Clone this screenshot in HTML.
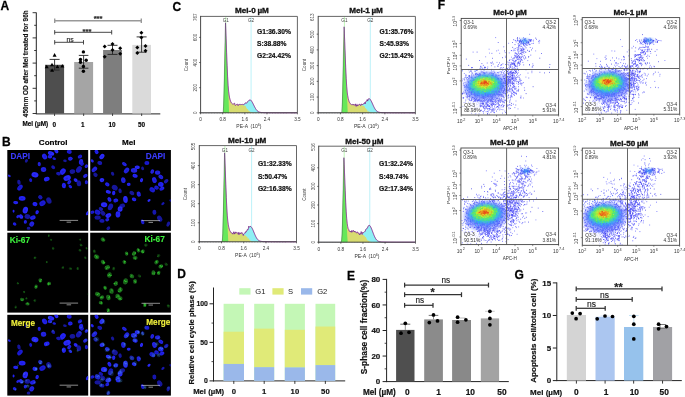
<!DOCTYPE html>
<html><head><meta charset="utf-8"><style>
html,body{margin:0;padding:0;background:#fff;}
body{width:685px;height:397px;overflow:hidden;}
svg{display:block;filter:blur(0.35px);}
svg text{font-family:"Liberation Sans", sans-serif;}
</style></head><body>
<svg width="685" height="397" viewBox="0 0 685 397">
<defs><filter id="bl" x="-50%" y="-50%" width="200%" height="200%"><feGaussianBlur stdDeviation="0.7"/></filter>
<filter id="bf" x="-50%" y="-50%" width="200%" height="200%"><feGaussianBlur stdDeviation="1.6"/></filter>
<filter id="bl3" x="-50%" y="-50%" width="200%" height="200%"><feGaussianBlur stdDeviation="0.35"/></filter>
<filter id="bl2" x="-50%" y="-50%" width="200%" height="200%"><feGaussianBlur stdDeviation="0.8"/></filter>
<clipPath id="c00"><rect x="7.3" y="150" width="80.9" height="80.8"/></clipPath>
<clipPath id="c01"><rect x="90.2" y="150" width="80.7" height="80.8"/></clipPath>
<clipPath id="c10"><rect x="7.3" y="232.7" width="80.9" height="79.9"/></clipPath>
<clipPath id="c11"><rect x="90.2" y="232.7" width="80.7" height="79.9"/></clipPath>
<clipPath id="c20"><rect x="7.3" y="314.8" width="80.9" height="80.8"/></clipPath>
<clipPath id="c21"><rect x="90.2" y="314.8" width="80.7" height="80.8"/></clipPath>
<clipPath id="fc11"><rect x="461.2" y="18.4" width="97.4" height="96.6"/></clipPath>
<clipPath id="fc12"><rect x="582.2" y="17.6" width="97.5" height="96.6"/></clipPath>
<clipPath id="fc13"><rect x="460.9" y="148" width="97.7" height="96.6"/></clipPath>
<clipPath id="fc14"><rect x="582.3" y="148.1" width="97.3" height="97.2"/></clipPath></defs>
<rect x="0" y="0" width="685" height="397" fill="#fff"/>
<text x="0.4" y="10.3" font-size="12" font-weight="bold" fill="#000" stroke="#000" stroke-width="0.26">A</text>
<text x="1.9" y="145.7" font-size="12" font-weight="bold" fill="#000" stroke="#000" stroke-width="0.26">B</text>
<text x="172.4" y="10.5" font-size="12" font-weight="bold" fill="#000" stroke="#000" stroke-width="0.26">C</text>
<text x="177.2" y="278.1" font-size="12" font-weight="bold" fill="#000" stroke="#000" stroke-width="0.26">D</text>
<text x="346.9" y="279.7" font-size="12" font-weight="bold" fill="#000" stroke="#000" stroke-width="0.26">E</text>
<text x="437.8" y="8.9" font-size="12" font-weight="bold" fill="#000" stroke="#000" stroke-width="0.26">F</text>
<text x="514.4" y="279.2" font-size="12" font-weight="bold" fill="#000" stroke="#000" stroke-width="0.26">G</text>
<line x1="36.3" y1="12.5" x2="36.3" y2="114" stroke="#222" stroke-width="1"/>
<line x1="32.6" y1="12.7" x2="36.3" y2="12.7" stroke="#222" stroke-width="0.9"/>
<line x1="32.6" y1="37.9" x2="36.3" y2="37.9" stroke="#222" stroke-width="0.9"/>
<line x1="32.6" y1="63.1" x2="36.3" y2="63.1" stroke="#222" stroke-width="0.9"/>
<line x1="32.6" y1="88.3" x2="36.3" y2="88.3" stroke="#222" stroke-width="0.9"/>
<line x1="32.6" y1="113.5" x2="36.3" y2="113.5" stroke="#222" stroke-width="0.9"/>
<line x1="34.2" y1="25.3" x2="36.3" y2="25.3" stroke="#222" stroke-width="0.9"/>
<line x1="34.2" y1="50.5" x2="36.3" y2="50.5" stroke="#222" stroke-width="0.9"/>
<line x1="34.2" y1="75.7" x2="36.3" y2="75.7" stroke="#222" stroke-width="0.9"/>
<line x1="34.2" y1="100.9" x2="36.3" y2="100.9" stroke="#222" stroke-width="0.9"/>
<line x1="35.8" y1="113.9" x2="160.3" y2="113.9" stroke="#222" stroke-width="1"/>
<rect x="45" y="64.8" width="19.1" height="48.7" fill="#4e4e4e"/>
<line x1="54.55" y1="113.5" x2="54.55" y2="116" stroke="#222" stroke-width="0.8"/>
<rect x="74.2" y="62" width="18.9" height="51.5" fill="#a5a5a5"/>
<line x1="83.65" y1="113.5" x2="83.65" y2="116" stroke="#222" stroke-width="0.8"/>
<rect x="103.1" y="50" width="18.9" height="63.5" fill="#7e7e7e"/>
<line x1="112.55" y1="113.5" x2="112.55" y2="116" stroke="#222" stroke-width="0.8"/>
<rect x="132.3" y="44.9" width="18.7" height="68.6" fill="#dadada"/>
<line x1="141.65" y1="113.5" x2="141.65" y2="116" stroke="#222" stroke-width="0.8"/>
<line x1="54.6" y1="59.4" x2="54.6" y2="70" stroke="#222" stroke-width="0.9"/>
<line x1="49.6" y1="59.4" x2="59.6" y2="59.4" stroke="#222" stroke-width="0.9"/>
<line x1="49.6" y1="70" x2="59.6" y2="70" stroke="#222" stroke-width="0.9"/>
<line x1="83.6" y1="55.4" x2="83.6" y2="68.2" stroke="#222" stroke-width="0.9"/>
<line x1="78.8" y1="55.4" x2="88.4" y2="55.4" stroke="#222" stroke-width="0.9"/>
<line x1="78.8" y1="68.2" x2="88.4" y2="68.2" stroke="#222" stroke-width="0.9"/>
<line x1="112.5" y1="45.3" x2="112.5" y2="54.4" stroke="#222" stroke-width="0.9"/>
<line x1="107.5" y1="45.3" x2="117.5" y2="45.3" stroke="#222" stroke-width="0.9"/>
<line x1="107.5" y1="54.4" x2="117.5" y2="54.4" stroke="#222" stroke-width="0.9"/>
<line x1="141.6" y1="36.9" x2="141.6" y2="52.2" stroke="#222" stroke-width="0.9"/>
<line x1="136.6" y1="36.9" x2="146.6" y2="36.9" stroke="#222" stroke-width="0.9"/>
<line x1="136.6" y1="52.2" x2="146.6" y2="52.2" stroke="#222" stroke-width="0.9"/>
<path d="M54.6 53.1L56.6 56.7L52.6 56.7Z" fill="#000" stroke="none" stroke-width="1"/>
<path d="M52 62.7L54 66.3L50 66.3Z" fill="#000" stroke="none" stroke-width="1"/>
<path d="M46.7 64.7L48.7 68.3L44.7 68.3Z" fill="#000" stroke="none" stroke-width="1"/>
<path d="M57.4 64.7L59.4 68.3L55.4 68.3Z" fill="#000" stroke="none" stroke-width="1"/>
<path d="M62.3 64L64.3 67.6L60.3 67.6Z" fill="#000" stroke="none" stroke-width="1"/>
<path d="M52.1 68.2L54.1 71.8L50.1 71.8Z" fill="#000" stroke="none" stroke-width="1"/>
<circle cx="83.4" cy="51.9" r="1.7" fill="#000"/>
<circle cx="80.5" cy="59.5" r="1.7" fill="#000"/>
<circle cx="86.2" cy="60.2" r="1.7" fill="#000"/>
<circle cx="80.5" cy="62.3" r="1.7" fill="#000"/>
<circle cx="83.4" cy="66.5" r="1.7" fill="#000"/>
<circle cx="83.4" cy="71.2" r="1.7" fill="#000"/>
<path d="M112.5 42.1L114.5 44.1L112.5 46.1L110.5 44.1Z" fill="#000" stroke="none" stroke-width="1"/>
<path d="M104.7 44.6L106.7 46.6L104.7 48.6L102.7 46.6Z" fill="#000" stroke="none" stroke-width="1"/>
<path d="M120.2 46.3L122.2 48.3L120.2 50.3L118.2 48.3Z" fill="#000" stroke="none" stroke-width="1"/>
<path d="M112.5 48L114.5 50L112.5 52L110.5 50Z" fill="#000" stroke="none" stroke-width="1"/>
<path d="M120.2 51.7L122.2 53.7L120.2 55.7L118.2 53.7Z" fill="#000" stroke="none" stroke-width="1"/>
<path d="M104.7 54.7L106.7 56.7L104.7 58.7L102.7 56.7Z" fill="#000" stroke="none" stroke-width="1"/>
<path d="M141.4 30.8L143.4 32.8L141.4 34.8L139.4 32.8Z" fill="#000" stroke="none" stroke-width="1"/>
<path d="M141.4 35.6L143.4 37.6L141.4 39.6L139.4 37.6Z" fill="#000" stroke="none" stroke-width="1"/>
<path d="M137.3 45.6L139.3 47.6L137.3 49.6L135.3 47.6Z" fill="#000" stroke="none" stroke-width="1"/>
<path d="M145.5 43.9L147.5 45.9L145.5 47.9L143.5 45.9Z" fill="#000" stroke="none" stroke-width="1"/>
<path d="M145.5 48.7L147.5 50.7L145.5 52.7L143.5 50.7Z" fill="#000" stroke="none" stroke-width="1"/>
<path d="M137.3 51L139.3 53L137.3 55L135.3 53Z" fill="#000" stroke="none" stroke-width="1"/>
<line x1="54.7" y1="42.3" x2="83.5" y2="42.3" stroke="#333" stroke-width="0.9"/>
<line x1="54.7" y1="40.1" x2="54.7" y2="44.5" stroke="#333" stroke-width="0.9"/>
<line x1="83.5" y1="40.1" x2="83.5" y2="44.5" stroke="#333" stroke-width="0.9"/>
<text x="70.2" y="41.6" font-size="6.8" text-anchor="middle" fill="#222" stroke="#222" stroke-width="0.15">ns</text>
<line x1="54.7" y1="32.3" x2="111.7" y2="32.3" stroke="#333" stroke-width="0.9"/>
<line x1="54.7" y1="30.1" x2="54.7" y2="34.5" stroke="#333" stroke-width="0.9"/>
<line x1="111.7" y1="30.1" x2="111.7" y2="34.5" stroke="#333" stroke-width="0.9"/>
<text x="87" y="33.6" font-size="7.5" font-weight="bold" text-anchor="middle" fill="#222" stroke="#222" stroke-width="0.16">***</text>
<line x1="54.7" y1="20.8" x2="141.3" y2="20.8" stroke="#999" stroke-width="1.4"/>
<line x1="54.7" y1="18.6" x2="54.7" y2="23" stroke="#999" stroke-width="1.4"/>
<line x1="141.3" y1="18.6" x2="141.3" y2="23" stroke="#999" stroke-width="1.4"/>
<text x="98.1" y="20.8" font-size="7.5" font-weight="bold" text-anchor="middle" fill="#222" stroke="#222" stroke-width="0.16">***</text>
<text x="22.4" y="126.4" font-size="6.4" font-weight="bold" fill="#000" stroke="#000" stroke-width="0.14">Mel (µM)</text>
<text x="54.4" y="126.6" font-size="6.4" font-weight="bold" text-anchor="middle" fill="#000" stroke="#000" stroke-width="0.14">0</text>
<text x="82.7" y="126.6" font-size="6.4" font-weight="bold" text-anchor="middle" fill="#000" stroke="#000" stroke-width="0.14">1</text>
<text x="112.1" y="126.6" font-size="6.4" font-weight="bold" text-anchor="middle" fill="#000" stroke="#000" stroke-width="0.14">10</text>
<text x="141.6" y="126.6" font-size="6.4" font-weight="bold" text-anchor="middle" fill="#000" stroke="#000" stroke-width="0.14">50</text>
<text x="27.6" y="63.75" font-size="6.46" font-weight="bold" text-anchor="middle" fill="#111" transform="rotate(-90 27.6 63.75)" stroke="#111" stroke-width="0.14">450nm OD after Mel treated for 96h</text>
<text x="38.8" y="144.7" font-size="8.1" font-weight="bold" fill="#000" stroke="#000" stroke-width="0.18">Control</text>
<text x="121.9" y="144.8" font-size="8.1" font-weight="bold" fill="#000" stroke="#000" stroke-width="0.18">Mel</text>
<rect x="7.3" y="150" width="80.9" height="80.8" fill="#000"/>
<rect x="90.2" y="150" width="80.7" height="80.8" fill="#000"/>
<rect x="7.3" y="232.7" width="80.9" height="79.9" fill="#000"/>
<rect x="90.2" y="232.7" width="80.7" height="79.9" fill="#000"/>
<rect x="7.3" y="314.8" width="80.9" height="80.8" fill="#000"/>
<rect x="90.2" y="314.8" width="80.7" height="80.8" fill="#000"/>
<g clip-path="url(#c00)" filter="url(#bl)"><ellipse cx="44.61" cy="156.57" rx="3.03" ry="2.35" fill="#2020e8" transform="rotate(56 44.61 156.57)"/><ellipse cx="44.86" cy="156.09" rx="1.06" ry="0.7" fill="#10109a" opacity="0.3" transform="rotate(56 44.61 156.57)"/><ellipse cx="51.04" cy="153.35" rx="3.27" ry="2.06" fill="#2a2afa" transform="rotate(21 51.04 153.35)"/><ellipse cx="50.6" cy="153.22" rx="1.15" ry="0.62" fill="#10109a" opacity="0.3" transform="rotate(21 51.04 153.35)"/><ellipse cx="56.39" cy="151.21" rx="2.37" ry="1.8" fill="#2a2afa" transform="rotate(51 56.39 151.21)"/><ellipse cx="56.28" cy="151.53" rx="0.83" ry="0.54" fill="#10109a" opacity="0.3" transform="rotate(51 56.39 151.21)"/><ellipse cx="69.24" cy="151.85" rx="2.54" ry="2.03" fill="#1a1ad0" transform="rotate(10 69.24 151.85)"/><ellipse cx="69.25" cy="151.53" rx="0.89" ry="0.61" fill="#10109a" opacity="0.3" transform="rotate(10 69.24 151.85)"/><ellipse cx="70.31" cy="158.71" rx="2.34" ry="2.04" fill="#2020e8" transform="rotate(171 70.31 158.71)"/><ellipse cx="70.07" cy="158.86" rx="0.82" ry="0.61" fill="#10109a" opacity="0.3" transform="rotate(171 70.31 158.71)"/><ellipse cx="79.95" cy="156.57" rx="2.35" ry="1.78" fill="#1a1ad0" transform="rotate(152 79.95 156.57)"/><ellipse cx="79.91" cy="156.69" rx="0.82" ry="0.54" fill="#10109a" opacity="0.3" transform="rotate(152 79.95 156.57)"/><ellipse cx="81.02" cy="161.92" rx="2.95" ry="2.18" fill="#2020e8" transform="rotate(94 81.02 161.92)"/><ellipse cx="81.37" cy="162.18" rx="1.03" ry="0.65" fill="#10109a" opacity="0.3" transform="rotate(94 81.02 161.92)"/><ellipse cx="86.37" cy="166.2" rx="1.91" ry="1.57" fill="#2222e0" transform="rotate(131 86.37 166.2)"/><ellipse cx="86.63" cy="165.98" rx="0.67" ry="0.47" fill="#10109a" opacity="0.3" transform="rotate(131 86.37 166.2)"/><ellipse cx="78.88" cy="169.41" rx="3.53" ry="2.51" fill="#1818b0" transform="rotate(127 78.88 169.41)"/><ellipse cx="78.57" cy="169.56" rx="1.24" ry="0.75" fill="#10109a" opacity="0.3" transform="rotate(127 78.88 169.41)"/><ellipse cx="72.45" cy="171.55" rx="2.84" ry="2.3" fill="#16169a" transform="rotate(166 72.45 171.55)"/><ellipse cx="72.57" cy="171.16" rx="0.99" ry="0.69" fill="#10109a" opacity="0.3" transform="rotate(166 72.45 171.55)"/><ellipse cx="62.82" cy="171.55" rx="3.41" ry="2.64" fill="#2424f4" transform="rotate(125 62.82 171.55)"/><ellipse cx="62.97" cy="171.49" rx="1.19" ry="0.79" fill="#10109a" opacity="0.3" transform="rotate(125 62.82 171.55)"/><ellipse cx="67.1" cy="177.98" rx="3.82" ry="2.74" fill="#2a2afa" transform="rotate(160 67.1 177.98)"/><ellipse cx="67.46" cy="177.55" rx="1.34" ry="0.82" fill="#10109a" opacity="0.3" transform="rotate(160 67.1 177.98)"/><ellipse cx="69.24" cy="182.26" rx="2.38" ry="1.66" fill="#2222e0" transform="rotate(130 69.24 182.26)"/><ellipse cx="69.04" cy="182.15" rx="0.83" ry="0.5" fill="#10109a" opacity="0.3" transform="rotate(130 69.24 182.26)"/><ellipse cx="78.88" cy="183.33" rx="2.97" ry="2.28" fill="#16169a" transform="rotate(83 78.88 183.33)"/><ellipse cx="78.38" cy="183.01" rx="1.04" ry="0.69" fill="#10109a" opacity="0.3" transform="rotate(83 78.88 183.33)"/><ellipse cx="63.89" cy="185.47" rx="2.67" ry="2.11" fill="#2424f4" transform="rotate(89 63.89 185.47)"/><ellipse cx="63.68" cy="185.54" rx="0.94" ry="0.63" fill="#10109a" opacity="0.3" transform="rotate(89 63.89 185.47)"/><ellipse cx="70.31" cy="186.54" rx="2.01" ry="1.38" fill="#2020e8" transform="rotate(38 70.31 186.54)"/><ellipse cx="70.41" cy="186.43" rx="0.7" ry="0.41" fill="#10109a" opacity="0.3" transform="rotate(38 70.31 186.54)"/><ellipse cx="85.3" cy="175.84" rx="2.43" ry="1.7" fill="#2222e0" transform="rotate(147 85.3 175.84)"/><ellipse cx="85.13" cy="175.89" rx="0.85" ry="0.51" fill="#10109a" opacity="0.3" transform="rotate(147 85.3 175.84)"/><ellipse cx="43.54" cy="169.41" rx="2.75" ry="2.48" fill="#2222e0" transform="rotate(175 43.54 169.41)"/><ellipse cx="43.22" cy="169.2" rx="0.96" ry="0.74" fill="#10109a" opacity="0.3" transform="rotate(175 43.54 169.41)"/><ellipse cx="34.98" cy="174.77" rx="3.56" ry="2.64" fill="#2a2afa" transform="rotate(17 34.98 174.77)"/><ellipse cx="34.64" cy="174.97" rx="1.25" ry="0.79" fill="#10109a" opacity="0.3" transform="rotate(17 34.98 174.77)"/><ellipse cx="46.76" cy="179.05" rx="2.92" ry="2.16" fill="#2424f4" transform="rotate(158 46.76 179.05)"/><ellipse cx="46.3" cy="178.66" rx="1.02" ry="0.65" fill="#10109a" opacity="0.3" transform="rotate(158 46.76 179.05)"/><ellipse cx="53.18" cy="167.27" rx="2.15" ry="1.65" fill="#1818b0" transform="rotate(39 53.18 167.27)"/><ellipse cx="53.53" cy="167.13" rx="0.75" ry="0.5" fill="#10109a" opacity="0.3" transform="rotate(39 53.18 167.27)"/><ellipse cx="39.26" cy="164.06" rx="2.12" ry="1.56" fill="#2222e0" transform="rotate(86 39.26 164.06)"/><ellipse cx="39.75" cy="164.28" rx="0.74" ry="0.47" fill="#10109a" opacity="0.3" transform="rotate(86 39.26 164.06)"/><ellipse cx="18.92" cy="182.26" rx="2.52" ry="1.7" fill="#16169a" transform="rotate(76 18.92 182.26)"/><ellipse cx="18.98" cy="182.2" rx="0.88" ry="0.51" fill="#10109a" opacity="0.3" transform="rotate(76 18.92 182.26)"/><ellipse cx="19.99" cy="187.61" rx="3.3" ry="2.22" fill="#1a1ad0" transform="rotate(131 19.99 187.61)"/><ellipse cx="19.99" cy="188.06" rx="1.15" ry="0.67" fill="#10109a" opacity="0.3" transform="rotate(131 19.99 187.61)"/><ellipse cx="22.13" cy="198.32" rx="3.44" ry="2.38" fill="#2424f4" transform="rotate(3 22.13 198.32)"/><ellipse cx="21.69" cy="198.38" rx="1.2" ry="0.71" fill="#10109a" opacity="0.3" transform="rotate(3 22.13 198.32)"/><ellipse cx="15.71" cy="202.6" rx="2.52" ry="1.65" fill="#2424f4" transform="rotate(6 15.71 202.6)"/><ellipse cx="15.31" cy="202.23" rx="0.88" ry="0.5" fill="#10109a" opacity="0.3" transform="rotate(6 15.71 202.6)"/><ellipse cx="40.33" cy="197.25" rx="2.39" ry="1.99" fill="#1818b0" transform="rotate(42 40.33 197.25)"/><ellipse cx="40.37" cy="197.6" rx="0.84" ry="0.6" fill="#10109a" opacity="0.3" transform="rotate(42 40.33 197.25)"/><ellipse cx="42.47" cy="203.25" rx="3.3" ry="2.52" fill="#1a1ad0" transform="rotate(149 42.47 203.25)"/><ellipse cx="42.7" cy="203.27" rx="1.15" ry="0.75" fill="#10109a" opacity="0.3" transform="rotate(149 42.47 203.25)"/><ellipse cx="48.9" cy="200.46" rx="3.37" ry="2.46" fill="#16169a" transform="rotate(66 48.9 200.46)"/><ellipse cx="48.71" cy="200.23" rx="1.18" ry="0.74" fill="#10109a" opacity="0.3" transform="rotate(66 48.9 200.46)"/><ellipse cx="34.98" cy="204.1" rx="2.53" ry="2.07" fill="#2424f4" transform="rotate(16 34.98 204.1)"/><ellipse cx="35.17" cy="204" rx="0.89" ry="0.62" fill="#10109a" opacity="0.3" transform="rotate(16 34.98 204.1)"/><ellipse cx="25.34" cy="210.1" rx="3.4" ry="2.63" fill="#2a2afa" transform="rotate(104 25.34 210.1)"/><ellipse cx="25.78" cy="210.25" rx="1.19" ry="0.79" fill="#10109a" opacity="0.3" transform="rotate(104 25.34 210.1)"/><ellipse cx="27.48" cy="216.52" rx="2.99" ry="2.4" fill="#16169a" transform="rotate(8 27.48 216.52)"/><ellipse cx="27.79" cy="216.69" rx="1.05" ry="0.72" fill="#10109a" opacity="0.3" transform="rotate(8 27.48 216.52)"/><ellipse cx="21.06" cy="216.52" rx="2.38" ry="1.9" fill="#2a2afa" transform="rotate(43 21.06 216.52)"/><ellipse cx="20.97" cy="216.34" rx="0.83" ry="0.57" fill="#10109a" opacity="0.3" transform="rotate(43 21.06 216.52)"/><ellipse cx="32.84" cy="217.59" rx="2.91" ry="2.06" fill="#2020e8" transform="rotate(156 32.84 217.59)"/><ellipse cx="32.68" cy="217.9" rx="1.02" ry="0.62" fill="#10109a" opacity="0.3" transform="rotate(156 32.84 217.59)"/><ellipse cx="31.77" cy="224.02" rx="2.76" ry="2.24" fill="#2222e0" transform="rotate(123 31.77 224.02)"/><ellipse cx="32.2" cy="223.78" rx="0.97" ry="0.67" fill="#10109a" opacity="0.3" transform="rotate(123 31.77 224.02)"/><ellipse cx="14.64" cy="224.02" rx="1.89" ry="1.57" fill="#2020e8" transform="rotate(35 14.64 224.02)"/><ellipse cx="15.01" cy="223.6" rx="0.66" ry="0.47" fill="#10109a" opacity="0.3" transform="rotate(35 14.64 224.02)"/><ellipse cx="25.34" cy="221.88" rx="1.92" ry="1.6" fill="#2020e8" transform="rotate(94 25.34 221.88)"/><ellipse cx="25.78" cy="221.5" rx="0.67" ry="0.48" fill="#10109a" opacity="0.3" transform="rotate(94 25.34 221.88)"/><ellipse cx="87.44" cy="213.31" rx="2.15" ry="1.32" fill="#2424f4" transform="rotate(120 87.44 213.31)"/><ellipse cx="87.56" cy="213.17" rx="0.75" ry="0.4" fill="#10109a" opacity="0.3" transform="rotate(120 87.44 213.31)"/><ellipse cx="13.57" cy="211.17" rx="1.48" ry="1" fill="#2424f4" transform="rotate(93 13.57 211.17)"/><ellipse cx="82.09" cy="164.06" rx="1.98" ry="1.56" fill="#1a1ad0" transform="rotate(143 82.09 164.06)"/><ellipse cx="82.12" cy="163.64" rx="0.69" ry="0.47" fill="#10109a" opacity="0.3" transform="rotate(143 82.09 164.06)"/><ellipse cx="49.97" cy="156.57" rx="2.19" ry="1.89" fill="#2020e8" transform="rotate(3 49.97 156.57)"/><ellipse cx="49.75" cy="156.19" rx="0.77" ry="0.57" fill="#10109a" opacity="0.3" transform="rotate(3 49.97 156.57)"/><ellipse cx="54.25" cy="158.71" rx="1.83" ry="1.24" fill="#1a1ad0" transform="rotate(17 54.25 158.71)"/><ellipse cx="75.66" cy="180.12" rx="2.13" ry="1.67" fill="#2a2afa" transform="rotate(36 75.66 180.12)"/><ellipse cx="75.28" cy="180.54" rx="0.75" ry="0.5" fill="#10109a" opacity="0.3" transform="rotate(36 75.66 180.12)"/><ellipse cx="58.53" cy="173.7" rx="2.45" ry="1.71" fill="#1818b0" transform="rotate(9 58.53 173.7)"/><ellipse cx="58.79" cy="173.74" rx="0.86" ry="0.51" fill="#10109a" opacity="0.3" transform="rotate(9 58.53 173.7)"/><ellipse cx="30.7" cy="180.12" rx="1.97" ry="1.46" fill="#1a1ad0" transform="rotate(77 30.7 180.12)"/><ellipse cx="30.66" cy="179.9" rx="0.69" ry="0.44" fill="#10109a" opacity="0.3" transform="rotate(77 30.7 180.12)"/><ellipse cx="26.41" cy="160.85" rx="1.79" ry="1.45" fill="#16169a" transform="rotate(121 26.41 160.85)"/><ellipse cx="9.28" cy="175.84" rx="1.61" ry="1.08" fill="#2222e0" transform="rotate(32 9.28 175.84)"/><ellipse cx="37.12" cy="212.24" rx="2.12" ry="1.65" fill="#2424f4" transform="rotate(112 37.12 212.24)"/><ellipse cx="36.93" cy="211.99" rx="0.74" ry="0.49" fill="#10109a" opacity="0.3" transform="rotate(112 37.12 212.24)"/><ellipse cx="17.85" cy="216.52" rx="1.82" ry="1.29" fill="#2222e0" transform="rotate(135 17.85 216.52)"/><ellipse cx="28.55" cy="228.3" rx="1.85" ry="1.49" fill="#16169a" transform="rotate(176 28.55 228.3)"/><ellipse cx="28.44" cy="228.56" rx="0.65" ry="0.45" fill="#10109a" opacity="0.3" transform="rotate(176 28.55 228.3)"/><ellipse cx="86.37" cy="182.26" rx="2.08" ry="1.57" fill="#1a1ad0" transform="rotate(85 86.37 182.26)"/><ellipse cx="86.63" cy="182.1" rx="0.73" ry="0.47" fill="#10109a" opacity="0.3" transform="rotate(85 86.37 182.26)"/><ellipse cx="64.96" cy="160.85" rx="1.85" ry="1.26" fill="#16169a" transform="rotate(8 64.96 160.85)"/></g>
<g clip-path="url(#c01)" filter="url(#bl)"><ellipse cx="96.57" cy="151.85" rx="2.39" ry="1.83" fill="#2020e8" transform="rotate(54 96.57 151.85)"/><ellipse cx="96.3" cy="152.12" rx="0.83" ry="0.55" fill="#10109a" opacity="0.3" transform="rotate(54 96.57 151.85)"/><ellipse cx="101.92" cy="156.57" rx="2.91" ry="2.19" fill="#2a2afa" transform="rotate(131 101.92 156.57)"/><ellipse cx="101.91" cy="156.53" rx="1.02" ry="0.66" fill="#10109a" opacity="0.3" transform="rotate(131 101.92 156.57)"/><ellipse cx="99.78" cy="162.99" rx="2.49" ry="1.98" fill="#1818b0" transform="rotate(16 99.78 162.99)"/><ellipse cx="99.95" cy="163.23" rx="0.87" ry="0.59" fill="#10109a" opacity="0.3" transform="rotate(16 99.78 162.99)"/><ellipse cx="94.42" cy="169.41" rx="3.22" ry="2.06" fill="#2222e0" transform="rotate(135 94.42 169.41)"/><ellipse cx="94.58" cy="168.98" rx="1.13" ry="0.62" fill="#10109a" opacity="0.3" transform="rotate(135 94.42 169.41)"/><ellipse cx="95.49" cy="174.77" rx="2.29" ry="1.93" fill="#16169a" transform="rotate(33 95.49 174.77)"/><ellipse cx="95.04" cy="174.97" rx="0.8" ry="0.58" fill="#10109a" opacity="0.3" transform="rotate(33 95.49 174.77)"/><ellipse cx="124.4" cy="164.06" rx="2.62" ry="1.7" fill="#2222e0" transform="rotate(34 124.4 164.06)"/><ellipse cx="123.95" cy="164.04" rx="0.92" ry="0.51" fill="#10109a" opacity="0.3" transform="rotate(34 124.4 164.06)"/><ellipse cx="126.54" cy="170.48" rx="3.21" ry="2.19" fill="#2222e0" transform="rotate(132 126.54 170.48)"/><ellipse cx="126.64" cy="170.19" rx="1.13" ry="0.66" fill="#10109a" opacity="0.3" transform="rotate(132 126.54 170.48)"/><ellipse cx="134.04" cy="170.48" rx="3.19" ry="2.37" fill="#2222e0" transform="rotate(2 134.04 170.48)"/><ellipse cx="133.54" cy="170.89" rx="1.12" ry="0.71" fill="#10109a" opacity="0.3" transform="rotate(2 134.04 170.48)"/><ellipse cx="137.25" cy="167.27" rx="2.6" ry="1.84" fill="#2a2afa" transform="rotate(4 137.25 167.27)"/><ellipse cx="137.02" cy="167.06" rx="0.91" ry="0.55" fill="#10109a" opacity="0.3" transform="rotate(4 137.25 167.27)"/><ellipse cx="142.6" cy="168.34" rx="1.84" ry="1.42" fill="#16169a" transform="rotate(64 142.6 168.34)"/><ellipse cx="142.61" cy="167.87" rx="0.64" ry="0.43" fill="#10109a" opacity="0.3" transform="rotate(64 142.6 168.34)"/><ellipse cx="146.89" cy="162.99" rx="2.52" ry="2.04" fill="#1a1ad0" transform="rotate(2 146.89 162.99)"/><ellipse cx="146.58" cy="162.64" rx="0.88" ry="0.61" fill="#10109a" opacity="0.3" transform="rotate(2 146.89 162.99)"/><ellipse cx="135.11" cy="175.84" rx="2.67" ry="1.9" fill="#2424f4" transform="rotate(15 135.11 175.84)"/><ellipse cx="134.72" cy="175.86" rx="0.94" ry="0.57" fill="#10109a" opacity="0.3" transform="rotate(15 135.11 175.84)"/><ellipse cx="123.33" cy="180.12" rx="2.96" ry="2.28" fill="#2222e0" transform="rotate(82 123.33 180.12)"/><ellipse cx="123.71" cy="180.38" rx="1.04" ry="0.69" fill="#10109a" opacity="0.3" transform="rotate(82 123.33 180.12)"/><ellipse cx="101.92" cy="180.12" rx="2.39" ry="2.04" fill="#2a2afa" transform="rotate(174 101.92 180.12)"/><ellipse cx="101.64" cy="179.77" rx="0.83" ry="0.61" fill="#10109a" opacity="0.3" transform="rotate(174 101.92 180.12)"/><ellipse cx="107.27" cy="184.4" rx="2.32" ry="1.92" fill="#2020e8" transform="rotate(28 107.27 184.4)"/><ellipse cx="107.36" cy="184.72" rx="0.81" ry="0.57" fill="#10109a" opacity="0.3" transform="rotate(28 107.27 184.4)"/><ellipse cx="114.77" cy="187.61" rx="3.12" ry="2.65" fill="#16169a" transform="rotate(35 114.77 187.61)"/><ellipse cx="114.36" cy="187.68" rx="1.09" ry="0.8" fill="#10109a" opacity="0.3" transform="rotate(35 114.77 187.61)"/><ellipse cx="120.12" cy="190.83" rx="2.32" ry="1.66" fill="#16169a" transform="rotate(75 120.12 190.83)"/><ellipse cx="120.45" cy="190.81" rx="0.81" ry="0.5" fill="#10109a" opacity="0.3" transform="rotate(75 120.12 190.83)"/><ellipse cx="108.34" cy="191.9" rx="2.63" ry="1.78" fill="#2a2afa" transform="rotate(15 108.34 191.9)"/><ellipse cx="108.6" cy="191.98" rx="0.92" ry="0.54" fill="#10109a" opacity="0.3" transform="rotate(15 108.34 191.9)"/><ellipse cx="131.9" cy="192.97" rx="2.62" ry="1.94" fill="#16169a" transform="rotate(29 131.9 192.97)"/><ellipse cx="131.86" cy="193.05" rx="0.92" ry="0.58" fill="#10109a" opacity="0.3" transform="rotate(29 131.9 192.97)"/><ellipse cx="138.75" cy="194.04" rx="2.63" ry="2.04" fill="#2222e0" transform="rotate(73 138.75 194.04)"/><ellipse cx="139.09" cy="193.8" rx="0.92" ry="0.61" fill="#10109a" opacity="0.3" transform="rotate(73 138.75 194.04)"/><ellipse cx="125.47" cy="199.39" rx="3.5" ry="2.31" fill="#2a2afa" transform="rotate(85 125.47 199.39)"/><ellipse cx="125.34" cy="199.7" rx="1.23" ry="0.69" fill="#10109a" opacity="0.3" transform="rotate(85 125.47 199.39)"/><ellipse cx="134.04" cy="199.39" rx="2.33" ry="1.78" fill="#2424f4" transform="rotate(24 134.04 199.39)"/><ellipse cx="134.14" cy="199.3" rx="0.81" ry="0.53" fill="#10109a" opacity="0.3" transform="rotate(24 134.04 199.39)"/><ellipse cx="115.84" cy="200.46" rx="2.49" ry="1.95" fill="#2020e8" transform="rotate(168 115.84 200.46)"/><ellipse cx="116.1" cy="200.12" rx="0.87" ry="0.58" fill="#10109a" opacity="0.3" transform="rotate(168 115.84 200.46)"/><ellipse cx="109.41" cy="199.39" rx="2.55" ry="1.81" fill="#2424f4" transform="rotate(62 109.41 199.39)"/><ellipse cx="109.68" cy="199.31" rx="0.89" ry="0.54" fill="#10109a" opacity="0.3" transform="rotate(62 109.41 199.39)"/><ellipse cx="104.06" cy="204.75" rx="3.2" ry="2.45" fill="#2a2afa" transform="rotate(7 104.06 204.75)"/><ellipse cx="104.42" cy="205.04" rx="1.12" ry="0.74" fill="#10109a" opacity="0.3" transform="rotate(7 104.06 204.75)"/><ellipse cx="110.48" cy="206.89" rx="3.53" ry="2.4" fill="#1818b0" transform="rotate(114 110.48 206.89)"/><ellipse cx="110.02" cy="206.92" rx="1.24" ry="0.72" fill="#10109a" opacity="0.3" transform="rotate(114 110.48 206.89)"/><ellipse cx="122.26" cy="205.82" rx="2.81" ry="2.13" fill="#16169a" transform="rotate(164 122.26 205.82)"/><ellipse cx="122.24" cy="205.56" rx="0.98" ry="0.64" fill="#10109a" opacity="0.3" transform="rotate(164 122.26 205.82)"/><ellipse cx="120.12" cy="209.03" rx="2.76" ry="2.46" fill="#2a2afa" transform="rotate(91 120.12 209.03)"/><ellipse cx="119.96" cy="208.78" rx="0.97" ry="0.74" fill="#10109a" opacity="0.3" transform="rotate(91 120.12 209.03)"/><ellipse cx="97.64" cy="212.24" rx="3.04" ry="2.46" fill="#1a1ad0" transform="rotate(23 97.64 212.24)"/><ellipse cx="97.18" cy="212.53" rx="1.06" ry="0.74" fill="#10109a" opacity="0.3" transform="rotate(23 97.64 212.24)"/><ellipse cx="92.28" cy="212.24" rx="2.04" ry="1.58" fill="#1a1ad0" transform="rotate(164 92.28 212.24)"/><ellipse cx="92.28" cy="211.87" rx="0.71" ry="0.47" fill="#10109a" opacity="0.3" transform="rotate(164 92.28 212.24)"/><ellipse cx="102.99" cy="213.31" rx="2.67" ry="2.08" fill="#16169a" transform="rotate(41 102.99 213.31)"/><ellipse cx="102.74" cy="213.2" rx="0.93" ry="0.62" fill="#10109a" opacity="0.3" transform="rotate(41 102.99 213.31)"/><ellipse cx="108.34" cy="215.45" rx="3.04" ry="2.16" fill="#2a2afa" transform="rotate(154 108.34 215.45)"/><ellipse cx="108.04" cy="215.05" rx="1.06" ry="0.65" fill="#10109a" opacity="0.3" transform="rotate(154 108.34 215.45)"/><ellipse cx="117.98" cy="214.38" rx="3.14" ry="2.4" fill="#2424f4" transform="rotate(89 117.98 214.38)"/><ellipse cx="118.07" cy="214.87" rx="1.1" ry="0.72" fill="#10109a" opacity="0.3" transform="rotate(89 117.98 214.38)"/><ellipse cx="97.64" cy="217.59" rx="3.15" ry="2.17" fill="#16169a" transform="rotate(173 97.64 217.59)"/><ellipse cx="97.72" cy="217.97" rx="1.1" ry="0.65" fill="#10109a" opacity="0.3" transform="rotate(173 97.64 217.59)"/><ellipse cx="101.92" cy="220.81" rx="2.63" ry="1.93" fill="#1818b0" transform="rotate(2 101.92 220.81)"/><ellipse cx="101.9" cy="221.29" rx="0.92" ry="0.58" fill="#10109a" opacity="0.3" transform="rotate(2 101.92 220.81)"/><ellipse cx="107.27" cy="219.73" rx="2.01" ry="1.66" fill="#2222e0" transform="rotate(162 107.27 219.73)"/><ellipse cx="107.61" cy="219.88" rx="0.7" ry="0.5" fill="#10109a" opacity="0.3" transform="rotate(162 107.27 219.73)"/><ellipse cx="108.34" cy="228.3" rx="2.1" ry="1.65" fill="#16169a" transform="rotate(142 108.34 228.3)"/><ellipse cx="108.09" cy="228.59" rx="0.73" ry="0.5" fill="#10109a" opacity="0.3" transform="rotate(142 108.34 228.3)"/><ellipse cx="152.24" cy="171.55" rx="2.35" ry="1.74" fill="#2222e0" transform="rotate(119 152.24 171.55)"/><ellipse cx="152.15" cy="171.43" rx="0.82" ry="0.52" fill="#10109a" opacity="0.3" transform="rotate(119 152.24 171.55)"/><ellipse cx="157.59" cy="172.63" rx="2.7" ry="2.04" fill="#2222e0" transform="rotate(171 157.59 172.63)"/><ellipse cx="157.49" cy="173.07" rx="0.94" ry="0.61" fill="#10109a" opacity="0.3" transform="rotate(171 157.59 172.63)"/><ellipse cx="154.38" cy="180.12" rx="3.02" ry="2.24" fill="#2222e0" transform="rotate(70 154.38 180.12)"/><ellipse cx="154.88" cy="179.92" rx="1.06" ry="0.67" fill="#10109a" opacity="0.3" transform="rotate(70 154.38 180.12)"/><ellipse cx="160.81" cy="176.91" rx="2.67" ry="1.93" fill="#2222e0" transform="rotate(34 160.81 176.91)"/><ellipse cx="161.26" cy="176.66" rx="0.94" ry="0.58" fill="#10109a" opacity="0.3" transform="rotate(34 160.81 176.91)"/><ellipse cx="166.16" cy="181.19" rx="2.55" ry="1.71" fill="#1818b0" transform="rotate(141 166.16 181.19)"/><ellipse cx="166.63" cy="181.68" rx="0.89" ry="0.51" fill="#10109a" opacity="0.3" transform="rotate(141 166.16 181.19)"/><ellipse cx="160.81" cy="184.4" rx="2.81" ry="2.46" fill="#2424f4" transform="rotate(12 160.81 184.4)"/><ellipse cx="160.49" cy="183.97" rx="0.98" ry="0.74" fill="#10109a" opacity="0.3" transform="rotate(12 160.81 184.4)"/><ellipse cx="156.52" cy="187.61" rx="2.4" ry="2.03" fill="#1a1ad0" transform="rotate(16 156.52 187.61)"/><ellipse cx="156.85" cy="187.98" rx="0.84" ry="0.61" fill="#10109a" opacity="0.3" transform="rotate(16 156.52 187.61)"/><ellipse cx="152.24" cy="189.76" rx="2.99" ry="2.26" fill="#1a1ad0" transform="rotate(33 152.24 189.76)"/><ellipse cx="151.96" cy="190.25" rx="1.05" ry="0.68" fill="#10109a" opacity="0.3" transform="rotate(33 152.24 189.76)"/><ellipse cx="161.88" cy="188.69" rx="2.62" ry="1.82" fill="#2020e8" transform="rotate(156 161.88 188.69)"/><ellipse cx="162.34" cy="188.68" rx="0.92" ry="0.55" fill="#10109a" opacity="0.3" transform="rotate(156 161.88 188.69)"/><ellipse cx="154.38" cy="212.24" rx="2.56" ry="1.96" fill="#1818b0" transform="rotate(85 154.38 212.24)"/><ellipse cx="154.62" cy="211.77" rx="0.9" ry="0.59" fill="#10109a" opacity="0.3" transform="rotate(85 154.38 212.24)"/><ellipse cx="159.73" cy="218.66" rx="3.28" ry="2.34" fill="#16169a" transform="rotate(60 159.73 218.66)"/><ellipse cx="160.23" cy="218.79" rx="1.15" ry="0.7" fill="#10109a" opacity="0.3" transform="rotate(60 159.73 218.66)"/><ellipse cx="142.6" cy="221.88" rx="2.49" ry="1.65" fill="#1a1ad0" transform="rotate(69 142.6 221.88)"/><ellipse cx="142.91" cy="221.61" rx="0.87" ry="0.5" fill="#10109a" opacity="0.3" transform="rotate(69 142.6 221.88)"/><ellipse cx="168.3" cy="224.02" rx="2.68" ry="1.66" fill="#16169a" transform="rotate(111 168.3 224.02)"/><ellipse cx="168.64" cy="224.09" rx="0.94" ry="0.5" fill="#10109a" opacity="0.3" transform="rotate(111 168.3 224.02)"/><ellipse cx="170.44" cy="200.46" rx="1.29" ry="1.02" fill="#16169a" transform="rotate(54 170.44 200.46)"/><ellipse cx="113.7" cy="192.97" rx="2.19" ry="1.66" fill="#2424f4" transform="rotate(91 113.7 192.97)"/><ellipse cx="114" cy="192.9" rx="0.77" ry="0.5" fill="#10109a" opacity="0.3" transform="rotate(91 113.7 192.97)"/><ellipse cx="100.85" cy="209.03" rx="2.37" ry="1.74" fill="#1818b0" transform="rotate(34 100.85 209.03)"/><ellipse cx="101.2" cy="208.64" rx="0.83" ry="0.52" fill="#10109a" opacity="0.3" transform="rotate(34 100.85 209.03)"/><ellipse cx="128.69" cy="184.4" rx="1.93" ry="1.55" fill="#2424f4" transform="rotate(176 128.69 184.4)"/><ellipse cx="129.04" cy="184.52" rx="0.68" ry="0.46" fill="#10109a" opacity="0.3" transform="rotate(176 128.69 184.4)"/><ellipse cx="141.53" cy="180.12" rx="2.14" ry="1.47" fill="#2a2afa" transform="rotate(112 141.53 180.12)"/><ellipse cx="141.42" cy="180.1" rx="0.75" ry="0.44" fill="#10109a" opacity="0.3" transform="rotate(112 141.53 180.12)"/><ellipse cx="92.28" cy="160.85" rx="1.8" ry="1.27" fill="#2424f4" transform="rotate(52 92.28 160.85)"/><ellipse cx="112.63" cy="173.7" rx="2.03" ry="1.55" fill="#16169a" transform="rotate(60 112.63 173.7)"/><ellipse cx="112.68" cy="173.92" rx="0.71" ry="0.47" fill="#10109a" opacity="0.3" transform="rotate(60 112.63 173.7)"/><ellipse cx="149.03" cy="200.46" rx="1.75" ry="1.21" fill="#2a2afa" transform="rotate(139 149.03 200.46)"/><ellipse cx="162.95" cy="203.67" rx="1.88" ry="1.19" fill="#1818b0" transform="rotate(138 162.95 203.67)"/></g>
<g clip-path="url(#c10)" filter="url(#bl3)" opacity="0.8"><g opacity="0.5"><ellipse cx="48.9" cy="235.35" rx="1.24" ry="0.97" fill="#2a9a2a" opacity="0.75" transform="rotate(100 48.9 235.35)"/><circle cx="48.63" cy="235.39" r="0.51" fill="#36e636"/><circle cx="48.66" cy="235.92" r="0.65" fill="#36e636"/><circle cx="48.79" cy="235.92" r="0.58" fill="#36e636"/></g><g opacity="0.5"><ellipse cx="51.04" cy="239.64" rx="1.24" ry="0.97" fill="#2a9a2a" opacity="0.75" transform="rotate(11 51.04 239.64)"/><circle cx="50.97" cy="239.76" r="0.48" fill="#36e636"/><circle cx="51.12" cy="240.04" r="0.54" fill="#36e636"/><circle cx="51.46" cy="239.88" r="0.41" fill="#36e636"/></g><g opacity="0.5"><ellipse cx="53.18" cy="248.2" rx="1.55" ry="1.21" fill="#2a9a2a" opacity="0.75" transform="rotate(55 53.18 248.2)"/><circle cx="52.67" cy="248.54" r="0.48" fill="#36e636"/><circle cx="53.22" cy="248.22" r="0.52" fill="#36e636"/><circle cx="53.44" cy="248.88" r="0.46" fill="#36e636"/><circle cx="52.65" cy="249.06" r="0.46" fill="#36e636"/></g><g opacity="0.5"><ellipse cx="79.95" cy="239.64" rx="1.24" ry="0.97" fill="#2a9a2a" opacity="0.75" transform="rotate(1 79.95 239.64)"/><circle cx="80.12" cy="239.23" r="0.37" fill="#36e636"/><circle cx="80.23" cy="239.33" r="0.5" fill="#36e636"/><circle cx="80.56" cy="240.22" r="0.36" fill="#36e636"/></g><g opacity="0.5"><ellipse cx="81.02" cy="244.99" rx="1.55" ry="1.21" fill="#2a9a2a" opacity="0.75" transform="rotate(39 81.02 244.99)"/><circle cx="81.02" cy="244.74" r="0.55" fill="#36e636"/><circle cx="80.49" cy="245.11" r="0.4" fill="#36e636"/><circle cx="80.76" cy="245.62" r="0.56" fill="#36e636"/><circle cx="81.76" cy="245.3" r="0.58" fill="#36e636"/></g><g opacity="0.5"><ellipse cx="86.37" cy="248.2" rx="1.24" ry="0.97" fill="#2a9a2a" opacity="0.75" transform="rotate(85 86.37 248.2)"/><circle cx="86.77" cy="248.67" r="0.56" fill="#36e636"/><circle cx="86.6" cy="248.29" r="0.52" fill="#36e636"/><circle cx="86.49" cy="247.76" r="0.45" fill="#36e636"/></g><g opacity="0.5"><ellipse cx="79.95" cy="250.34" rx="1.55" ry="1.21" fill="#2a9a2a" opacity="0.75" transform="rotate(24 79.95 250.34)"/><circle cx="80.27" cy="250.53" r="0.4" fill="#36e636"/><circle cx="80" cy="250.09" r="0.63" fill="#36e636"/><circle cx="79.89" cy="249.64" r="0.46" fill="#36e636"/><circle cx="79.97" cy="250.45" r="0.36" fill="#36e636"/></g><g opacity="0.5"><ellipse cx="85.3" cy="257.84" rx="1.55" ry="1.21" fill="#2a9a2a" opacity="0.75" transform="rotate(54 85.3 257.84)"/><circle cx="85.12" cy="257.85" r="0.35" fill="#36e636"/><circle cx="85.49" cy="258.01" r="0.42" fill="#36e636"/><circle cx="85.08" cy="257.47" r="0.46" fill="#36e636"/><circle cx="85.59" cy="257.81" r="0.4" fill="#36e636"/></g><g opacity="0.5"><ellipse cx="34.98" cy="257.84" rx="1.55" ry="1.21" fill="#2a9a2a" opacity="0.75" transform="rotate(150 34.98 257.84)"/><circle cx="34.96" cy="257.42" r="0.51" fill="#36e636"/><circle cx="34.79" cy="257.94" r="0.64" fill="#36e636"/><circle cx="34.58" cy="257.34" r="0.6" fill="#36e636"/><circle cx="35.14" cy="257.54" r="0.41" fill="#36e636"/></g><g opacity="0.5"><ellipse cx="46.76" cy="262.12" rx="1.24" ry="0.97" fill="#2a9a2a" opacity="0.75" transform="rotate(84 46.76 262.12)"/><circle cx="46.69" cy="262.17" r="0.61" fill="#36e636"/><circle cx="46.87" cy="261.78" r="0.51" fill="#36e636"/><circle cx="46.38" cy="261.9" r="0.36" fill="#36e636"/></g><g opacity="0.5"><ellipse cx="62.82" cy="267.47" rx="1.55" ry="1.21" fill="#2a9a2a" opacity="0.75" transform="rotate(129 62.82 267.47)"/><circle cx="62.89" cy="267.46" r="0.48" fill="#36e636"/><circle cx="63.3" cy="267.43" r="0.41" fill="#36e636"/><circle cx="62.81" cy="267.48" r="0.56" fill="#36e636"/><circle cx="63.45" cy="268" r="0.49" fill="#36e636"/></g><g opacity="0.5"><ellipse cx="70.31" cy="268.54" rx="1.55" ry="1.21" fill="#2a9a2a" opacity="0.75" transform="rotate(180 70.31 268.54)"/><circle cx="71.17" cy="268.97" r="0.41" fill="#36e636"/><circle cx="71" cy="268.83" r="0.65" fill="#36e636"/><circle cx="70.71" cy="268.66" r="0.47" fill="#36e636"/><circle cx="70.49" cy="268.63" r="0.43" fill="#36e636"/></g><g opacity="0.5"><ellipse cx="77.81" cy="268.54" rx="1.55" ry="1.21" fill="#2a9a2a" opacity="0.75" transform="rotate(119 77.81 268.54)"/><circle cx="77.85" cy="268.91" r="0.36" fill="#36e636"/><circle cx="77.39" cy="268.34" r="0.62" fill="#36e636"/><circle cx="77.31" cy="267.86" r="0.57" fill="#36e636"/><circle cx="77.7" cy="268.95" r="0.59" fill="#36e636"/></g><g opacity="1"><ellipse cx="40.33" cy="280.32" rx="2.17" ry="1.7" fill="#2a9a2a" opacity="0.75" transform="rotate(51 40.33 280.32)"/><circle cx="41.15" cy="279.48" r="0.65" fill="#36e636"/><circle cx="39.87" cy="281.63" r="0.5" fill="#36e636"/><circle cx="40.44" cy="281.28" r="0.58" fill="#36e636"/><circle cx="40" cy="281.02" r="0.51" fill="#36e636"/><circle cx="40.13" cy="280.58" r="0.54" fill="#36e636"/></g><g opacity="1"><ellipse cx="48.9" cy="283.53" rx="2.17" ry="1.7" fill="#2a9a2a" opacity="0.75" transform="rotate(163 48.9 283.53)"/><circle cx="48.9" cy="283.59" r="0.63" fill="#36e636"/><circle cx="48.34" cy="283.72" r="0.62" fill="#36e636"/><circle cx="48.57" cy="282.3" r="0.47" fill="#36e636"/><circle cx="48.5" cy="284.66" r="0.59" fill="#36e636"/><circle cx="49.9" cy="283.94" r="0.58" fill="#36e636"/></g><g opacity="1"><ellipse cx="36.05" cy="286.75" rx="2.17" ry="1.7" fill="#2a9a2a" opacity="0.75" transform="rotate(114 36.05 286.75)"/><circle cx="35.98" cy="286.78" r="0.58" fill="#36e636"/><circle cx="36.72" cy="287" r="0.46" fill="#36e636"/><circle cx="35.99" cy="286.7" r="0.59" fill="#36e636"/><circle cx="36.2" cy="286.47" r="0.56" fill="#36e636"/><circle cx="35.9" cy="286.67" r="0.56" fill="#36e636"/></g><g opacity="0.5"><ellipse cx="24.27" cy="292.1" rx="1.24" ry="0.97" fill="#2a9a2a" opacity="0.75" transform="rotate(100 24.27 292.1)"/><circle cx="23.75" cy="291.43" r="0.5" fill="#36e636"/><circle cx="24.34" cy="291.67" r="0.5" fill="#36e636"/><circle cx="24.17" cy="292.15" r="0.58" fill="#36e636"/></g><g opacity="1"><ellipse cx="22.13" cy="299.59" rx="2.17" ry="1.7" fill="#2a9a2a" opacity="0.75" transform="rotate(7 22.13 299.59)"/><circle cx="21.62" cy="300.09" r="0.48" fill="#36e636"/><circle cx="21.8" cy="300.41" r="0.38" fill="#36e636"/><circle cx="23.22" cy="299.09" r="0.43" fill="#36e636"/><circle cx="22.27" cy="300.1" r="0.53" fill="#36e636"/><circle cx="21.98" cy="300.01" r="0.36" fill="#36e636"/></g><g opacity="1"><ellipse cx="27.48" cy="303.88" rx="2.17" ry="1.7" fill="#2a9a2a" opacity="0.75" transform="rotate(3 27.48 303.88)"/><circle cx="27.62" cy="303.07" r="0.51" fill="#36e636"/><circle cx="27.98" cy="303.55" r="0.36" fill="#36e636"/><circle cx="27.91" cy="303.58" r="0.53" fill="#36e636"/><circle cx="28.15" cy="304.54" r="0.45" fill="#36e636"/><circle cx="26.66" cy="303.72" r="0.38" fill="#36e636"/></g><g opacity="0.5"><ellipse cx="15.71" cy="307.09" rx="1.55" ry="1.21" fill="#2a9a2a" opacity="0.75" transform="rotate(99 15.71 307.09)"/><circle cx="15.61" cy="307.3" r="0.63" fill="#36e636"/><circle cx="15.85" cy="307.14" r="0.42" fill="#36e636"/><circle cx="15.2" cy="307.74" r="0.45" fill="#36e636"/><circle cx="15.59" cy="307.28" r="0.62" fill="#36e636"/></g><g opacity="0.5"><ellipse cx="34.98" cy="300.66" rx="1.55" ry="1.21" fill="#2a9a2a" opacity="0.75" transform="rotate(122 34.98 300.66)"/><circle cx="34.72" cy="300.39" r="0.51" fill="#36e636"/><circle cx="34.02" cy="300.55" r="0.45" fill="#36e636"/><circle cx="34.28" cy="300.11" r="0.56" fill="#36e636"/><circle cx="34.41" cy="300.37" r="0.41" fill="#36e636"/></g><g opacity="0.5"><ellipse cx="88.51" cy="294.24" rx="1.24" ry="0.97" fill="#2a9a2a" opacity="0.75" transform="rotate(77 88.51 294.24)"/><circle cx="88.58" cy="293.71" r="0.6" fill="#36e636"/><circle cx="88.64" cy="294.54" r="0.42" fill="#36e636"/><circle cx="88.53" cy="294.52" r="0.64" fill="#36e636"/></g><g opacity="0.5"><ellipse cx="17.85" cy="283.53" rx="1.24" ry="0.97" fill="#2a9a2a" opacity="0.75" transform="rotate(13 17.85 283.53)"/><circle cx="17.6" cy="282.87" r="0.56" fill="#36e636"/><circle cx="17.84" cy="283.47" r="0.48" fill="#36e636"/><circle cx="18.19" cy="283.37" r="0.54" fill="#36e636"/></g><g opacity="0.5"><ellipse cx="26.41" cy="298.52" rx="1.24" ry="0.97" fill="#2a9a2a" opacity="0.75" transform="rotate(161 26.41 298.52)"/><circle cx="26.51" cy="298.28" r="0.63" fill="#36e636"/><circle cx="26.92" cy="298.89" r="0.35" fill="#36e636"/><circle cx="26.28" cy="298.05" r="0.54" fill="#36e636"/></g></g>
<g clip-path="url(#c11)" filter="url(#bl3)" opacity="0.85"><g opacity="1"><ellipse cx="102.99" cy="239.64" rx="2.48" ry="1.94" fill="#2a9a2a" opacity="0.75" transform="rotate(26 102.99 239.64)"/><circle cx="104.14" cy="240.7" r="0.4" fill="#36e636"/><circle cx="102.99" cy="239.95" r="0.47" fill="#36e636"/><circle cx="102.98" cy="237.97" r="0.56" fill="#36e636"/><circle cx="103.55" cy="239.66" r="0.45" fill="#36e636"/><circle cx="103.18" cy="239.68" r="0.64" fill="#36e636"/></g><g opacity="1"><ellipse cx="96.57" cy="256.77" rx="2.79" ry="2.18" fill="#2a9a2a" opacity="0.75" transform="rotate(27 96.57 256.77)"/><circle cx="97.08" cy="257.3" r="0.6" fill="#36e636"/><circle cx="95.92" cy="255.4" r="0.45" fill="#36e636"/><circle cx="95.96" cy="257.97" r="0.46" fill="#36e636"/><circle cx="95.3" cy="255.75" r="0.45" fill="#36e636"/><circle cx="96.92" cy="256.79" r="0.44" fill="#36e636"/><circle cx="96.59" cy="256.74" r="0.63" fill="#36e636"/></g><g opacity="1"><ellipse cx="102.99" cy="262.12" rx="2.48" ry="1.94" fill="#2a9a2a" opacity="0.75" transform="rotate(53 102.99 262.12)"/><circle cx="103.39" cy="261.37" r="0.55" fill="#36e636"/><circle cx="104.6" cy="262.66" r="0.6" fill="#36e636"/><circle cx="103.32" cy="262.76" r="0.46" fill="#36e636"/><circle cx="103.79" cy="263.27" r="0.54" fill="#36e636"/><circle cx="103.16" cy="262.35" r="0.58" fill="#36e636"/></g><g opacity="1"><ellipse cx="107.27" cy="267.47" rx="2.79" ry="2.18" fill="#2a9a2a" opacity="0.75" transform="rotate(155 107.27 267.47)"/><circle cx="106.8" cy="267.23" r="0.37" fill="#36e636"/><circle cx="106.66" cy="268.56" r="0.59" fill="#36e636"/><circle cx="105.77" cy="266.49" r="0.38" fill="#36e636"/><circle cx="109.02" cy="267.25" r="0.56" fill="#36e636"/><circle cx="107.25" cy="267.47" r="0.45" fill="#36e636"/><circle cx="107.84" cy="266.95" r="0.46" fill="#36e636"/></g><g opacity="1"><ellipse cx="109.41" cy="274.97" rx="2.79" ry="2.18" fill="#2a9a2a" opacity="0.75" transform="rotate(101 109.41 274.97)"/><circle cx="109.37" cy="274.65" r="0.6" fill="#36e636"/><circle cx="108.73" cy="275.49" r="0.6" fill="#36e636"/><circle cx="109.52" cy="274.59" r="0.59" fill="#36e636"/><circle cx="107.83" cy="274.96" r="0.49" fill="#36e636"/><circle cx="111.17" cy="275.34" r="0.62" fill="#36e636"/><circle cx="110.32" cy="275.2" r="0.57" fill="#36e636"/></g><g opacity="1"><ellipse cx="115.84" cy="283.53" rx="2.48" ry="1.94" fill="#2a9a2a" opacity="0.75" transform="rotate(127 115.84 283.53)"/><circle cx="117.1" cy="284.36" r="0.39" fill="#36e636"/><circle cx="114.19" cy="283.52" r="0.59" fill="#36e636"/><circle cx="116.1" cy="282.28" r="0.49" fill="#36e636"/><circle cx="116.21" cy="283.54" r="0.57" fill="#36e636"/><circle cx="114.41" cy="283.53" r="0.65" fill="#36e636"/></g><g opacity="1"><ellipse cx="125.47" cy="281.39" rx="3.1" ry="2.42" fill="#2a9a2a" opacity="0.75" transform="rotate(101 125.47 281.39)"/><circle cx="127.35" cy="281.92" r="0.41" fill="#36e636"/><circle cx="124.5" cy="280.63" r="0.63" fill="#36e636"/><circle cx="125.35" cy="281.53" r="0.47" fill="#36e636"/><circle cx="125.64" cy="281.46" r="0.63" fill="#36e636"/><circle cx="125.54" cy="281.43" r="0.53" fill="#36e636"/><circle cx="126.12" cy="281.3" r="0.58" fill="#36e636"/></g><g opacity="1"><ellipse cx="135.11" cy="281.39" rx="2.48" ry="1.94" fill="#2a9a2a" opacity="0.75" transform="rotate(96 135.11 281.39)"/><circle cx="135.08" cy="281.42" r="0.5" fill="#36e636"/><circle cx="134.97" cy="281.11" r="0.53" fill="#36e636"/><circle cx="135.73" cy="282.33" r="0.49" fill="#36e636"/><circle cx="135.72" cy="282" r="0.43" fill="#36e636"/><circle cx="133.98" cy="280.62" r="0.49" fill="#36e636"/></g><g opacity="1"><ellipse cx="131.9" cy="276.04" rx="2.48" ry="1.94" fill="#2a9a2a" opacity="0.75" transform="rotate(33 131.9 276.04)"/><circle cx="131.89" cy="276.24" r="0.41" fill="#36e636"/><circle cx="132.02" cy="275.39" r="0.36" fill="#36e636"/><circle cx="130.75" cy="276.66" r="0.4" fill="#36e636"/><circle cx="130.95" cy="277.33" r="0.44" fill="#36e636"/><circle cx="131.33" cy="275.5" r="0.42" fill="#36e636"/></g><g opacity="1"><ellipse cx="120.12" cy="289.96" rx="2.79" ry="2.18" fill="#2a9a2a" opacity="0.75" transform="rotate(133 120.12 289.96)"/><circle cx="118.69" cy="291.21" r="0.58" fill="#36e636"/><circle cx="120.39" cy="290.68" r="0.54" fill="#36e636"/><circle cx="119.56" cy="291.06" r="0.42" fill="#36e636"/><circle cx="120.15" cy="289.48" r="0.65" fill="#36e636"/><circle cx="121.74" cy="290.6" r="0.4" fill="#36e636"/><circle cx="120.28" cy="288.03" r="0.64" fill="#36e636"/></g><g opacity="1"><ellipse cx="111.55" cy="291.03" rx="2.79" ry="2.18" fill="#2a9a2a" opacity="0.75" transform="rotate(86 111.55 291.03)"/><circle cx="111.89" cy="289.52" r="0.4" fill="#36e636"/><circle cx="112.21" cy="290.28" r="0.4" fill="#36e636"/><circle cx="111.59" cy="290.7" r="0.35" fill="#36e636"/><circle cx="111.93" cy="289.93" r="0.41" fill="#36e636"/><circle cx="110.1" cy="291.99" r="0.58" fill="#36e636"/><circle cx="112.27" cy="291.11" r="0.4" fill="#36e636"/></g><g opacity="1"><ellipse cx="105.13" cy="287.82" rx="2.17" ry="1.7" fill="#2a9a2a" opacity="0.75" transform="rotate(56 105.13 287.82)"/><circle cx="105.66" cy="288.69" r="0.47" fill="#36e636"/><circle cx="104.79" cy="286.88" r="0.45" fill="#36e636"/><circle cx="104.69" cy="287.92" r="0.54" fill="#36e636"/><circle cx="105.09" cy="287.8" r="0.6" fill="#36e636"/><circle cx="105.04" cy="287.38" r="0.42" fill="#36e636"/></g><g opacity="1"><ellipse cx="97.64" cy="294.24" rx="2.79" ry="2.18" fill="#2a9a2a" opacity="0.75" transform="rotate(26 97.64 294.24)"/><circle cx="98.87" cy="293.15" r="0.36" fill="#36e636"/><circle cx="96.97" cy="294.05" r="0.49" fill="#36e636"/><circle cx="98.86" cy="293.26" r="0.46" fill="#36e636"/><circle cx="98.34" cy="293.79" r="0.37" fill="#36e636"/><circle cx="97.4" cy="294.44" r="0.65" fill="#36e636"/><circle cx="99.05" cy="293.97" r="0.47" fill="#36e636"/></g><g opacity="1"><ellipse cx="101.92" cy="297.45" rx="2.48" ry="1.94" fill="#2a9a2a" opacity="0.75" transform="rotate(141 101.92 297.45)"/><circle cx="102.14" cy="297.39" r="0.39" fill="#36e636"/><circle cx="102.07" cy="296.93" r="0.45" fill="#36e636"/><circle cx="100.9" cy="297.52" r="0.58" fill="#36e636"/><circle cx="101.09" cy="296.99" r="0.47" fill="#36e636"/><circle cx="101.72" cy="297.09" r="0.64" fill="#36e636"/></g><g opacity="1"><ellipse cx="108.34" cy="297.45" rx="2.79" ry="2.18" fill="#2a9a2a" opacity="0.75" transform="rotate(75 108.34 297.45)"/><circle cx="109.3" cy="297.83" r="0.6" fill="#36e636"/><circle cx="108.28" cy="298.94" r="0.4" fill="#36e636"/><circle cx="108.75" cy="297.65" r="0.46" fill="#36e636"/><circle cx="109.24" cy="297.7" r="0.47" fill="#36e636"/><circle cx="108.6" cy="297.81" r="0.43" fill="#36e636"/><circle cx="109.52" cy="296.32" r="0.57" fill="#36e636"/></g><g opacity="1"><ellipse cx="117.98" cy="296.38" rx="2.79" ry="2.18" fill="#2a9a2a" opacity="0.75" transform="rotate(49 117.98 296.38)"/><circle cx="116.2" cy="297.18" r="0.57" fill="#36e636"/><circle cx="118.7" cy="296.15" r="0.54" fill="#36e636"/><circle cx="118.38" cy="295.46" r="0.4" fill="#36e636"/><circle cx="119.47" cy="296.77" r="0.38" fill="#36e636"/><circle cx="117.5" cy="295.82" r="0.41" fill="#36e636"/><circle cx="117.28" cy="296.3" r="0.44" fill="#36e636"/></g><g opacity="1"><ellipse cx="120.12" cy="298.52" rx="2.48" ry="1.94" fill="#2a9a2a" opacity="0.75" transform="rotate(167 120.12 298.52)"/><circle cx="120.22" cy="298.82" r="0.58" fill="#36e636"/><circle cx="119.91" cy="298.64" r="0.52" fill="#36e636"/><circle cx="120.22" cy="298.36" r="0.4" fill="#36e636"/><circle cx="120.06" cy="298.92" r="0.56" fill="#36e636"/><circle cx="121.22" cy="299.43" r="0.48" fill="#36e636"/></g><g opacity="1"><ellipse cx="100.85" cy="302.81" rx="2.17" ry="1.7" fill="#2a9a2a" opacity="0.75" transform="rotate(23 100.85 302.81)"/><circle cx="101.5" cy="302.01" r="0.61" fill="#36e636"/><circle cx="101.14" cy="302.8" r="0.49" fill="#36e636"/><circle cx="100.11" cy="303.52" r="0.41" fill="#36e636"/><circle cx="101.76" cy="303.64" r="0.43" fill="#36e636"/><circle cx="101.33" cy="302.95" r="0.53" fill="#36e636"/></g><g opacity="1"><ellipse cx="108.34" cy="310.3" rx="2.17" ry="1.7" fill="#2a9a2a" opacity="0.75" transform="rotate(75 108.34 310.3)"/><circle cx="108.42" cy="310.63" r="0.64" fill="#36e636"/><circle cx="108.15" cy="309.94" r="0.49" fill="#36e636"/><circle cx="107.61" cy="311.6" r="0.59" fill="#36e636"/><circle cx="108.64" cy="309.19" r="0.45" fill="#36e636"/><circle cx="108.14" cy="309.37" r="0.37" fill="#36e636"/></g><g opacity="1"><ellipse cx="126.54" cy="253.55" rx="2.17" ry="1.7" fill="#2a9a2a" opacity="0.75" transform="rotate(75 126.54 253.55)"/><circle cx="127.4" cy="253.89" r="0.6" fill="#36e636"/><circle cx="126.53" cy="253.48" r="0.43" fill="#36e636"/><circle cx="126.47" cy="253.13" r="0.36" fill="#36e636"/><circle cx="126.56" cy="253.63" r="0.47" fill="#36e636"/><circle cx="127.56" cy="252.82" r="0.4" fill="#36e636"/></g><g opacity="1"><ellipse cx="134.04" cy="253.55" rx="2.48" ry="1.94" fill="#2a9a2a" opacity="0.75" transform="rotate(128 134.04 253.55)"/><circle cx="134.27" cy="254.16" r="0.43" fill="#36e636"/><circle cx="135.17" cy="252.95" r="0.6" fill="#36e636"/><circle cx="132.82" cy="254.1" r="0.54" fill="#36e636"/><circle cx="135.23" cy="253.1" r="0.63" fill="#36e636"/><circle cx="133.53" cy="252.02" r="0.4" fill="#36e636"/></g><g opacity="1"><ellipse cx="135.11" cy="257.84" rx="2.48" ry="1.94" fill="#2a9a2a" opacity="0.75" transform="rotate(3 135.11 257.84)"/><circle cx="134.95" cy="258.1" r="0.42" fill="#36e636"/><circle cx="135.09" cy="257.98" r="0.61" fill="#36e636"/><circle cx="135.64" cy="258.8" r="0.43" fill="#36e636"/><circle cx="135.31" cy="259.27" r="0.39" fill="#36e636"/><circle cx="134.75" cy="258.01" r="0.35" fill="#36e636"/></g><g opacity="1"><ellipse cx="138.32" cy="250.34" rx="2.17" ry="1.7" fill="#2a9a2a" opacity="0.75" transform="rotate(72 138.32 250.34)"/><circle cx="138.85" cy="249.73" r="0.37" fill="#36e636"/><circle cx="138.53" cy="250.37" r="0.64" fill="#36e636"/><circle cx="137.77" cy="248.96" r="0.47" fill="#36e636"/><circle cx="138.68" cy="249.38" r="0.51" fill="#36e636"/><circle cx="138.52" cy="250.5" r="0.4" fill="#36e636"/></g><g opacity="1"><ellipse cx="142.6" cy="251.41" rx="2.17" ry="1.7" fill="#2a9a2a" opacity="0.75" transform="rotate(162 142.6 251.41)"/><circle cx="142.41" cy="250.18" r="0.51" fill="#36e636"/><circle cx="142.9" cy="252.69" r="0.59" fill="#36e636"/><circle cx="141.42" cy="251.16" r="0.49" fill="#36e636"/><circle cx="143.46" cy="252.15" r="0.59" fill="#36e636"/><circle cx="142.6" cy="251.31" r="0.53" fill="#36e636"/></g><g opacity="1"><ellipse cx="124.4" cy="262.12" rx="2.17" ry="1.7" fill="#2a9a2a" opacity="0.75" transform="rotate(51 124.4 262.12)"/><circle cx="124.69" cy="262.28" r="0.44" fill="#36e636"/><circle cx="124.59" cy="262.33" r="0.39" fill="#36e636"/><circle cx="124.7" cy="261.46" r="0.63" fill="#36e636"/><circle cx="125.05" cy="261.47" r="0.59" fill="#36e636"/><circle cx="124.8" cy="262.96" r="0.35" fill="#36e636"/></g><g opacity="1"><ellipse cx="156.52" cy="262.12" rx="2.48" ry="1.94" fill="#2a9a2a" opacity="0.75" transform="rotate(137 156.52 262.12)"/><circle cx="156.39" cy="262.03" r="0.5" fill="#36e636"/><circle cx="156.91" cy="261.27" r="0.4" fill="#36e636"/><circle cx="157.08" cy="262.09" r="0.46" fill="#36e636"/><circle cx="156.22" cy="261.31" r="0.61" fill="#36e636"/><circle cx="156.52" cy="262.12" r="0.56" fill="#36e636"/></g><g opacity="1"><ellipse cx="160.81" cy="266.4" rx="2.48" ry="1.94" fill="#2a9a2a" opacity="0.75" transform="rotate(154 160.81 266.4)"/><circle cx="160.06" cy="265.71" r="0.6" fill="#36e636"/><circle cx="161.58" cy="267.05" r="0.51" fill="#36e636"/><circle cx="162.38" cy="266.19" r="0.58" fill="#36e636"/><circle cx="160.61" cy="265.96" r="0.63" fill="#36e636"/><circle cx="161.39" cy="266.5" r="0.39" fill="#36e636"/></g><g opacity="1"><ellipse cx="153.31" cy="272.83" rx="2.48" ry="1.94" fill="#2a9a2a" opacity="0.75" transform="rotate(96 153.31 272.83)"/><circle cx="154.97" cy="272.71" r="0.57" fill="#36e636"/><circle cx="154.13" cy="272.11" r="0.36" fill="#36e636"/><circle cx="154.27" cy="273.93" r="0.64" fill="#36e636"/><circle cx="152.52" cy="273.71" r="0.37" fill="#36e636"/><circle cx="152.99" cy="272.93" r="0.54" fill="#36e636"/></g><g opacity="1"><ellipse cx="158.66" cy="272.83" rx="2.17" ry="1.7" fill="#2a9a2a" opacity="0.75" transform="rotate(113 158.66 272.83)"/><circle cx="158.91" cy="272.97" r="0.63" fill="#36e636"/><circle cx="158.59" cy="272.25" r="0.59" fill="#36e636"/><circle cx="158.39" cy="272.5" r="0.37" fill="#36e636"/><circle cx="157.8" cy="272.87" r="0.56" fill="#36e636"/><circle cx="159.57" cy="273.96" r="0.38" fill="#36e636"/></g><g opacity="0.5"><ellipse cx="166.16" cy="264.26" rx="1.86" ry="1.45" fill="#2a9a2a" opacity="0.75" transform="rotate(40 166.16 264.26)"/><circle cx="167.34" cy="264.73" r="0.39" fill="#36e636"/><circle cx="165.84" cy="264.86" r="0.54" fill="#36e636"/><circle cx="166.63" cy="264.55" r="0.42" fill="#36e636"/><circle cx="166.66" cy="263.38" r="0.45" fill="#36e636"/></g><g opacity="0.5"><ellipse cx="158.66" cy="255.7" rx="1.86" ry="1.45" fill="#2a9a2a" opacity="0.75" transform="rotate(137 158.66 255.7)"/><circle cx="158.26" cy="255.07" r="0.37" fill="#36e636"/><circle cx="157.86" cy="254.76" r="0.41" fill="#36e636"/><circle cx="158.48" cy="255.82" r="0.65" fill="#36e636"/><circle cx="157.57" cy="256.3" r="0.58" fill="#36e636"/></g><g opacity="1"><ellipse cx="144.75" cy="304.95" rx="2.17" ry="1.7" fill="#2a9a2a" opacity="0.75" transform="rotate(90 144.75 304.95)"/><circle cx="145.25" cy="305.21" r="0.63" fill="#36e636"/><circle cx="144.69" cy="305.17" r="0.48" fill="#36e636"/><circle cx="144.62" cy="304.64" r="0.63" fill="#36e636"/><circle cx="145.86" cy="304.75" r="0.43" fill="#36e636"/><circle cx="145.14" cy="305.68" r="0.52" fill="#36e636"/></g><g opacity="0.5"><ellipse cx="168.3" cy="306.02" rx="1.86" ry="1.45" fill="#2a9a2a" opacity="0.75" transform="rotate(61 168.3 306.02)"/><circle cx="167.99" cy="305.46" r="0.63" fill="#36e636"/><circle cx="168.84" cy="305.55" r="0.64" fill="#36e636"/><circle cx="168.27" cy="305.42" r="0.41" fill="#36e636"/><circle cx="168.19" cy="306.25" r="0.42" fill="#36e636"/></g><g opacity="0.5"><ellipse cx="94.42" cy="251.41" rx="1.86" ry="1.45" fill="#2a9a2a" opacity="0.75" transform="rotate(76 94.42 251.41)"/><circle cx="94.4" cy="251.48" r="0.49" fill="#36e636"/><circle cx="94.4" cy="250.81" r="0.41" fill="#36e636"/><circle cx="94.12" cy="250.77" r="0.51" fill="#36e636"/><circle cx="94.18" cy="251.16" r="0.6" fill="#36e636"/></g><g opacity="0.5"><ellipse cx="145.82" cy="244.99" rx="1.86" ry="1.45" fill="#2a9a2a" opacity="0.75" transform="rotate(90 145.82 244.99)"/><circle cx="145.76" cy="245.71" r="0.61" fill="#36e636"/><circle cx="144.88" cy="244.89" r="0.51" fill="#36e636"/><circle cx="145.55" cy="244.82" r="0.43" fill="#36e636"/><circle cx="147.05" cy="245.01" r="0.57" fill="#36e636"/></g><g opacity="0.5"><ellipse cx="113.7" cy="268.54" rx="1.86" ry="1.45" fill="#2a9a2a" opacity="0.75" transform="rotate(104 113.7 268.54)"/><circle cx="113.72" cy="268.49" r="0.62" fill="#36e636"/><circle cx="113.46" cy="267.57" r="0.4" fill="#36e636"/><circle cx="113.18" cy="268.93" r="0.5" fill="#36e636"/><circle cx="113.78" cy="268.27" r="0.41" fill="#36e636"/></g><g opacity="0.5"><ellipse cx="139.39" cy="276.04" rx="1.86" ry="1.45" fill="#2a9a2a" opacity="0.75" transform="rotate(32 139.39 276.04)"/><circle cx="139.45" cy="276.11" r="0.48" fill="#36e636"/><circle cx="140.16" cy="275.91" r="0.45" fill="#36e636"/><circle cx="140.41" cy="276.41" r="0.48" fill="#36e636"/><circle cx="140.07" cy="276.65" r="0.35" fill="#36e636"/></g></g>
<g clip-path="url(#c20)" filter="url(#bl)"><ellipse cx="44.61" cy="321.37" rx="3.03" ry="2.35" fill="#2020e8" transform="rotate(56 44.61 321.37)"/><ellipse cx="44.86" cy="320.89" rx="1.06" ry="0.7" fill="#10109a" opacity="0.3" transform="rotate(56 44.61 321.37)"/><ellipse cx="51.04" cy="318.15" rx="3.27" ry="2.06" fill="#2a2afa" transform="rotate(21 51.04 318.15)"/><ellipse cx="50.6" cy="318.02" rx="1.15" ry="0.62" fill="#10109a" opacity="0.3" transform="rotate(21 51.04 318.15)"/><ellipse cx="56.39" cy="316.01" rx="2.37" ry="1.8" fill="#2a2afa" transform="rotate(51 56.39 316.01)"/><ellipse cx="56.28" cy="316.33" rx="0.83" ry="0.54" fill="#10109a" opacity="0.3" transform="rotate(51 56.39 316.01)"/><ellipse cx="69.24" cy="316.65" rx="2.54" ry="2.03" fill="#1a1ad0" transform="rotate(10 69.24 316.65)"/><ellipse cx="69.25" cy="316.33" rx="0.89" ry="0.61" fill="#10109a" opacity="0.3" transform="rotate(10 69.24 316.65)"/><ellipse cx="70.31" cy="323.51" rx="2.34" ry="2.04" fill="#2020e8" transform="rotate(171 70.31 323.51)"/><ellipse cx="70.07" cy="323.66" rx="0.82" ry="0.61" fill="#10109a" opacity="0.3" transform="rotate(171 70.31 323.51)"/><ellipse cx="79.95" cy="321.37" rx="2.35" ry="1.78" fill="#1a1ad0" transform="rotate(152 79.95 321.37)"/><ellipse cx="79.91" cy="321.49" rx="0.82" ry="0.54" fill="#10109a" opacity="0.3" transform="rotate(152 79.95 321.37)"/><ellipse cx="81.02" cy="326.72" rx="2.95" ry="2.18" fill="#2020e8" transform="rotate(94 81.02 326.72)"/><ellipse cx="81.37" cy="326.98" rx="1.03" ry="0.65" fill="#10109a" opacity="0.3" transform="rotate(94 81.02 326.72)"/><ellipse cx="86.37" cy="331" rx="1.91" ry="1.57" fill="#2222e0" transform="rotate(131 86.37 331)"/><ellipse cx="86.63" cy="330.78" rx="0.67" ry="0.47" fill="#10109a" opacity="0.3" transform="rotate(131 86.37 331)"/><ellipse cx="78.88" cy="334.21" rx="3.53" ry="2.51" fill="#1818b0" transform="rotate(127 78.88 334.21)"/><ellipse cx="78.57" cy="334.36" rx="1.24" ry="0.75" fill="#10109a" opacity="0.3" transform="rotate(127 78.88 334.21)"/><ellipse cx="72.45" cy="336.35" rx="2.84" ry="2.3" fill="#16169a" transform="rotate(166 72.45 336.35)"/><ellipse cx="72.57" cy="335.96" rx="0.99" ry="0.69" fill="#10109a" opacity="0.3" transform="rotate(166 72.45 336.35)"/><ellipse cx="62.82" cy="336.35" rx="3.41" ry="2.64" fill="#2424f4" transform="rotate(125 62.82 336.35)"/><ellipse cx="62.97" cy="336.29" rx="1.19" ry="0.79" fill="#10109a" opacity="0.3" transform="rotate(125 62.82 336.35)"/><ellipse cx="67.1" cy="342.78" rx="3.82" ry="2.74" fill="#2a2afa" transform="rotate(160 67.1 342.78)"/><ellipse cx="67.46" cy="342.35" rx="1.34" ry="0.82" fill="#10109a" opacity="0.3" transform="rotate(160 67.1 342.78)"/><ellipse cx="69.24" cy="347.06" rx="2.38" ry="1.66" fill="#2222e0" transform="rotate(130 69.24 347.06)"/><ellipse cx="69.04" cy="346.95" rx="0.83" ry="0.5" fill="#10109a" opacity="0.3" transform="rotate(130 69.24 347.06)"/><ellipse cx="78.88" cy="348.13" rx="2.97" ry="2.28" fill="#16169a" transform="rotate(83 78.88 348.13)"/><ellipse cx="78.38" cy="347.81" rx="1.04" ry="0.69" fill="#10109a" opacity="0.3" transform="rotate(83 78.88 348.13)"/><ellipse cx="63.89" cy="350.27" rx="2.67" ry="2.11" fill="#2424f4" transform="rotate(89 63.89 350.27)"/><ellipse cx="63.68" cy="350.34" rx="0.94" ry="0.63" fill="#10109a" opacity="0.3" transform="rotate(89 63.89 350.27)"/><ellipse cx="70.31" cy="351.34" rx="2.01" ry="1.38" fill="#2020e8" transform="rotate(38 70.31 351.34)"/><ellipse cx="70.41" cy="351.23" rx="0.7" ry="0.41" fill="#10109a" opacity="0.3" transform="rotate(38 70.31 351.34)"/><ellipse cx="85.3" cy="340.64" rx="2.43" ry="1.7" fill="#2222e0" transform="rotate(147 85.3 340.64)"/><ellipse cx="85.13" cy="340.69" rx="0.85" ry="0.51" fill="#10109a" opacity="0.3" transform="rotate(147 85.3 340.64)"/><ellipse cx="43.54" cy="334.21" rx="2.75" ry="2.48" fill="#2222e0" transform="rotate(175 43.54 334.21)"/><ellipse cx="43.22" cy="334" rx="0.96" ry="0.74" fill="#10109a" opacity="0.3" transform="rotate(175 43.54 334.21)"/><ellipse cx="34.98" cy="339.57" rx="3.56" ry="2.64" fill="#2a2afa" transform="rotate(17 34.98 339.57)"/><ellipse cx="34.64" cy="339.77" rx="1.25" ry="0.79" fill="#10109a" opacity="0.3" transform="rotate(17 34.98 339.57)"/><ellipse cx="46.76" cy="343.85" rx="2.92" ry="2.16" fill="#2424f4" transform="rotate(158 46.76 343.85)"/><ellipse cx="46.3" cy="343.46" rx="1.02" ry="0.65" fill="#10109a" opacity="0.3" transform="rotate(158 46.76 343.85)"/><ellipse cx="53.18" cy="332.07" rx="2.15" ry="1.65" fill="#1818b0" transform="rotate(39 53.18 332.07)"/><ellipse cx="53.53" cy="331.93" rx="0.75" ry="0.5" fill="#10109a" opacity="0.3" transform="rotate(39 53.18 332.07)"/><ellipse cx="39.26" cy="328.86" rx="2.12" ry="1.56" fill="#2222e0" transform="rotate(86 39.26 328.86)"/><ellipse cx="39.75" cy="329.08" rx="0.74" ry="0.47" fill="#10109a" opacity="0.3" transform="rotate(86 39.26 328.86)"/><ellipse cx="18.92" cy="347.06" rx="2.52" ry="1.7" fill="#16169a" transform="rotate(76 18.92 347.06)"/><ellipse cx="18.98" cy="347" rx="0.88" ry="0.51" fill="#10109a" opacity="0.3" transform="rotate(76 18.92 347.06)"/><ellipse cx="19.99" cy="352.41" rx="3.3" ry="2.22" fill="#1a1ad0" transform="rotate(131 19.99 352.41)"/><ellipse cx="19.99" cy="352.86" rx="1.15" ry="0.67" fill="#10109a" opacity="0.3" transform="rotate(131 19.99 352.41)"/><ellipse cx="22.13" cy="363.12" rx="3.44" ry="2.38" fill="#2424f4" transform="rotate(3 22.13 363.12)"/><ellipse cx="21.69" cy="363.18" rx="1.2" ry="0.71" fill="#10109a" opacity="0.3" transform="rotate(3 22.13 363.12)"/><ellipse cx="15.71" cy="367.4" rx="2.52" ry="1.65" fill="#2424f4" transform="rotate(6 15.71 367.4)"/><ellipse cx="15.31" cy="367.03" rx="0.88" ry="0.5" fill="#10109a" opacity="0.3" transform="rotate(6 15.71 367.4)"/><ellipse cx="40.33" cy="362.05" rx="2.39" ry="1.99" fill="#1818b0" transform="rotate(42 40.33 362.05)"/><ellipse cx="40.37" cy="362.4" rx="0.84" ry="0.6" fill="#10109a" opacity="0.3" transform="rotate(42 40.33 362.05)"/><ellipse cx="42.47" cy="368.05" rx="3.3" ry="2.52" fill="#1a1ad0" transform="rotate(149 42.47 368.05)"/><ellipse cx="42.7" cy="368.07" rx="1.15" ry="0.75" fill="#10109a" opacity="0.3" transform="rotate(149 42.47 368.05)"/><ellipse cx="48.9" cy="365.26" rx="3.37" ry="2.46" fill="#16169a" transform="rotate(66 48.9 365.26)"/><ellipse cx="48.71" cy="365.03" rx="1.18" ry="0.74" fill="#10109a" opacity="0.3" transform="rotate(66 48.9 365.26)"/><ellipse cx="34.98" cy="368.9" rx="2.53" ry="2.07" fill="#2424f4" transform="rotate(16 34.98 368.9)"/><ellipse cx="35.17" cy="368.8" rx="0.89" ry="0.62" fill="#10109a" opacity="0.3" transform="rotate(16 34.98 368.9)"/><ellipse cx="25.34" cy="374.9" rx="3.4" ry="2.63" fill="#2a2afa" transform="rotate(104 25.34 374.9)"/><ellipse cx="25.78" cy="375.05" rx="1.19" ry="0.79" fill="#10109a" opacity="0.3" transform="rotate(104 25.34 374.9)"/><ellipse cx="27.48" cy="381.32" rx="2.99" ry="2.4" fill="#16169a" transform="rotate(8 27.48 381.32)"/><ellipse cx="27.79" cy="381.49" rx="1.05" ry="0.72" fill="#10109a" opacity="0.3" transform="rotate(8 27.48 381.32)"/><ellipse cx="21.06" cy="381.32" rx="2.38" ry="1.9" fill="#2a2afa" transform="rotate(43 21.06 381.32)"/><ellipse cx="20.97" cy="381.14" rx="0.83" ry="0.57" fill="#10109a" opacity="0.3" transform="rotate(43 21.06 381.32)"/><ellipse cx="32.84" cy="382.39" rx="2.91" ry="2.06" fill="#2020e8" transform="rotate(156 32.84 382.39)"/><ellipse cx="32.68" cy="382.7" rx="1.02" ry="0.62" fill="#10109a" opacity="0.3" transform="rotate(156 32.84 382.39)"/><ellipse cx="31.77" cy="388.82" rx="2.76" ry="2.24" fill="#2222e0" transform="rotate(123 31.77 388.82)"/><ellipse cx="32.2" cy="388.58" rx="0.97" ry="0.67" fill="#10109a" opacity="0.3" transform="rotate(123 31.77 388.82)"/><ellipse cx="14.64" cy="388.82" rx="1.89" ry="1.57" fill="#2020e8" transform="rotate(35 14.64 388.82)"/><ellipse cx="15.01" cy="388.4" rx="0.66" ry="0.47" fill="#10109a" opacity="0.3" transform="rotate(35 14.64 388.82)"/><ellipse cx="25.34" cy="386.68" rx="1.92" ry="1.6" fill="#2020e8" transform="rotate(94 25.34 386.68)"/><ellipse cx="25.78" cy="386.3" rx="0.67" ry="0.48" fill="#10109a" opacity="0.3" transform="rotate(94 25.34 386.68)"/><ellipse cx="87.44" cy="378.11" rx="2.15" ry="1.32" fill="#2424f4" transform="rotate(120 87.44 378.11)"/><ellipse cx="87.56" cy="377.97" rx="0.75" ry="0.4" fill="#10109a" opacity="0.3" transform="rotate(120 87.44 378.11)"/><ellipse cx="13.57" cy="375.97" rx="1.48" ry="1" fill="#2424f4" transform="rotate(93 13.57 375.97)"/><ellipse cx="82.09" cy="328.86" rx="1.98" ry="1.56" fill="#1a1ad0" transform="rotate(143 82.09 328.86)"/><ellipse cx="82.12" cy="328.44" rx="0.69" ry="0.47" fill="#10109a" opacity="0.3" transform="rotate(143 82.09 328.86)"/><ellipse cx="49.97" cy="321.37" rx="2.19" ry="1.89" fill="#2020e8" transform="rotate(3 49.97 321.37)"/><ellipse cx="49.75" cy="320.99" rx="0.77" ry="0.57" fill="#10109a" opacity="0.3" transform="rotate(3 49.97 321.37)"/><ellipse cx="54.25" cy="323.51" rx="1.83" ry="1.24" fill="#1a1ad0" transform="rotate(17 54.25 323.51)"/><ellipse cx="75.66" cy="344.92" rx="2.13" ry="1.67" fill="#2a2afa" transform="rotate(36 75.66 344.92)"/><ellipse cx="75.28" cy="345.34" rx="0.75" ry="0.5" fill="#10109a" opacity="0.3" transform="rotate(36 75.66 344.92)"/><ellipse cx="58.53" cy="338.5" rx="2.45" ry="1.71" fill="#1818b0" transform="rotate(9 58.53 338.5)"/><ellipse cx="58.79" cy="338.54" rx="0.86" ry="0.51" fill="#10109a" opacity="0.3" transform="rotate(9 58.53 338.5)"/><ellipse cx="30.7" cy="344.92" rx="1.97" ry="1.46" fill="#1a1ad0" transform="rotate(77 30.7 344.92)"/><ellipse cx="30.66" cy="344.7" rx="0.69" ry="0.44" fill="#10109a" opacity="0.3" transform="rotate(77 30.7 344.92)"/><ellipse cx="26.41" cy="325.65" rx="1.79" ry="1.45" fill="#16169a" transform="rotate(121 26.41 325.65)"/><ellipse cx="9.28" cy="340.64" rx="1.61" ry="1.08" fill="#2222e0" transform="rotate(32 9.28 340.64)"/><ellipse cx="37.12" cy="377.04" rx="2.12" ry="1.65" fill="#2424f4" transform="rotate(112 37.12 377.04)"/><ellipse cx="36.93" cy="376.79" rx="0.74" ry="0.49" fill="#10109a" opacity="0.3" transform="rotate(112 37.12 377.04)"/><ellipse cx="17.85" cy="381.32" rx="1.82" ry="1.29" fill="#2222e0" transform="rotate(135 17.85 381.32)"/><ellipse cx="28.55" cy="393.1" rx="1.85" ry="1.49" fill="#16169a" transform="rotate(176 28.55 393.1)"/><ellipse cx="28.44" cy="393.36" rx="0.65" ry="0.45" fill="#10109a" opacity="0.3" transform="rotate(176 28.55 393.1)"/><ellipse cx="86.37" cy="347.06" rx="2.08" ry="1.57" fill="#1a1ad0" transform="rotate(85 86.37 347.06)"/><ellipse cx="86.63" cy="346.9" rx="0.73" ry="0.47" fill="#10109a" opacity="0.3" transform="rotate(85 86.37 347.06)"/><ellipse cx="64.96" cy="325.65" rx="1.85" ry="1.26" fill="#16169a" transform="rotate(8 64.96 325.65)"/></g>
<g clip-path="url(#c21)" filter="url(#bl)"><ellipse cx="96.57" cy="316.65" rx="2.39" ry="1.83" fill="#2020e8" transform="rotate(54 96.57 316.65)"/><ellipse cx="96.3" cy="316.92" rx="0.83" ry="0.55" fill="#10109a" opacity="0.3" transform="rotate(54 96.57 316.65)"/><ellipse cx="101.92" cy="321.37" rx="2.91" ry="2.19" fill="#2a2afa" transform="rotate(131 101.92 321.37)"/><ellipse cx="101.91" cy="321.33" rx="1.02" ry="0.66" fill="#10109a" opacity="0.3" transform="rotate(131 101.92 321.37)"/><ellipse cx="99.78" cy="327.79" rx="2.49" ry="1.98" fill="#1818b0" transform="rotate(16 99.78 327.79)"/><ellipse cx="99.95" cy="328.03" rx="0.87" ry="0.59" fill="#10109a" opacity="0.3" transform="rotate(16 99.78 327.79)"/><ellipse cx="94.42" cy="334.21" rx="3.22" ry="2.06" fill="#2222e0" transform="rotate(135 94.42 334.21)"/><ellipse cx="94.58" cy="333.78" rx="1.13" ry="0.62" fill="#10109a" opacity="0.3" transform="rotate(135 94.42 334.21)"/><ellipse cx="95.49" cy="339.57" rx="2.29" ry="1.93" fill="#16169a" transform="rotate(33 95.49 339.57)"/><ellipse cx="95.04" cy="339.77" rx="0.8" ry="0.58" fill="#10109a" opacity="0.3" transform="rotate(33 95.49 339.57)"/><ellipse cx="124.4" cy="328.86" rx="2.62" ry="1.7" fill="#2222e0" transform="rotate(34 124.4 328.86)"/><ellipse cx="123.95" cy="328.84" rx="0.92" ry="0.51" fill="#10109a" opacity="0.3" transform="rotate(34 124.4 328.86)"/><ellipse cx="126.54" cy="335.28" rx="3.21" ry="2.19" fill="#2222e0" transform="rotate(132 126.54 335.28)"/><ellipse cx="126.64" cy="334.99" rx="1.13" ry="0.66" fill="#10109a" opacity="0.3" transform="rotate(132 126.54 335.28)"/><ellipse cx="134.04" cy="335.28" rx="3.19" ry="2.37" fill="#2222e0" transform="rotate(2 134.04 335.28)"/><ellipse cx="133.54" cy="335.69" rx="1.12" ry="0.71" fill="#10109a" opacity="0.3" transform="rotate(2 134.04 335.28)"/><ellipse cx="137.25" cy="332.07" rx="2.6" ry="1.84" fill="#2a2afa" transform="rotate(4 137.25 332.07)"/><ellipse cx="137.02" cy="331.86" rx="0.91" ry="0.55" fill="#10109a" opacity="0.3" transform="rotate(4 137.25 332.07)"/><ellipse cx="142.6" cy="333.14" rx="1.84" ry="1.42" fill="#16169a" transform="rotate(64 142.6 333.14)"/><ellipse cx="142.61" cy="332.67" rx="0.64" ry="0.43" fill="#10109a" opacity="0.3" transform="rotate(64 142.6 333.14)"/><ellipse cx="146.89" cy="327.79" rx="2.52" ry="2.04" fill="#1a1ad0" transform="rotate(2 146.89 327.79)"/><ellipse cx="146.58" cy="327.44" rx="0.88" ry="0.61" fill="#10109a" opacity="0.3" transform="rotate(2 146.89 327.79)"/><ellipse cx="135.11" cy="340.64" rx="2.67" ry="1.9" fill="#2424f4" transform="rotate(15 135.11 340.64)"/><ellipse cx="134.72" cy="340.66" rx="0.94" ry="0.57" fill="#10109a" opacity="0.3" transform="rotate(15 135.11 340.64)"/><ellipse cx="123.33" cy="344.92" rx="2.96" ry="2.28" fill="#2222e0" transform="rotate(82 123.33 344.92)"/><ellipse cx="123.71" cy="345.18" rx="1.04" ry="0.69" fill="#10109a" opacity="0.3" transform="rotate(82 123.33 344.92)"/><ellipse cx="101.92" cy="344.92" rx="2.39" ry="2.04" fill="#2a2afa" transform="rotate(174 101.92 344.92)"/><ellipse cx="101.64" cy="344.57" rx="0.83" ry="0.61" fill="#10109a" opacity="0.3" transform="rotate(174 101.92 344.92)"/><ellipse cx="107.27" cy="349.2" rx="2.32" ry="1.92" fill="#2020e8" transform="rotate(28 107.27 349.2)"/><ellipse cx="107.36" cy="349.52" rx="0.81" ry="0.57" fill="#10109a" opacity="0.3" transform="rotate(28 107.27 349.2)"/><ellipse cx="114.77" cy="352.41" rx="3.12" ry="2.65" fill="#16169a" transform="rotate(35 114.77 352.41)"/><ellipse cx="114.36" cy="352.48" rx="1.09" ry="0.8" fill="#10109a" opacity="0.3" transform="rotate(35 114.77 352.41)"/><ellipse cx="120.12" cy="355.63" rx="2.32" ry="1.66" fill="#16169a" transform="rotate(75 120.12 355.63)"/><ellipse cx="120.45" cy="355.61" rx="0.81" ry="0.5" fill="#10109a" opacity="0.3" transform="rotate(75 120.12 355.63)"/><ellipse cx="108.34" cy="356.7" rx="2.63" ry="1.78" fill="#2a2afa" transform="rotate(15 108.34 356.7)"/><ellipse cx="108.6" cy="356.78" rx="0.92" ry="0.54" fill="#10109a" opacity="0.3" transform="rotate(15 108.34 356.7)"/><ellipse cx="131.9" cy="357.77" rx="2.62" ry="1.94" fill="#16169a" transform="rotate(29 131.9 357.77)"/><ellipse cx="131.86" cy="357.85" rx="0.92" ry="0.58" fill="#10109a" opacity="0.3" transform="rotate(29 131.9 357.77)"/><ellipse cx="138.75" cy="358.84" rx="2.63" ry="2.04" fill="#2222e0" transform="rotate(73 138.75 358.84)"/><ellipse cx="139.09" cy="358.6" rx="0.92" ry="0.61" fill="#10109a" opacity="0.3" transform="rotate(73 138.75 358.84)"/><ellipse cx="125.47" cy="364.19" rx="3.5" ry="2.31" fill="#2a2afa" transform="rotate(85 125.47 364.19)"/><ellipse cx="125.34" cy="364.5" rx="1.23" ry="0.69" fill="#10109a" opacity="0.3" transform="rotate(85 125.47 364.19)"/><ellipse cx="134.04" cy="364.19" rx="2.33" ry="1.78" fill="#2424f4" transform="rotate(24 134.04 364.19)"/><ellipse cx="134.14" cy="364.1" rx="0.81" ry="0.53" fill="#10109a" opacity="0.3" transform="rotate(24 134.04 364.19)"/><ellipse cx="115.84" cy="365.26" rx="2.49" ry="1.95" fill="#2020e8" transform="rotate(168 115.84 365.26)"/><ellipse cx="116.1" cy="364.92" rx="0.87" ry="0.58" fill="#10109a" opacity="0.3" transform="rotate(168 115.84 365.26)"/><ellipse cx="109.41" cy="364.19" rx="2.55" ry="1.81" fill="#2424f4" transform="rotate(62 109.41 364.19)"/><ellipse cx="109.68" cy="364.11" rx="0.89" ry="0.54" fill="#10109a" opacity="0.3" transform="rotate(62 109.41 364.19)"/><ellipse cx="104.06" cy="369.55" rx="3.2" ry="2.45" fill="#2a2afa" transform="rotate(7 104.06 369.55)"/><ellipse cx="104.42" cy="369.84" rx="1.12" ry="0.74" fill="#10109a" opacity="0.3" transform="rotate(7 104.06 369.55)"/><ellipse cx="110.48" cy="371.69" rx="3.53" ry="2.4" fill="#1818b0" transform="rotate(114 110.48 371.69)"/><ellipse cx="110.02" cy="371.72" rx="1.24" ry="0.72" fill="#10109a" opacity="0.3" transform="rotate(114 110.48 371.69)"/><ellipse cx="122.26" cy="370.62" rx="2.81" ry="2.13" fill="#16169a" transform="rotate(164 122.26 370.62)"/><ellipse cx="122.24" cy="370.36" rx="0.98" ry="0.64" fill="#10109a" opacity="0.3" transform="rotate(164 122.26 370.62)"/><ellipse cx="120.12" cy="373.83" rx="2.76" ry="2.46" fill="#2a2afa" transform="rotate(91 120.12 373.83)"/><ellipse cx="119.96" cy="373.58" rx="0.97" ry="0.74" fill="#10109a" opacity="0.3" transform="rotate(91 120.12 373.83)"/><ellipse cx="97.64" cy="377.04" rx="3.04" ry="2.46" fill="#1a1ad0" transform="rotate(23 97.64 377.04)"/><ellipse cx="97.18" cy="377.33" rx="1.06" ry="0.74" fill="#10109a" opacity="0.3" transform="rotate(23 97.64 377.04)"/><ellipse cx="92.28" cy="377.04" rx="2.04" ry="1.58" fill="#1a1ad0" transform="rotate(164 92.28 377.04)"/><ellipse cx="92.28" cy="376.67" rx="0.71" ry="0.47" fill="#10109a" opacity="0.3" transform="rotate(164 92.28 377.04)"/><ellipse cx="102.99" cy="378.11" rx="2.67" ry="2.08" fill="#16169a" transform="rotate(41 102.99 378.11)"/><ellipse cx="102.74" cy="378" rx="0.93" ry="0.62" fill="#10109a" opacity="0.3" transform="rotate(41 102.99 378.11)"/><ellipse cx="108.34" cy="380.25" rx="3.04" ry="2.16" fill="#2a2afa" transform="rotate(154 108.34 380.25)"/><ellipse cx="108.04" cy="379.85" rx="1.06" ry="0.65" fill="#10109a" opacity="0.3" transform="rotate(154 108.34 380.25)"/><ellipse cx="117.98" cy="379.18" rx="3.14" ry="2.4" fill="#2424f4" transform="rotate(89 117.98 379.18)"/><ellipse cx="118.07" cy="379.67" rx="1.1" ry="0.72" fill="#10109a" opacity="0.3" transform="rotate(89 117.98 379.18)"/><ellipse cx="97.64" cy="382.39" rx="3.15" ry="2.17" fill="#16169a" transform="rotate(173 97.64 382.39)"/><ellipse cx="97.72" cy="382.77" rx="1.1" ry="0.65" fill="#10109a" opacity="0.3" transform="rotate(173 97.64 382.39)"/><ellipse cx="101.92" cy="385.61" rx="2.63" ry="1.93" fill="#1818b0" transform="rotate(2 101.92 385.61)"/><ellipse cx="101.9" cy="386.09" rx="0.92" ry="0.58" fill="#10109a" opacity="0.3" transform="rotate(2 101.92 385.61)"/><ellipse cx="107.27" cy="384.53" rx="2.01" ry="1.66" fill="#2222e0" transform="rotate(162 107.27 384.53)"/><ellipse cx="107.61" cy="384.68" rx="0.7" ry="0.5" fill="#10109a" opacity="0.3" transform="rotate(162 107.27 384.53)"/><ellipse cx="108.34" cy="393.1" rx="2.1" ry="1.65" fill="#16169a" transform="rotate(142 108.34 393.1)"/><ellipse cx="108.09" cy="393.39" rx="0.73" ry="0.5" fill="#10109a" opacity="0.3" transform="rotate(142 108.34 393.1)"/><ellipse cx="152.24" cy="336.35" rx="2.35" ry="1.74" fill="#2222e0" transform="rotate(119 152.24 336.35)"/><ellipse cx="152.15" cy="336.23" rx="0.82" ry="0.52" fill="#10109a" opacity="0.3" transform="rotate(119 152.24 336.35)"/><ellipse cx="157.59" cy="337.43" rx="2.7" ry="2.04" fill="#2222e0" transform="rotate(171 157.59 337.43)"/><ellipse cx="157.49" cy="337.87" rx="0.94" ry="0.61" fill="#10109a" opacity="0.3" transform="rotate(171 157.59 337.43)"/><ellipse cx="154.38" cy="344.92" rx="3.02" ry="2.24" fill="#2222e0" transform="rotate(70 154.38 344.92)"/><ellipse cx="154.88" cy="344.72" rx="1.06" ry="0.67" fill="#10109a" opacity="0.3" transform="rotate(70 154.38 344.92)"/><ellipse cx="160.81" cy="341.71" rx="2.67" ry="1.93" fill="#2222e0" transform="rotate(34 160.81 341.71)"/><ellipse cx="161.26" cy="341.46" rx="0.94" ry="0.58" fill="#10109a" opacity="0.3" transform="rotate(34 160.81 341.71)"/><ellipse cx="166.16" cy="345.99" rx="2.55" ry="1.71" fill="#1818b0" transform="rotate(141 166.16 345.99)"/><ellipse cx="166.63" cy="346.48" rx="0.89" ry="0.51" fill="#10109a" opacity="0.3" transform="rotate(141 166.16 345.99)"/><ellipse cx="160.81" cy="349.2" rx="2.81" ry="2.46" fill="#2424f4" transform="rotate(12 160.81 349.2)"/><ellipse cx="160.49" cy="348.77" rx="0.98" ry="0.74" fill="#10109a" opacity="0.3" transform="rotate(12 160.81 349.2)"/><ellipse cx="156.52" cy="352.41" rx="2.4" ry="2.03" fill="#1a1ad0" transform="rotate(16 156.52 352.41)"/><ellipse cx="156.85" cy="352.78" rx="0.84" ry="0.61" fill="#10109a" opacity="0.3" transform="rotate(16 156.52 352.41)"/><ellipse cx="152.24" cy="354.56" rx="2.99" ry="2.26" fill="#1a1ad0" transform="rotate(33 152.24 354.56)"/><ellipse cx="151.96" cy="355.05" rx="1.05" ry="0.68" fill="#10109a" opacity="0.3" transform="rotate(33 152.24 354.56)"/><ellipse cx="161.88" cy="353.49" rx="2.62" ry="1.82" fill="#2020e8" transform="rotate(156 161.88 353.49)"/><ellipse cx="162.34" cy="353.48" rx="0.92" ry="0.55" fill="#10109a" opacity="0.3" transform="rotate(156 161.88 353.49)"/><ellipse cx="154.38" cy="377.04" rx="2.56" ry="1.96" fill="#1818b0" transform="rotate(85 154.38 377.04)"/><ellipse cx="154.62" cy="376.57" rx="0.9" ry="0.59" fill="#10109a" opacity="0.3" transform="rotate(85 154.38 377.04)"/><ellipse cx="159.73" cy="383.46" rx="3.28" ry="2.34" fill="#16169a" transform="rotate(60 159.73 383.46)"/><ellipse cx="160.23" cy="383.59" rx="1.15" ry="0.7" fill="#10109a" opacity="0.3" transform="rotate(60 159.73 383.46)"/><ellipse cx="142.6" cy="386.68" rx="2.49" ry="1.65" fill="#1a1ad0" transform="rotate(69 142.6 386.68)"/><ellipse cx="142.91" cy="386.41" rx="0.87" ry="0.5" fill="#10109a" opacity="0.3" transform="rotate(69 142.6 386.68)"/><ellipse cx="168.3" cy="388.82" rx="2.68" ry="1.66" fill="#16169a" transform="rotate(111 168.3 388.82)"/><ellipse cx="168.64" cy="388.89" rx="0.94" ry="0.5" fill="#10109a" opacity="0.3" transform="rotate(111 168.3 388.82)"/><ellipse cx="170.44" cy="365.26" rx="1.29" ry="1.02" fill="#16169a" transform="rotate(54 170.44 365.26)"/><ellipse cx="113.7" cy="357.77" rx="2.19" ry="1.66" fill="#2424f4" transform="rotate(91 113.7 357.77)"/><ellipse cx="114" cy="357.7" rx="0.77" ry="0.5" fill="#10109a" opacity="0.3" transform="rotate(91 113.7 357.77)"/><ellipse cx="100.85" cy="373.83" rx="2.37" ry="1.74" fill="#1818b0" transform="rotate(34 100.85 373.83)"/><ellipse cx="101.2" cy="373.44" rx="0.83" ry="0.52" fill="#10109a" opacity="0.3" transform="rotate(34 100.85 373.83)"/><ellipse cx="128.69" cy="349.2" rx="1.93" ry="1.55" fill="#2424f4" transform="rotate(176 128.69 349.2)"/><ellipse cx="129.04" cy="349.32" rx="0.68" ry="0.46" fill="#10109a" opacity="0.3" transform="rotate(176 128.69 349.2)"/><ellipse cx="141.53" cy="344.92" rx="2.14" ry="1.47" fill="#2a2afa" transform="rotate(112 141.53 344.92)"/><ellipse cx="141.42" cy="344.9" rx="0.75" ry="0.44" fill="#10109a" opacity="0.3" transform="rotate(112 141.53 344.92)"/><ellipse cx="92.28" cy="325.65" rx="1.8" ry="1.27" fill="#2424f4" transform="rotate(52 92.28 325.65)"/><ellipse cx="112.63" cy="338.5" rx="2.03" ry="1.55" fill="#16169a" transform="rotate(60 112.63 338.5)"/><ellipse cx="112.68" cy="338.72" rx="0.71" ry="0.47" fill="#10109a" opacity="0.3" transform="rotate(60 112.63 338.5)"/><ellipse cx="149.03" cy="365.26" rx="1.75" ry="1.21" fill="#2a2afa" transform="rotate(139 149.03 365.26)"/><ellipse cx="162.95" cy="368.47" rx="1.88" ry="1.19" fill="#1818b0" transform="rotate(138 162.95 368.47)"/></g>
<g clip-path="url(#c20)" filter="url(#bl3)" opacity="0.45"><g opacity="0.5"><ellipse cx="48.9" cy="317.55" rx="1.24" ry="0.97" fill="#3060c0" opacity="0.75" transform="rotate(100 48.9 317.55)"/><circle cx="48.63" cy="317.59" r="0.51" fill="#70e8ff"/><circle cx="48.66" cy="318.12" r="0.65" fill="#70e8ff"/><circle cx="48.79" cy="318.12" r="0.58" fill="#70e8ff"/></g><g opacity="0.5"><ellipse cx="51.04" cy="321.84" rx="1.24" ry="0.97" fill="#3060c0" opacity="0.75" transform="rotate(11 51.04 321.84)"/><circle cx="50.97" cy="321.96" r="0.48" fill="#70e8ff"/><circle cx="51.12" cy="322.24" r="0.54" fill="#70e8ff"/><circle cx="51.46" cy="322.08" r="0.41" fill="#70e8ff"/></g><g opacity="0.5"><ellipse cx="53.18" cy="330.4" rx="1.55" ry="1.21" fill="#3060c0" opacity="0.75" transform="rotate(55 53.18 330.4)"/><circle cx="52.67" cy="330.74" r="0.48" fill="#70e8ff"/><circle cx="53.22" cy="330.42" r="0.52" fill="#70e8ff"/><circle cx="53.44" cy="331.08" r="0.46" fill="#70e8ff"/><circle cx="52.65" cy="331.26" r="0.46" fill="#70e8ff"/></g><g opacity="0.5"><ellipse cx="79.95" cy="321.84" rx="1.24" ry="0.97" fill="#3060c0" opacity="0.75" transform="rotate(1 79.95 321.84)"/><circle cx="80.12" cy="321.43" r="0.37" fill="#70e8ff"/><circle cx="80.23" cy="321.53" r="0.5" fill="#70e8ff"/><circle cx="80.56" cy="322.42" r="0.36" fill="#70e8ff"/></g><g opacity="0.5"><ellipse cx="81.02" cy="327.19" rx="1.55" ry="1.21" fill="#3060c0" opacity="0.75" transform="rotate(39 81.02 327.19)"/><circle cx="81.02" cy="326.94" r="0.55" fill="#70e8ff"/><circle cx="80.49" cy="327.31" r="0.4" fill="#70e8ff"/><circle cx="80.76" cy="327.82" r="0.56" fill="#70e8ff"/><circle cx="81.76" cy="327.5" r="0.58" fill="#70e8ff"/></g><g opacity="0.5"><ellipse cx="86.37" cy="330.4" rx="1.24" ry="0.97" fill="#3060c0" opacity="0.75" transform="rotate(85 86.37 330.4)"/><circle cx="86.77" cy="330.87" r="0.56" fill="#70e8ff"/><circle cx="86.6" cy="330.49" r="0.52" fill="#70e8ff"/><circle cx="86.49" cy="329.96" r="0.45" fill="#70e8ff"/></g><g opacity="0.5"><ellipse cx="79.95" cy="332.54" rx="1.55" ry="1.21" fill="#3060c0" opacity="0.75" transform="rotate(24 79.95 332.54)"/><circle cx="80.27" cy="332.73" r="0.4" fill="#70e8ff"/><circle cx="80" cy="332.29" r="0.63" fill="#70e8ff"/><circle cx="79.89" cy="331.84" r="0.46" fill="#70e8ff"/><circle cx="79.97" cy="332.65" r="0.36" fill="#70e8ff"/></g><g opacity="0.5"><ellipse cx="85.3" cy="340.04" rx="1.55" ry="1.21" fill="#3060c0" opacity="0.75" transform="rotate(54 85.3 340.04)"/><circle cx="85.12" cy="340.05" r="0.35" fill="#70e8ff"/><circle cx="85.49" cy="340.21" r="0.42" fill="#70e8ff"/><circle cx="85.08" cy="339.67" r="0.46" fill="#70e8ff"/><circle cx="85.59" cy="340.01" r="0.4" fill="#70e8ff"/></g><g opacity="0.5"><ellipse cx="34.98" cy="340.04" rx="1.55" ry="1.21" fill="#3060c0" opacity="0.75" transform="rotate(150 34.98 340.04)"/><circle cx="34.96" cy="339.62" r="0.51" fill="#70e8ff"/><circle cx="34.79" cy="340.14" r="0.64" fill="#70e8ff"/><circle cx="34.58" cy="339.54" r="0.6" fill="#70e8ff"/><circle cx="35.14" cy="339.74" r="0.41" fill="#70e8ff"/></g><g opacity="0.5"><ellipse cx="46.76" cy="344.32" rx="1.24" ry="0.97" fill="#3060c0" opacity="0.75" transform="rotate(84 46.76 344.32)"/><circle cx="46.69" cy="344.37" r="0.61" fill="#70e8ff"/><circle cx="46.87" cy="343.98" r="0.51" fill="#70e8ff"/><circle cx="46.38" cy="344.1" r="0.36" fill="#70e8ff"/></g><g opacity="0.5"><ellipse cx="62.82" cy="349.67" rx="1.55" ry="1.21" fill="#3060c0" opacity="0.75" transform="rotate(129 62.82 349.67)"/><circle cx="62.89" cy="349.66" r="0.48" fill="#70e8ff"/><circle cx="63.3" cy="349.63" r="0.41" fill="#70e8ff"/><circle cx="62.81" cy="349.68" r="0.56" fill="#70e8ff"/><circle cx="63.45" cy="350.2" r="0.49" fill="#70e8ff"/></g><g opacity="0.5"><ellipse cx="70.31" cy="350.74" rx="1.55" ry="1.21" fill="#3060c0" opacity="0.75" transform="rotate(180 70.31 350.74)"/><circle cx="71.17" cy="351.17" r="0.41" fill="#70e8ff"/><circle cx="71" cy="351.03" r="0.65" fill="#70e8ff"/><circle cx="70.71" cy="350.86" r="0.47" fill="#70e8ff"/><circle cx="70.49" cy="350.83" r="0.43" fill="#70e8ff"/></g><g opacity="0.5"><ellipse cx="77.81" cy="350.74" rx="1.55" ry="1.21" fill="#3060c0" opacity="0.75" transform="rotate(119 77.81 350.74)"/><circle cx="77.85" cy="351.11" r="0.36" fill="#70e8ff"/><circle cx="77.39" cy="350.54" r="0.62" fill="#70e8ff"/><circle cx="77.31" cy="350.06" r="0.57" fill="#70e8ff"/><circle cx="77.7" cy="351.15" r="0.59" fill="#70e8ff"/></g><g opacity="1"><ellipse cx="40.33" cy="362.52" rx="2.17" ry="1.7" fill="#3060c0" opacity="0.75" transform="rotate(51 40.33 362.52)"/><circle cx="41.15" cy="361.68" r="0.65" fill="#70e8ff"/><circle cx="39.87" cy="363.83" r="0.5" fill="#70e8ff"/><circle cx="40.44" cy="363.48" r="0.58" fill="#70e8ff"/><circle cx="40" cy="363.22" r="0.51" fill="#70e8ff"/><circle cx="40.13" cy="362.78" r="0.54" fill="#70e8ff"/></g><g opacity="1"><ellipse cx="48.9" cy="365.73" rx="2.17" ry="1.7" fill="#3060c0" opacity="0.75" transform="rotate(163 48.9 365.73)"/><circle cx="48.9" cy="365.79" r="0.63" fill="#70e8ff"/><circle cx="48.34" cy="365.92" r="0.62" fill="#70e8ff"/><circle cx="48.57" cy="364.5" r="0.47" fill="#70e8ff"/><circle cx="48.5" cy="366.86" r="0.59" fill="#70e8ff"/><circle cx="49.9" cy="366.14" r="0.58" fill="#70e8ff"/></g><g opacity="1"><ellipse cx="36.05" cy="368.95" rx="2.17" ry="1.7" fill="#3060c0" opacity="0.75" transform="rotate(114 36.05 368.95)"/><circle cx="35.98" cy="368.98" r="0.58" fill="#70e8ff"/><circle cx="36.72" cy="369.2" r="0.46" fill="#70e8ff"/><circle cx="35.99" cy="368.9" r="0.59" fill="#70e8ff"/><circle cx="36.2" cy="368.67" r="0.56" fill="#70e8ff"/><circle cx="35.9" cy="368.87" r="0.56" fill="#70e8ff"/></g><g opacity="0.5"><ellipse cx="24.27" cy="374.3" rx="1.24" ry="0.97" fill="#3060c0" opacity="0.75" transform="rotate(100 24.27 374.3)"/><circle cx="23.75" cy="373.63" r="0.5" fill="#70e8ff"/><circle cx="24.34" cy="373.87" r="0.5" fill="#70e8ff"/><circle cx="24.17" cy="374.35" r="0.58" fill="#70e8ff"/></g><g opacity="1"><ellipse cx="22.13" cy="381.79" rx="2.17" ry="1.7" fill="#3060c0" opacity="0.75" transform="rotate(7 22.13 381.79)"/><circle cx="21.62" cy="382.29" r="0.48" fill="#70e8ff"/><circle cx="21.8" cy="382.61" r="0.38" fill="#70e8ff"/><circle cx="23.22" cy="381.29" r="0.43" fill="#70e8ff"/><circle cx="22.27" cy="382.3" r="0.53" fill="#70e8ff"/><circle cx="21.98" cy="382.21" r="0.36" fill="#70e8ff"/></g><g opacity="1"><ellipse cx="27.48" cy="386.08" rx="2.17" ry="1.7" fill="#3060c0" opacity="0.75" transform="rotate(3 27.48 386.08)"/><circle cx="27.62" cy="385.27" r="0.51" fill="#70e8ff"/><circle cx="27.98" cy="385.75" r="0.36" fill="#70e8ff"/><circle cx="27.91" cy="385.78" r="0.53" fill="#70e8ff"/><circle cx="28.15" cy="386.74" r="0.45" fill="#70e8ff"/><circle cx="26.66" cy="385.92" r="0.38" fill="#70e8ff"/></g><g opacity="0.5"><ellipse cx="15.71" cy="389.29" rx="1.55" ry="1.21" fill="#3060c0" opacity="0.75" transform="rotate(99 15.71 389.29)"/><circle cx="15.61" cy="389.5" r="0.63" fill="#70e8ff"/><circle cx="15.85" cy="389.34" r="0.42" fill="#70e8ff"/><circle cx="15.2" cy="389.94" r="0.45" fill="#70e8ff"/><circle cx="15.59" cy="389.48" r="0.62" fill="#70e8ff"/></g><g opacity="0.5"><ellipse cx="34.98" cy="382.86" rx="1.55" ry="1.21" fill="#3060c0" opacity="0.75" transform="rotate(122 34.98 382.86)"/><circle cx="34.72" cy="382.59" r="0.51" fill="#70e8ff"/><circle cx="34.02" cy="382.75" r="0.45" fill="#70e8ff"/><circle cx="34.28" cy="382.31" r="0.56" fill="#70e8ff"/><circle cx="34.41" cy="382.57" r="0.41" fill="#70e8ff"/></g><g opacity="0.5"><ellipse cx="88.51" cy="376.44" rx="1.24" ry="0.97" fill="#3060c0" opacity="0.75" transform="rotate(77 88.51 376.44)"/><circle cx="88.58" cy="375.91" r="0.6" fill="#70e8ff"/><circle cx="88.64" cy="376.74" r="0.42" fill="#70e8ff"/><circle cx="88.53" cy="376.72" r="0.64" fill="#70e8ff"/></g><g opacity="0.5"><ellipse cx="17.85" cy="365.73" rx="1.24" ry="0.97" fill="#3060c0" opacity="0.75" transform="rotate(13 17.85 365.73)"/><circle cx="17.6" cy="365.07" r="0.56" fill="#70e8ff"/><circle cx="17.84" cy="365.67" r="0.48" fill="#70e8ff"/><circle cx="18.19" cy="365.57" r="0.54" fill="#70e8ff"/></g><g opacity="0.5"><ellipse cx="26.41" cy="380.72" rx="1.24" ry="0.97" fill="#3060c0" opacity="0.75" transform="rotate(161 26.41 380.72)"/><circle cx="26.51" cy="380.48" r="0.63" fill="#70e8ff"/><circle cx="26.92" cy="381.09" r="0.35" fill="#70e8ff"/><circle cx="26.28" cy="380.25" r="0.54" fill="#70e8ff"/></g></g>
<g clip-path="url(#c21)" filter="url(#bl3)" opacity="0.4"><g opacity="1"><ellipse cx="102.99" cy="321.84" rx="2.48" ry="1.94" fill="#3060c0" opacity="0.75" transform="rotate(26 102.99 321.84)"/><circle cx="104.14" cy="322.9" r="0.4" fill="#60d0ff"/><circle cx="102.99" cy="322.15" r="0.47" fill="#60d0ff"/><circle cx="102.98" cy="320.17" r="0.56" fill="#60d0ff"/><circle cx="103.55" cy="321.86" r="0.45" fill="#60d0ff"/><circle cx="103.18" cy="321.88" r="0.64" fill="#60d0ff"/></g><g opacity="1"><ellipse cx="96.57" cy="338.97" rx="2.79" ry="2.18" fill="#3060c0" opacity="0.75" transform="rotate(27 96.57 338.97)"/><circle cx="97.08" cy="339.5" r="0.6" fill="#60d0ff"/><circle cx="95.92" cy="337.6" r="0.45" fill="#60d0ff"/><circle cx="95.96" cy="340.17" r="0.46" fill="#60d0ff"/><circle cx="95.3" cy="337.95" r="0.45" fill="#60d0ff"/><circle cx="96.92" cy="338.99" r="0.44" fill="#60d0ff"/><circle cx="96.59" cy="338.94" r="0.63" fill="#60d0ff"/></g><g opacity="1"><ellipse cx="102.99" cy="344.32" rx="2.48" ry="1.94" fill="#3060c0" opacity="0.75" transform="rotate(53 102.99 344.32)"/><circle cx="103.39" cy="343.57" r="0.55" fill="#60d0ff"/><circle cx="104.6" cy="344.86" r="0.6" fill="#60d0ff"/><circle cx="103.32" cy="344.96" r="0.46" fill="#60d0ff"/><circle cx="103.79" cy="345.47" r="0.54" fill="#60d0ff"/><circle cx="103.16" cy="344.55" r="0.58" fill="#60d0ff"/></g><g opacity="1"><ellipse cx="107.27" cy="349.67" rx="2.79" ry="2.18" fill="#3060c0" opacity="0.75" transform="rotate(155 107.27 349.67)"/><circle cx="106.8" cy="349.43" r="0.37" fill="#60d0ff"/><circle cx="106.66" cy="350.76" r="0.59" fill="#60d0ff"/><circle cx="105.77" cy="348.69" r="0.38" fill="#60d0ff"/><circle cx="109.02" cy="349.45" r="0.56" fill="#60d0ff"/><circle cx="107.25" cy="349.67" r="0.45" fill="#60d0ff"/><circle cx="107.84" cy="349.15" r="0.46" fill="#60d0ff"/></g><g opacity="1"><ellipse cx="109.41" cy="357.17" rx="2.79" ry="2.18" fill="#3060c0" opacity="0.75" transform="rotate(101 109.41 357.17)"/><circle cx="109.37" cy="356.85" r="0.6" fill="#60d0ff"/><circle cx="108.73" cy="357.69" r="0.6" fill="#60d0ff"/><circle cx="109.52" cy="356.79" r="0.59" fill="#60d0ff"/><circle cx="107.83" cy="357.16" r="0.49" fill="#60d0ff"/><circle cx="111.17" cy="357.54" r="0.62" fill="#60d0ff"/><circle cx="110.32" cy="357.4" r="0.57" fill="#60d0ff"/></g><g opacity="1"><ellipse cx="115.84" cy="365.73" rx="2.48" ry="1.94" fill="#3060c0" opacity="0.75" transform="rotate(127 115.84 365.73)"/><circle cx="117.1" cy="366.56" r="0.39" fill="#60d0ff"/><circle cx="114.19" cy="365.72" r="0.59" fill="#60d0ff"/><circle cx="116.1" cy="364.48" r="0.49" fill="#60d0ff"/><circle cx="116.21" cy="365.74" r="0.57" fill="#60d0ff"/><circle cx="114.41" cy="365.73" r="0.65" fill="#60d0ff"/></g><g opacity="1"><ellipse cx="125.47" cy="363.59" rx="3.1" ry="2.42" fill="#3060c0" opacity="0.75" transform="rotate(101 125.47 363.59)"/><circle cx="127.35" cy="364.12" r="0.41" fill="#60d0ff"/><circle cx="124.5" cy="362.83" r="0.63" fill="#60d0ff"/><circle cx="125.35" cy="363.73" r="0.47" fill="#60d0ff"/><circle cx="125.64" cy="363.66" r="0.63" fill="#60d0ff"/><circle cx="125.54" cy="363.63" r="0.53" fill="#60d0ff"/><circle cx="126.12" cy="363.5" r="0.58" fill="#60d0ff"/></g><g opacity="1"><ellipse cx="135.11" cy="363.59" rx="2.48" ry="1.94" fill="#3060c0" opacity="0.75" transform="rotate(96 135.11 363.59)"/><circle cx="135.08" cy="363.62" r="0.5" fill="#60d0ff"/><circle cx="134.97" cy="363.31" r="0.53" fill="#60d0ff"/><circle cx="135.73" cy="364.53" r="0.49" fill="#60d0ff"/><circle cx="135.72" cy="364.2" r="0.43" fill="#60d0ff"/><circle cx="133.98" cy="362.82" r="0.49" fill="#60d0ff"/></g><g opacity="1"><ellipse cx="131.9" cy="358.24" rx="2.48" ry="1.94" fill="#3060c0" opacity="0.75" transform="rotate(33 131.9 358.24)"/><circle cx="131.89" cy="358.44" r="0.41" fill="#60d0ff"/><circle cx="132.02" cy="357.59" r="0.36" fill="#60d0ff"/><circle cx="130.75" cy="358.86" r="0.4" fill="#60d0ff"/><circle cx="130.95" cy="359.53" r="0.44" fill="#60d0ff"/><circle cx="131.33" cy="357.7" r="0.42" fill="#60d0ff"/></g><g opacity="1"><ellipse cx="120.12" cy="372.16" rx="2.79" ry="2.18" fill="#3060c0" opacity="0.75" transform="rotate(133 120.12 372.16)"/><circle cx="118.69" cy="373.41" r="0.58" fill="#60d0ff"/><circle cx="120.39" cy="372.88" r="0.54" fill="#60d0ff"/><circle cx="119.56" cy="373.26" r="0.42" fill="#60d0ff"/><circle cx="120.15" cy="371.68" r="0.65" fill="#60d0ff"/><circle cx="121.74" cy="372.8" r="0.4" fill="#60d0ff"/><circle cx="120.28" cy="370.23" r="0.64" fill="#60d0ff"/></g><g opacity="1"><ellipse cx="111.55" cy="373.23" rx="2.79" ry="2.18" fill="#3060c0" opacity="0.75" transform="rotate(86 111.55 373.23)"/><circle cx="111.89" cy="371.72" r="0.4" fill="#60d0ff"/><circle cx="112.21" cy="372.48" r="0.4" fill="#60d0ff"/><circle cx="111.59" cy="372.9" r="0.35" fill="#60d0ff"/><circle cx="111.93" cy="372.13" r="0.41" fill="#60d0ff"/><circle cx="110.1" cy="374.19" r="0.58" fill="#60d0ff"/><circle cx="112.27" cy="373.31" r="0.4" fill="#60d0ff"/></g><g opacity="1"><ellipse cx="105.13" cy="370.02" rx="2.17" ry="1.7" fill="#3060c0" opacity="0.75" transform="rotate(56 105.13 370.02)"/><circle cx="105.66" cy="370.89" r="0.47" fill="#60d0ff"/><circle cx="104.79" cy="369.08" r="0.45" fill="#60d0ff"/><circle cx="104.69" cy="370.12" r="0.54" fill="#60d0ff"/><circle cx="105.09" cy="370" r="0.6" fill="#60d0ff"/><circle cx="105.04" cy="369.58" r="0.42" fill="#60d0ff"/></g><g opacity="1"><ellipse cx="97.64" cy="376.44" rx="2.79" ry="2.18" fill="#3060c0" opacity="0.75" transform="rotate(26 97.64 376.44)"/><circle cx="98.87" cy="375.35" r="0.36" fill="#60d0ff"/><circle cx="96.97" cy="376.25" r="0.49" fill="#60d0ff"/><circle cx="98.86" cy="375.46" r="0.46" fill="#60d0ff"/><circle cx="98.34" cy="375.99" r="0.37" fill="#60d0ff"/><circle cx="97.4" cy="376.64" r="0.65" fill="#60d0ff"/><circle cx="99.05" cy="376.17" r="0.47" fill="#60d0ff"/></g><g opacity="1"><ellipse cx="101.92" cy="379.65" rx="2.48" ry="1.94" fill="#3060c0" opacity="0.75" transform="rotate(141 101.92 379.65)"/><circle cx="102.14" cy="379.59" r="0.39" fill="#60d0ff"/><circle cx="102.07" cy="379.13" r="0.45" fill="#60d0ff"/><circle cx="100.9" cy="379.72" r="0.58" fill="#60d0ff"/><circle cx="101.09" cy="379.19" r="0.47" fill="#60d0ff"/><circle cx="101.72" cy="379.29" r="0.64" fill="#60d0ff"/></g><g opacity="1"><ellipse cx="108.34" cy="379.65" rx="2.79" ry="2.18" fill="#3060c0" opacity="0.75" transform="rotate(75 108.34 379.65)"/><circle cx="109.3" cy="380.03" r="0.6" fill="#60d0ff"/><circle cx="108.28" cy="381.14" r="0.4" fill="#60d0ff"/><circle cx="108.75" cy="379.85" r="0.46" fill="#60d0ff"/><circle cx="109.24" cy="379.9" r="0.47" fill="#60d0ff"/><circle cx="108.6" cy="380.01" r="0.43" fill="#60d0ff"/><circle cx="109.52" cy="378.52" r="0.57" fill="#60d0ff"/></g><g opacity="1"><ellipse cx="117.98" cy="378.58" rx="2.79" ry="2.18" fill="#3060c0" opacity="0.75" transform="rotate(49 117.98 378.58)"/><circle cx="116.2" cy="379.38" r="0.57" fill="#60d0ff"/><circle cx="118.7" cy="378.35" r="0.54" fill="#60d0ff"/><circle cx="118.38" cy="377.66" r="0.4" fill="#60d0ff"/><circle cx="119.47" cy="378.97" r="0.38" fill="#60d0ff"/><circle cx="117.5" cy="378.02" r="0.41" fill="#60d0ff"/><circle cx="117.28" cy="378.5" r="0.44" fill="#60d0ff"/></g><g opacity="1"><ellipse cx="120.12" cy="380.72" rx="2.48" ry="1.94" fill="#3060c0" opacity="0.75" transform="rotate(167 120.12 380.72)"/><circle cx="120.22" cy="381.02" r="0.58" fill="#60d0ff"/><circle cx="119.91" cy="380.84" r="0.52" fill="#60d0ff"/><circle cx="120.22" cy="380.56" r="0.4" fill="#60d0ff"/><circle cx="120.06" cy="381.12" r="0.56" fill="#60d0ff"/><circle cx="121.22" cy="381.63" r="0.48" fill="#60d0ff"/></g><g opacity="1"><ellipse cx="100.85" cy="385.01" rx="2.17" ry="1.7" fill="#3060c0" opacity="0.75" transform="rotate(23 100.85 385.01)"/><circle cx="101.5" cy="384.21" r="0.61" fill="#60d0ff"/><circle cx="101.14" cy="385" r="0.49" fill="#60d0ff"/><circle cx="100.11" cy="385.72" r="0.41" fill="#60d0ff"/><circle cx="101.76" cy="385.84" r="0.43" fill="#60d0ff"/><circle cx="101.33" cy="385.15" r="0.53" fill="#60d0ff"/></g><g opacity="1"><ellipse cx="108.34" cy="392.5" rx="2.17" ry="1.7" fill="#3060c0" opacity="0.75" transform="rotate(75 108.34 392.5)"/><circle cx="108.42" cy="392.83" r="0.64" fill="#60d0ff"/><circle cx="108.15" cy="392.14" r="0.49" fill="#60d0ff"/><circle cx="107.61" cy="393.8" r="0.59" fill="#60d0ff"/><circle cx="108.64" cy="391.39" r="0.45" fill="#60d0ff"/><circle cx="108.14" cy="391.57" r="0.37" fill="#60d0ff"/></g><g opacity="1"><ellipse cx="126.54" cy="335.75" rx="2.17" ry="1.7" fill="#3060c0" opacity="0.75" transform="rotate(75 126.54 335.75)"/><circle cx="127.4" cy="336.09" r="0.6" fill="#60d0ff"/><circle cx="126.53" cy="335.68" r="0.43" fill="#60d0ff"/><circle cx="126.47" cy="335.33" r="0.36" fill="#60d0ff"/><circle cx="126.56" cy="335.83" r="0.47" fill="#60d0ff"/><circle cx="127.56" cy="335.02" r="0.4" fill="#60d0ff"/></g><g opacity="1"><ellipse cx="134.04" cy="335.75" rx="2.48" ry="1.94" fill="#3060c0" opacity="0.75" transform="rotate(128 134.04 335.75)"/><circle cx="134.27" cy="336.36" r="0.43" fill="#60d0ff"/><circle cx="135.17" cy="335.15" r="0.6" fill="#60d0ff"/><circle cx="132.82" cy="336.3" r="0.54" fill="#60d0ff"/><circle cx="135.23" cy="335.3" r="0.63" fill="#60d0ff"/><circle cx="133.53" cy="334.22" r="0.4" fill="#60d0ff"/></g><g opacity="1"><ellipse cx="135.11" cy="340.04" rx="2.48" ry="1.94" fill="#3060c0" opacity="0.75" transform="rotate(3 135.11 340.04)"/><circle cx="134.95" cy="340.3" r="0.42" fill="#60d0ff"/><circle cx="135.09" cy="340.18" r="0.61" fill="#60d0ff"/><circle cx="135.64" cy="341" r="0.43" fill="#60d0ff"/><circle cx="135.31" cy="341.47" r="0.39" fill="#60d0ff"/><circle cx="134.75" cy="340.21" r="0.35" fill="#60d0ff"/></g><g opacity="1"><ellipse cx="138.32" cy="332.54" rx="2.17" ry="1.7" fill="#3060c0" opacity="0.75" transform="rotate(72 138.32 332.54)"/><circle cx="138.85" cy="331.93" r="0.37" fill="#60d0ff"/><circle cx="138.53" cy="332.57" r="0.64" fill="#60d0ff"/><circle cx="137.77" cy="331.16" r="0.47" fill="#60d0ff"/><circle cx="138.68" cy="331.58" r="0.51" fill="#60d0ff"/><circle cx="138.52" cy="332.7" r="0.4" fill="#60d0ff"/></g><g opacity="1"><ellipse cx="142.6" cy="333.61" rx="2.17" ry="1.7" fill="#3060c0" opacity="0.75" transform="rotate(162 142.6 333.61)"/><circle cx="142.41" cy="332.38" r="0.51" fill="#60d0ff"/><circle cx="142.9" cy="334.89" r="0.59" fill="#60d0ff"/><circle cx="141.42" cy="333.36" r="0.49" fill="#60d0ff"/><circle cx="143.46" cy="334.35" r="0.59" fill="#60d0ff"/><circle cx="142.6" cy="333.51" r="0.53" fill="#60d0ff"/></g><g opacity="1"><ellipse cx="124.4" cy="344.32" rx="2.17" ry="1.7" fill="#3060c0" opacity="0.75" transform="rotate(51 124.4 344.32)"/><circle cx="124.69" cy="344.48" r="0.44" fill="#60d0ff"/><circle cx="124.59" cy="344.53" r="0.39" fill="#60d0ff"/><circle cx="124.7" cy="343.66" r="0.63" fill="#60d0ff"/><circle cx="125.05" cy="343.67" r="0.59" fill="#60d0ff"/><circle cx="124.8" cy="345.16" r="0.35" fill="#60d0ff"/></g><g opacity="1"><ellipse cx="156.52" cy="344.32" rx="2.48" ry="1.94" fill="#3060c0" opacity="0.75" transform="rotate(137 156.52 344.32)"/><circle cx="156.39" cy="344.23" r="0.5" fill="#60d0ff"/><circle cx="156.91" cy="343.47" r="0.4" fill="#60d0ff"/><circle cx="157.08" cy="344.29" r="0.46" fill="#60d0ff"/><circle cx="156.22" cy="343.51" r="0.61" fill="#60d0ff"/><circle cx="156.52" cy="344.32" r="0.56" fill="#60d0ff"/></g><g opacity="1"><ellipse cx="160.81" cy="348.6" rx="2.48" ry="1.94" fill="#3060c0" opacity="0.75" transform="rotate(154 160.81 348.6)"/><circle cx="160.06" cy="347.91" r="0.6" fill="#60d0ff"/><circle cx="161.58" cy="349.25" r="0.51" fill="#60d0ff"/><circle cx="162.38" cy="348.39" r="0.58" fill="#60d0ff"/><circle cx="160.61" cy="348.16" r="0.63" fill="#60d0ff"/><circle cx="161.39" cy="348.7" r="0.39" fill="#60d0ff"/></g><g opacity="1"><ellipse cx="153.31" cy="355.03" rx="2.48" ry="1.94" fill="#3060c0" opacity="0.75" transform="rotate(96 153.31 355.03)"/><circle cx="154.97" cy="354.91" r="0.57" fill="#60d0ff"/><circle cx="154.13" cy="354.31" r="0.36" fill="#60d0ff"/><circle cx="154.27" cy="356.13" r="0.64" fill="#60d0ff"/><circle cx="152.52" cy="355.91" r="0.37" fill="#60d0ff"/><circle cx="152.99" cy="355.13" r="0.54" fill="#60d0ff"/></g><g opacity="1"><ellipse cx="158.66" cy="355.03" rx="2.17" ry="1.7" fill="#3060c0" opacity="0.75" transform="rotate(113 158.66 355.03)"/><circle cx="158.91" cy="355.17" r="0.63" fill="#60d0ff"/><circle cx="158.59" cy="354.45" r="0.59" fill="#60d0ff"/><circle cx="158.39" cy="354.7" r="0.37" fill="#60d0ff"/><circle cx="157.8" cy="355.07" r="0.56" fill="#60d0ff"/><circle cx="159.57" cy="356.16" r="0.38" fill="#60d0ff"/></g><g opacity="0.5"><ellipse cx="166.16" cy="346.46" rx="1.86" ry="1.45" fill="#3060c0" opacity="0.75" transform="rotate(40 166.16 346.46)"/><circle cx="167.34" cy="346.93" r="0.39" fill="#60d0ff"/><circle cx="165.84" cy="347.06" r="0.54" fill="#60d0ff"/><circle cx="166.63" cy="346.75" r="0.42" fill="#60d0ff"/><circle cx="166.66" cy="345.58" r="0.45" fill="#60d0ff"/></g><g opacity="0.5"><ellipse cx="158.66" cy="337.9" rx="1.86" ry="1.45" fill="#3060c0" opacity="0.75" transform="rotate(137 158.66 337.9)"/><circle cx="158.26" cy="337.27" r="0.37" fill="#60d0ff"/><circle cx="157.86" cy="336.96" r="0.41" fill="#60d0ff"/><circle cx="158.48" cy="338.02" r="0.65" fill="#60d0ff"/><circle cx="157.57" cy="338.5" r="0.58" fill="#60d0ff"/></g><g opacity="1"><ellipse cx="144.75" cy="387.15" rx="2.17" ry="1.7" fill="#3060c0" opacity="0.75" transform="rotate(90 144.75 387.15)"/><circle cx="145.25" cy="387.41" r="0.63" fill="#60d0ff"/><circle cx="144.69" cy="387.37" r="0.48" fill="#60d0ff"/><circle cx="144.62" cy="386.84" r="0.63" fill="#60d0ff"/><circle cx="145.86" cy="386.95" r="0.43" fill="#60d0ff"/><circle cx="145.14" cy="387.88" r="0.52" fill="#60d0ff"/></g><g opacity="0.5"><ellipse cx="168.3" cy="388.22" rx="1.86" ry="1.45" fill="#3060c0" opacity="0.75" transform="rotate(61 168.3 388.22)"/><circle cx="167.99" cy="387.66" r="0.63" fill="#60d0ff"/><circle cx="168.84" cy="387.75" r="0.64" fill="#60d0ff"/><circle cx="168.27" cy="387.62" r="0.41" fill="#60d0ff"/><circle cx="168.19" cy="388.45" r="0.42" fill="#60d0ff"/></g><g opacity="0.5"><ellipse cx="94.42" cy="333.61" rx="1.86" ry="1.45" fill="#3060c0" opacity="0.75" transform="rotate(76 94.42 333.61)"/><circle cx="94.4" cy="333.68" r="0.49" fill="#60d0ff"/><circle cx="94.4" cy="333.01" r="0.41" fill="#60d0ff"/><circle cx="94.12" cy="332.97" r="0.51" fill="#60d0ff"/><circle cx="94.18" cy="333.36" r="0.6" fill="#60d0ff"/></g><g opacity="0.5"><ellipse cx="145.82" cy="327.19" rx="1.86" ry="1.45" fill="#3060c0" opacity="0.75" transform="rotate(90 145.82 327.19)"/><circle cx="145.76" cy="327.91" r="0.61" fill="#60d0ff"/><circle cx="144.88" cy="327.09" r="0.51" fill="#60d0ff"/><circle cx="145.55" cy="327.02" r="0.43" fill="#60d0ff"/><circle cx="147.05" cy="327.21" r="0.57" fill="#60d0ff"/></g><g opacity="0.5"><ellipse cx="113.7" cy="350.74" rx="1.86" ry="1.45" fill="#3060c0" opacity="0.75" transform="rotate(104 113.7 350.74)"/><circle cx="113.72" cy="350.69" r="0.62" fill="#60d0ff"/><circle cx="113.46" cy="349.77" r="0.4" fill="#60d0ff"/><circle cx="113.18" cy="351.13" r="0.5" fill="#60d0ff"/><circle cx="113.78" cy="350.47" r="0.41" fill="#60d0ff"/></g><g opacity="0.5"><ellipse cx="139.39" cy="358.24" rx="1.86" ry="1.45" fill="#3060c0" opacity="0.75" transform="rotate(32 139.39 358.24)"/><circle cx="139.45" cy="358.31" r="0.48" fill="#60d0ff"/><circle cx="140.16" cy="358.11" r="0.45" fill="#60d0ff"/><circle cx="140.41" cy="358.61" r="0.48" fill="#60d0ff"/><circle cx="140.07" cy="358.85" r="0.35" fill="#60d0ff"/></g></g>
<line x1="59.6" y1="220.4" x2="78.1" y2="220.4" stroke="#e8e8e8" stroke-width="0.6"/>
<rect x="66.6" y="221.7" width="4.5" height="0.9" fill="#9a9a9a"/>
<line x1="59.6" y1="303.1" x2="78.1" y2="303.1" stroke="#e8e8e8" stroke-width="0.6"/>
<rect x="66.6" y="304.4" width="4.5" height="0.9" fill="#9a9a9a"/>
<line x1="59.6" y1="385.2" x2="78.1" y2="385.2" stroke="#e8e8e8" stroke-width="0.6"/>
<rect x="66.6" y="386.5" width="4.5" height="0.9" fill="#9a9a9a"/>
<line x1="141.5" y1="220.6" x2="160" y2="220.6" stroke="#e8e8e8" stroke-width="0.6"/>
<rect x="148.5" y="221.9" width="4.5" height="0.9" fill="#9a9a9a"/>
<line x1="141.5" y1="303.3" x2="160" y2="303.3" stroke="#e8e8e8" stroke-width="0.6"/>
<rect x="148.5" y="304.6" width="4.5" height="0.9" fill="#9a9a9a"/>
<line x1="141.5" y1="385.4" x2="160" y2="385.4" stroke="#e8e8e8" stroke-width="0.6"/>
<rect x="148.5" y="386.7" width="4.5" height="0.9" fill="#9a9a9a"/>
<text x="10.4" y="159.2" font-size="8.2" font-weight="bold" fill="#3b3bff" stroke-width="0.12" stroke="#3b3bff">DAPI</text>
<text x="165.3" y="159.1" font-size="8.2" font-weight="bold" text-anchor="end" fill="#3b3bff" stroke-width="0.12" stroke="#3b3bff">DAPI</text>
<text x="9.8" y="242.9" font-size="8.3" font-weight="bold" fill="#3df23d" stroke-width="0.12" stroke="#3df23d">Ki-67</text>
<text x="164.8" y="242.4" font-size="8.3" font-weight="bold" text-anchor="end" fill="#3df23d" stroke-width="0.12" stroke="#3df23d">Ki-67</text>
<text x="11" y="325.6" font-size="8.2" font-weight="bold" fill="#f0f03c" stroke-width="0.12" stroke="#f0f03c">Merge</text>
<text x="170.4" y="325" font-size="8.2" font-weight="bold" text-anchor="end" fill="#f0f03c" stroke-width="0.12" stroke="#f0f03c">Merge</text>
<line x1="225.8" y1="16.9" x2="225.8" y2="112.8" stroke="#b8f5b0" stroke-width="0.9"/>
<line x1="251.1" y1="16.9" x2="251.1" y2="112.8" stroke="#b5f1f8" stroke-width="0.9"/>
<path d="M201.1 112.8L201.6 112.8L202.1 112.8L202.6 112.8L203.1 112.8L203.6 112.8L204.1 112.8L204.6 112.8L205.1 112.8L205.6 112.8L206.1 112.8L206.6 112.8L207.1 112.8L207.6 112.8L208.1 112.8L208.6 112.8L209.1 112.8L209.6 112.8L210.1 112.8L210.6 112.8L211.1 112.8L211.6 112.8L212.1 112.8L212.6 112.8L213.1 112.8L213.6 112.8L214.1 112.8L214.6 112.8L215.1 112.8L215.6 112.8L216.1 112.8L216.6 112.8L217.1 112.8L217.6 112.8L218.1 112.8L218.6 112.8L219.1 112.8L219.6 112.8L220.1 112.8L220.6 112.8L221.1 112.8L221.6 112.8L222.1 112.8L222.6 112.8L223.1 112.79L223.6 106.05L224.1 90.94L224.6 63.3L225.1 36.3L225.5 22.8L225.6 25.32L226.1 38.28L226.6 52.5L227.1 65.64L227.6 76.8L228.1 85.26L228.6 91.11L229.1 94.98L229.6 97.86L230.1 99.66L230.6 101.3L231.1 102.29L231.6 103.17L232.1 103.62L232.6 104.02L233.1 104.25L233.6 103.83L234.1 103.59L234.6 103.19L235.1 105.34L235.6 105.37L236.1 104.81L236.6 104.42L237.1 103.99L237.6 104.33L238.1 105.74L238.6 104.72L239.1 104.05L239.6 104.42L240.1 104.11L240.6 104.71L241.1 104.7L241.6 104.47L242.1 104.32L242.6 104.42L243.1 104.42L243.6 104.81L244.1 104.05L244.6 104.03L245.1 103.19L245.6 102.86L246.1 103.11L246.6 103.03L247.1 102.71L247.6 101.55L248.1 101.22L248.6 100.96L249.1 100.31L249.6 100.01L250.1 99.89L250.6 100L251.1 100.52L251.6 101.17L252.1 101.96L252.6 102.85L253.1 103.82L253.6 104.83L254.1 105.85L254.6 106.85L255.1 107.78L255.6 108.64L256.1 109.4L256.6 110.06L257.1 110.62L257.6 111.08L258.1 111.45L258.6 111.74L259.1 111.97L259.6 112.15L260.1 112.28L260.6 112.38L261.1 112.45L261.6 112.51L262.1 112.55L262.6 112.58L263.1 112.61L263.6 112.63L264.1 112.65L264.6 112.67L265.1 112.68L265.6 112.69L266.1 112.7L266.6 112.71L267.1 112.72L267.6 112.73L268.1 112.73L268.6 112.74L269.1 112.75L269.6 112.75L270.1 112.76L270.6 112.76L271.1 112.76L271.6 112.77L272.1 112.77L272.6 112.77L273.1 112.78L273.6 112.78L274.1 112.78L274.6 112.78L275.1 112.78L275.6 112.79L276.1 112.79L276.6 112.79L277.1 112.79L277.6 112.79L278.1 112.79L278.6 112.79L279.1 112.79L279.6 112.79L280.1 112.79L280.6 112.79L281.1 112.8L281.6 112.8L282.1 112.8L282.6 112.8L283.1 112.8L283.6 112.8L284.1 112.8L284.6 112.8L285.1 112.8L285.6 112.8L286.1 112.8L286.6 112.8L287.1 112.8L287.6 112.8L288.1 112.8L288.6 112.8L289.1 112.8L289.6 112.8L290.1 112.8L290.6 112.8L291.1 112.8L291.6 112.8L292.1 112.8L292.6 112.8L293.1 112.8L293.6 112.8L294.1 112.8L294.6 112.8L295.1 112.8L295.6 112.8L296.1 112.8L296.6 112.8L297.1 112.8L297.1 112.8L296.6 112.8L296.1 112.8L295.6 112.8L295.1 112.8L294.6 112.8L294.1 112.8L293.6 112.8L293.1 112.8L292.6 112.8L292.1 112.8L291.6 112.8L291.1 112.8L290.6 112.8L290.1 112.8L289.6 112.8L289.1 112.8L288.6 112.8L288.1 112.8L287.6 112.8L287.1 112.8L286.6 112.8L286.1 112.8L285.6 112.8L285.1 112.8L284.6 112.8L284.1 112.8L283.6 112.8L283.1 112.8L282.6 112.8L282.1 112.8L281.6 112.8L281.1 112.8L280.6 112.8L280.1 112.8L279.6 112.8L279.1 112.8L278.6 112.8L278.1 112.8L277.6 112.8L277.1 112.8L276.6 112.8L276.1 112.8L275.6 112.8L275.1 112.8L274.6 112.8L274.1 112.8L273.6 112.8L273.1 112.8L272.6 112.8L272.1 112.8L271.6 112.8L271.1 112.8L270.6 112.8L270.1 112.8L269.6 112.8L269.1 112.8L268.6 112.8L268.1 112.8L267.6 112.8L267.1 112.8L266.6 112.8L266.1 112.8L265.6 112.8L265.1 112.8L264.6 112.8L264.1 112.8L263.6 112.8L263.1 112.8L262.6 112.8L262.1 112.8L261.6 112.8L261.1 112.8L260.6 112.8L260.1 112.8L259.6 112.8L259.1 112.8L258.6 112.8L258.1 112.8L257.6 112.8L257.1 112.8L256.6 112.8L256.1 112.8L255.6 112.8L255.1 112.8L254.6 112.8L254.1 112.8L253.6 112.8L253.1 112.8L252.6 112.8L252.1 112.8L251.6 112.8L251.1 112.8L250.6 112.8L250.1 112.8L249.6 112.8L249.1 112.8L248.6 112.8L248.1 112.8L247.6 112.8L247.1 112.8L246.6 112.8L246.1 112.8L245.6 112.8L245.1 112.8L244.6 112.8L244.1 112.8L243.6 112.8L243.1 112.8L242.6 112.8L242.1 112.8L241.6 112.8L241.1 112.8L240.6 112.8L240.1 112.8L239.6 112.8L239.1 112.8L238.6 112.8L238.1 112.8L237.6 112.8L237.1 112.8L236.6 112.8L236.1 112.8L235.6 112.8L235.1 112.8L234.6 112.8L234.1 112.8L233.6 112.8L233.1 112.8L232.6 112.8L232.1 112.8L231.6 112.8L231.1 112.8L230.6 112.8L230.1 112.8L229.6 112.8L229.1 112.8L228.6 112.8L228.1 112.8L227.6 112.8L227.1 112.8L226.6 112.8L226.1 112.8L225.6 112.8L225.5 112.8L225.1 112.8L224.6 112.8L224.1 112.8L223.6 112.8L223.1 112.8L222.6 112.8L222.1 112.8L221.6 112.8L221.1 112.8L220.6 112.8L220.1 112.8L219.6 112.8L219.1 112.8L218.6 112.8L218.1 112.8L217.6 112.8L217.1 112.8L216.6 112.8L216.1 112.8L215.6 112.8L215.1 112.8L214.6 112.8L214.1 112.8L213.6 112.8L213.1 112.8L212.6 112.8L212.1 112.8L211.6 112.8L211.1 112.8L210.6 112.8L210.1 112.8L209.6 112.8L209.1 112.8L208.6 112.8L208.1 112.8L207.6 112.8L207.1 112.8L206.6 112.8L206.1 112.8L205.6 112.8L205.1 112.8L204.6 112.8L204.1 112.8L203.6 112.8L203.1 112.8L202.6 112.8L202.1 112.8L201.6 112.8L201.1 112.8Z" fill="#d8dc70" stroke="none" stroke-width="1"/>
<path d="M237.1 103.99L237.6 104.33L238.1 105.74L238.6 104.72L239.1 104.05L239.6 104.42L240.1 104.11L240.6 104.71L241.1 104.7L241.6 104.47L242.1 104.32L242.6 104.42L243.1 104.42L243.6 104.81L244.1 104.05L244.6 104.03L245.1 103.19L245.6 102.86L246.1 103.11L246.6 103.03L247.1 102.71L247.6 101.55L248.1 101.22L248.6 100.96L249.1 100.31L249.6 100.01L250.1 99.89L250.6 100L251.1 100.52L251.6 101.17L252.1 101.96L252.6 102.85L253.1 103.82L253.6 104.83L254.1 105.85L254.6 106.85L255.1 107.78L255.6 108.64L256.1 109.4L256.6 110.06L257.1 110.62L257.6 111.08L258.1 111.45L258.6 111.74L259.1 111.97L259.6 112.15L260.1 112.28L260.6 112.38L261.1 112.45L261.6 112.51L262.1 112.55L262.6 112.58L263.1 112.61L263.6 112.63L264.1 112.65L264.6 112.67L265.1 112.68L265.6 112.69L266.1 112.7L266.6 112.71L267.1 112.72L267.6 112.73L268.1 112.73L268.6 112.74L269.1 112.75L269.6 112.75L270.1 112.76L270.6 112.76L271.1 112.76L271.6 112.77L272.1 112.77L272.6 112.77L273.1 112.78L273.6 112.78L274.1 112.78L274.6 112.78L275.1 112.78L275.6 112.79L276.1 112.79L276.6 112.79L277.1 112.79L277.6 112.79L278.1 112.79L278.6 112.79L279.1 112.79L279.6 112.79L280.1 112.79L280.6 112.79L281.1 112.8L281.6 112.8L282.1 112.8L282.6 112.8L283.1 112.8L283.6 112.8L284.1 112.8L284.6 112.8L285.1 112.8L285.6 112.8L286.1 112.8L286.6 112.8L287.1 112.8L287.6 112.8L288.1 112.8L288.6 112.8L289.1 112.8L289.6 112.8L290.1 112.8L290.6 112.8L291.1 112.8L291.6 112.8L292.1 112.8L292.6 112.8L293.1 112.8L293.6 112.8L294.1 112.8L294.6 112.8L295.1 112.8L295.6 112.8L296.1 112.8L296.6 112.8L297.1 112.8L297.1 112.8L296.6 112.8L296.1 112.8L295.6 112.8L295.1 112.8L294.6 112.8L294.1 112.8L293.6 112.8L293.1 112.8L292.6 112.8L292.1 112.8L291.6 112.8L291.1 112.8L290.6 112.8L290.1 112.8L289.6 112.8L289.1 112.8L288.6 112.8L288.1 112.8L287.6 112.8L287.1 112.8L286.6 112.8L286.1 112.8L285.6 112.8L285.1 112.8L284.6 112.8L284.1 112.8L283.6 112.8L283.1 112.8L282.6 112.8L282.1 112.8L281.6 112.8L281.1 112.8L280.6 112.8L280.1 112.8L279.6 112.8L279.1 112.8L278.6 112.8L278.1 112.8L277.6 112.8L277.1 112.8L276.6 112.8L276.1 112.8L275.6 112.8L275.1 112.8L274.6 112.8L274.1 112.8L273.6 112.8L273.1 112.8L272.6 112.8L272.1 112.8L271.6 112.8L271.1 112.8L270.6 112.8L270.1 112.8L269.6 112.8L269.1 112.8L268.6 112.8L268.1 112.8L267.6 112.8L267.1 112.8L266.6 112.8L266.1 112.8L265.6 112.8L265.1 112.8L264.6 112.8L264.1 112.8L263.6 112.8L263.1 112.8L262.6 112.8L262.1 112.8L261.6 112.8L261.1 112.8L260.6 112.8L260.1 112.8L259.6 112.8L259.1 112.8L258.6 112.79L258.1 112.79L257.6 112.79L257.1 112.78L256.6 112.78L256.1 112.77L255.6 112.76L255.1 112.74L254.6 112.72L254.1 112.7L253.6 112.66L253.1 112.61L252.6 112.54L252.1 112.45L251.6 112.33L251.1 112.17L250.6 111.96L250.1 111.7L249.6 111.36L249.1 110.95L248.6 110.67L248.1 109.86L247.6 109.04L247.1 109.03L246.6 108.23L246.1 107.28L245.6 106.12L245.1 105.67L244.6 105.87L244.1 105.38L243.6 105.74L243.1 105.06L242.6 104.85L242.1 104.6L241.6 104.65L241.1 104.81L240.6 104.77L240.1 104.15L239.6 104.44L239.1 104.06L238.6 104.72L238.1 105.74L237.6 104.33L237.1 103.99Z" fill="#8ef0f4" stroke="none" stroke-width="1"/>
<path d="M221.6 112.8L222.1 112.8L222.6 112.8L223.1 112.8L223.6 94.05L224.1 75.3L224.6 56.55L225.1 37.8L225.5 22.8L225.6 25.3L226.1 37.8L226.6 50.3L227.1 62.8L227.6 75.3L228.1 87.8L228.6 100.3L229.1 112.8L229.1 112.8L228.6 112.8L228.1 112.8L227.6 112.8L227.1 112.8L226.6 112.8L226.1 112.8L225.6 112.8L225.5 112.8L225.1 112.8L224.6 112.8L224.1 112.8L223.6 112.8L223.1 112.8L222.6 112.8L222.1 112.8L221.6 112.8Z" fill="#66e85a" stroke="none" stroke-width="1"/>
<path d="M225.5 22.8L225.6 25.32L226.1 38.28L226.6 52.5L227.1 65.64L227.6 76.8L228.1 85.26L228.6 91.11L229.1 94.98L229.6 97.86L230.1 99.66L230.6 101.3L231.1 102.29L231.6 103.17L232.1 103.62L232.6 104.02L233.1 104.25L233.6 103.83L234.1 103.59L234.6 103.19L235.1 105.34L235.6 105.37L236.1 104.81L236.6 104.42L237.1 103.99L237.6 104.33L238.1 105.74L238.6 104.72L239.1 104.05L239.6 104.42L240.1 104.11L240.6 104.71L241.1 104.7L241.6 104.47L242.1 104.32L242.6 104.42L243.1 104.42L243.6 104.81L244.1 104.05L244.6 104.03L245.1 103.19L245.6 102.86L246.1 103.11L246.6 103.03L247.1 102.71L247.6 101.55L248.1 101.22L248.6 100.96L249.1 100.31L249.6 100.01L250.1 99.89L250.6 100L251.1 100.52L251.6 101.17L252.1 101.96L252.6 102.85L253.1 103.82L253.6 104.83L254.1 105.85L254.6 106.85L255.1 107.78L255.6 108.64L256.1 109.4L256.6 110.06L257.1 110.62L257.6 111.08L258.1 111.45L258.6 111.74L259.1 111.97L259.6 112.15L260.1 112.28L260.6 112.38L261.1 112.45L261.6 112.51L262.1 112.55L262.6 112.58L263.1 112.61L263.6 112.63L264.1 112.65L264.6 112.67L265.1 112.68L265.6 112.69L266.1 112.7L266.6 112.71L267.1 112.72L267.6 112.73L268.1 112.73L268.6 112.74L269.1 112.75L269.6 112.75L270.1 112.76L270.6 112.76L271.1 112.76L271.6 112.77L272.1 112.77L272.6 112.77L273.1 112.78L273.6 112.78L274.1 112.78L274.6 112.78L275.1 112.78L275.6 112.79L276.1 112.79L276.6 112.79L277.1 112.79L277.6 112.79L278.1 112.79L278.6 112.79L279.1 112.79L279.6 112.79L280.1 112.79L280.6 112.79L281.1 112.8L281.6 112.8L282.1 112.8L282.6 112.8L283.1 112.8L283.6 112.8L284.1 112.8L284.6 112.8L285.1 112.8L285.6 112.8L286.1 112.8L286.6 112.8L287.1 112.8L287.6 112.8L288.1 112.8L288.6 112.8L289.1 112.8L289.6 112.8L290.1 112.8L290.6 112.8L291.1 112.8L291.6 112.8L292.1 112.8L292.6 112.8L293.1 112.8L293.6 112.8L294.1 112.8L294.6 112.8L295.1 112.8L295.6 112.8L296.1 112.8L296.6 112.8L297.1 112.8" fill="none" stroke="#d04ad8" stroke-width="0.75"/>
<path d="M201.1 112.8L201.6 112.8L202.1 112.8L202.6 112.8L203.1 112.8L203.6 112.8L204.1 112.8L204.6 112.8L205.1 112.8L205.6 112.8L206.1 112.8L206.6 112.8L207.1 112.8L207.6 112.8L208.1 112.8L208.6 112.8L209.1 112.8L209.6 112.8L210.1 112.8L210.6 112.8L211.1 112.8L211.6 112.8L212.1 112.8L212.6 112.8L213.1 112.8L213.6 112.8L214.1 112.8L214.6 112.8L215.1 112.8L215.6 112.8L216.1 112.8L216.6 112.8L217.1 112.8L217.6 112.8L218.1 112.8L218.6 112.8L219.1 112.8L219.6 112.8L220.1 112.8L220.6 112.8L221.1 112.8L221.6 112.8L222.1 112.8L222.6 112.8L223.1 112.79L223.6 106.05L224.1 90.94L224.6 63.3L225.1 36.3L225.5 22.8L225.6 25.32L226.1 38.28L226.6 52.5L227.1 65.64L227.6 76.8L228.1 85.26L228.6 91.11L229.1 94.98L229.6 97.86L230.1 99.66L230.6 101.3L231.1 102.29L231.6 103.17L232.1 103.62L232.6 104.02L233.1 104.25L233.6 103.83L234.1 103.59L234.6 103.19L235.1 105.34L235.6 105.37L236.1 104.81L236.6 104.42L237.1 103.99L237.6 104.33L238.1 105.74L238.6 104.72L239.1 104.05L239.6 104.42L240.1 104.11L240.6 104.71L241.1 104.7L241.6 104.47L242.1 104.32L242.6 104.42L243.1 104.42L243.6 104.81L244.1 104.05L244.6 104.03L245.1 103.19L245.6 102.86L246.1 103.11L246.6 103.03L247.1 102.71L247.6 101.55L248.1 101.22L248.6 100.96L249.1 100.31L249.6 100.01L250.1 99.89L250.6 100L251.1 100.52L251.6 101.17L252.1 101.96L252.6 102.85L253.1 103.82L253.6 104.83L254.1 105.85L254.6 106.85L255.1 107.78L255.6 108.64L256.1 109.4L256.6 110.06L257.1 110.62L257.6 111.08L258.1 111.45L258.6 111.74L259.1 111.97L259.6 112.15L260.1 112.28L260.6 112.38L261.1 112.45L261.6 112.51L262.1 112.55L262.6 112.58L263.1 112.61L263.6 112.63L264.1 112.65L264.6 112.67L265.1 112.68L265.6 112.69L266.1 112.7L266.6 112.71L267.1 112.72L267.6 112.73L268.1 112.73L268.6 112.74L269.1 112.75L269.6 112.75L270.1 112.76L270.6 112.76L271.1 112.76L271.6 112.77L272.1 112.77L272.6 112.77L273.1 112.78L273.6 112.78L274.1 112.78L274.6 112.78L275.1 112.78L275.6 112.79L276.1 112.79L276.6 112.79L277.1 112.79L277.6 112.79L278.1 112.79L278.6 112.79L279.1 112.79L279.6 112.79L280.1 112.79L280.6 112.79L281.1 112.8L281.6 112.8L282.1 112.8L282.6 112.8L283.1 112.8L283.6 112.8L284.1 112.8L284.6 112.8L285.1 112.8L285.6 112.8L286.1 112.8L286.6 112.8L287.1 112.8L287.6 112.8L288.1 112.8L288.6 112.8L289.1 112.8L289.6 112.8L290.1 112.8L290.6 112.8L291.1 112.8L291.6 112.8L292.1 112.8L292.6 112.8L293.1 112.8L293.6 112.8L294.1 112.8L294.6 112.8L295.1 112.8L295.6 112.8L296.1 112.8L296.6 112.8L297.1 112.8" fill="none" stroke="#2a2a4a" stroke-width="0.45" opacity="0.8"/>
<line x1="200.6" y1="16.4" x2="297.4" y2="16.4" stroke="#555" stroke-width="0.9"/>
<line x1="297.4" y1="16.4" x2="297.4" y2="112.8" stroke="#555" stroke-width="0.9"/>
<line x1="200.6" y1="15.9" x2="200.6" y2="113.3" stroke="#333" stroke-width="0.9"/>
<line x1="200.6" y1="112.8" x2="297.4" y2="112.8" stroke="#333" stroke-width="0.9"/>
<text x="225.8" y="22.4" font-size="4.6" text-anchor="middle" fill="#444">G1</text>
<text x="251.1" y="22.4" font-size="4.6" text-anchor="middle" fill="#444">G2</text>
<line x1="200.6" y1="112.8" x2="200.6" y2="114.3" stroke="#333" stroke-width="0.7"/>
<text x="200.6" y="121.2" font-size="4.7" text-anchor="middle" fill="#333">0</text>
<line x1="222.73" y1="112.8" x2="222.73" y2="114.3" stroke="#333" stroke-width="0.7"/>
<text x="222.73" y="121.2" font-size="4.7" text-anchor="middle" fill="#333">0.8</text>
<line x1="244.85" y1="112.8" x2="244.85" y2="114.3" stroke="#333" stroke-width="0.7"/>
<text x="244.85" y="121.2" font-size="4.7" text-anchor="middle" fill="#333">1.6</text>
<line x1="266.98" y1="112.8" x2="266.98" y2="114.3" stroke="#333" stroke-width="0.7"/>
<text x="266.98" y="121.2" font-size="4.7" text-anchor="middle" fill="#333">2.4</text>
<line x1="297.4" y1="112.8" x2="297.4" y2="114.3" stroke="#333" stroke-width="0.7"/>
<text x="297.4" y="121.2" font-size="4.7" text-anchor="middle" fill="#333">3.5</text>
<line x1="203.37" y1="112.8" x2="203.37" y2="113.6" stroke="#666" stroke-width="0.4"/>
<line x1="206.13" y1="112.8" x2="206.13" y2="113.6" stroke="#666" stroke-width="0.4"/>
<line x1="208.9" y1="112.8" x2="208.9" y2="113.6" stroke="#666" stroke-width="0.4"/>
<line x1="211.66" y1="112.8" x2="211.66" y2="113.6" stroke="#666" stroke-width="0.4"/>
<line x1="214.43" y1="112.8" x2="214.43" y2="113.6" stroke="#666" stroke-width="0.4"/>
<line x1="217.19" y1="112.8" x2="217.19" y2="113.6" stroke="#666" stroke-width="0.4"/>
<line x1="219.96" y1="112.8" x2="219.96" y2="113.6" stroke="#666" stroke-width="0.4"/>
<line x1="225.49" y1="112.8" x2="225.49" y2="113.6" stroke="#666" stroke-width="0.4"/>
<line x1="228.26" y1="112.8" x2="228.26" y2="113.6" stroke="#666" stroke-width="0.4"/>
<line x1="231.02" y1="112.8" x2="231.02" y2="113.6" stroke="#666" stroke-width="0.4"/>
<line x1="233.79" y1="112.8" x2="233.79" y2="113.6" stroke="#666" stroke-width="0.4"/>
<line x1="236.55" y1="112.8" x2="236.55" y2="113.6" stroke="#666" stroke-width="0.4"/>
<line x1="239.32" y1="112.8" x2="239.32" y2="113.6" stroke="#666" stroke-width="0.4"/>
<line x1="242.09" y1="112.8" x2="242.09" y2="113.6" stroke="#666" stroke-width="0.4"/>
<line x1="247.62" y1="112.8" x2="247.62" y2="113.6" stroke="#666" stroke-width="0.4"/>
<line x1="250.38" y1="112.8" x2="250.38" y2="113.6" stroke="#666" stroke-width="0.4"/>
<line x1="253.15" y1="112.8" x2="253.15" y2="113.6" stroke="#666" stroke-width="0.4"/>
<line x1="255.91" y1="112.8" x2="255.91" y2="113.6" stroke="#666" stroke-width="0.4"/>
<line x1="258.68" y1="112.8" x2="258.68" y2="113.6" stroke="#666" stroke-width="0.4"/>
<line x1="261.45" y1="112.8" x2="261.45" y2="113.6" stroke="#666" stroke-width="0.4"/>
<line x1="264.21" y1="112.8" x2="264.21" y2="113.6" stroke="#666" stroke-width="0.4"/>
<line x1="269.74" y1="112.8" x2="269.74" y2="113.6" stroke="#666" stroke-width="0.4"/>
<line x1="272.51" y1="112.8" x2="272.51" y2="113.6" stroke="#666" stroke-width="0.4"/>
<line x1="275.27" y1="112.8" x2="275.27" y2="113.6" stroke="#666" stroke-width="0.4"/>
<line x1="278.04" y1="112.8" x2="278.04" y2="113.6" stroke="#666" stroke-width="0.4"/>
<line x1="280.81" y1="112.8" x2="280.81" y2="113.6" stroke="#666" stroke-width="0.4"/>
<line x1="283.57" y1="112.8" x2="283.57" y2="113.6" stroke="#666" stroke-width="0.4"/>
<line x1="286.34" y1="112.8" x2="286.34" y2="113.6" stroke="#666" stroke-width="0.4"/>
<line x1="291.87" y1="112.8" x2="291.87" y2="113.6" stroke="#666" stroke-width="0.4"/>
<line x1="294.63" y1="112.8" x2="294.63" y2="113.6" stroke="#666" stroke-width="0.4"/>
<text x="248.9" y="128.2" font-size="5" text-anchor="middle" fill="#333">PE-A (10<tspan dy="-2" font-size="3.6">6</tspan><tspan dy="2">)</tspan></text>
<line x1="199.1" y1="112.8" x2="200.6" y2="112.8" stroke="#333" stroke-width="0.7"/>
<text x="196.6" y="112.8" font-size="4.6" text-anchor="middle" fill="#444" transform="rotate(-90 196.6 112.8)">0</text>
<line x1="199.1" y1="87.66" x2="200.6" y2="87.66" stroke="#333" stroke-width="0.7"/>
<text x="196.6" y="87.66" font-size="4.6" text-anchor="middle" fill="#444" transform="rotate(-90 196.6 87.66)">200</text>
<line x1="199.1" y1="62.53" x2="200.6" y2="62.53" stroke="#333" stroke-width="0.7"/>
<text x="196.6" y="62.53" font-size="4.6" text-anchor="middle" fill="#444" transform="rotate(-90 196.6 62.53)">400</text>
<line x1="199.1" y1="37.39" x2="200.6" y2="37.39" stroke="#333" stroke-width="0.7"/>
<text x="196.6" y="37.39" font-size="4.6" text-anchor="middle" fill="#444" transform="rotate(-90 196.6 37.39)">600</text>
<text x="196.6" y="17.2" font-size="4.6" text-anchor="middle" fill="#444" transform="rotate(-90 196.6 17.2)">767</text>
<text x="188.3" y="65.1" font-size="4.6" text-anchor="middle" fill="#444" transform="rotate(-90 188.3 65.1)">Count</text>
<text x="251.95" y="12.7" font-size="8.1" font-weight="bold" text-anchor="middle" fill="#111" stroke="#111" stroke-width="0.35">Mel-0 µM</text>
<text x="257" y="33.8" font-size="6.7" font-weight="bold" fill="#111" stroke="#111" stroke-width="0.2">G1:36.30%</text>
<text x="257" y="46" font-size="6.7" font-weight="bold" fill="#111" stroke="#111" stroke-width="0.2">S:38.88%</text>
<text x="257" y="58.1" font-size="6.7" font-weight="bold" fill="#111" stroke="#111" stroke-width="0.2">G2:24.42%</text>
<line x1="344.4" y1="16.9" x2="344.4" y2="112.8" stroke="#b8f5b0" stroke-width="0.9"/>
<line x1="370.3" y1="16.9" x2="370.3" y2="112.8" stroke="#b5f1f8" stroke-width="0.9"/>
<path d="M318.7 112.8L319.2 112.8L319.7 112.8L320.2 112.8L320.7 112.8L321.2 112.8L321.7 112.8L322.2 112.8L322.7 112.8L323.2 112.8L323.7 112.8L324.2 112.8L324.7 112.8L325.2 112.8L325.7 112.8L326.2 112.8L326.7 112.8L327.2 112.8L327.7 112.8L328.2 112.8L328.7 112.8L329.2 112.8L329.7 112.8L330.2 112.8L330.7 112.8L331.2 112.8L331.7 112.8L332.2 112.8L332.7 112.8L333.2 112.8L333.7 112.8L334.2 112.8L334.7 112.8L335.2 112.8L335.7 112.8L336.2 112.8L336.7 112.8L337.2 112.8L337.7 112.8L338.2 112.8L338.7 112.8L339.2 112.8L339.7 112.8L340.2 112.8L340.7 112.8L341.2 112.8L341.7 112.79L342.2 106.35L342.7 91.91L343.2 65.5L343.7 39.7L344.1 26.8L344.2 29.21L344.7 41.59L345.2 55.18L345.7 67.74L346.2 78.4L346.7 86.48L347.2 92.07L347.7 95.77L348.2 98.52L348.7 100.24L349.2 101.81L349.7 102.76L350.2 103.6L350.7 104.03L351.2 104.41L351.7 104.63L352.2 104.49L352.7 104.36L353.2 105.2L353.7 104.3L354.2 105.03L354.7 104.77L355.2 105.47L355.7 103.86L356.2 106.41L356.7 104.87L357.2 104.41L357.7 106.05L358.2 104.96L358.7 104.9L359.2 104.36L359.7 104.11L360.2 105.1L360.7 105.68L361.2 104L361.7 104.04L362.2 104.95L362.7 104.33L363.2 104.12L363.7 103.76L364.2 103.64L364.7 102.51L365.2 103.91L365.7 101.68L366.2 101.44L366.7 101.13L367.2 99.61L367.7 101.08L368.2 99.15L368.7 98.79L369.2 98.67L369.7 98.85L370.2 99.43L370.7 100.16L371.2 101.04L371.7 102.03L372.2 103.11L372.7 104.23L373.2 105.35L373.7 106.44L374.2 107.45L374.7 108.38L375.2 109.2L375.7 109.91L376.2 110.5L376.7 110.99L377.2 111.38L377.7 111.69L378.2 111.93L378.7 112.11L379.2 112.25L379.7 112.35L380.2 112.43L380.7 112.49L381.2 112.53L381.7 112.57L382.2 112.6L382.7 112.62L383.2 112.64L383.7 112.66L384.2 112.67L384.7 112.68L385.2 112.69L385.7 112.7L386.2 112.71L386.7 112.72L387.2 112.73L387.7 112.74L388.2 112.74L388.7 112.75L389.2 112.75L389.7 112.76L390.2 112.76L390.7 112.76L391.2 112.77L391.7 112.77L392.2 112.77L392.7 112.78L393.2 112.78L393.7 112.78L394.2 112.78L394.7 112.78L395.2 112.79L395.7 112.79L396.2 112.79L396.7 112.79L397.2 112.79L397.7 112.79L398.2 112.79L398.7 112.79L399.2 112.79L399.7 112.79L400.2 112.79L400.7 112.8L401.2 112.8L401.7 112.8L402.2 112.8L402.7 112.8L403.2 112.8L403.7 112.8L404.2 112.8L404.7 112.8L405.2 112.8L405.7 112.8L406.2 112.8L406.7 112.8L407.2 112.8L407.7 112.8L408.2 112.8L408.7 112.8L409.2 112.8L409.7 112.8L410.2 112.8L410.7 112.8L411.2 112.8L411.7 112.8L412.2 112.8L412.7 112.8L413.2 112.8L413.7 112.8L414.2 112.8L414.7 112.8L415.2 112.8L415.2 112.8L414.7 112.8L414.2 112.8L413.7 112.8L413.2 112.8L412.7 112.8L412.2 112.8L411.7 112.8L411.2 112.8L410.7 112.8L410.2 112.8L409.7 112.8L409.2 112.8L408.7 112.8L408.2 112.8L407.7 112.8L407.2 112.8L406.7 112.8L406.2 112.8L405.7 112.8L405.2 112.8L404.7 112.8L404.2 112.8L403.7 112.8L403.2 112.8L402.7 112.8L402.2 112.8L401.7 112.8L401.2 112.8L400.7 112.8L400.2 112.8L399.7 112.8L399.2 112.8L398.7 112.8L398.2 112.8L397.7 112.8L397.2 112.8L396.7 112.8L396.2 112.8L395.7 112.8L395.2 112.8L394.7 112.8L394.2 112.8L393.7 112.8L393.2 112.8L392.7 112.8L392.2 112.8L391.7 112.8L391.2 112.8L390.7 112.8L390.2 112.8L389.7 112.8L389.2 112.8L388.7 112.8L388.2 112.8L387.7 112.8L387.2 112.8L386.7 112.8L386.2 112.8L385.7 112.8L385.2 112.8L384.7 112.8L384.2 112.8L383.7 112.8L383.2 112.8L382.7 112.8L382.2 112.8L381.7 112.8L381.2 112.8L380.7 112.8L380.2 112.8L379.7 112.8L379.2 112.8L378.7 112.8L378.2 112.8L377.7 112.8L377.2 112.8L376.7 112.8L376.2 112.8L375.7 112.8L375.2 112.8L374.7 112.8L374.2 112.8L373.7 112.8L373.2 112.8L372.7 112.8L372.2 112.8L371.7 112.8L371.2 112.8L370.7 112.8L370.2 112.8L369.7 112.8L369.2 112.8L368.7 112.8L368.2 112.8L367.7 112.8L367.2 112.8L366.7 112.8L366.2 112.8L365.7 112.8L365.2 112.8L364.7 112.8L364.2 112.8L363.7 112.8L363.2 112.8L362.7 112.8L362.2 112.8L361.7 112.8L361.2 112.8L360.7 112.8L360.2 112.8L359.7 112.8L359.2 112.8L358.7 112.8L358.2 112.8L357.7 112.8L357.2 112.8L356.7 112.8L356.2 112.8L355.7 112.8L355.2 112.8L354.7 112.8L354.2 112.8L353.7 112.8L353.2 112.8L352.7 112.8L352.2 112.8L351.7 112.8L351.2 112.8L350.7 112.8L350.2 112.8L349.7 112.8L349.2 112.8L348.7 112.8L348.2 112.8L347.7 112.8L347.2 112.8L346.7 112.8L346.2 112.8L345.7 112.8L345.2 112.8L344.7 112.8L344.2 112.8L344.1 112.8L343.7 112.8L343.2 112.8L342.7 112.8L342.2 112.8L341.7 112.8L341.2 112.8L340.7 112.8L340.2 112.8L339.7 112.8L339.2 112.8L338.7 112.8L338.2 112.8L337.7 112.8L337.2 112.8L336.7 112.8L336.2 112.8L335.7 112.8L335.2 112.8L334.7 112.8L334.2 112.8L333.7 112.8L333.2 112.8L332.7 112.8L332.2 112.8L331.7 112.8L331.2 112.8L330.7 112.8L330.2 112.8L329.7 112.8L329.2 112.8L328.7 112.8L328.2 112.8L327.7 112.8L327.2 112.8L326.7 112.8L326.2 112.8L325.7 112.8L325.2 112.8L324.7 112.8L324.2 112.8L323.7 112.8L323.2 112.8L322.7 112.8L322.2 112.8L321.7 112.8L321.2 112.8L320.7 112.8L320.2 112.8L319.7 112.8L319.2 112.8L318.7 112.8Z" fill="#d8dc70" stroke="none" stroke-width="1"/>
<path d="M355.7 103.86L356.2 106.41L356.7 104.87L357.2 104.41L357.7 106.05L358.2 104.96L358.7 104.9L359.2 104.36L359.7 104.11L360.2 105.1L360.7 105.68L361.2 104L361.7 104.04L362.2 104.95L362.7 104.33L363.2 104.12L363.7 103.76L364.2 103.64L364.7 102.51L365.2 103.91L365.7 101.68L366.2 101.44L366.7 101.13L367.2 99.61L367.7 101.08L368.2 99.15L368.7 98.79L369.2 98.67L369.7 98.85L370.2 99.43L370.7 100.16L371.2 101.04L371.7 102.03L372.2 103.11L372.7 104.23L373.2 105.35L373.7 106.44L374.2 107.45L374.7 108.38L375.2 109.2L375.7 109.91L376.2 110.5L376.7 110.99L377.2 111.38L377.7 111.69L378.2 111.93L378.7 112.11L379.2 112.25L379.7 112.35L380.2 112.43L380.7 112.49L381.2 112.53L381.7 112.57L382.2 112.6L382.7 112.62L383.2 112.64L383.7 112.66L384.2 112.67L384.7 112.68L385.2 112.69L385.7 112.7L386.2 112.71L386.7 112.72L387.2 112.73L387.7 112.74L388.2 112.74L388.7 112.75L389.2 112.75L389.7 112.76L390.2 112.76L390.7 112.76L391.2 112.77L391.7 112.77L392.2 112.77L392.7 112.78L393.2 112.78L393.7 112.78L394.2 112.78L394.7 112.78L395.2 112.79L395.7 112.79L396.2 112.79L396.7 112.79L397.2 112.79L397.7 112.79L398.2 112.79L398.7 112.79L399.2 112.79L399.7 112.79L400.2 112.79L400.7 112.8L401.2 112.8L401.7 112.8L402.2 112.8L402.7 112.8L403.2 112.8L403.7 112.8L404.2 112.8L404.7 112.8L405.2 112.8L405.7 112.8L406.2 112.8L406.7 112.8L407.2 112.8L407.7 112.8L408.2 112.8L408.7 112.8L409.2 112.8L409.7 112.8L410.2 112.8L410.7 112.8L411.2 112.8L411.7 112.8L412.2 112.8L412.7 112.8L413.2 112.8L413.7 112.8L414.2 112.8L414.7 112.8L415.2 112.8L415.2 112.8L414.7 112.8L414.2 112.8L413.7 112.8L413.2 112.8L412.7 112.8L412.2 112.8L411.7 112.8L411.2 112.8L410.7 112.8L410.2 112.8L409.7 112.8L409.2 112.8L408.7 112.8L408.2 112.8L407.7 112.8L407.2 112.8L406.7 112.8L406.2 112.8L405.7 112.8L405.2 112.8L404.7 112.8L404.2 112.8L403.7 112.8L403.2 112.8L402.7 112.8L402.2 112.8L401.7 112.8L401.2 112.8L400.7 112.8L400.2 112.8L399.7 112.8L399.2 112.8L398.7 112.8L398.2 112.8L397.7 112.8L397.2 112.8L396.7 112.8L396.2 112.8L395.7 112.8L395.2 112.8L394.7 112.8L394.2 112.8L393.7 112.8L393.2 112.8L392.7 112.8L392.2 112.8L391.7 112.8L391.2 112.8L390.7 112.8L390.2 112.8L389.7 112.8L389.2 112.8L388.7 112.8L388.2 112.8L387.7 112.8L387.2 112.8L386.7 112.8L386.2 112.8L385.7 112.8L385.2 112.8L384.7 112.8L384.2 112.8L383.7 112.8L383.2 112.8L382.7 112.8L382.2 112.8L381.7 112.8L381.2 112.8L380.7 112.8L380.2 112.8L379.7 112.8L379.2 112.8L378.7 112.8L378.2 112.8L377.7 112.79L377.2 112.79L376.7 112.79L376.2 112.79L375.7 112.78L375.2 112.77L374.7 112.76L374.2 112.75L373.7 112.73L373.2 112.71L372.7 112.67L372.2 112.63L371.7 112.57L371.2 112.48L370.7 112.37L370.2 112.23L369.7 112.04L369.2 111.79L368.7 111.48L368.2 111.1L367.7 112.05L367.2 109.42L366.7 109.67L366.2 108.7L365.7 107.68L365.2 108.75L364.7 106.31L364.2 106.55L363.7 105.92L363.2 105.69L362.7 105.44L362.2 105.72L361.7 104.55L361.2 104.34L360.7 105.9L360.2 105.24L359.7 104.19L359.2 104.41L358.7 104.92L358.2 104.97L357.7 106.06L357.2 104.41L356.7 104.88L356.2 106.41L355.7 103.86Z" fill="#8ef0f4" stroke="none" stroke-width="1"/>
<path d="M340.2 112.8L340.7 112.8L341.2 112.8L341.7 112.8L342.2 94.88L342.7 76.97L343.2 59.05L343.7 41.13L344.1 26.8L344.2 29.19L344.7 41.13L345.2 53.08L345.7 65.02L346.2 76.97L346.7 88.91L347.2 100.86L347.7 112.8L347.7 112.8L347.2 112.8L346.7 112.8L346.2 112.8L345.7 112.8L345.2 112.8L344.7 112.8L344.2 112.8L344.1 112.8L343.7 112.8L343.2 112.8L342.7 112.8L342.2 112.8L341.7 112.8L341.2 112.8L340.7 112.8L340.2 112.8Z" fill="#66e85a" stroke="none" stroke-width="1"/>
<path d="M344.1 26.8L344.2 29.21L344.7 41.59L345.2 55.18L345.7 67.74L346.2 78.4L346.7 86.48L347.2 92.07L347.7 95.77L348.2 98.52L348.7 100.24L349.2 101.81L349.7 102.76L350.2 103.6L350.7 104.03L351.2 104.41L351.7 104.63L352.2 104.49L352.7 104.36L353.2 105.2L353.7 104.3L354.2 105.03L354.7 104.77L355.2 105.47L355.7 103.86L356.2 106.41L356.7 104.87L357.2 104.41L357.7 106.05L358.2 104.96L358.7 104.9L359.2 104.36L359.7 104.11L360.2 105.1L360.7 105.68L361.2 104L361.7 104.04L362.2 104.95L362.7 104.33L363.2 104.12L363.7 103.76L364.2 103.64L364.7 102.51L365.2 103.91L365.7 101.68L366.2 101.44L366.7 101.13L367.2 99.61L367.7 101.08L368.2 99.15L368.7 98.79L369.2 98.67L369.7 98.85L370.2 99.43L370.7 100.16L371.2 101.04L371.7 102.03L372.2 103.11L372.7 104.23L373.2 105.35L373.7 106.44L374.2 107.45L374.7 108.38L375.2 109.2L375.7 109.91L376.2 110.5L376.7 110.99L377.2 111.38L377.7 111.69L378.2 111.93L378.7 112.11L379.2 112.25L379.7 112.35L380.2 112.43L380.7 112.49L381.2 112.53L381.7 112.57L382.2 112.6L382.7 112.62L383.2 112.64L383.7 112.66L384.2 112.67L384.7 112.68L385.2 112.69L385.7 112.7L386.2 112.71L386.7 112.72L387.2 112.73L387.7 112.74L388.2 112.74L388.7 112.75L389.2 112.75L389.7 112.76L390.2 112.76L390.7 112.76L391.2 112.77L391.7 112.77L392.2 112.77L392.7 112.78L393.2 112.78L393.7 112.78L394.2 112.78L394.7 112.78L395.2 112.79L395.7 112.79L396.2 112.79L396.7 112.79L397.2 112.79L397.7 112.79L398.2 112.79L398.7 112.79L399.2 112.79L399.7 112.79L400.2 112.79L400.7 112.8L401.2 112.8L401.7 112.8L402.2 112.8L402.7 112.8L403.2 112.8L403.7 112.8L404.2 112.8L404.7 112.8L405.2 112.8L405.7 112.8L406.2 112.8L406.7 112.8L407.2 112.8L407.7 112.8L408.2 112.8L408.7 112.8L409.2 112.8L409.7 112.8L410.2 112.8L410.7 112.8L411.2 112.8L411.7 112.8L412.2 112.8L412.7 112.8L413.2 112.8L413.7 112.8L414.2 112.8L414.7 112.8L415.2 112.8" fill="none" stroke="#d04ad8" stroke-width="0.75"/>
<path d="M318.7 112.8L319.2 112.8L319.7 112.8L320.2 112.8L320.7 112.8L321.2 112.8L321.7 112.8L322.2 112.8L322.7 112.8L323.2 112.8L323.7 112.8L324.2 112.8L324.7 112.8L325.2 112.8L325.7 112.8L326.2 112.8L326.7 112.8L327.2 112.8L327.7 112.8L328.2 112.8L328.7 112.8L329.2 112.8L329.7 112.8L330.2 112.8L330.7 112.8L331.2 112.8L331.7 112.8L332.2 112.8L332.7 112.8L333.2 112.8L333.7 112.8L334.2 112.8L334.7 112.8L335.2 112.8L335.7 112.8L336.2 112.8L336.7 112.8L337.2 112.8L337.7 112.8L338.2 112.8L338.7 112.8L339.2 112.8L339.7 112.8L340.2 112.8L340.7 112.8L341.2 112.8L341.7 112.79L342.2 106.35L342.7 91.91L343.2 65.5L343.7 39.7L344.1 26.8L344.2 29.21L344.7 41.59L345.2 55.18L345.7 67.74L346.2 78.4L346.7 86.48L347.2 92.07L347.7 95.77L348.2 98.52L348.7 100.24L349.2 101.81L349.7 102.76L350.2 103.6L350.7 104.03L351.2 104.41L351.7 104.63L352.2 104.49L352.7 104.36L353.2 105.2L353.7 104.3L354.2 105.03L354.7 104.77L355.2 105.47L355.7 103.86L356.2 106.41L356.7 104.87L357.2 104.41L357.7 106.05L358.2 104.96L358.7 104.9L359.2 104.36L359.7 104.11L360.2 105.1L360.7 105.68L361.2 104L361.7 104.04L362.2 104.95L362.7 104.33L363.2 104.12L363.7 103.76L364.2 103.64L364.7 102.51L365.2 103.91L365.7 101.68L366.2 101.44L366.7 101.13L367.2 99.61L367.7 101.08L368.2 99.15L368.7 98.79L369.2 98.67L369.7 98.85L370.2 99.43L370.7 100.16L371.2 101.04L371.7 102.03L372.2 103.11L372.7 104.23L373.2 105.35L373.7 106.44L374.2 107.45L374.7 108.38L375.2 109.2L375.7 109.91L376.2 110.5L376.7 110.99L377.2 111.38L377.7 111.69L378.2 111.93L378.7 112.11L379.2 112.25L379.7 112.35L380.2 112.43L380.7 112.49L381.2 112.53L381.7 112.57L382.2 112.6L382.7 112.62L383.2 112.64L383.7 112.66L384.2 112.67L384.7 112.68L385.2 112.69L385.7 112.7L386.2 112.71L386.7 112.72L387.2 112.73L387.7 112.74L388.2 112.74L388.7 112.75L389.2 112.75L389.7 112.76L390.2 112.76L390.7 112.76L391.2 112.77L391.7 112.77L392.2 112.77L392.7 112.78L393.2 112.78L393.7 112.78L394.2 112.78L394.7 112.78L395.2 112.79L395.7 112.79L396.2 112.79L396.7 112.79L397.2 112.79L397.7 112.79L398.2 112.79L398.7 112.79L399.2 112.79L399.7 112.79L400.2 112.79L400.7 112.8L401.2 112.8L401.7 112.8L402.2 112.8L402.7 112.8L403.2 112.8L403.7 112.8L404.2 112.8L404.7 112.8L405.2 112.8L405.7 112.8L406.2 112.8L406.7 112.8L407.2 112.8L407.7 112.8L408.2 112.8L408.7 112.8L409.2 112.8L409.7 112.8L410.2 112.8L410.7 112.8L411.2 112.8L411.7 112.8L412.2 112.8L412.7 112.8L413.2 112.8L413.7 112.8L414.2 112.8L414.7 112.8L415.2 112.8" fill="none" stroke="#2a2a4a" stroke-width="0.45" opacity="0.8"/>
<line x1="318.2" y1="16.4" x2="415.4" y2="16.4" stroke="#555" stroke-width="0.9"/>
<line x1="415.4" y1="16.4" x2="415.4" y2="112.8" stroke="#555" stroke-width="0.9"/>
<line x1="318.2" y1="15.9" x2="318.2" y2="113.3" stroke="#333" stroke-width="0.9"/>
<line x1="318.2" y1="112.8" x2="415.4" y2="112.8" stroke="#333" stroke-width="0.9"/>
<text x="344.4" y="22.4" font-size="4.6" text-anchor="middle" fill="#444">G1</text>
<text x="370.3" y="22.4" font-size="4.6" text-anchor="middle" fill="#444">G2</text>
<line x1="318.2" y1="112.8" x2="318.2" y2="114.3" stroke="#333" stroke-width="0.7"/>
<text x="318.2" y="121.2" font-size="4.7" text-anchor="middle" fill="#333">0</text>
<line x1="340.42" y1="112.8" x2="340.42" y2="114.3" stroke="#333" stroke-width="0.7"/>
<text x="340.42" y="121.2" font-size="4.7" text-anchor="middle" fill="#333">0.8</text>
<line x1="362.63" y1="112.8" x2="362.63" y2="114.3" stroke="#333" stroke-width="0.7"/>
<text x="362.63" y="121.2" font-size="4.7" text-anchor="middle" fill="#333">1.6</text>
<line x1="384.85" y1="112.8" x2="384.85" y2="114.3" stroke="#333" stroke-width="0.7"/>
<text x="384.85" y="121.2" font-size="4.7" text-anchor="middle" fill="#333">2.4</text>
<line x1="415.4" y1="112.8" x2="415.4" y2="114.3" stroke="#333" stroke-width="0.7"/>
<text x="415.4" y="121.2" font-size="4.7" text-anchor="middle" fill="#333">3.5</text>
<line x1="320.98" y1="112.8" x2="320.98" y2="113.6" stroke="#666" stroke-width="0.4"/>
<line x1="323.75" y1="112.8" x2="323.75" y2="113.6" stroke="#666" stroke-width="0.4"/>
<line x1="326.53" y1="112.8" x2="326.53" y2="113.6" stroke="#666" stroke-width="0.4"/>
<line x1="329.31" y1="112.8" x2="329.31" y2="113.6" stroke="#666" stroke-width="0.4"/>
<line x1="332.09" y1="112.8" x2="332.09" y2="113.6" stroke="#666" stroke-width="0.4"/>
<line x1="334.86" y1="112.8" x2="334.86" y2="113.6" stroke="#666" stroke-width="0.4"/>
<line x1="337.64" y1="112.8" x2="337.64" y2="113.6" stroke="#666" stroke-width="0.4"/>
<line x1="343.19" y1="112.8" x2="343.19" y2="113.6" stroke="#666" stroke-width="0.4"/>
<line x1="345.97" y1="112.8" x2="345.97" y2="113.6" stroke="#666" stroke-width="0.4"/>
<line x1="348.75" y1="112.8" x2="348.75" y2="113.6" stroke="#666" stroke-width="0.4"/>
<line x1="351.53" y1="112.8" x2="351.53" y2="113.6" stroke="#666" stroke-width="0.4"/>
<line x1="354.3" y1="112.8" x2="354.3" y2="113.6" stroke="#666" stroke-width="0.4"/>
<line x1="357.08" y1="112.8" x2="357.08" y2="113.6" stroke="#666" stroke-width="0.4"/>
<line x1="359.86" y1="112.8" x2="359.86" y2="113.6" stroke="#666" stroke-width="0.4"/>
<line x1="365.41" y1="112.8" x2="365.41" y2="113.6" stroke="#666" stroke-width="0.4"/>
<line x1="368.19" y1="112.8" x2="368.19" y2="113.6" stroke="#666" stroke-width="0.4"/>
<line x1="370.97" y1="112.8" x2="370.97" y2="113.6" stroke="#666" stroke-width="0.4"/>
<line x1="373.74" y1="112.8" x2="373.74" y2="113.6" stroke="#666" stroke-width="0.4"/>
<line x1="376.52" y1="112.8" x2="376.52" y2="113.6" stroke="#666" stroke-width="0.4"/>
<line x1="379.3" y1="112.8" x2="379.3" y2="113.6" stroke="#666" stroke-width="0.4"/>
<line x1="382.07" y1="112.8" x2="382.07" y2="113.6" stroke="#666" stroke-width="0.4"/>
<line x1="387.63" y1="112.8" x2="387.63" y2="113.6" stroke="#666" stroke-width="0.4"/>
<line x1="390.41" y1="112.8" x2="390.41" y2="113.6" stroke="#666" stroke-width="0.4"/>
<line x1="393.18" y1="112.8" x2="393.18" y2="113.6" stroke="#666" stroke-width="0.4"/>
<line x1="395.96" y1="112.8" x2="395.96" y2="113.6" stroke="#666" stroke-width="0.4"/>
<line x1="398.74" y1="112.8" x2="398.74" y2="113.6" stroke="#666" stroke-width="0.4"/>
<line x1="401.51" y1="112.8" x2="401.51" y2="113.6" stroke="#666" stroke-width="0.4"/>
<line x1="404.29" y1="112.8" x2="404.29" y2="113.6" stroke="#666" stroke-width="0.4"/>
<line x1="409.85" y1="112.8" x2="409.85" y2="113.6" stroke="#666" stroke-width="0.4"/>
<line x1="412.62" y1="112.8" x2="412.62" y2="113.6" stroke="#666" stroke-width="0.4"/>
<text x="366.5" y="128.2" font-size="5" text-anchor="middle" fill="#333">PE-A (10<tspan dy="-2" font-size="3.6">6</tspan><tspan dy="2">)</tspan></text>
<line x1="316.7" y1="112.8" x2="318.2" y2="112.8" stroke="#333" stroke-width="0.7"/>
<text x="314.2" y="112.8" font-size="4.6" text-anchor="middle" fill="#444" transform="rotate(-90 314.2 112.8)">0</text>
<line x1="316.7" y1="97.07" x2="318.2" y2="97.07" stroke="#333" stroke-width="0.7"/>
<text x="314.2" y="97.07" font-size="4.6" text-anchor="middle" fill="#444" transform="rotate(-90 314.2 97.07)">100</text>
<line x1="316.7" y1="81.35" x2="318.2" y2="81.35" stroke="#333" stroke-width="0.7"/>
<text x="314.2" y="81.35" font-size="4.6" text-anchor="middle" fill="#444" transform="rotate(-90 314.2 81.35)">200</text>
<line x1="316.7" y1="65.62" x2="318.2" y2="65.62" stroke="#333" stroke-width="0.7"/>
<text x="314.2" y="65.62" font-size="4.6" text-anchor="middle" fill="#444" transform="rotate(-90 314.2 65.62)">300</text>
<line x1="316.7" y1="49.9" x2="318.2" y2="49.9" stroke="#333" stroke-width="0.7"/>
<text x="314.2" y="49.9" font-size="4.6" text-anchor="middle" fill="#444" transform="rotate(-90 314.2 49.9)">400</text>
<line x1="316.7" y1="34.17" x2="318.2" y2="34.17" stroke="#333" stroke-width="0.7"/>
<text x="314.2" y="34.17" font-size="4.6" text-anchor="middle" fill="#444" transform="rotate(-90 314.2 34.17)">500</text>
<text x="314.2" y="17.2" font-size="4.6" text-anchor="middle" fill="#444" transform="rotate(-90 314.2 17.2)">613</text>
<text x="305.9" y="65.1" font-size="4.6" text-anchor="middle" fill="#444" transform="rotate(-90 305.9 65.1)">Count</text>
<text x="366" y="12.7" font-size="8.1" font-weight="bold" text-anchor="middle" fill="#111" stroke="#111" stroke-width="0.35">Mel-1 µM</text>
<text x="379.5" y="33.8" font-size="6.7" font-weight="bold" fill="#111" stroke="#111" stroke-width="0.2">G1:35.76%</text>
<text x="379.5" y="46" font-size="6.7" font-weight="bold" fill="#111" stroke="#111" stroke-width="0.2">S:45.93%</text>
<text x="379.5" y="58.1" font-size="6.7" font-weight="bold" fill="#111" stroke="#111" stroke-width="0.2">G2:15.42%</text>
<line x1="224.9" y1="146.1" x2="224.9" y2="241.8" stroke="#b8f5b0" stroke-width="0.9"/>
<line x1="251.6" y1="146.1" x2="251.6" y2="241.8" stroke="#b5f1f8" stroke-width="0.9"/>
<path d="M199.8 241.8L200.3 241.8L200.8 241.8L201.3 241.8L201.8 241.8L202.3 241.8L202.8 241.8L203.3 241.8L203.8 241.8L204.3 241.8L204.8 241.8L205.3 241.8L205.8 241.8L206.3 241.8L206.8 241.8L207.3 241.8L207.8 241.8L208.3 241.8L208.8 241.8L209.3 241.8L209.8 241.8L210.3 241.8L210.8 241.8L211.3 241.8L211.8 241.8L212.3 241.8L212.8 241.8L213.3 241.8L213.8 241.8L214.3 241.8L214.8 241.8L215.3 241.8L215.8 241.8L216.3 241.8L216.8 241.8L217.3 241.8L217.8 241.8L218.3 241.8L218.8 241.8L219.3 241.8L219.8 241.8L220.3 241.8L220.8 241.8L221.3 241.8L221.8 241.8L222.3 240.47L222.8 233.79L223.3 214.72L223.8 187.51L224.3 162.81L224.6 152.8L224.8 157.78L225.3 170.96L225.8 184.84L226.3 197.48L226.8 207.98L227.3 215.81L227.8 221.15L228.3 224.8L228.8 227.38L229.3 229.16L229.8 230.62L230.3 231.6L230.8 231.92L231.3 232.81L231.8 233.17L232.3 233.18L232.8 234.15L233.3 232.95L233.8 231.75L234.3 234.12L234.8 232.58L235.3 233.43L235.8 231.89L236.3 232.92L236.8 232.77L237.3 232.8L237.8 233.12L238.3 234.44L238.8 232.22L239.3 234.44L239.8 233.16L240.3 232.87L240.8 234.03L241.3 233.25L241.8 232.42L242.3 233.35L242.8 233.99L243.3 235.53L243.8 233.84L244.3 233.35L244.8 233.03L245.3 233.06L245.8 231.57L246.3 231.82L246.8 230.85L247.3 229.54L247.8 230.03L248.3 228.83L248.8 226.13L249.3 227.22L249.8 226.73L250.3 226.48L250.8 226.51L251.3 227L251.8 227.73L252.3 228.62L252.8 229.65L253.3 230.79L253.8 231.99L254.3 233.22L254.8 234.42L255.3 235.56L255.8 236.61L256.3 237.54L256.8 238.36L257.3 239.06L257.8 239.63L258.3 240.1L258.8 240.47L259.3 240.75L259.8 240.98L260.3 241.14L260.8 241.27L261.3 241.37L261.8 241.44L262.3 241.49L262.8 241.53L263.3 241.57L263.8 241.59L264.3 241.62L264.8 241.64L265.3 241.65L265.8 241.67L266.3 241.68L266.8 241.69L267.3 241.7L267.8 241.71L268.3 241.72L268.8 241.73L269.3 241.73L269.8 241.74L270.3 241.75L270.8 241.75L271.3 241.76L271.8 241.76L272.3 241.76L272.8 241.77L273.3 241.77L273.8 241.77L274.3 241.78L274.8 241.78L275.3 241.78L275.8 241.78L276.3 241.78L276.8 241.79L277.3 241.79L277.8 241.79L278.3 241.79L278.8 241.79L279.3 241.79L279.8 241.79L280.3 241.79L280.8 241.79L281.3 241.79L281.8 241.79L282.3 241.8L282.8 241.8L283.3 241.8L283.8 241.8L284.3 241.8L284.8 241.8L285.3 241.8L285.8 241.8L286.3 241.8L286.8 241.8L287.3 241.8L287.8 241.8L288.3 241.8L288.8 241.8L289.3 241.8L289.8 241.8L290.3 241.8L290.8 241.8L291.3 241.8L291.8 241.8L292.3 241.8L292.8 241.8L293.3 241.8L293.8 241.8L294.3 241.8L294.8 241.8L295.3 241.8L295.8 241.8L296.3 241.8L296.3 241.8L295.8 241.8L295.3 241.8L294.8 241.8L294.3 241.8L293.8 241.8L293.3 241.8L292.8 241.8L292.3 241.8L291.8 241.8L291.3 241.8L290.8 241.8L290.3 241.8L289.8 241.8L289.3 241.8L288.8 241.8L288.3 241.8L287.8 241.8L287.3 241.8L286.8 241.8L286.3 241.8L285.8 241.8L285.3 241.8L284.8 241.8L284.3 241.8L283.8 241.8L283.3 241.8L282.8 241.8L282.3 241.8L281.8 241.8L281.3 241.8L280.8 241.8L280.3 241.8L279.8 241.8L279.3 241.8L278.8 241.8L278.3 241.8L277.8 241.8L277.3 241.8L276.8 241.8L276.3 241.8L275.8 241.8L275.3 241.8L274.8 241.8L274.3 241.8L273.8 241.8L273.3 241.8L272.8 241.8L272.3 241.8L271.8 241.8L271.3 241.8L270.8 241.8L270.3 241.8L269.8 241.8L269.3 241.8L268.8 241.8L268.3 241.8L267.8 241.8L267.3 241.8L266.8 241.8L266.3 241.8L265.8 241.8L265.3 241.8L264.8 241.8L264.3 241.8L263.8 241.8L263.3 241.8L262.8 241.8L262.3 241.8L261.8 241.8L261.3 241.8L260.8 241.8L260.3 241.8L259.8 241.8L259.3 241.8L258.8 241.8L258.3 241.8L257.8 241.8L257.3 241.8L256.8 241.8L256.3 241.8L255.8 241.8L255.3 241.8L254.8 241.8L254.3 241.8L253.8 241.8L253.3 241.8L252.8 241.8L252.3 241.8L251.8 241.8L251.3 241.8L250.8 241.8L250.3 241.8L249.8 241.8L249.3 241.8L248.8 241.8L248.3 241.8L247.8 241.8L247.3 241.8L246.8 241.8L246.3 241.8L245.8 241.8L245.3 241.8L244.8 241.8L244.3 241.8L243.8 241.8L243.3 241.8L242.8 241.8L242.3 241.8L241.8 241.8L241.3 241.8L240.8 241.8L240.3 241.8L239.8 241.8L239.3 241.8L238.8 241.8L238.3 241.8L237.8 241.8L237.3 241.8L236.8 241.8L236.3 241.8L235.8 241.8L235.3 241.8L234.8 241.8L234.3 241.8L233.8 241.8L233.3 241.8L232.8 241.8L232.3 241.8L231.8 241.8L231.3 241.8L230.8 241.8L230.3 241.8L229.8 241.8L229.3 241.8L228.8 241.8L228.3 241.8L227.8 241.8L227.3 241.8L226.8 241.8L226.3 241.8L225.8 241.8L225.3 241.8L224.8 241.8L224.6 241.8L224.3 241.8L223.8 241.8L223.3 241.8L222.8 241.8L222.3 241.8L221.8 241.8L221.3 241.8L220.8 241.8L220.3 241.8L219.8 241.8L219.3 241.8L218.8 241.8L218.3 241.8L217.8 241.8L217.3 241.8L216.8 241.8L216.3 241.8L215.8 241.8L215.3 241.8L214.8 241.8L214.3 241.8L213.8 241.8L213.3 241.8L212.8 241.8L212.3 241.8L211.8 241.8L211.3 241.8L210.8 241.8L210.3 241.8L209.8 241.8L209.3 241.8L208.8 241.8L208.3 241.8L207.8 241.8L207.3 241.8L206.8 241.8L206.3 241.8L205.8 241.8L205.3 241.8L204.8 241.8L204.3 241.8L203.8 241.8L203.3 241.8L202.8 241.8L202.3 241.8L201.8 241.8L201.3 241.8L200.8 241.8L200.3 241.8L199.8 241.8Z" fill="#d8dc70" stroke="none" stroke-width="1"/>
<path d="M237.3 232.8L237.8 233.12L238.3 234.44L238.8 232.22L239.3 234.44L239.8 233.16L240.3 232.87L240.8 234.03L241.3 233.25L241.8 232.42L242.3 233.35L242.8 233.99L243.3 235.53L243.8 233.84L244.3 233.35L244.8 233.03L245.3 233.06L245.8 231.57L246.3 231.82L246.8 230.85L247.3 229.54L247.8 230.03L248.3 228.83L248.8 226.13L249.3 227.22L249.8 226.73L250.3 226.48L250.8 226.51L251.3 227L251.8 227.73L252.3 228.62L252.8 229.65L253.3 230.79L253.8 231.99L254.3 233.22L254.8 234.42L255.3 235.56L255.8 236.61L256.3 237.54L256.8 238.36L257.3 239.06L257.8 239.63L258.3 240.1L258.8 240.47L259.3 240.75L259.8 240.98L260.3 241.14L260.8 241.27L261.3 241.37L261.8 241.44L262.3 241.49L262.8 241.53L263.3 241.57L263.8 241.59L264.3 241.62L264.8 241.64L265.3 241.65L265.8 241.67L266.3 241.68L266.8 241.69L267.3 241.7L267.8 241.71L268.3 241.72L268.8 241.73L269.3 241.73L269.8 241.74L270.3 241.75L270.8 241.75L271.3 241.76L271.8 241.76L272.3 241.76L272.8 241.77L273.3 241.77L273.8 241.77L274.3 241.78L274.8 241.78L275.3 241.78L275.8 241.78L276.3 241.78L276.8 241.79L277.3 241.79L277.8 241.79L278.3 241.79L278.8 241.79L279.3 241.79L279.8 241.79L280.3 241.79L280.8 241.79L281.3 241.79L281.8 241.79L282.3 241.8L282.8 241.8L283.3 241.8L283.8 241.8L284.3 241.8L284.8 241.8L285.3 241.8L285.8 241.8L286.3 241.8L286.8 241.8L287.3 241.8L287.8 241.8L288.3 241.8L288.8 241.8L289.3 241.8L289.8 241.8L290.3 241.8L290.8 241.8L291.3 241.8L291.8 241.8L292.3 241.8L292.8 241.8L293.3 241.8L293.8 241.8L294.3 241.8L294.8 241.8L295.3 241.8L295.8 241.8L296.3 241.8L296.3 241.8L295.8 241.8L295.3 241.8L294.8 241.8L294.3 241.8L293.8 241.8L293.3 241.8L292.8 241.8L292.3 241.8L291.8 241.8L291.3 241.8L290.8 241.8L290.3 241.8L289.8 241.8L289.3 241.8L288.8 241.8L288.3 241.8L287.8 241.8L287.3 241.8L286.8 241.8L286.3 241.8L285.8 241.8L285.3 241.8L284.8 241.8L284.3 241.8L283.8 241.8L283.3 241.8L282.8 241.8L282.3 241.8L281.8 241.8L281.3 241.8L280.8 241.8L280.3 241.8L279.8 241.8L279.3 241.8L278.8 241.8L278.3 241.8L277.8 241.8L277.3 241.8L276.8 241.8L276.3 241.8L275.8 241.8L275.3 241.8L274.8 241.8L274.3 241.8L273.8 241.8L273.3 241.8L272.8 241.8L272.3 241.8L271.8 241.8L271.3 241.8L270.8 241.8L270.3 241.8L269.8 241.8L269.3 241.8L268.8 241.8L268.3 241.8L267.8 241.8L267.3 241.8L266.8 241.8L266.3 241.8L265.8 241.8L265.3 241.8L264.8 241.8L264.3 241.8L263.8 241.8L263.3 241.8L262.8 241.8L262.3 241.8L261.8 241.8L261.3 241.8L260.8 241.8L260.3 241.8L259.8 241.8L259.3 241.79L258.8 241.79L258.3 241.79L257.8 241.79L257.3 241.78L256.8 241.78L256.3 241.77L255.8 241.76L255.3 241.74L254.8 241.72L254.3 241.69L253.8 241.65L253.3 241.59L252.8 241.52L252.3 241.42L251.8 241.29L251.3 241.12L250.8 240.89L250.3 240.61L249.8 240.25L249.3 239.81L248.8 237.57L248.3 238.95L247.8 238.76L247.3 236.87L246.8 236.85L246.3 236.6L245.8 235.28L245.3 235.87L244.8 235.11L244.3 234.84L243.8 234.89L243.3 236.24L242.8 234.46L242.3 233.66L241.8 232.61L241.3 233.37L240.8 234.11L240.3 232.91L239.8 233.18L239.3 234.45L238.8 232.23L238.3 234.45L237.8 233.12L237.3 232.8Z" fill="#8ef0f4" stroke="none" stroke-width="1"/>
<path d="M220.8 241.8L221.3 241.8L221.8 241.8L222.3 238.09L222.8 219.55L223.3 201.01L223.8 182.47L224.3 163.93L224.6 152.8L224.8 157.74L225.3 170.11L225.8 182.47L226.3 194.83L226.8 207.19L227.3 219.55L227.8 231.91L228.3 241.8L228.3 241.8L227.8 241.8L227.3 241.8L226.8 241.8L226.3 241.8L225.8 241.8L225.3 241.8L224.8 241.8L224.6 241.8L224.3 241.8L223.8 241.8L223.3 241.8L222.8 241.8L222.3 241.8L221.8 241.8L221.3 241.8L220.8 241.8Z" fill="#66e85a" stroke="none" stroke-width="1"/>
<path d="M224.6 152.8L224.8 157.78L225.3 170.96L225.8 184.84L226.3 197.48L226.8 207.98L227.3 215.81L227.8 221.15L228.3 224.8L228.8 227.38L229.3 229.16L229.8 230.62L230.3 231.6L230.8 231.92L231.3 232.81L231.8 233.17L232.3 233.18L232.8 234.15L233.3 232.95L233.8 231.75L234.3 234.12L234.8 232.58L235.3 233.43L235.8 231.89L236.3 232.92L236.8 232.77L237.3 232.8L237.8 233.12L238.3 234.44L238.8 232.22L239.3 234.44L239.8 233.16L240.3 232.87L240.8 234.03L241.3 233.25L241.8 232.42L242.3 233.35L242.8 233.99L243.3 235.53L243.8 233.84L244.3 233.35L244.8 233.03L245.3 233.06L245.8 231.57L246.3 231.82L246.8 230.85L247.3 229.54L247.8 230.03L248.3 228.83L248.8 226.13L249.3 227.22L249.8 226.73L250.3 226.48L250.8 226.51L251.3 227L251.8 227.73L252.3 228.62L252.8 229.65L253.3 230.79L253.8 231.99L254.3 233.22L254.8 234.42L255.3 235.56L255.8 236.61L256.3 237.54L256.8 238.36L257.3 239.06L257.8 239.63L258.3 240.1L258.8 240.47L259.3 240.75L259.8 240.98L260.3 241.14L260.8 241.27L261.3 241.37L261.8 241.44L262.3 241.49L262.8 241.53L263.3 241.57L263.8 241.59L264.3 241.62L264.8 241.64L265.3 241.65L265.8 241.67L266.3 241.68L266.8 241.69L267.3 241.7L267.8 241.71L268.3 241.72L268.8 241.73L269.3 241.73L269.8 241.74L270.3 241.75L270.8 241.75L271.3 241.76L271.8 241.76L272.3 241.76L272.8 241.77L273.3 241.77L273.8 241.77L274.3 241.78L274.8 241.78L275.3 241.78L275.8 241.78L276.3 241.78L276.8 241.79L277.3 241.79L277.8 241.79L278.3 241.79L278.8 241.79L279.3 241.79L279.8 241.79L280.3 241.79L280.8 241.79L281.3 241.79L281.8 241.79L282.3 241.8L282.8 241.8L283.3 241.8L283.8 241.8L284.3 241.8L284.8 241.8L285.3 241.8L285.8 241.8L286.3 241.8L286.8 241.8L287.3 241.8L287.8 241.8L288.3 241.8L288.8 241.8L289.3 241.8L289.8 241.8L290.3 241.8L290.8 241.8L291.3 241.8L291.8 241.8L292.3 241.8L292.8 241.8L293.3 241.8L293.8 241.8L294.3 241.8L294.8 241.8L295.3 241.8L295.8 241.8L296.3 241.8" fill="none" stroke="#d04ad8" stroke-width="0.75"/>
<path d="M199.8 241.8L200.3 241.8L200.8 241.8L201.3 241.8L201.8 241.8L202.3 241.8L202.8 241.8L203.3 241.8L203.8 241.8L204.3 241.8L204.8 241.8L205.3 241.8L205.8 241.8L206.3 241.8L206.8 241.8L207.3 241.8L207.8 241.8L208.3 241.8L208.8 241.8L209.3 241.8L209.8 241.8L210.3 241.8L210.8 241.8L211.3 241.8L211.8 241.8L212.3 241.8L212.8 241.8L213.3 241.8L213.8 241.8L214.3 241.8L214.8 241.8L215.3 241.8L215.8 241.8L216.3 241.8L216.8 241.8L217.3 241.8L217.8 241.8L218.3 241.8L218.8 241.8L219.3 241.8L219.8 241.8L220.3 241.8L220.8 241.8L221.3 241.8L221.8 241.8L222.3 240.47L222.8 233.79L223.3 214.72L223.8 187.51L224.3 162.81L224.6 152.8L224.8 157.78L225.3 170.96L225.8 184.84L226.3 197.48L226.8 207.98L227.3 215.81L227.8 221.15L228.3 224.8L228.8 227.38L229.3 229.16L229.8 230.62L230.3 231.6L230.8 231.92L231.3 232.81L231.8 233.17L232.3 233.18L232.8 234.15L233.3 232.95L233.8 231.75L234.3 234.12L234.8 232.58L235.3 233.43L235.8 231.89L236.3 232.92L236.8 232.77L237.3 232.8L237.8 233.12L238.3 234.44L238.8 232.22L239.3 234.44L239.8 233.16L240.3 232.87L240.8 234.03L241.3 233.25L241.8 232.42L242.3 233.35L242.8 233.99L243.3 235.53L243.8 233.84L244.3 233.35L244.8 233.03L245.3 233.06L245.8 231.57L246.3 231.82L246.8 230.85L247.3 229.54L247.8 230.03L248.3 228.83L248.8 226.13L249.3 227.22L249.8 226.73L250.3 226.48L250.8 226.51L251.3 227L251.8 227.73L252.3 228.62L252.8 229.65L253.3 230.79L253.8 231.99L254.3 233.22L254.8 234.42L255.3 235.56L255.8 236.61L256.3 237.54L256.8 238.36L257.3 239.06L257.8 239.63L258.3 240.1L258.8 240.47L259.3 240.75L259.8 240.98L260.3 241.14L260.8 241.27L261.3 241.37L261.8 241.44L262.3 241.49L262.8 241.53L263.3 241.57L263.8 241.59L264.3 241.62L264.8 241.64L265.3 241.65L265.8 241.67L266.3 241.68L266.8 241.69L267.3 241.7L267.8 241.71L268.3 241.72L268.8 241.73L269.3 241.73L269.8 241.74L270.3 241.75L270.8 241.75L271.3 241.76L271.8 241.76L272.3 241.76L272.8 241.77L273.3 241.77L273.8 241.77L274.3 241.78L274.8 241.78L275.3 241.78L275.8 241.78L276.3 241.78L276.8 241.79L277.3 241.79L277.8 241.79L278.3 241.79L278.8 241.79L279.3 241.79L279.8 241.79L280.3 241.79L280.8 241.79L281.3 241.79L281.8 241.79L282.3 241.8L282.8 241.8L283.3 241.8L283.8 241.8L284.3 241.8L284.8 241.8L285.3 241.8L285.8 241.8L286.3 241.8L286.8 241.8L287.3 241.8L287.8 241.8L288.3 241.8L288.8 241.8L289.3 241.8L289.8 241.8L290.3 241.8L290.8 241.8L291.3 241.8L291.8 241.8L292.3 241.8L292.8 241.8L293.3 241.8L293.8 241.8L294.3 241.8L294.8 241.8L295.3 241.8L295.8 241.8L296.3 241.8" fill="none" stroke="#2a2a4a" stroke-width="0.45" opacity="0.8"/>
<line x1="199.3" y1="145.6" x2="296.5" y2="145.6" stroke="#555" stroke-width="0.9"/>
<line x1="296.5" y1="145.6" x2="296.5" y2="241.8" stroke="#555" stroke-width="0.9"/>
<line x1="199.3" y1="145.1" x2="199.3" y2="242.3" stroke="#333" stroke-width="0.9"/>
<line x1="199.3" y1="241.8" x2="296.5" y2="241.8" stroke="#333" stroke-width="0.9"/>
<text x="224.9" y="151.6" font-size="4.6" text-anchor="middle" fill="#444">G1</text>
<text x="251.6" y="151.6" font-size="4.6" text-anchor="middle" fill="#444">G2</text>
<line x1="199.3" y1="241.8" x2="199.3" y2="243.3" stroke="#333" stroke-width="0.7"/>
<text x="199.3" y="250.2" font-size="4.7" text-anchor="middle" fill="#333">0</text>
<line x1="221.52" y1="241.8" x2="221.52" y2="243.3" stroke="#333" stroke-width="0.7"/>
<text x="221.52" y="250.2" font-size="4.7" text-anchor="middle" fill="#333">0.8</text>
<line x1="243.73" y1="241.8" x2="243.73" y2="243.3" stroke="#333" stroke-width="0.7"/>
<text x="243.73" y="250.2" font-size="4.7" text-anchor="middle" fill="#333">1.6</text>
<line x1="265.95" y1="241.8" x2="265.95" y2="243.3" stroke="#333" stroke-width="0.7"/>
<text x="265.95" y="250.2" font-size="4.7" text-anchor="middle" fill="#333">2.4</text>
<line x1="296.5" y1="241.8" x2="296.5" y2="243.3" stroke="#333" stroke-width="0.7"/>
<text x="296.5" y="250.2" font-size="4.7" text-anchor="middle" fill="#333">3.5</text>
<line x1="202.08" y1="241.8" x2="202.08" y2="242.6" stroke="#666" stroke-width="0.4"/>
<line x1="204.85" y1="241.8" x2="204.85" y2="242.6" stroke="#666" stroke-width="0.4"/>
<line x1="207.63" y1="241.8" x2="207.63" y2="242.6" stroke="#666" stroke-width="0.4"/>
<line x1="210.41" y1="241.8" x2="210.41" y2="242.6" stroke="#666" stroke-width="0.4"/>
<line x1="213.19" y1="241.8" x2="213.19" y2="242.6" stroke="#666" stroke-width="0.4"/>
<line x1="215.96" y1="241.8" x2="215.96" y2="242.6" stroke="#666" stroke-width="0.4"/>
<line x1="218.74" y1="241.8" x2="218.74" y2="242.6" stroke="#666" stroke-width="0.4"/>
<line x1="224.29" y1="241.8" x2="224.29" y2="242.6" stroke="#666" stroke-width="0.4"/>
<line x1="227.07" y1="241.8" x2="227.07" y2="242.6" stroke="#666" stroke-width="0.4"/>
<line x1="229.85" y1="241.8" x2="229.85" y2="242.6" stroke="#666" stroke-width="0.4"/>
<line x1="232.63" y1="241.8" x2="232.63" y2="242.6" stroke="#666" stroke-width="0.4"/>
<line x1="235.4" y1="241.8" x2="235.4" y2="242.6" stroke="#666" stroke-width="0.4"/>
<line x1="238.18" y1="241.8" x2="238.18" y2="242.6" stroke="#666" stroke-width="0.4"/>
<line x1="240.96" y1="241.8" x2="240.96" y2="242.6" stroke="#666" stroke-width="0.4"/>
<line x1="246.51" y1="241.8" x2="246.51" y2="242.6" stroke="#666" stroke-width="0.4"/>
<line x1="249.29" y1="241.8" x2="249.29" y2="242.6" stroke="#666" stroke-width="0.4"/>
<line x1="252.07" y1="241.8" x2="252.07" y2="242.6" stroke="#666" stroke-width="0.4"/>
<line x1="254.84" y1="241.8" x2="254.84" y2="242.6" stroke="#666" stroke-width="0.4"/>
<line x1="257.62" y1="241.8" x2="257.62" y2="242.6" stroke="#666" stroke-width="0.4"/>
<line x1="260.4" y1="241.8" x2="260.4" y2="242.6" stroke="#666" stroke-width="0.4"/>
<line x1="263.17" y1="241.8" x2="263.17" y2="242.6" stroke="#666" stroke-width="0.4"/>
<line x1="268.73" y1="241.8" x2="268.73" y2="242.6" stroke="#666" stroke-width="0.4"/>
<line x1="271.51" y1="241.8" x2="271.51" y2="242.6" stroke="#666" stroke-width="0.4"/>
<line x1="274.28" y1="241.8" x2="274.28" y2="242.6" stroke="#666" stroke-width="0.4"/>
<line x1="277.06" y1="241.8" x2="277.06" y2="242.6" stroke="#666" stroke-width="0.4"/>
<line x1="279.84" y1="241.8" x2="279.84" y2="242.6" stroke="#666" stroke-width="0.4"/>
<line x1="282.61" y1="241.8" x2="282.61" y2="242.6" stroke="#666" stroke-width="0.4"/>
<line x1="285.39" y1="241.8" x2="285.39" y2="242.6" stroke="#666" stroke-width="0.4"/>
<line x1="290.95" y1="241.8" x2="290.95" y2="242.6" stroke="#666" stroke-width="0.4"/>
<line x1="293.72" y1="241.8" x2="293.72" y2="242.6" stroke="#666" stroke-width="0.4"/>
<text x="247.6" y="257.2" font-size="5" text-anchor="middle" fill="#333">PE-A (10<tspan dy="-2" font-size="3.6">6</tspan><tspan dy="2">)</tspan></text>
<line x1="197.8" y1="241.8" x2="199.3" y2="241.8" stroke="#333" stroke-width="0.7"/>
<text x="195.3" y="241.8" font-size="4.6" text-anchor="middle" fill="#444" transform="rotate(-90 195.3 241.8)">0</text>
<line x1="197.8" y1="222.75" x2="199.3" y2="222.75" stroke="#333" stroke-width="0.7"/>
<text x="195.3" y="222.75" font-size="4.6" text-anchor="middle" fill="#444" transform="rotate(-90 195.3 222.75)">100</text>
<line x1="197.8" y1="203.7" x2="199.3" y2="203.7" stroke="#333" stroke-width="0.7"/>
<text x="195.3" y="203.7" font-size="4.6" text-anchor="middle" fill="#444" transform="rotate(-90 195.3 203.7)">200</text>
<line x1="197.8" y1="184.65" x2="199.3" y2="184.65" stroke="#333" stroke-width="0.7"/>
<text x="195.3" y="184.65" font-size="4.6" text-anchor="middle" fill="#444" transform="rotate(-90 195.3 184.65)">300</text>
<line x1="197.8" y1="165.6" x2="199.3" y2="165.6" stroke="#333" stroke-width="0.7"/>
<text x="195.3" y="165.6" font-size="4.6" text-anchor="middle" fill="#444" transform="rotate(-90 195.3 165.6)">400</text>
<text x="195.3" y="146.4" font-size="4.6" text-anchor="middle" fill="#444" transform="rotate(-90 195.3 146.4)">505</text>
<text x="187" y="194.2" font-size="4.6" text-anchor="middle" fill="#444" transform="rotate(-90 187 194.2)">Count</text>
<text x="247.2" y="142.5" font-size="8.1" font-weight="bold" text-anchor="middle" fill="#111" stroke="#111" stroke-width="0.35">Mel-10 µM</text>
<text x="257.9" y="166.4" font-size="6.7" font-weight="bold" fill="#111" stroke="#111" stroke-width="0.2">G1:32.33%</text>
<text x="257.9" y="178.6" font-size="6.7" font-weight="bold" fill="#111" stroke="#111" stroke-width="0.2">S:50.47%</text>
<text x="257.9" y="190.7" font-size="6.7" font-weight="bold" fill="#111" stroke="#111" stroke-width="0.2">G2:16.38%</text>
<line x1="344.2" y1="146.7" x2="344.2" y2="242.2" stroke="#b8f5b0" stroke-width="0.9"/>
<line x1="369.8" y1="146.7" x2="369.8" y2="242.2" stroke="#b5f1f8" stroke-width="0.9"/>
<path d="M319.2 242.2L319.7 242.2L320.2 242.2L320.7 242.2L321.2 242.2L321.7 242.2L322.2 242.2L322.7 242.2L323.2 242.2L323.7 242.2L324.2 242.2L324.7 242.2L325.2 242.2L325.7 242.2L326.2 242.2L326.7 242.2L327.2 242.2L327.7 242.2L328.2 242.2L328.7 242.2L329.2 242.2L329.7 242.2L330.2 242.2L330.7 242.2L331.2 242.2L331.7 242.2L332.2 242.2L332.7 242.2L333.2 242.2L333.7 242.2L334.2 242.2L334.7 242.2L335.2 242.2L335.7 242.2L336.2 242.2L336.7 242.2L337.2 242.2L337.7 242.2L338.2 242.2L338.7 242.2L339.2 242.2L339.7 242.2L340.2 242.2L340.7 242.2L341.2 242.19L341.7 239.66L342.2 233.33L342.7 211.3L343.2 185.58L343.7 164.04L343.9 157.7L344.2 164.8L344.7 177.64L345.2 190.65L345.7 202.32L346.2 211.78L346.7 218.71L347.2 223.36L347.7 226.65L348.2 228.85L348.7 229.46L349.2 231.05L349.7 231.26L350.2 231.94L350.7 231.18L351.2 232.26L351.7 230.56L352.2 232.18L352.7 231.62L353.2 230.24L353.7 230.99L354.2 231.82L354.7 231L355.2 232.23L355.7 231.64L356.2 232.36L356.7 233.19L357.2 232.22L357.7 231.91L358.2 233.03L358.7 233.73L359.2 233.37L359.7 234.94L360.2 233.6L360.7 234.04L361.2 231.6L361.7 233.68L362.2 234.41L362.7 232.37L363.2 233.02L363.7 232.56L364.2 232.05L364.7 231.52L365.2 231.36L365.7 229.55L366.2 229.05L366.7 228.95L367.2 227.77L367.7 227.52L368.2 226.03L368.7 225.52L369.2 225.3L369.7 225.46L370.2 226.11L370.7 226.96L371.2 227.99L371.7 229.18L372.2 230.47L372.7 231.82L373.2 233.17L373.7 234.49L374.2 235.72L374.7 236.84L375.2 237.83L375.7 238.69L376.2 239.41L376.7 240L377.2 240.47L377.7 240.85L378.2 241.14L378.7 241.36L379.2 241.53L379.7 241.65L380.2 241.75L380.7 241.82L381.2 241.88L381.7 241.92L382.2 241.95L382.7 241.98L383.2 242L383.7 242.02L384.2 242.04L384.7 242.06L385.2 242.07L385.7 242.08L386.2 242.1L386.7 242.11L387.2 242.11L387.7 242.12L388.2 242.13L388.7 242.14L389.2 242.14L389.7 242.15L390.2 242.15L390.7 242.16L391.2 242.16L391.7 242.17L392.2 242.17L392.7 242.17L393.2 242.17L393.7 242.18L394.2 242.18L394.7 242.18L395.2 242.18L395.7 242.18L396.2 242.19L396.7 242.19L397.2 242.19L397.7 242.19L398.2 242.19L398.7 242.19L399.2 242.19L399.7 242.19L400.2 242.19L400.7 242.19L401.2 242.19L401.7 242.2L402.2 242.2L402.7 242.2L403.2 242.2L403.7 242.2L404.2 242.2L404.7 242.2L405.2 242.2L405.7 242.2L406.2 242.2L406.7 242.2L407.2 242.2L407.7 242.2L408.2 242.2L408.7 242.2L409.2 242.2L409.7 242.2L410.2 242.2L410.7 242.2L411.2 242.2L411.7 242.2L412.2 242.2L412.7 242.2L413.2 242.2L413.7 242.2L414.2 242.2L414.7 242.2L415.2 242.2L415.2 242.2L414.7 242.2L414.2 242.2L413.7 242.2L413.2 242.2L412.7 242.2L412.2 242.2L411.7 242.2L411.2 242.2L410.7 242.2L410.2 242.2L409.7 242.2L409.2 242.2L408.7 242.2L408.2 242.2L407.7 242.2L407.2 242.2L406.7 242.2L406.2 242.2L405.7 242.2L405.2 242.2L404.7 242.2L404.2 242.2L403.7 242.2L403.2 242.2L402.7 242.2L402.2 242.2L401.7 242.2L401.2 242.2L400.7 242.2L400.2 242.2L399.7 242.2L399.2 242.2L398.7 242.2L398.2 242.2L397.7 242.2L397.2 242.2L396.7 242.2L396.2 242.2L395.7 242.2L395.2 242.2L394.7 242.2L394.2 242.2L393.7 242.2L393.2 242.2L392.7 242.2L392.2 242.2L391.7 242.2L391.2 242.2L390.7 242.2L390.2 242.2L389.7 242.2L389.2 242.2L388.7 242.2L388.2 242.2L387.7 242.2L387.2 242.2L386.7 242.2L386.2 242.2L385.7 242.2L385.2 242.2L384.7 242.2L384.2 242.2L383.7 242.2L383.2 242.2L382.7 242.2L382.2 242.2L381.7 242.2L381.2 242.2L380.7 242.2L380.2 242.2L379.7 242.2L379.2 242.2L378.7 242.2L378.2 242.2L377.7 242.2L377.2 242.2L376.7 242.2L376.2 242.2L375.7 242.2L375.2 242.2L374.7 242.2L374.2 242.2L373.7 242.2L373.2 242.2L372.7 242.2L372.2 242.2L371.7 242.2L371.2 242.2L370.7 242.2L370.2 242.2L369.7 242.2L369.2 242.2L368.7 242.2L368.2 242.2L367.7 242.2L367.2 242.2L366.7 242.2L366.2 242.2L365.7 242.2L365.2 242.2L364.7 242.2L364.2 242.2L363.7 242.2L363.2 242.2L362.7 242.2L362.2 242.2L361.7 242.2L361.2 242.2L360.7 242.2L360.2 242.2L359.7 242.2L359.2 242.2L358.7 242.2L358.2 242.2L357.7 242.2L357.2 242.2L356.7 242.2L356.2 242.2L355.7 242.2L355.2 242.2L354.7 242.2L354.2 242.2L353.7 242.2L353.2 242.2L352.7 242.2L352.2 242.2L351.7 242.2L351.2 242.2L350.7 242.2L350.2 242.2L349.7 242.2L349.2 242.2L348.7 242.2L348.2 242.2L347.7 242.2L347.2 242.2L346.7 242.2L346.2 242.2L345.7 242.2L345.2 242.2L344.7 242.2L344.2 242.2L343.9 242.2L343.7 242.2L343.2 242.2L342.7 242.2L342.2 242.2L341.7 242.2L341.2 242.2L340.7 242.2L340.2 242.2L339.7 242.2L339.2 242.2L338.7 242.2L338.2 242.2L337.7 242.2L337.2 242.2L336.7 242.2L336.2 242.2L335.7 242.2L335.2 242.2L334.7 242.2L334.2 242.2L333.7 242.2L333.2 242.2L332.7 242.2L332.2 242.2L331.7 242.2L331.2 242.2L330.7 242.2L330.2 242.2L329.7 242.2L329.2 242.2L328.7 242.2L328.2 242.2L327.7 242.2L327.2 242.2L326.7 242.2L326.2 242.2L325.7 242.2L325.2 242.2L324.7 242.2L324.2 242.2L323.7 242.2L323.2 242.2L322.7 242.2L322.2 242.2L321.7 242.2L321.2 242.2L320.7 242.2L320.2 242.2L319.7 242.2L319.2 242.2Z" fill="#d8dc70" stroke="none" stroke-width="1"/>
<path d="M355.7 231.64L356.2 232.36L356.7 233.19L357.2 232.22L357.7 231.91L358.2 233.03L358.7 233.73L359.2 233.37L359.7 234.94L360.2 233.6L360.7 234.04L361.2 231.6L361.7 233.68L362.2 234.41L362.7 232.37L363.2 233.02L363.7 232.56L364.2 232.05L364.7 231.52L365.2 231.36L365.7 229.55L366.2 229.05L366.7 228.95L367.2 227.77L367.7 227.52L368.2 226.03L368.7 225.52L369.2 225.3L369.7 225.46L370.2 226.11L370.7 226.96L371.2 227.99L371.7 229.18L372.2 230.47L372.7 231.82L373.2 233.17L373.7 234.49L374.2 235.72L374.7 236.84L375.2 237.83L375.7 238.69L376.2 239.41L376.7 240L377.2 240.47L377.7 240.85L378.2 241.14L378.7 241.36L379.2 241.53L379.7 241.65L380.2 241.75L380.7 241.82L381.2 241.88L381.7 241.92L382.2 241.95L382.7 241.98L383.2 242L383.7 242.02L384.2 242.04L384.7 242.06L385.2 242.07L385.7 242.08L386.2 242.1L386.7 242.11L387.2 242.11L387.7 242.12L388.2 242.13L388.7 242.14L389.2 242.14L389.7 242.15L390.2 242.15L390.7 242.16L391.2 242.16L391.7 242.17L392.2 242.17L392.7 242.17L393.2 242.17L393.7 242.18L394.2 242.18L394.7 242.18L395.2 242.18L395.7 242.18L396.2 242.19L396.7 242.19L397.2 242.19L397.7 242.19L398.2 242.19L398.7 242.19L399.2 242.19L399.7 242.19L400.2 242.19L400.7 242.19L401.2 242.19L401.7 242.2L402.2 242.2L402.7 242.2L403.2 242.2L403.7 242.2L404.2 242.2L404.7 242.2L405.2 242.2L405.7 242.2L406.2 242.2L406.7 242.2L407.2 242.2L407.7 242.2L408.2 242.2L408.7 242.2L409.2 242.2L409.7 242.2L410.2 242.2L410.7 242.2L411.2 242.2L411.7 242.2L412.2 242.2L412.7 242.2L413.2 242.2L413.7 242.2L414.2 242.2L414.7 242.2L415.2 242.2L415.2 242.2L414.7 242.2L414.2 242.2L413.7 242.2L413.2 242.2L412.7 242.2L412.2 242.2L411.7 242.2L411.2 242.2L410.7 242.2L410.2 242.2L409.7 242.2L409.2 242.2L408.7 242.2L408.2 242.2L407.7 242.2L407.2 242.2L406.7 242.2L406.2 242.2L405.7 242.2L405.2 242.2L404.7 242.2L404.2 242.2L403.7 242.2L403.2 242.2L402.7 242.2L402.2 242.2L401.7 242.2L401.2 242.2L400.7 242.2L400.2 242.2L399.7 242.2L399.2 242.2L398.7 242.2L398.2 242.2L397.7 242.2L397.2 242.2L396.7 242.2L396.2 242.2L395.7 242.2L395.2 242.2L394.7 242.2L394.2 242.2L393.7 242.2L393.2 242.2L392.7 242.2L392.2 242.2L391.7 242.2L391.2 242.2L390.7 242.2L390.2 242.2L389.7 242.2L389.2 242.2L388.7 242.2L388.2 242.2L387.7 242.2L387.2 242.2L386.7 242.2L386.2 242.2L385.7 242.2L385.2 242.2L384.7 242.2L384.2 242.2L383.7 242.2L383.2 242.2L382.7 242.2L382.2 242.2L381.7 242.2L381.2 242.2L380.7 242.2L380.2 242.2L379.7 242.2L379.2 242.2L378.7 242.2L378.2 242.2L377.7 242.19L377.2 242.19L376.7 242.19L376.2 242.19L375.7 242.18L375.2 242.17L374.7 242.17L374.2 242.15L373.7 242.14L373.2 242.11L372.7 242.08L372.2 242.04L371.7 241.98L371.2 241.9L370.7 241.8L370.2 241.66L369.7 241.48L369.2 241.25L368.7 240.94L368.2 240.56L367.7 240.85L367.2 239.69L366.7 239.33L366.2 237.86L365.7 236.84L365.2 237.23L364.7 236.13L364.2 235.58L363.7 235.18L363.2 234.93L362.7 233.72L362.2 235.35L361.7 234.3L361.2 232.01L360.7 234.3L360.2 233.76L359.7 235.04L359.2 233.42L358.7 233.76L358.2 233.05L357.7 231.92L357.2 232.22L356.7 233.19L356.2 232.36L355.7 231.64Z" fill="#8ef0f4" stroke="none" stroke-width="1"/>
<path d="M340.2 242.2L340.7 242.2L341.2 242.2L341.7 235.16L342.2 217.55L342.7 199.95L343.2 182.35L343.7 164.74L343.9 157.7L344.2 164.74L344.7 176.48L345.2 188.21L345.7 199.95L346.2 211.69L346.7 223.42L347.2 235.16L347.7 242.2L347.7 242.2L347.2 242.2L346.7 242.2L346.2 242.2L345.7 242.2L345.2 242.2L344.7 242.2L344.2 242.2L343.9 242.2L343.7 242.2L343.2 242.2L342.7 242.2L342.2 242.2L341.7 242.2L341.2 242.2L340.7 242.2L340.2 242.2Z" fill="#66e85a" stroke="none" stroke-width="1"/>
<path d="M343.9 157.7L344.2 164.8L344.7 177.64L345.2 190.65L345.7 202.32L346.2 211.78L346.7 218.71L347.2 223.36L347.7 226.65L348.2 228.85L348.7 229.46L349.2 231.05L349.7 231.26L350.2 231.94L350.7 231.18L351.2 232.26L351.7 230.56L352.2 232.18L352.7 231.62L353.2 230.24L353.7 230.99L354.2 231.82L354.7 231L355.2 232.23L355.7 231.64L356.2 232.36L356.7 233.19L357.2 232.22L357.7 231.91L358.2 233.03L358.7 233.73L359.2 233.37L359.7 234.94L360.2 233.6L360.7 234.04L361.2 231.6L361.7 233.68L362.2 234.41L362.7 232.37L363.2 233.02L363.7 232.56L364.2 232.05L364.7 231.52L365.2 231.36L365.7 229.55L366.2 229.05L366.7 228.95L367.2 227.77L367.7 227.52L368.2 226.03L368.7 225.52L369.2 225.3L369.7 225.46L370.2 226.11L370.7 226.96L371.2 227.99L371.7 229.18L372.2 230.47L372.7 231.82L373.2 233.17L373.7 234.49L374.2 235.72L374.7 236.84L375.2 237.83L375.7 238.69L376.2 239.41L376.7 240L377.2 240.47L377.7 240.85L378.2 241.14L378.7 241.36L379.2 241.53L379.7 241.65L380.2 241.75L380.7 241.82L381.2 241.88L381.7 241.92L382.2 241.95L382.7 241.98L383.2 242L383.7 242.02L384.2 242.04L384.7 242.06L385.2 242.07L385.7 242.08L386.2 242.1L386.7 242.11L387.2 242.11L387.7 242.12L388.2 242.13L388.7 242.14L389.2 242.14L389.7 242.15L390.2 242.15L390.7 242.16L391.2 242.16L391.7 242.17L392.2 242.17L392.7 242.17L393.2 242.17L393.7 242.18L394.2 242.18L394.7 242.18L395.2 242.18L395.7 242.18L396.2 242.19L396.7 242.19L397.2 242.19L397.7 242.19L398.2 242.19L398.7 242.19L399.2 242.19L399.7 242.19L400.2 242.19L400.7 242.19L401.2 242.19L401.7 242.2L402.2 242.2L402.7 242.2L403.2 242.2L403.7 242.2L404.2 242.2L404.7 242.2L405.2 242.2L405.7 242.2L406.2 242.2L406.7 242.2L407.2 242.2L407.7 242.2L408.2 242.2L408.7 242.2L409.2 242.2L409.7 242.2L410.2 242.2L410.7 242.2L411.2 242.2L411.7 242.2L412.2 242.2L412.7 242.2L413.2 242.2L413.7 242.2L414.2 242.2L414.7 242.2L415.2 242.2" fill="none" stroke="#d04ad8" stroke-width="0.75"/>
<path d="M319.2 242.2L319.7 242.2L320.2 242.2L320.7 242.2L321.2 242.2L321.7 242.2L322.2 242.2L322.7 242.2L323.2 242.2L323.7 242.2L324.2 242.2L324.7 242.2L325.2 242.2L325.7 242.2L326.2 242.2L326.7 242.2L327.2 242.2L327.7 242.2L328.2 242.2L328.7 242.2L329.2 242.2L329.7 242.2L330.2 242.2L330.7 242.2L331.2 242.2L331.7 242.2L332.2 242.2L332.7 242.2L333.2 242.2L333.7 242.2L334.2 242.2L334.7 242.2L335.2 242.2L335.7 242.2L336.2 242.2L336.7 242.2L337.2 242.2L337.7 242.2L338.2 242.2L338.7 242.2L339.2 242.2L339.7 242.2L340.2 242.2L340.7 242.2L341.2 242.19L341.7 239.66L342.2 233.33L342.7 211.3L343.2 185.58L343.7 164.04L343.9 157.7L344.2 164.8L344.7 177.64L345.2 190.65L345.7 202.32L346.2 211.78L346.7 218.71L347.2 223.36L347.7 226.65L348.2 228.85L348.7 229.46L349.2 231.05L349.7 231.26L350.2 231.94L350.7 231.18L351.2 232.26L351.7 230.56L352.2 232.18L352.7 231.62L353.2 230.24L353.7 230.99L354.2 231.82L354.7 231L355.2 232.23L355.7 231.64L356.2 232.36L356.7 233.19L357.2 232.22L357.7 231.91L358.2 233.03L358.7 233.73L359.2 233.37L359.7 234.94L360.2 233.6L360.7 234.04L361.2 231.6L361.7 233.68L362.2 234.41L362.7 232.37L363.2 233.02L363.7 232.56L364.2 232.05L364.7 231.52L365.2 231.36L365.7 229.55L366.2 229.05L366.7 228.95L367.2 227.77L367.7 227.52L368.2 226.03L368.7 225.52L369.2 225.3L369.7 225.46L370.2 226.11L370.7 226.96L371.2 227.99L371.7 229.18L372.2 230.47L372.7 231.82L373.2 233.17L373.7 234.49L374.2 235.72L374.7 236.84L375.2 237.83L375.7 238.69L376.2 239.41L376.7 240L377.2 240.47L377.7 240.85L378.2 241.14L378.7 241.36L379.2 241.53L379.7 241.65L380.2 241.75L380.7 241.82L381.2 241.88L381.7 241.92L382.2 241.95L382.7 241.98L383.2 242L383.7 242.02L384.2 242.04L384.7 242.06L385.2 242.07L385.7 242.08L386.2 242.1L386.7 242.11L387.2 242.11L387.7 242.12L388.2 242.13L388.7 242.14L389.2 242.14L389.7 242.15L390.2 242.15L390.7 242.16L391.2 242.16L391.7 242.17L392.2 242.17L392.7 242.17L393.2 242.17L393.7 242.18L394.2 242.18L394.7 242.18L395.2 242.18L395.7 242.18L396.2 242.19L396.7 242.19L397.2 242.19L397.7 242.19L398.2 242.19L398.7 242.19L399.2 242.19L399.7 242.19L400.2 242.19L400.7 242.19L401.2 242.19L401.7 242.2L402.2 242.2L402.7 242.2L403.2 242.2L403.7 242.2L404.2 242.2L404.7 242.2L405.2 242.2L405.7 242.2L406.2 242.2L406.7 242.2L407.2 242.2L407.7 242.2L408.2 242.2L408.7 242.2L409.2 242.2L409.7 242.2L410.2 242.2L410.7 242.2L411.2 242.2L411.7 242.2L412.2 242.2L412.7 242.2L413.2 242.2L413.7 242.2L414.2 242.2L414.7 242.2L415.2 242.2" fill="none" stroke="#2a2a4a" stroke-width="0.45" opacity="0.8"/>
<line x1="318.7" y1="146.2" x2="415.5" y2="146.2" stroke="#555" stroke-width="0.9"/>
<line x1="415.5" y1="146.2" x2="415.5" y2="242.2" stroke="#555" stroke-width="0.9"/>
<line x1="318.7" y1="145.7" x2="318.7" y2="242.7" stroke="#333" stroke-width="0.9"/>
<line x1="318.7" y1="242.2" x2="415.5" y2="242.2" stroke="#333" stroke-width="0.9"/>
<text x="344.2" y="152.2" font-size="4.6" text-anchor="middle" fill="#444">G1</text>
<text x="369.8" y="152.2" font-size="4.6" text-anchor="middle" fill="#444">G2</text>
<line x1="318.7" y1="242.2" x2="318.7" y2="243.7" stroke="#333" stroke-width="0.7"/>
<text x="318.7" y="250.6" font-size="4.7" text-anchor="middle" fill="#333">0</text>
<line x1="340.83" y1="242.2" x2="340.83" y2="243.7" stroke="#333" stroke-width="0.7"/>
<text x="340.83" y="250.6" font-size="4.7" text-anchor="middle" fill="#333">0.8</text>
<line x1="362.95" y1="242.2" x2="362.95" y2="243.7" stroke="#333" stroke-width="0.7"/>
<text x="362.95" y="250.6" font-size="4.7" text-anchor="middle" fill="#333">1.6</text>
<line x1="385.08" y1="242.2" x2="385.08" y2="243.7" stroke="#333" stroke-width="0.7"/>
<text x="385.08" y="250.6" font-size="4.7" text-anchor="middle" fill="#333">2.4</text>
<line x1="415.5" y1="242.2" x2="415.5" y2="243.7" stroke="#333" stroke-width="0.7"/>
<text x="415.5" y="250.6" font-size="4.7" text-anchor="middle" fill="#333">3.5</text>
<line x1="321.47" y1="242.2" x2="321.47" y2="243" stroke="#666" stroke-width="0.4"/>
<line x1="324.23" y1="242.2" x2="324.23" y2="243" stroke="#666" stroke-width="0.4"/>
<line x1="327" y1="242.2" x2="327" y2="243" stroke="#666" stroke-width="0.4"/>
<line x1="329.76" y1="242.2" x2="329.76" y2="243" stroke="#666" stroke-width="0.4"/>
<line x1="332.53" y1="242.2" x2="332.53" y2="243" stroke="#666" stroke-width="0.4"/>
<line x1="335.29" y1="242.2" x2="335.29" y2="243" stroke="#666" stroke-width="0.4"/>
<line x1="338.06" y1="242.2" x2="338.06" y2="243" stroke="#666" stroke-width="0.4"/>
<line x1="343.59" y1="242.2" x2="343.59" y2="243" stroke="#666" stroke-width="0.4"/>
<line x1="346.36" y1="242.2" x2="346.36" y2="243" stroke="#666" stroke-width="0.4"/>
<line x1="349.12" y1="242.2" x2="349.12" y2="243" stroke="#666" stroke-width="0.4"/>
<line x1="351.89" y1="242.2" x2="351.89" y2="243" stroke="#666" stroke-width="0.4"/>
<line x1="354.65" y1="242.2" x2="354.65" y2="243" stroke="#666" stroke-width="0.4"/>
<line x1="357.42" y1="242.2" x2="357.42" y2="243" stroke="#666" stroke-width="0.4"/>
<line x1="360.19" y1="242.2" x2="360.19" y2="243" stroke="#666" stroke-width="0.4"/>
<line x1="365.72" y1="242.2" x2="365.72" y2="243" stroke="#666" stroke-width="0.4"/>
<line x1="368.48" y1="242.2" x2="368.48" y2="243" stroke="#666" stroke-width="0.4"/>
<line x1="371.25" y1="242.2" x2="371.25" y2="243" stroke="#666" stroke-width="0.4"/>
<line x1="374.01" y1="242.2" x2="374.01" y2="243" stroke="#666" stroke-width="0.4"/>
<line x1="376.78" y1="242.2" x2="376.78" y2="243" stroke="#666" stroke-width="0.4"/>
<line x1="379.55" y1="242.2" x2="379.55" y2="243" stroke="#666" stroke-width="0.4"/>
<line x1="382.31" y1="242.2" x2="382.31" y2="243" stroke="#666" stroke-width="0.4"/>
<line x1="387.84" y1="242.2" x2="387.84" y2="243" stroke="#666" stroke-width="0.4"/>
<line x1="390.61" y1="242.2" x2="390.61" y2="243" stroke="#666" stroke-width="0.4"/>
<line x1="393.37" y1="242.2" x2="393.37" y2="243" stroke="#666" stroke-width="0.4"/>
<line x1="396.14" y1="242.2" x2="396.14" y2="243" stroke="#666" stroke-width="0.4"/>
<line x1="398.91" y1="242.2" x2="398.91" y2="243" stroke="#666" stroke-width="0.4"/>
<line x1="401.67" y1="242.2" x2="401.67" y2="243" stroke="#666" stroke-width="0.4"/>
<line x1="404.44" y1="242.2" x2="404.44" y2="243" stroke="#666" stroke-width="0.4"/>
<line x1="409.97" y1="242.2" x2="409.97" y2="243" stroke="#666" stroke-width="0.4"/>
<line x1="412.73" y1="242.2" x2="412.73" y2="243" stroke="#666" stroke-width="0.4"/>
<text x="367" y="257.6" font-size="5" text-anchor="middle" fill="#333">PE-A (10<tspan dy="-2" font-size="3.6">6</tspan><tspan dy="2">)</tspan></text>
<line x1="317.2" y1="242.2" x2="318.7" y2="242.2" stroke="#333" stroke-width="0.7"/>
<text x="314.7" y="242.2" font-size="4.6" text-anchor="middle" fill="#444" transform="rotate(-90 314.7 242.2)">0</text>
<line x1="317.2" y1="223.6" x2="318.7" y2="223.6" stroke="#333" stroke-width="0.7"/>
<text x="314.7" y="223.6" font-size="4.6" text-anchor="middle" fill="#444" transform="rotate(-90 314.7 223.6)">100</text>
<line x1="317.2" y1="204.99" x2="318.7" y2="204.99" stroke="#333" stroke-width="0.7"/>
<text x="314.7" y="204.99" font-size="4.6" text-anchor="middle" fill="#444" transform="rotate(-90 314.7 204.99)">200</text>
<line x1="317.2" y1="186.39" x2="318.7" y2="186.39" stroke="#333" stroke-width="0.7"/>
<text x="314.7" y="186.39" font-size="4.6" text-anchor="middle" fill="#444" transform="rotate(-90 314.7 186.39)">300</text>
<line x1="317.2" y1="167.78" x2="318.7" y2="167.78" stroke="#333" stroke-width="0.7"/>
<text x="314.7" y="167.78" font-size="4.6" text-anchor="middle" fill="#444" transform="rotate(-90 314.7 167.78)">400</text>
<text x="314.7" y="147" font-size="4.6" text-anchor="middle" fill="#444" transform="rotate(-90 314.7 147)">516</text>
<text x="306.4" y="194.7" font-size="4.6" text-anchor="middle" fill="#444" transform="rotate(-90 306.4 194.7)">Count</text>
<text x="364.4" y="143.8" font-size="8.1" font-weight="bold" text-anchor="middle" fill="#111" stroke="#111" stroke-width="0.35">Mel-50 µM</text>
<text x="379" y="166.4" font-size="6.7" font-weight="bold" fill="#111" stroke="#111" stroke-width="0.2">G1:32.24%</text>
<text x="379" y="178.6" font-size="6.7" font-weight="bold" fill="#111" stroke="#111" stroke-width="0.2">S:49.74%</text>
<text x="379" y="190.7" font-size="6.7" font-weight="bold" fill="#111" stroke="#111" stroke-width="0.2">G2:17.34%</text>
<path d="M505.8 85.3h.8M478.4 100.6h.8M479.1 73.6h.8M493.7 80.7h.8M481.1 89.1h.8M493.6 87.8h.8M479.0 81.2h.8M488.4 87.9h.8M470.0 89.2h.8M487.4 91.7h.8M493.2 81.6h.8M499.3 83.1h.8M500.6 84.1h.8M478.5 89.2h.8M490.3 82.0h.8M492.0 97.8h.8M462.9 83.2h.8M479.1 81.4h.8M481.8 94.8h.8M495.1 99.9h.8M485.7 81.5h.8M484.2 85.1h.8M495.2 83.2h.8M493.0 83.6h.8M506.8 71.3h.8M504.8 93.7h.8M472.9 91.6h.8M479.1 97.1h.8M486.5 104.1h.8M478.9 85.2h.8M474.4 89.4h.8M470.7 92.9h.8M476.4 86.7h.8M485.7 79.5h.8M479.0 84.6h.8M471.1 92.0h.8M487.2 104.9h.8M502.8 78.2h.8M464.4 93.0h.8M482.9 86.5h.8M480.3 76.4h.8M468.5 75.6h.8M485.0 92.0h.8M463.2 98.2h.8M503.7 86.3h.8M471.6 86.0h.8M482.5 84.1h.8M498.9 83.7h.8M475.2 87.7h.8M478.9 83.2h.8M482.5 91.2h.8M500.0 83.0h.8M497.1 83.2h.8M490.2 80.6h.8M473.6 83.4h.8M475.4 94.4h.8M489.9 90.2h.8M504.4 83.4h.8M504.0 89.6h.8M488.2 91.7h.8M487.5 108.6h.8M482.0 88.0h.8M486.8 63.0h.8M486.3 88.1h.8M488.6 106.1h.8M478.9 77.6h.8M480.8 90.4h.8M490.1 89.9h.8M482.6 87.0h.8M488.7 91.1h.8M479.2 79.1h.8M509.9 99.8h.8M473.2 83.8h.8M488.9 108.8h.8M490.9 91.5h.8M481.5 92.7h.8M474.1 86.0h.8M483.8 92.7h.8M490.6 91.4h.8M488.4 89.7h.8M478.6 75.3h.8M482.1 69.0h.8M485.1 90.1h.8M490.0 80.3h.8M471.2 67.5h.8M480.9 78.1h.8M481.5 67.3h.8M480.0 86.4h.8M472.6 91.9h.8M520.0 80.9h.8M494.5 66.9h.8M499.2 91.4h.8M509.5 72.9h.8M478.6 106.9h.8M495.3 104.8h.8M491.4 109.5h.8M496.6 93.2h.8M475.8 92.2h.8M489.4 86.7h.8M493.5 104.1h.8M482.9 86.3h.8M488.0 81.3h.8M478.3 99.6h.8M479.2 99.3h.8M498.2 81.1h.8M511.6 91.0h.8M499.5 108.0h.8M505.5 87.2h.8M515.0 78.4h.8M500.3 100.4h.8M495.7 79.9h.8M511.8 96.9h.8M471.1 91.9h.8M500.3 83.6h.8M479.0 95.1h.8M479.6 86.0h.8M487.4 88.4h.8M496.5 75.6h.8M492.3 109.1h.8M490.3 82.1h.8M466.4 94.0h.8M495.0 81.2h.8M481.0 93.9h.8M497.7 91.6h.8M489.8 90.1h.8M485.3 86.1h.8M479.7 106.9h.8M484.4 85.8h.8M481.5 88.4h.8M503.5 102.1h.8M489.5 73.9h.8M508.1 95.0h.8M477.8 89.3h.8M483.1 113.1h.8M495.2 75.0h.8M478.4 90.7h.8M505.2 85.4h.8M512.4 90.5h.8M504.9 81.5h.8M468.6 88.0h.8M498.8 75.3h.8M489.3 106.7h.8M493.5 85.8h.8M484.3 85.3h.8M486.0 92.6h.8M482.9 90.5h.8M491.0 91.1h.8M481.3 91.1h.8M502.2 74.9h.8M493.8 83.8h.8M479.2 83.4h.8M483.0 104.3h.8M490.8 93.8h.8M489.4 108.7h.8M471.3 100.4h.8M489.2 93.1h.8M504.9 100.1h.8M480.9 80.8h.8M502.7 96.8h.8M475.5 113.6h.8M499.5 81.8h.8M479.6 87.8h.8M503.2 67.6h.8M499.5 85.2h.8M475.9 97.9h.8M522.9 82.6h.8M500.8 96.6h.8M477.3 81.5h.8M488.3 87.3h.8M495.4 91.1h.8M488.4 83.6h.8M479.8 84.5h.8M509.4 91.0h.8M490.4 101.4h.8M494.6 109.2h.8M487.0 105.9h.8M496.1 101.8h.8M474.7 107.4h.8M491.6 92.3h.8M479.7 104.7h.8M487.8 102.3h.8M508.6 108.8h.8M485.6 106.9h.8M491.3 104.6h.8M487.1 111.4h.8M496.9 106.5h.8M486.8 102.5h.8M468.6 91.7h.8M475.6 99.9h.8M473.0 104.8h.8M506.5 98.3h.8M500.9 99.9h.8M476.0 89.4h.8M502.3 104.3h.8M494.5 98.9h.8M490.2 97.9h.8M487.8 111.9h.8M483.0 101.1h.8M486.3 107.1h.8M493.9 112.4h.8M463.7 102.5h.8M491.7 107.8h.8M491.5 105.2h.8M479.7 100.4h.8M501.2 105.6h.8M493.5 110.5h.8M479.6 103.4h.8M478.6 113.7h.8M491.9 98.5h.8M480.7 105.6h.8M498.2 107.9h.8M492.3 103.0h.8M486.7 105.8h.8M499.0 94.7h.8M493.9 93.4h.8M484.8 108.0h.8M479.8 111.0h.8M481.9 102.0h.8M511.2 105.4h.8M499.8 102.4h.8M476.8 101.9h.8M497.3 106.7h.8M495.1 102.5h.8M505.5 78.6h.8M515.5 80.0h.8M520.8 80.4h.8M506.0 68.2h.8M510.5 67.0h.8M511.5 88.3h.8M514.1 95.4h.8M505.8 72.7h.8M507.4 80.9h.8M512.6 86.4h.8M502.6 76.3h.8M513.3 80.5h.8M518.2 86.7h.8M508.3 83.3h.8M512.5 68.6h.8M502.3 85.1h.8M520.4 84.1h.8M514.6 93.4h.8M502.4 70.7h.8M509.5 89.8h.8M510.0 72.3h.8M511.5 93.3h.8M511.6 63.5h.8M508.2 78.9h.8M502.5 109.7h.8M508.1 74.4h.8M511.9 90.8h.8M517.9 84.4h.8M513.2 92.2h.8M507.8 73.5h.8M510.4 83.7h.8M511.7 93.5h.8M504.4 78.4h.8M519.3 81.3h.8M514.2 86.6h.8M503.7 78.8h.8M506.2 78.1h.8M515.6 88.6h.8M506.3 90.6h.8M522.5 56.4h.8M514.6 50.6h.8M517.1 50.8h.8M518.3 47.0h.8M518.9 45.5h.8M509.7 79.4h.8M507.5 77.4h.8M509.7 76.0h.8M519.7 46.8h.8M507.5 76.3h.8M508.5 62.8h.8M509.1 60.0h.8M512.1 66.9h.8M513.5 78.7h.8M510.6 71.3h.8M511.8 76.0h.8M504.9 81.8h.8M506.8 79.5h.8M507.5 64.3h.8M522.9 44.3h.8M513.7 64.4h.8M519.7 50.0h.8M519.4 63.4h.8M504.3 78.8h.8M514.7 78.3h.8M507.7 76.5h.8M515.0 68.9h.8M523.3 64.9h.8M507.4 62.0h.8M521.2 60.0h.8M518.6 83.6h.8M515.9 60.6h.8M520.6 59.1h.8M517.1 62.9h.8M518.1 58.0h.8M512.2 87.6h.8M523.5 45.3h.8M503.1 78.2h.8M514.5 55.9h.8M514.7 73.4h.8M514.1 70.6h.8M523.2 48.3h.8M507.1 76.4h.8M512.5 78.9h.8M519.1 56.8h.8M514.9 55.7h.8M528.7 51.3h.8M519.6 45.8h.8M516.1 75.3h.8M511.9 83.4h.8M518.1 70.6h.8M533.1 43.3h.8M527.3 43.1h.8M518.5 45.5h.8M512.0 42.5h.8M523.6 40.9h.8M524.5 39.3h.8M529.7 39.5h.8M517.9 44.9h.8M539.3 41.0h.8M530.1 40.3h.8M531.0 39.5h.8M517.2 40.7h.8M526.2 44.9h.8M517.6 40.6h.8M520.8 43.4h.8M525.5 40.8h.8M493.5 71.1h.8M492.2 62.1h.8M501.2 64.6h.8M492.6 73.5h.8M503.4 46.8h.8M482.9 65.4h.8M511.8 63.8h.8M490.6 72.4h.8M491.5 53.4h.8M514.4 81.2h.8M519.1 63.1h.8M514.4 65.0h.8M520.1 53.5h.8M528.4 78.0h.8M528.8 44.7h.8M539.5 72.3h.8M510.4 72.8h.8M523.0 44.5h.8M522.5 62.4h.8M512.8 63.4h.8M532.2 48.2h.8M525.4 58.2h.8M517.9 62.2h.8M520.8 57.6h.8" stroke="#4040ff" stroke-width=".8"/>
<path d="M481.4 95.2h.8M488.6 85.8h.8M493.1 88.4h.8M503.7 105.4h.8M493.5 83.6h.8M477.1 83.7h.8M482.6 94.0h.8M501.7 94.6h.8M482.8 96.5h.8M486.2 76.7h.8M497.9 94.4h.8M474.7 96.8h.8M475.3 74.2h.8M503.6 93.3h.8M492.0 90.9h.8M476.6 70.1h.8M495.4 83.4h.8M494.8 76.3h.8M500.3 101.8h.8M469.6 87.2h.8M465.1 92.0h.8M506.3 89.9h.8M481.7 82.9h.8M486.6 87.0h.8M471.3 89.2h.8M489.4 82.2h.8M481.6 89.5h.8M483.0 82.5h.8M469.2 92.2h.8M490.9 89.0h.8M470.9 92.1h.8M472.3 87.2h.8M492.7 73.4h.8M495.9 92.5h.8M477.1 92.6h.8M486.5 93.0h.8M483.6 96.6h.8M471.4 92.2h.8M479.9 84.0h.8M489.2 90.6h.8M498.8 82.6h.8M471.2 77.3h.8M484.1 90.2h.8M489.8 88.9h.8M488.9 88.8h.8M492.7 91.2h.8M476.9 90.9h.8M485.6 83.5h.8M489.0 94.0h.8M482.6 90.0h.8M480.4 89.4h.8M506.2 96.0h.8M483.7 77.5h.8M475.3 74.6h.8M478.8 90.3h.8M481.3 79.4h.8M485.2 75.7h.8M473.8 98.3h.8M470.9 90.3h.8M481.8 96.2h.8M491.7 78.7h.8M462.6 79.0h.8M481.1 80.3h.8M472.8 102.3h.8M494.0 78.1h.8M472.7 84.9h.8M504.7 89.5h.8M503.9 90.1h.8M468.4 69.8h.8M471.0 71.9h.8M492.0 105.8h.8M482.8 78.9h.8M480.9 100.5h.8M493.6 88.3h.8M499.6 88.4h.8M465.4 100.1h.8M503.1 86.7h.8M492.0 82.1h.8M498.4 79.4h.8M472.3 89.1h.8M475.2 84.7h.8M463.3 97.6h.8M467.7 87.5h.8M500.1 86.4h.8M473.9 93.0h.8M501.9 101.3h.8M472.9 79.0h.8M484.7 96.8h.8M478.2 92.2h.8M491.9 84.0h.8M482.4 82.7h.8M500.9 79.3h.8M507.8 105.3h.8M471.4 97.0h.8M496.4 86.0h.8M480.6 97.9h.8M488.2 83.1h.8M486.7 89.4h.8M512.4 63.3h.8M501.7 95.7h.8M486.7 94.9h.8M479.6 81.6h.8M470.5 108.6h.8M480.7 97.3h.8M494.1 88.1h.8M462.7 106.4h.8M474.9 99.9h.8M471.5 94.3h.8M482.2 86.8h.8M477.9 86.4h.8M491.9 85.8h.8M471.7 92.1h.8M507.8 95.5h.8M480.7 106.5h.8M481.3 89.3h.8M469.8 84.0h.8M501.6 85.9h.8M506.3 82.6h.8M483.2 107.9h.8M498.5 101.6h.8M503.1 91.6h.8M477.5 76.9h.8M495.0 91.9h.8M475.3 81.9h.8M478.4 86.7h.8M499.8 94.5h.8M490.2 92.4h.8M506.3 90.5h.8M464.3 87.3h.8M497.6 78.8h.8M484.4 99.8h.8M481.3 90.9h.8M469.7 87.5h.8M497.6 95.1h.8M475.3 99.2h.8M492.6 104.5h.8M486.2 76.1h.8M513.1 87.6h.8M474.1 92.5h.8M490.2 93.4h.8M493.4 91.3h.8M479.0 60.5h.8M473.9 104.6h.8M493.0 104.2h.8M492.3 95.4h.8M484.2 89.7h.8M483.9 100.8h.8M482.8 96.5h.8M507.0 88.8h.8M481.6 99.8h.8M491.9 90.5h.8M504.8 69.2h.8M502.4 85.6h.8M461.9 93.9h.8M506.4 101.4h.8M498.8 82.0h.8M520.0 83.1h.8M482.1 101.2h.8M490.7 102.8h.8M488.8 78.8h.8M485.8 86.5h.8M485.7 84.5h.8M470.3 71.3h.8M495.5 77.7h.8M492.0 58.3h.8M474.2 94.3h.8M475.4 86.9h.8M484.9 88.2h.8M505.0 93.9h.8M479.3 74.9h.8M513.5 92.5h.8M511.4 62.6h.8M488.8 114.2h.8M505.3 112.5h.8M492.9 87.8h.8M475.1 109.4h.8M512.9 104.2h.8M482.7 94.8h.8M483.5 106.9h.8M476.4 98.7h.8M488.7 106.1h.8M476.5 104.5h.8M502.9 105.8h.8M497.0 106.7h.8M476.0 104.1h.8M495.5 100.6h.8M477.3 95.3h.8M474.6 108.2h.8M497.5 102.5h.8M488.6 108.7h.8M481.7 103.5h.8M488.3 106.3h.8M478.2 103.2h.8M497.8 104.1h.8M494.7 95.0h.8M474.7 97.8h.8M467.8 92.8h.8M476.9 107.9h.8M490.6 101.3h.8M478.5 106.1h.8M475.8 109.0h.8M491.8 96.7h.8M481.7 98.1h.8M498.1 100.9h.8M492.1 101.4h.8M503.9 102.8h.8M483.9 106.1h.8M483.1 103.1h.8M494.5 107.9h.8M499.0 105.2h.8M493.3 112.0h.8M502.5 92.5h.8M487.1 101.5h.8M474.1 98.5h.8M480.0 101.7h.8M488.5 97.1h.8M480.1 106.1h.8M471.2 99.7h.8M486.9 95.1h.8M487.0 114.2h.8M490.3 104.8h.8M473.4 99.1h.8M506.6 106.3h.8M516.2 94.1h.8M513.5 80.3h.8M512.6 78.4h.8M507.8 79.8h.8M520.6 96.1h.8M512.5 75.5h.8M512.8 83.5h.8M505.9 85.3h.8M512.4 75.1h.8M513.0 72.7h.8M507.6 81.3h.8M518.1 90.4h.8M505.5 75.9h.8M511.8 81.3h.8M516.2 93.3h.8M512.4 76.6h.8M502.8 72.5h.8M513.2 85.3h.8M506.2 90.6h.8M510.9 79.3h.8M511.6 83.3h.8M509.1 81.7h.8M512.6 72.5h.8M515.8 81.4h.8M514.5 92.5h.8M511.6 82.8h.8M508.9 104.6h.8M505.5 74.3h.8M511.0 89.1h.8M512.0 89.7h.8M514.3 86.9h.8M518.6 75.8h.8M509.8 85.1h.8M514.6 79.6h.8M504.4 88.5h.8M504.5 76.3h.8M513.8 85.0h.8M501.9 83.2h.8M528.8 44.2h.8M510.1 80.1h.8M521.0 46.3h.8M515.1 60.4h.8M517.1 57.0h.8M520.2 61.6h.8M520.4 53.3h.8M519.2 57.8h.8M510.7 78.3h.8M508.3 78.4h.8M501.0 72.8h.8M507.9 86.4h.8M516.8 66.7h.8M517.1 59.2h.8M514.8 52.8h.8M502.4 87.2h.8M521.8 48.4h.8M517.4 69.3h.8M515.7 53.7h.8M507.0 84.5h.8M513.9 68.0h.8M523.1 49.4h.8M520.5 48.5h.8M504.9 77.6h.8M514.4 57.6h.8M524.3 49.2h.8M504.7 74.4h.8M523.0 57.9h.8M509.7 76.7h.8M510.8 73.3h.8M511.6 70.2h.8M512.8 73.1h.8M518.2 62.6h.8M520.2 58.1h.8M523.8 51.3h.8M511.7 78.0h.8M514.0 63.6h.8M505.4 75.7h.8M515.8 72.3h.8M529.7 44.6h.8M509.6 66.0h.8M510.8 73.8h.8M522.4 52.0h.8M521.2 53.0h.8M526.4 40.9h.8M512.5 58.7h.8M523.1 52.1h.8M525.7 47.8h.8M511.1 75.7h.8M515.8 53.4h.8M512.2 75.3h.8M512.2 73.0h.8M521.3 42.5h.8M520.5 43.0h.8M521.8 41.0h.8M522.1 40.6h.8M528.4 42.7h.8M520.6 41.5h.8M526.5 42.7h.8M520.3 40.6h.8M518.8 41.3h.8M538.7 43.0h.8M524.2 39.0h.8M522.8 43.0h.8M519.2 40.8h.8M527.8 43.0h.8M530.1 40.7h.8M519.0 41.8h.8M497.8 42.5h.8M497.1 78.5h.8M486.6 80.7h.8M508.4 65.0h.8M465.9 59.1h.8M476.7 52.1h.8M490.4 62.8h.8M491.3 63.2h.8M517.3 69.1h.8M509.9 64.8h.8M509.6 75.9h.8M531.5 71.2h.8M510.6 77.9h.8M513.7 58.7h.8M532.3 66.9h.8M521.6 50.1h.8M523.9 55.6h.8M530.4 55.1h.8M549.5 64.5h.8M541.1 53.5h.8M518.9 65.3h.8M518.0 51.1h.8M528.4 56.6h.8M536.0 39.3h.8" stroke="#3434ee" stroke-width=".8"/>
<path d="M479.0 82.5h.8M489.9 94.7h.8M491.6 90.2h.8M484.5 85.7h.8M503.4 73.7h.8M482.7 75.0h.8M480.3 81.6h.8M466.2 85.7h.8M485.9 89.6h.8M464.6 86.5h.8M491.2 75.1h.8M483.1 69.3h.8M484.0 92.0h.8M471.8 85.1h.8M489.3 83.4h.8M476.3 83.5h.8M507.0 84.0h.8M474.5 83.9h.8M473.2 89.0h.8M498.2 75.4h.8M477.0 78.7h.8M511.3 95.5h.8M491.8 89.9h.8M466.4 94.5h.8M485.0 91.4h.8M479.2 91.5h.8M503.3 96.3h.8M466.2 85.3h.8M476.2 103.7h.8M496.1 86.0h.8M494.4 84.6h.8M484.0 87.1h.8M506.4 83.0h.8M480.3 92.5h.8M493.2 84.2h.8M467.5 81.2h.8M465.8 75.2h.8M476.4 76.2h.8M484.3 99.1h.8M504.0 71.6h.8M468.3 84.9h.8M486.9 94.0h.8M480.7 71.1h.8M476.5 90.6h.8M493.1 94.1h.8M491.3 87.7h.8M497.4 66.0h.8M482.5 92.7h.8M474.2 106.9h.8M502.2 113.1h.8M481.5 75.3h.8M479.5 75.5h.8M492.6 80.8h.8M466.2 77.8h.8M479.4 80.6h.8M493.7 91.6h.8M485.4 85.1h.8M493.6 79.1h.8M473.3 86.6h.8M466.8 97.1h.8M499.0 88.7h.8M475.8 81.8h.8M504.0 75.3h.8M491.5 75.7h.8M481.2 72.1h.8M504.4 82.2h.8M470.4 80.5h.8M465.2 90.6h.8M498.7 83.9h.8M479.0 93.8h.8M497.0 98.0h.8M485.0 83.7h.8M500.7 89.5h.8M505.6 83.4h.8M497.1 72.5h.8M498.2 64.5h.8M488.3 78.6h.8M500.7 84.0h.8M492.0 76.0h.8M492.7 86.4h.8M473.9 81.3h.8M484.1 88.4h.8M471.7 88.3h.8M492.8 85.7h.8M475.9 83.7h.8M462.9 85.1h.8M494.0 78.5h.8M487.5 81.8h.8M499.5 95.6h.8M487.6 90.3h.8M495.9 79.0h.8M491.7 88.0h.8M499.3 69.3h.8M493.0 95.2h.8M487.9 75.0h.8M486.1 89.8h.8M491.7 104.0h.8M495.4 96.2h.8M494.8 104.6h.8M492.8 79.5h.8M465.3 75.0h.8M485.6 78.7h.8M477.8 100.4h.8M489.6 76.0h.8M484.6 109.3h.8M495.9 75.0h.8M505.2 93.8h.8M517.9 91.3h.8M483.3 94.8h.8M503.0 76.2h.8M472.3 105.0h.8M477.4 92.3h.8M491.2 82.8h.8M490.2 85.0h.8M487.9 101.1h.8M489.4 100.9h.8M476.7 95.1h.8M498.6 82.1h.8M504.1 80.5h.8M475.7 105.8h.8M493.6 92.7h.8M470.8 88.9h.8M475.8 82.8h.8M502.8 106.7h.8M478.4 100.0h.8M487.6 85.7h.8M508.2 97.9h.8M500.9 71.9h.8M476.3 98.9h.8M489.8 109.5h.8M492.9 83.6h.8M484.3 73.2h.8M480.5 110.6h.8M465.7 84.7h.8M483.1 107.3h.8M466.7 93.8h.8M493.6 79.6h.8M494.4 82.3h.8M470.8 100.6h.8M490.4 112.3h.8M462.5 97.9h.8M479.9 73.2h.8M466.9 95.5h.8M493.5 81.9h.8M469.8 88.3h.8M473.5 88.4h.8M498.0 106.9h.8M489.1 78.4h.8M500.5 84.2h.8M511.4 94.4h.8M480.0 89.4h.8M489.5 103.5h.8M471.6 78.3h.8M471.8 88.5h.8M497.5 92.2h.8M472.7 52.1h.8M509.6 91.6h.8M467.8 99.2h.8M471.0 112.9h.8M483.2 100.6h.8M503.6 99.8h.8M493.7 104.4h.8M468.0 78.7h.8M495.0 84.1h.8M499.3 109.9h.8M478.0 81.5h.8M476.3 94.1h.8M506.4 89.6h.8M465.2 102.2h.8M516.1 79.4h.8M478.3 90.7h.8M506.4 71.2h.8M497.6 100.4h.8M492.5 92.9h.8M488.6 110.4h.8M504.5 111.1h.8M490.8 101.0h.8M480.6 103.5h.8M485.5 98.0h.8M491.5 100.8h.8M488.9 106.4h.8M493.5 96.9h.8M486.2 103.6h.8M508.5 107.7h.8M491.1 99.6h.8M485.7 111.7h.8M489.4 108.8h.8M484.2 110.3h.8M493.0 99.4h.8M490.0 100.2h.8M493.1 108.7h.8M482.2 104.7h.8M486.7 108.5h.8M502.2 102.0h.8M493.3 89.6h.8M498.0 91.1h.8M486.6 96.4h.8M500.7 109.5h.8M478.2 95.2h.8M498.9 104.7h.8M502.1 96.2h.8M500.9 101.0h.8M482.5 111.5h.8M494.6 101.4h.8M486.1 102.2h.8M475.0 95.3h.8M490.0 99.9h.8M487.6 101.0h.8M493.5 103.3h.8M498.5 101.0h.8M477.3 97.3h.8M497.8 94.7h.8M496.0 98.0h.8M483.1 94.1h.8M475.6 99.8h.8M475.4 100.6h.8M501.0 98.5h.8M493.6 109.8h.8M487.5 100.4h.8M490.0 107.3h.8M482.6 106.8h.8M486.7 104.9h.8M506.9 87.4h.8M510.4 95.8h.8M510.3 82.7h.8M507.9 90.4h.8M503.5 73.9h.8M514.5 107.6h.8M507.1 84.4h.8M503.1 85.3h.8M508.3 86.0h.8M509.4 72.3h.8M507.6 96.8h.8M514.0 89.2h.8M506.3 86.6h.8M505.4 80.8h.8M516.3 83.2h.8M505.0 83.5h.8M503.6 76.0h.8M512.0 84.3h.8M514.6 80.7h.8M508.4 85.0h.8M515.2 93.2h.8M523.9 87.8h.8M516.0 77.8h.8M508.0 80.8h.8M510.3 80.8h.8M514.3 88.4h.8M517.2 74.1h.8M506.5 73.9h.8M503.1 82.5h.8M501.9 92.7h.8M503.5 90.9h.8M500.5 87.3h.8M510.1 85.6h.8M507.1 92.7h.8M510.1 71.4h.8M509.5 79.5h.8M504.8 80.5h.8M515.5 87.0h.8M509.8 81.2h.8M516.5 58.0h.8M515.8 70.5h.8M518.5 48.4h.8M507.8 79.6h.8M508.0 74.8h.8M517.6 53.3h.8M511.8 79.7h.8M509.8 66.5h.8M519.2 38.2h.8M523.5 53.1h.8M509.9 81.7h.8M513.9 61.3h.8M508.8 73.4h.8M508.3 74.2h.8M520.9 50.2h.8M516.4 56.1h.8M515.4 56.5h.8M511.2 50.5h.8M505.9 89.1h.8M529.3 34.3h.8M518.1 52.8h.8M512.2 73.3h.8M509.6 62.8h.8M513.8 67.7h.8M517.2 54.5h.8M512.4 60.0h.8M513.7 48.9h.8M529.8 47.5h.8M519.6 79.3h.8M521.1 59.6h.8M507.2 68.6h.8M524.0 46.0h.8M523.1 42.8h.8M523.0 49.6h.8M517.0 56.8h.8M509.2 79.0h.8M506.0 81.5h.8M514.3 62.1h.8M524.4 40.0h.8M510.9 50.6h.8M520.7 44.2h.8M527.7 42.1h.8M514.7 66.5h.8M515.4 60.9h.8M522.5 49.8h.8M524.2 59.0h.8M511.8 64.5h.8M522.4 50.3h.8M513.0 72.1h.8M521.1 51.2h.8M525.6 45.0h.8M523.8 39.7h.8M515.4 40.5h.8M530.3 40.1h.8M520.9 41.6h.8M525.9 41.7h.8M519.8 41.6h.8M523.6 43.5h.8M525.1 44.3h.8M529.1 39.9h.8M522.4 43.3h.8M531.6 43.5h.8M528.0 42.6h.8M514.8 40.4h.8M531.3 40.7h.8M529.3 40.7h.8M525.8 43.0h.8M496.3 50.9h.8M501.3 81.2h.8M495.3 37.6h.8M504.9 56.2h.8M512.5 77.6h.8M487.4 67.0h.8M491.0 65.7h.8M507.7 73.0h.8M505.1 64.5h.8M484.9 67.3h.8M527.4 60.6h.8M531.7 67.0h.8M504.8 52.6h.8M510.4 65.0h.8M508.8 52.9h.8M521.3 85.1h.8M527.6 73.1h.8M520.7 59.3h.8M521.1 49.8h.8M525.6 69.8h.8M519.9 74.7h.8M514.1 75.8h.8M516.7 59.4h.8M513.4 57.9h.8" stroke="#5050ff" stroke-width=".8"/>
<path d="M484.7 67.6h.8M472.0 73.1h.8M469.1 75.8h.8M476.6 87.9h.8M492.4 80.0h.8M477.9 86.3h.8M485.9 84.8h.8M500.4 81.5h.8M497.6 85.2h.8M470.6 84.5h.8M489.6 85.5h.8M489.5 86.2h.8M510.7 64.8h.8M479.6 77.3h.8M501.0 88.7h.8M461.9 93.8h.8M472.1 88.4h.8M483.3 98.3h.8M485.7 106.4h.8M490.0 89.1h.8M494.6 78.4h.8M484.4 76.7h.8M491.0 104.1h.8M487.5 105.1h.8M479.7 68.4h.8M486.7 88.4h.8M495.1 81.6h.8M496.2 80.0h.8M491.0 92.9h.8M476.7 95.5h.8M491.0 84.8h.8M479.9 82.8h.8M503.4 91.0h.8M495.9 91.4h.8M488.1 95.0h.8M502.6 90.9h.8M468.3 65.4h.8M484.3 87.2h.8M480.1 80.4h.8M505.3 70.2h.8M473.7 79.6h.8M500.1 78.5h.8M489.1 80.5h.8M488.6 83.0h.8M480.9 86.5h.8M473.0 86.1h.8M486.9 96.6h.8M473.5 89.1h.8M485.8 89.4h.8M504.2 78.5h.8M503.3 93.0h.8M482.6 83.5h.8M498.9 92.4h.8M498.3 96.2h.8M464.7 77.5h.8M483.7 98.7h.8M507.2 68.9h.8M486.9 93.6h.8M486.4 72.2h.8M495.2 82.3h.8M482.2 81.7h.8M472.8 75.1h.8M502.7 86.3h.8M486.7 75.8h.8M470.6 83.8h.8M482.8 72.9h.8M492.0 99.2h.8M474.3 93.2h.8M485.5 79.0h.8M501.4 79.6h.8M494.8 83.1h.8M484.8 94.1h.8M468.5 94.2h.8M476.1 88.0h.8M474.7 77.5h.8M480.1 85.3h.8M479.9 75.1h.8M481.6 80.4h.8M485.2 80.9h.8M485.5 93.6h.8M498.1 87.0h.8M501.2 94.8h.8M492.1 81.1h.8M462.0 93.2h.8M477.6 74.5h.8M468.1 82.1h.8M497.9 81.9h.8M484.0 82.3h.8M487.8 84.3h.8M487.1 113.5h.8M482.0 81.3h.8M497.3 98.7h.8M479.9 80.6h.8M491.5 106.1h.8M508.9 68.4h.8M471.5 103.7h.8M474.7 80.8h.8M483.6 88.0h.8M492.5 103.5h.8M472.2 67.6h.8M514.8 77.1h.8M515.4 105.0h.8M509.4 102.3h.8M478.7 87.4h.8M474.3 100.5h.8M483.1 93.6h.8M470.6 70.3h.8M499.1 62.9h.8M491.8 92.0h.8M519.5 78.9h.8M469.0 96.0h.8M500.5 99.8h.8M475.8 90.4h.8M499.7 88.2h.8M498.0 78.6h.8M477.5 81.9h.8M481.5 78.6h.8M498.1 103.2h.8M477.2 95.8h.8M483.2 91.0h.8M464.0 79.9h.8M505.4 90.9h.8M486.8 93.6h.8M491.6 97.2h.8M469.3 76.0h.8M473.6 105.7h.8M505.4 82.2h.8M494.3 94.6h.8M480.1 82.2h.8M480.2 92.3h.8M470.8 83.4h.8M484.5 67.8h.8M472.7 85.6h.8M484.4 80.1h.8M486.3 88.2h.8M477.3 94.0h.8M472.1 97.5h.8M480.7 105.2h.8M482.8 72.3h.8M486.7 82.2h.8M508.9 60.6h.8M480.8 90.8h.8M479.3 85.3h.8M482.7 87.3h.8M476.9 69.9h.8M503.5 82.0h.8M491.1 81.4h.8M506.4 78.0h.8M488.2 93.6h.8M480.8 81.7h.8M482.8 89.2h.8M466.7 97.8h.8M473.7 103.6h.8M464.5 106.6h.8M498.3 90.9h.8M504.6 83.6h.8M469.3 100.3h.8M489.4 80.4h.8M470.3 108.3h.8M469.0 99.1h.8M492.2 101.8h.8M488.3 88.3h.8M484.1 67.3h.8M471.6 89.4h.8M475.5 73.7h.8M469.1 96.4h.8M473.5 101.5h.8M483.4 97.4h.8M477.1 100.6h.8M500.7 95.1h.8M492.4 94.5h.8M492.2 111.0h.8M476.4 107.7h.8M485.2 95.4h.8M477.7 100.3h.8M494.4 101.1h.8M490.6 99.7h.8M496.1 111.1h.8M482.8 98.4h.8M482.6 93.9h.8M471.3 113.3h.8M477.0 104.7h.8M472.8 97.5h.8M509.7 105.0h.8M496.4 94.3h.8M482.3 97.6h.8M498.7 98.2h.8M489.8 96.6h.8M472.4 105.5h.8M483.9 108.4h.8M483.8 105.2h.8M496.2 98.8h.8M510.2 108.4h.8M503.5 97.8h.8M492.6 109.4h.8M483.2 103.5h.8M475.6 100.1h.8M478.5 95.4h.8M491.5 110.5h.8M485.7 108.1h.8M499.4 94.9h.8M477.4 100.0h.8M479.4 105.6h.8M481.8 103.1h.8M496.1 107.2h.8M470.4 103.9h.8M482.3 103.6h.8M494.0 106.1h.8M487.3 98.8h.8M497.4 109.4h.8M485.4 104.2h.8M478.6 104.0h.8M485.4 102.9h.8M489.0 106.1h.8M488.4 96.3h.8M493.8 94.1h.8M499.4 99.1h.8M490.7 100.4h.8M491.2 98.3h.8M511.2 103.4h.8M482.4 106.1h.8M467.8 96.5h.8M509.5 89.4h.8M509.8 82.8h.8M512.5 72.3h.8M509.1 80.9h.8M500.0 68.0h.8M513.1 83.6h.8M515.3 89.1h.8M525.7 93.6h.8M506.7 81.0h.8M510.4 76.9h.8M503.3 101.8h.8M518.0 82.0h.8M509.4 101.0h.8M516.4 72.1h.8M510.4 86.1h.8M518.0 82.5h.8M518.3 89.3h.8M518.7 77.5h.8M516.5 91.0h.8M512.4 82.3h.8M517.4 81.4h.8M507.9 80.3h.8M510.9 96.7h.8M507.5 73.1h.8M506.9 82.8h.8M508.9 77.4h.8M507.5 91.7h.8M501.3 90.1h.8M507.8 82.2h.8M511.9 78.7h.8M508.7 82.7h.8M510.6 80.9h.8M521.5 83.6h.8M516.7 77.3h.8M507.8 89.8h.8M511.9 75.1h.8M515.1 71.4h.8M520.4 97.6h.8M526.1 42.7h.8M516.7 47.7h.8M514.3 72.8h.8M512.3 47.4h.8M511.8 75.1h.8M514.6 44.6h.8M511.5 69.1h.8M514.4 63.8h.8M521.8 52.4h.8M512.5 69.4h.8M519.2 57.4h.8M521.3 57.0h.8M520.0 60.8h.8M518.4 59.3h.8M525.4 52.2h.8M516.9 63.9h.8M518.0 46.9h.8M508.5 83.3h.8M518.6 61.2h.8M521.4 54.3h.8M527.0 50.3h.8M518.7 53.8h.8M517.2 37.6h.8M526.8 45.2h.8M510.3 74.4h.8M515.7 72.2h.8M521.2 50.0h.8M523.2 42.9h.8M502.5 88.3h.8M505.9 80.5h.8M518.3 63.3h.8M509.3 88.5h.8M501.8 79.9h.8M514.9 61.8h.8M523.5 45.1h.8M518.0 55.6h.8M505.5 82.9h.8M509.4 79.7h.8M506.6 77.0h.8M515.0 71.2h.8M506.9 71.5h.8M505.9 69.1h.8M518.4 56.2h.8M513.2 60.9h.8M513.3 63.8h.8M510.3 67.3h.8M528.6 41.1h.8M516.1 57.7h.8M511.9 78.8h.8M515.0 65.5h.8M513.9 65.4h.8M519.5 44.3h.8M528.3 42.7h.8M519.9 40.8h.8M515.7 41.9h.8M530.1 41.1h.8M519.2 42.4h.8M528.5 39.4h.8M524.7 40.2h.8M520.1 39.8h.8M521.1 41.4h.8M517.0 39.8h.8M527.6 41.6h.8M516.9 38.5h.8M517.8 43.6h.8M513.3 39.7h.8M522.8 39.0h.8M535.3 38.1h.8M500.9 83.5h.8M508.6 67.3h.8M519.6 64.4h.8M492.8 64.0h.8M505.9 84.3h.8M502.2 57.7h.8M516.7 56.1h.8M504.0 50.9h.8M481.5 63.6h.8M502.5 63.9h.8M531.2 49.9h.8M525.2 57.1h.8M528.0 57.1h.8M529.2 51.3h.8M549.0 72.4h.8M524.3 90.3h.8M539.4 58.2h.8M532.7 86.7h.8M549.0 67.3h.8M532.7 65.4h.8M514.3 64.5h.8M497.6 66.3h.8M544.1 72.9h.8M529.2 64.5h.8" stroke="#2c2ce0" stroke-width=".8"/>
<path d="M481.0 92.9h.8M474.2 84.2h.8M471.4 80.1h.8M498.0 88.4h.8M485.7 100.0h.8M482.4 86.7h.8M485.6 93.4h.8M482.0 90.5h.8M472.1 91.0h.8M492.0 95.9h.8M486.3 95.2h.8M465.9 89.0h.8M474.9 95.0h.8M491.0 81.5h.8M497.0 89.5h.8M493.1 91.6h.8M476.6 82.2h.8M478.5 78.9h.8M488.1 85.1h.8M495.3 101.8h.8M485.3 90.4h.8M508.0 79.2h.8M483.8 81.9h.8M487.1 76.2h.8M483.2 81.9h.8M494.0 91.9h.8M484.3 88.2h.8M488.9 78.9h.8M487.9 87.6h.8M478.4 80.3h.8M488.9 91.6h.8M486.3 91.8h.8M504.2 88.1h.8M480.3 100.2h.8M487.1 96.6h.8M483.2 76.9h.8M484.5 97.7h.8M464.6 82.5h.8M503.3 96.0h.8M465.7 96.7h.8M469.2 89.2h.8M503.2 91.3h.8M483.3 83.0h.8M489.0 90.7h.8M492.5 91.8h.8M476.8 83.3h.8M500.6 65.2h.8M475.2 86.6h.8M487.1 68.7h.8M475.4 83.8h.8M493.1 74.6h.8M485.3 100.4h.8M498.8 72.0h.8M490.3 85.2h.8M487.8 95.8h.8M491.3 90.0h.8M482.8 95.9h.8M476.1 73.4h.8M485.5 97.5h.8M474.0 90.4h.8M481.2 101.5h.8M471.0 67.8h.8M462.2 80.8h.8M496.0 93.9h.8M474.6 93.1h.8M500.4 71.7h.8M468.8 95.4h.8M487.8 93.5h.8M500.4 74.9h.8M468.2 76.8h.8M467.1 96.7h.8M482.0 89.9h.8M491.3 90.0h.8M487.0 93.6h.8M468.3 85.1h.8M480.5 82.5h.8M492.2 94.4h.8M491.0 73.5h.8M477.1 100.9h.8M491.4 92.0h.8M482.2 85.8h.8M481.9 87.3h.8M482.3 71.8h.8M473.0 85.9h.8M491.0 88.4h.8M487.8 79.9h.8M500.5 65.4h.8M491.3 97.0h.8M466.2 93.6h.8M513.0 91.4h.8M480.4 66.2h.8M499.7 106.0h.8M496.4 84.1h.8M504.3 90.4h.8M472.9 91.9h.8M484.2 72.9h.8M510.6 96.3h.8M498.0 104.2h.8M474.1 95.7h.8M478.1 78.3h.8M484.8 106.1h.8M471.8 99.0h.8M476.6 94.0h.8M480.1 85.6h.8M463.3 91.9h.8M475.0 108.2h.8M493.6 80.7h.8M507.2 90.5h.8M488.5 96.9h.8M475.5 73.2h.8M475.1 88.2h.8M482.0 93.1h.8M480.4 66.5h.8M501.4 83.5h.8M504.1 88.4h.8M512.7 79.4h.8M484.0 93.3h.8M483.3 96.5h.8M485.6 84.6h.8M474.3 93.9h.8M471.9 97.1h.8M479.3 99.0h.8M488.9 91.4h.8M513.5 94.7h.8M486.3 84.2h.8M501.7 68.8h.8M475.1 101.4h.8M499.4 89.6h.8M493.0 90.8h.8M504.9 85.3h.8M488.6 100.7h.8M470.3 100.7h.8M499.4 92.2h.8M493.4 102.1h.8M479.5 98.9h.8M489.0 90.8h.8M484.2 69.2h.8M483.3 97.2h.8M498.6 90.8h.8M482.4 85.9h.8M491.5 105.2h.8M493.2 101.8h.8M503.5 83.1h.8M493.3 78.5h.8M507.1 105.0h.8M476.5 89.9h.8M506.6 106.0h.8M471.1 98.4h.8M475.6 93.4h.8M494.9 97.5h.8M474.5 71.1h.8M509.5 72.1h.8M469.8 95.8h.8M487.5 82.2h.8M482.3 96.3h.8M484.5 74.6h.8M504.3 100.7h.8M474.8 113.9h.8M475.1 90.4h.8M492.3 97.8h.8M477.1 90.4h.8M500.5 82.9h.8M492.5 84.6h.8M491.4 69.4h.8M482.0 89.9h.8M463.9 73.5h.8M497.0 81.8h.8M487.6 91.5h.8M486.1 82.3h.8M515.6 101.0h.8M488.1 91.6h.8M487.5 105.4h.8M474.3 99.8h.8M492.5 101.1h.8M476.9 107.0h.8M483.0 103.7h.8M498.8 99.2h.8M471.4 94.5h.8M503.2 106.7h.8M493.5 99.3h.8M468.0 102.4h.8M487.4 104.9h.8M474.0 101.0h.8M474.0 106.7h.8M469.9 103.0h.8M505.0 100.6h.8M495.2 95.6h.8M489.8 94.1h.8M478.6 96.2h.8M494.1 112.7h.8M503.7 97.7h.8M487.7 104.7h.8M499.3 100.2h.8M477.2 94.0h.8M463.0 93.2h.8M485.6 91.1h.8M497.9 100.3h.8M487.2 109.2h.8M504.6 92.5h.8M489.4 99.6h.8M470.7 93.0h.8M470.9 106.6h.8M500.8 105.1h.8M498.2 105.6h.8M481.0 110.2h.8M495.8 104.0h.8M489.7 88.9h.8M484.3 101.4h.8M501.6 107.0h.8M483.4 97.4h.8M475.4 92.0h.8M478.5 109.3h.8M483.3 111.4h.8M496.9 101.0h.8M487.8 100.6h.8M498.6 100.2h.8M480.7 110.4h.8M489.0 98.6h.8M486.8 103.9h.8M483.0 106.7h.8M491.0 111.8h.8M478.3 92.0h.8M516.8 90.3h.8M521.5 83.1h.8M510.7 71.6h.8M513.6 74.8h.8M523.0 98.0h.8M506.1 79.2h.8M517.9 72.7h.8M515.5 71.6h.8M511.9 82.0h.8M505.7 83.8h.8M512.0 84.5h.8M510.2 98.0h.8M513.0 86.2h.8M517.6 108.9h.8M501.8 87.4h.8M509.8 97.5h.8M513.8 83.5h.8M517.4 76.4h.8M520.5 98.2h.8M513.3 94.3h.8M507.3 82.9h.8M512.9 83.2h.8M508.8 77.2h.8M516.9 73.6h.8M505.4 91.7h.8M505.5 83.7h.8M502.3 100.0h.8M513.6 82.1h.8M509.1 77.3h.8M512.0 77.6h.8M503.5 77.2h.8M514.1 92.1h.8M511.0 72.5h.8M518.9 79.9h.8M505.0 81.2h.8M513.0 77.3h.8M505.0 79.3h.8M510.8 92.6h.8M521.7 56.1h.8M508.3 76.8h.8M514.0 55.2h.8M513.7 69.7h.8M518.2 62.9h.8M513.9 76.1h.8M524.9 46.8h.8M514.4 77.6h.8M506.2 79.7h.8M522.0 47.2h.8M502.8 76.7h.8M517.6 49.4h.8M517.2 65.1h.8M519.6 51.6h.8M515.9 66.2h.8M507.3 71.5h.8M508.8 74.4h.8M519.7 56.5h.8M509.4 87.5h.8M510.8 63.8h.8M512.3 76.9h.8M511.1 57.2h.8M525.3 52.2h.8M520.0 50.5h.8M512.8 50.8h.8M513.6 50.1h.8M512.7 64.6h.8M512.5 74.9h.8M512.2 73.5h.8M507.2 78.1h.8M510.8 71.3h.8M516.8 68.3h.8M508.4 72.1h.8M514.8 57.1h.8M522.7 50.6h.8M510.6 59.6h.8M506.0 81.8h.8M516.9 49.2h.8M508.2 74.2h.8M517.0 57.6h.8M518.7 59.5h.8M525.4 38.9h.8M505.4 57.5h.8M525.2 38.6h.8M514.8 53.3h.8M514.7 73.5h.8M521.7 54.3h.8M518.2 49.2h.8M513.3 62.6h.8M515.2 66.5h.8M501.6 85.4h.8M508.0 70.6h.8M525.3 41.0h.8M524.6 43.3h.8M525.3 40.2h.8M532.9 40.1h.8M523.3 41.6h.8M523.1 37.6h.8M538.1 41.5h.8M530.4 41.4h.8M519.1 41.9h.8M525.2 43.4h.8M524.4 40.6h.8M527.8 41.3h.8M532.9 41.1h.8M524.1 43.4h.8M522.4 43.7h.8M526.3 42.7h.8M496.6 62.4h.8M501.4 67.5h.8M485.3 56.8h.8M499.3 53.3h.8M508.3 43.3h.8M494.2 72.3h.8M489.0 53.1h.8M488.7 49.2h.8M497.9 50.2h.8M500.7 74.2h.8M519.9 62.1h.8M522.2 60.2h.8M532.4 63.8h.8M519.4 54.7h.8M511.5 77.5h.8M525.5 77.1h.8M512.3 60.4h.8M531.5 72.7h.8M535.3 50.9h.8M515.5 66.5h.8M516.3 54.8h.8M515.2 48.6h.8M529.1 65.2h.8M538.8 40.4h.8" stroke="#6262ff" stroke-width=".8"/>
<g filter="url(#bf)" clip-path="url(#fc11)"><ellipse cx="485.32" cy="87.2" rx="22.02" ry="15.5" fill="#6070ff" opacity="0.45" transform="rotate(-5 484.32 83.4)"/><ellipse cx="485.12" cy="86" rx="18.52" ry="12" fill="#4a70ff" opacity="0.7" transform="rotate(-5 484.32 83.4)"/><ellipse cx="484.82" cy="84.9" rx="15.52" ry="9.5" fill="#30a8f8" opacity="0.9" transform="rotate(-5 484.32 83.4)"/><ellipse cx="484.62" cy="84.3" rx="14.01" ry="8.3" fill="#40d8b0" transform="rotate(-5 484.32 83.4)"/><ellipse cx="484.52" cy="83.8" rx="12.51" ry="7.2" fill="#50e860" transform="rotate(-5 484.32 83.4)"/><ellipse cx="484.42" cy="83.4" rx="9.51" ry="5.2" fill="#90f040" transform="rotate(-5 484.32 83.4)"/><ellipse cx="484.32" cy="83.2" rx="7.21" ry="3.6" fill="#e8e828" transform="rotate(-5 484.32 83.4)"/><ellipse cx="484.32" cy="83.1" rx="5.41" ry="2.6" fill="#f09020" transform="rotate(-5 484.32 83.4)"/><ellipse cx="484.62" cy="83.1" rx="3.5" ry="1.6" fill="#e84018" transform="rotate(-5 484.32 83.4)"/></g>
<path d="M492.5 86.5h.9M473.8 85.5h.9M498.4 88.6h.9M491.5 80.0h.9M482.5 89.7h.9M488.5 88.4h.9M485.5 78.2h.9M490.8 80.1h.9M492.5 88.4h.9M488.6 79.5h.9M475.4 81.1h.9M486.9 88.9h.9M473.9 88.7h.9M479.7 79.4h.9M498.6 81.9h.9M489.2 78.7h.9M476.3 80.2h.9M495.5 87.3h.9M477.7 80.1h.9M485.8 90.4h.9M478.5 90.1h.9M483.3 91.3h.9M484.6 79.5h.9M472.5 89.1h.9M474.6 79.5h.9M494.0 85.9h.9M490.6 87.6h.9M476.8 78.9h.9M477.2 85.1h.9M476.6 83.9h.9M481.2 92.1h.9M485.1 91.8h.9M486.1 77.0h.9M477.0 90.9h.9M487.3 77.2h.9M490.1 90.4h.9M493.9 87.0h.9M493.3 83.6h.9M480.0 88.0h.9M497.6 87.2h.9M485.1 87.3h.9M475.4 81.4h.9M490.3 90.3h.9M494.0 87.0h.9M485.4 87.7h.9M497.5 84.4h.9M486.9 91.4h.9M494.0 83.6h.9M474.0 82.2h.9M489.0 86.4h.9M491.6 84.9h.9M483.2 88.9h.9M489.6 89.2h.9M490.6 79.6h.9M480.6 80.2h.9" stroke="#50e860" stroke-width=".9"/>
<path d="M491.3 88.2h.9M480.7 86.0h.9M479.6 86.1h.9M480.8 79.6h.9M485.7 79.4h.9M488.0 81.0h.9M496.1 82.6h.9M477.5 86.4h.9M489.7 88.2h.9M482.6 87.9h.9M473.2 81.6h.9M477.4 84.8h.9M480.5 87.4h.9M480.2 81.9h.9M490.4 86.1h.9M487.0 79.3h.9M484.8 87.7h.9M485.2 86.6h.9M478.0 83.6h.9M495.8 82.1h.9M483.9 87.3h.9M480.2 85.9h.9M482.7 91.6h.9M484.3 79.7h.9M478.1 80.5h.9M484.6 91.5h.9M481.4 86.5h.9M487.5 88.4h.9M491.0 80.4h.9M478.1 84.1h.9M492.9 80.2h.9M482.1 86.8h.9M493.1 79.3h.9M490.6 83.1h.9M488.9 81.7h.9M474.6 88.3h.9M480.2 79.5h.9M481.8 79.8h.9M486.4 78.0h.9M489.4 88.2h.9M491.3 84.2h.9M479.5 89.4h.9M473.0 83.8h.9M483.6 91.3h.9M481.0 89.8h.9M483.4 87.3h.9M492.4 81.4h.9M492.7 86.8h.9M484.6 89.9h.9M489.4 86.3h.9M473.6 82.1h.9M482.6 87.3h.9M486.2 89.7h.9M485.9 81.1h.9M482.6 86.9h.9M489.9 78.5h.9M478.0 85.2h.9M483.0 88.3h.9M474.4 87.5h.9M488.3 81.8h.9" stroke="#90f040" stroke-width=".9"/>
<path d="M469.5 77.7h.9M488.8 99.2h.9M465.4 76.2h.9M485.3 94.5h.9M469.4 97.2h.9M506.3 86.7h.9M469.2 96.5h.9M477.6 93.0h.9M476.7 74.4h.9M468.9 72.1h.9M472.7 80.6h.9M498.8 94.0h.9M471.1 75.9h.9M483.6 70.1h.9M473.6 91.9h.9M496.7 103.7h.9M478.3 74.9h.9M491.0 70.1h.9M469.5 77.2h.9M501.3 88.5h.9M508.3 83.8h.9M462.0 70.8h.9M500.0 92.8h.9M465.9 78.9h.9M504.2 79.6h.9M506.6 85.7h.9M498.1 72.8h.9M484.5 67.3h.9M484.3 73.3h.9M494.4 72.9h.9M480.2 67.0h.9M491.6 101.3h.9M493.1 75.8h.9M491.7 94.4h.9M471.2 74.1h.9M488.2 94.7h.9M509.6 88.7h.9M490.7 96.7h.9M505.8 76.9h.9M503.0 83.3h.9M464.0 85.4h.9M489.4 73.0h.9M501.0 91.0h.9M491.5 71.9h.9M468.6 78.7h.9M498.8 101.0h.9M489.7 94.7h.9M498.1 93.1h.9M463.8 78.8h.9M473.3 94.4h.9M480.1 74.6h.9" stroke="#6070ff" stroke-width=".9"/>
<path d="M490.2 82.7h.9M481.3 81.3h.9M478.0 81.7h.9M488.1 83.8h.9M479.8 84.5h.9M483.2 79.9h.9M482.9 81.2h.9M481.1 85.7h.9M485.9 83.0h.9M487.2 82.8h.9M484.5 85.0h.9M485.9 87.0h.9M484.0 80.5h.9M479.5 85.6h.9M483.8 84.6h.9M487.9 83.2h.9M482.6 82.7h.9M487.4 82.6h.9M490.4 83.7h.9M486.7 85.1h.9M487.0 85.5h.9M491.4 84.4h.9M488.4 84.3h.9M487.7 81.6h.9M478.1 83.1h.9M486.4 86.8h.9M485.7 85.6h.9M482.0 84.6h.9M490.6 83.1h.9" stroke="#f09020" stroke-width=".9"/>
<path d="M485.5 81.9h.9M480.8 85.1h.9M481.1 82.9h.9M484.1 83.7h.9M483.4 82.2h.9M484.2 82.7h.9M484.4 82.4h.9M484.4 81.5h.9M486.6 84.8h.9M484.7 81.0h.9M481.4 83.3h.9M486.9 81.5h.9M484.8 82.2h.9M481.9 84.3h.9M480.9 85.3h.9M485.7 82.6h.9M486.8 83.8h.9M485.8 82.1h.9M483.2 85.1h.9M480.4 83.4h.9M483.5 83.7h.9M487.3 83.3h.9M487.8 84.3h.9M485.8 82.1h.9M486.8 83.1h.9M488.4 81.5h.9" stroke="#e84018" stroke-width=".9"/>
<path d="M491.8 81.6h.9M480.7 85.7h.9M482.9 78.6h.9M482.7 86.7h.9M488.0 85.4h.9M476.5 86.7h.9M485.9 86.4h.9M475.2 85.2h.9M485.0 88.7h.9M485.1 86.9h.9M487.1 81.9h.9M482.2 86.4h.9M480.6 79.9h.9M478.9 82.7h.9M493.1 82.5h.9M484.1 87.6h.9M477.4 82.7h.9M483.2 84.9h.9M487.2 84.8h.9M481.1 86.6h.9M479.1 82.8h.9M477.4 84.5h.9M484.9 87.0h.9M480.7 86.9h.9M479.8 79.6h.9M489.9 81.0h.9M480.7 84.8h.9M487.5 81.3h.9M488.9 85.1h.9M481.9 84.9h.9M478.8 84.5h.9M487.3 80.9h.9M482.3 80.8h.9M487.2 81.6h.9M477.5 84.9h.9" stroke="#e8e828" stroke-width=".9"/>
<path d="M492.0 75.4h.9M469.2 76.4h.9M466.7 86.9h.9M485.1 94.0h.9M484.6 93.7h.9M464.6 90.1h.9M489.9 95.3h.9M487.6 94.7h.9M476.9 74.3h.9M479.0 100.8h.9M496.7 77.2h.9M501.1 79.0h.9M505.3 95.9h.9M484.6 73.0h.9M484.9 95.5h.9M495.4 76.8h.9M475.8 70.5h.9M497.2 88.0h.9M481.6 69.0h.9M486.1 99.3h.9M472.7 89.5h.9M467.2 90.5h.9M491.2 96.2h.9M474.7 71.3h.9M494.0 94.9h.9M491.3 78.1h.9M465.3 87.0h.9M470.8 94.7h.9M468.8 89.3h.9M479.4 75.1h.9M475.7 96.6h.9M508.0 81.8h.9M478.0 76.1h.9M483.5 73.9h.9M498.6 81.3h.9M488.1 99.7h.9M483.6 75.7h.9M466.4 87.1h.9M476.6 91.2h.9M470.5 88.7h.9M475.0 77.4h.9M478.5 93.3h.9M467.1 77.5h.9M466.1 93.1h.9M497.9 78.9h.9M472.0 90.0h.9M474.6 95.7h.9M469.5 95.0h.9M497.1 94.1h.9M473.4 80.0h.9M470.9 93.4h.9M471.6 77.0h.9M467.3 79.8h.9M468.2 82.2h.9M498.0 82.3h.9M487.2 95.1h.9M497.2 79.0h.9M493.6 97.0h.9M487.1 76.5h.9" stroke="#4a70ff" stroke-width=".9"/>
<path d="M482.1 75.7h.9M485.8 95.4h.9M471.6 78.2h.9M494.6 94.2h.9M478.4 93.7h.9M492.2 74.7h.9M496.4 92.8h.9M471.1 90.1h.9M478.8 76.2h.9M478.1 91.7h.9M483.6 93.2h.9M478.7 91.0h.9M472.6 88.7h.9M493.7 76.9h.9M471.8 80.7h.9M493.5 92.3h.9M491.2 75.6h.9M480.7 93.2h.9M489.2 93.1h.9M494.7 88.4h.9M469.6 83.6h.9M474.0 88.2h.9M471.2 81.6h.9M483.0 91.8h.9M482.0 91.6h.9M496.5 90.6h.9M502.9 85.6h.9M488.5 93.9h.9M493.3 92.5h.9M477.7 91.8h.9M474.7 88.8h.9M471.6 84.3h.9M476.4 94.8h.9M490.1 93.5h.9M471.4 90.5h.9M485.6 76.2h.9M500.5 93.1h.9M485.9 92.3h.9M498.1 83.9h.9M487.8 92.6h.9M485.2 76.7h.9M484.6 75.5h.9M473.3 91.1h.9M500.2 82.3h.9M472.9 92.7h.9M495.7 79.3h.9M487.5 94.1h.9M478.1 76.5h.9M483.2 95.0h.9" stroke="#30a8f8" stroke-width=".9"/>
<path d="M477.3 88.5h.9M472.7 92.4h.9M492.6 87.5h.9M488.1 77.2h.9M480.1 90.9h.9M498.5 84.4h.9M479.0 78.8h.9M481.9 89.5h.9M498.3 81.8h.9M471.1 89.8h.9M494.0 78.5h.9M475.4 79.4h.9M490.8 89.2h.9M493.0 85.7h.9M494.9 81.2h.9M482.8 93.8h.9M476.2 86.7h.9M476.2 90.6h.9M488.3 90.7h.9M475.3 87.2h.9M469.4 81.0h.9M480.8 90.1h.9M492.2 80.2h.9M479.2 88.8h.9M486.6 91.5h.9M480.0 93.4h.9M490.6 88.9h.9M493.4 92.6h.9M497.9 84.7h.9M484.0 89.6h.9M495.6 83.0h.9M481.6 93.0h.9M492.2 93.8h.9M470.7 90.7h.9M474.4 82.0h.9M490.4 92.5h.9M490.4 92.5h.9M473.3 82.5h.9M474.3 85.1h.9M496.9 92.0h.9M490.3 92.8h.9M486.7 90.2h.9M479.0 76.6h.9M486.6 89.4h.9M476.5 77.6h.9M484.5 90.4h.9M498.6 81.5h.9M488.8 89.3h.9M483.0 76.6h.9M495.6 80.9h.9M482.2 77.7h.9M497.8 90.3h.9M479.7 91.7h.9M483.5 90.4h.9M496.4 89.7h.9" stroke="#40d8b0" stroke-width=".9"/>
<g filter="url(#bf)" clip-path="url(#fc11)"><ellipse cx="524.26" cy="41" rx="4.8" ry="1.8" fill="#3a6cff" opacity="0.8"/><ellipse cx="524.76" cy="41" rx="2.6" ry="1" fill="#30c8e8" opacity="0.9"/></g>
<rect x="461.2" y="18.4" width="97.4" height="96.6" fill="none" stroke="#444" stroke-width="0.9"/>
<line x1="506.5" y1="18.4" x2="506.5" y2="115" stroke="#555" stroke-width="0.9"/>
<line x1="461.2" y1="69.5" x2="558.6" y2="69.5" stroke="#555" stroke-width="0.9"/>
<text x="463.6" y="24.4" font-size="4.8" fill="#333">Q3-1</text>
<text x="463.6" y="29.3" font-size="4.8" fill="#333">0.69%</text>
<text x="556.1" y="24.4" font-size="4.8" text-anchor="end" fill="#333">Q3-2</text>
<text x="556.1" y="29.3" font-size="4.8" text-anchor="end" fill="#333">4.42%</text>
<rect x="463.2" y="102.4" width="16.5" height="11.2" fill="#fff" opacity="0.8"/>
<text x="464.2" y="106.8" font-size="4.8" fill="#333">Q3-3</text>
<text x="464.2" y="112" font-size="4.8" fill="#333">88.98%</text>
<text x="556.1" y="106.8" font-size="4.8" text-anchor="end" fill="#333">Q3-4</text>
<text x="556.1" y="112" font-size="4.8" text-anchor="end" fill="#333">5.91%</text>
<line x1="461.2" y1="115" x2="461.2" y2="116.5" stroke="#444" stroke-width="0.6"/>
<text x="461.2" y="123" font-size="4.9" text-anchor="middle" fill="#333">10<tspan dx="0.6" dy="-2.2" font-size="3.8">2</tspan></text>
<line x1="478.73" y1="115" x2="478.73" y2="116.5" stroke="#444" stroke-width="0.6"/>
<text x="478.73" y="123" font-size="4.9" text-anchor="middle" fill="#333">10<tspan dx="0.6" dy="-2.2" font-size="3.8">3</tspan></text>
<line x1="496.56" y1="115" x2="496.56" y2="116.5" stroke="#444" stroke-width="0.6"/>
<text x="496.56" y="123" font-size="4.9" text-anchor="middle" fill="#333">10<tspan dx="0.6" dy="-2.2" font-size="3.8">4</tspan></text>
<line x1="515.16" y1="115" x2="515.16" y2="116.5" stroke="#444" stroke-width="0.6"/>
<text x="515.16" y="123" font-size="4.9" text-anchor="middle" fill="#333">10<tspan dx="0.6" dy="-2.2" font-size="3.8">5</tspan></text>
<line x1="532.79" y1="115" x2="532.79" y2="116.5" stroke="#444" stroke-width="0.6"/>
<text x="532.79" y="123" font-size="4.9" text-anchor="middle" fill="#333">10<tspan dx="0.6" dy="-2.2" font-size="3.8">6</tspan></text>
<line x1="558.6" y1="115" x2="558.6" y2="116.5" stroke="#444" stroke-width="0.6"/>
<text x="558.6" y="123" font-size="4.9" text-anchor="middle" fill="#333">10<tspan dx="0.6" dy="-2.2" font-size="3.8">7.4</tspan></text>
<text x="510.1" y="130.3" font-size="4.6" text-anchor="middle" fill="#333">APC-H</text>
<line x1="459.7" y1="107.4" x2="461.2" y2="107.4" stroke="#444" stroke-width="0.6"/>
<text x="457.3" y="108" font-size="4.8" text-anchor="middle" fill="#333" transform="rotate(-90 457.3 108)">10<tspan dx="0.5" dy="-2.1" font-size="3.6">-0.1</tspan></text>
<line x1="459.7" y1="80.9" x2="461.2" y2="80.9" stroke="#444" stroke-width="0.6"/>
<text x="457.3" y="81.5" font-size="4.8" text-anchor="middle" fill="#333" transform="rotate(-90 457.3 81.5)">10<tspan dx="0.5" dy="-2.1" font-size="3.6">2</tspan></text>
<line x1="459.7" y1="65.9" x2="461.2" y2="65.9" stroke="#444" stroke-width="0.6"/>
<text x="457.3" y="66.5" font-size="4.8" text-anchor="middle" fill="#333" transform="rotate(-90 457.3 66.5)">10<tspan dx="0.5" dy="-2.1" font-size="3.6">3</tspan></text>
<line x1="459.7" y1="55.3" x2="461.2" y2="55.3" stroke="#444" stroke-width="0.6"/>
<text x="457.3" y="55.9" font-size="4.8" text-anchor="middle" fill="#333" transform="rotate(-90 457.3 55.9)">10<tspan dx="0.5" dy="-2.1" font-size="3.6">4</tspan></text>
<line x1="459.7" y1="43.5" x2="461.2" y2="43.5" stroke="#444" stroke-width="0.6"/>
<text x="457.3" y="44.1" font-size="4.8" text-anchor="middle" fill="#333" transform="rotate(-90 457.3 44.1)">10<tspan dx="0.5" dy="-2.1" font-size="3.6">5</tspan></text>
<line x1="459.7" y1="20.5" x2="461.2" y2="20.5" stroke="#444" stroke-width="0.6"/>
<text x="457.3" y="21.1" font-size="4.8" text-anchor="middle" fill="#333" transform="rotate(-90 457.3 21.1)">10<tspan dx="0.5" dy="-2.1" font-size="3.6">5.9</tspan></text>
<text x="450.2" y="65.4" font-size="4.4" text-anchor="middle" fill="#333" transform="rotate(-90 450.2 65.4)">PerCP-H</text>
<text x="510" y="14.5" font-size="8.1" font-weight="bold" text-anchor="middle" fill="#111" stroke="#111" stroke-width="0.35">Mel-0 µM</text>
<path d="M613.4 87.0h.8M589.3 92.2h.8M600.6 67.6h.8M606.3 89.0h.8M613.8 82.6h.8M587.5 78.5h.8M610.3 87.1h.8M599.2 75.1h.8M623.8 98.2h.8M634.7 94.3h.8M633.2 85.9h.8M608.4 88.0h.8M615.9 85.3h.8M593.7 81.1h.8M587.5 78.2h.8M600.9 96.0h.8M610.9 79.3h.8M612.0 83.2h.8M611.0 95.0h.8M610.1 92.1h.8M604.7 86.3h.8M600.2 96.0h.8M613.2 85.2h.8M592.4 88.2h.8M599.8 81.9h.8M610.7 86.6h.8M609.9 87.5h.8M617.9 80.8h.8M608.3 87.3h.8M585.6 84.4h.8M611.1 77.6h.8M611.5 91.1h.8M615.6 84.4h.8M612.7 77.5h.8M610.2 103.0h.8M608.4 92.6h.8M614.6 92.9h.8M592.2 80.6h.8M612.2 72.0h.8M617.3 97.3h.8M616.1 86.8h.8M617.3 85.4h.8M605.4 82.2h.8M596.2 87.3h.8M588.4 81.1h.8M611.8 87.9h.8M604.7 92.3h.8M611.7 80.2h.8M596.2 97.0h.8M598.2 95.4h.8M591.9 86.1h.8M608.1 92.1h.8M599.4 102.1h.8M621.8 90.8h.8M601.9 84.1h.8M598.3 96.5h.8M596.6 87.8h.8M607.5 88.2h.8M629.0 86.0h.8M610.7 89.9h.8M596.9 99.0h.8M623.0 97.5h.8M599.4 89.2h.8M612.3 97.0h.8M595.3 97.5h.8M619.5 95.7h.8M612.7 75.5h.8M605.8 95.9h.8M593.3 93.3h.8M623.3 59.8h.8M624.8 99.7h.8M615.2 62.9h.8M602.8 110.0h.8M590.8 85.7h.8M597.7 85.5h.8M603.7 84.6h.8M594.2 88.6h.8M613.7 73.2h.8M618.2 95.7h.8M633.5 84.9h.8M613.9 72.6h.8M608.7 79.3h.8M618.4 90.0h.8M595.6 94.0h.8M605.5 95.5h.8M611.6 78.9h.8M593.5 83.9h.8M607.4 88.8h.8M621.8 82.6h.8M591.0 85.4h.8M610.7 78.8h.8M642.0 77.2h.8M588.5 79.5h.8M617.4 82.5h.8M593.8 108.3h.8M624.8 86.1h.8M613.9 91.2h.8M585.1 85.7h.8M619.7 88.9h.8M615.8 95.3h.8M597.9 76.7h.8M621.2 83.9h.8M604.1 73.3h.8M629.1 86.7h.8M583.1 103.1h.8M611.1 74.3h.8M593.9 110.4h.8M590.4 92.2h.8M623.8 99.9h.8M616.6 65.2h.8M592.8 91.6h.8M616.2 91.2h.8M618.4 82.6h.8M614.1 100.2h.8M605.5 93.2h.8M624.2 74.4h.8M589.9 97.3h.8M600.6 77.6h.8M616.4 79.6h.8M589.3 87.8h.8M623.4 80.5h.8M613.9 96.4h.8M586.8 97.6h.8M620.4 82.5h.8M625.8 89.1h.8M612.7 86.9h.8M606.3 95.6h.8M609.4 106.5h.8M634.2 78.8h.8M601.0 103.3h.8M598.9 90.8h.8M594.4 87.3h.8M637.0 72.1h.8M629.1 91.9h.8M620.3 74.9h.8M614.9 81.4h.8M604.5 89.0h.8M600.6 72.1h.8M604.5 67.3h.8M600.2 61.3h.8M610.9 84.3h.8M607.0 90.4h.8M621.1 95.3h.8M602.2 79.6h.8M621.5 84.1h.8M587.9 61.2h.8M591.9 75.3h.8M626.7 78.6h.8M604.5 97.1h.8M608.5 93.8h.8M606.9 66.2h.8M604.7 85.7h.8M596.2 97.8h.8M592.8 76.5h.8M587.9 112.3h.8M621.9 73.4h.8M598.3 95.9h.8M612.0 57.9h.8M591.6 90.1h.8M610.9 81.8h.8M597.9 88.6h.8M608.0 105.8h.8M633.6 83.2h.8M617.2 88.5h.8M622.5 79.1h.8M603.1 91.0h.8M592.2 77.3h.8M628.2 85.5h.8M609.7 82.6h.8M614.9 89.1h.8M600.3 92.1h.8M635.8 86.6h.8M610.2 88.4h.8M622.7 75.0h.8M596.1 83.6h.8M598.2 92.6h.8M622.4 105.7h.8M623.9 97.1h.8M625.6 93.6h.8M617.3 100.0h.8M603.8 110.6h.8M599.0 105.8h.8M610.6 101.4h.8M610.1 100.3h.8M608.0 108.0h.8M605.6 112.1h.8M609.9 101.2h.8M598.8 99.8h.8M614.0 107.2h.8M602.8 97.6h.8M618.8 107.4h.8M610.9 105.9h.8M607.6 107.5h.8M612.4 100.3h.8M622.2 98.2h.8M614.9 111.1h.8M605.1 95.1h.8M617.1 101.9h.8M620.5 105.8h.8M610.3 100.9h.8M614.1 109.2h.8M594.4 101.6h.8M606.0 97.9h.8M607.6 107.6h.8M610.0 109.5h.8M611.3 113.1h.8M607.1 95.3h.8M613.7 98.7h.8M609.0 100.7h.8M605.9 104.0h.8M623.6 98.0h.8M618.4 103.3h.8M604.6 93.9h.8M608.0 95.0h.8M613.6 109.8h.8M599.1 109.3h.8M612.1 96.6h.8M596.3 88.3h.8M612.6 102.4h.8M614.4 105.0h.8M622.4 96.7h.8M608.5 91.1h.8M602.6 84.4h.8M625.8 102.5h.8M604.9 102.3h.8M622.3 101.4h.8M629.5 79.9h.8M634.2 79.7h.8M630.6 81.2h.8M631.8 74.1h.8M642.4 83.1h.8M625.2 63.8h.8M630.3 74.4h.8M625.8 98.6h.8M632.4 78.3h.8M617.2 85.8h.8M624.2 77.1h.8M629.9 83.3h.8M630.4 67.1h.8M628.5 88.3h.8M629.3 90.7h.8M635.7 68.7h.8M640.8 81.8h.8M638.4 97.3h.8M631.7 87.8h.8M637.5 74.4h.8M632.5 78.8h.8M633.1 86.9h.8M637.1 75.3h.8M632.9 82.0h.8M642.5 80.6h.8M632.1 72.9h.8M636.3 88.5h.8M635.9 82.3h.8M629.6 70.3h.8M638.4 87.6h.8M636.8 76.6h.8M634.7 78.8h.8M638.4 89.2h.8M624.4 78.2h.8M625.1 86.5h.8M630.7 82.4h.8M626.7 73.8h.8M632.5 78.6h.8M624.7 88.3h.8M648.9 56.3h.8M652.5 42.9h.8M645.4 38.0h.8M640.4 57.5h.8M630.6 86.2h.8M628.6 75.9h.8M626.9 75.4h.8M643.8 49.9h.8M637.4 64.7h.8M628.3 78.4h.8M645.2 45.1h.8M642.0 52.0h.8M638.6 80.6h.8M647.4 55.2h.8M635.5 65.0h.8M640.7 47.5h.8M637.8 57.3h.8M625.6 80.4h.8M631.1 83.9h.8M631.9 66.0h.8M646.7 40.3h.8M646.7 47.1h.8M626.7 73.0h.8M640.0 52.7h.8M625.0 75.3h.8M629.8 70.3h.8M635.9 59.0h.8M639.0 57.9h.8M638.3 66.2h.8M640.1 68.5h.8M646.6 46.6h.8M641.5 55.8h.8M636.2 68.9h.8M635.8 76.6h.8M631.5 68.5h.8M639.6 54.6h.8M644.5 47.4h.8M632.6 73.1h.8M640.2 63.9h.8M647.4 43.2h.8M650.0 43.6h.8M641.5 57.7h.8M638.1 55.1h.8M647.4 51.7h.8M642.9 52.3h.8M639.2 71.6h.8M642.3 42.2h.8M649.8 40.7h.8M649.6 38.1h.8M652.7 40.4h.8M646.3 42.7h.8M646.8 43.6h.8M651.8 41.2h.8M650.2 40.3h.8M645.7 41.5h.8M655.3 39.0h.8M640.6 42.2h.8M644.0 42.5h.8M644.3 40.1h.8M644.4 42.9h.8M630.0 66.4h.8M614.4 51.1h.8M621.3 59.8h.8M619.1 78.2h.8M632.6 61.0h.8M606.7 65.9h.8M616.1 62.8h.8M612.3 69.6h.8M612.7 69.5h.8M605.6 55.9h.8M614.1 60.7h.8M626.8 51.9h.8M656.6 49.7h.8M635.1 56.6h.8M646.1 78.6h.8M628.7 50.0h.8M634.7 51.2h.8M650.9 67.0h.8M657.9 87.7h.8M646.4 51.6h.8M633.1 46.3h.8M659.6 74.3h.8M645.7 64.7h.8M624.1 59.3h.8M639.7 76.3h.8M644.9 74.0h.8" stroke="#4040ff" stroke-width=".8"/>
<path d="M599.6 85.6h.8M607.8 79.7h.8M613.4 73.7h.8M619.9 92.8h.8M609.4 83.6h.8M586.3 89.8h.8M603.1 89.6h.8M608.2 93.1h.8M611.6 77.7h.8M614.2 76.3h.8M619.8 74.7h.8M606.0 75.9h.8M614.4 74.0h.8M595.6 82.7h.8M625.4 83.6h.8M600.5 85.3h.8M629.7 94.1h.8M603.0 98.3h.8M596.1 77.9h.8M591.3 78.1h.8M601.0 90.8h.8M625.9 84.0h.8M600.0 83.1h.8M626.1 81.8h.8M612.0 95.1h.8M588.6 84.5h.8M608.1 96.5h.8M620.7 77.4h.8M615.8 94.2h.8M608.5 85.9h.8M616.6 71.6h.8M614.9 82.7h.8M600.0 87.9h.8M604.2 67.8h.8M603.5 95.7h.8M617.0 90.7h.8M620.7 74.0h.8M600.9 66.0h.8M596.2 93.3h.8M597.7 102.5h.8M629.1 76.6h.8M605.1 85.1h.8M599.8 90.5h.8M623.0 88.3h.8M609.7 96.9h.8M613.5 88.5h.8M593.4 89.5h.8M594.9 76.5h.8M621.6 66.4h.8M587.4 76.0h.8M616.0 81.8h.8M609.0 95.5h.8M627.3 87.9h.8M608.4 97.0h.8M627.4 84.2h.8M593.8 79.1h.8M609.5 74.7h.8M600.3 79.5h.8M605.7 92.5h.8M623.4 76.9h.8M605.8 91.7h.8M612.0 81.4h.8M605.5 88.9h.8M605.4 75.2h.8M615.4 72.4h.8M615.4 85.3h.8M611.1 94.8h.8M613.9 94.2h.8M622.5 90.8h.8M613.2 94.2h.8M605.7 83.0h.8M599.3 91.3h.8M600.9 80.7h.8M596.4 100.4h.8M620.9 73.6h.8M617.7 88.6h.8M605.3 95.5h.8M616.0 80.9h.8M616.3 81.0h.8M621.4 81.8h.8M610.6 87.1h.8M607.7 90.7h.8M630.6 91.6h.8M611.6 85.6h.8M593.8 86.5h.8M605.1 89.7h.8M606.9 95.6h.8M599.4 74.0h.8M623.3 56.4h.8M590.5 81.1h.8M620.4 98.8h.8M597.8 106.8h.8M609.5 77.5h.8M613.3 89.5h.8M592.5 91.6h.8M621.0 77.8h.8M594.4 94.3h.8M625.8 98.3h.8M614.5 77.3h.8M608.6 84.0h.8M591.4 89.1h.8M631.5 90.5h.8M603.4 78.3h.8M593.0 79.8h.8M605.5 59.3h.8M601.1 85.6h.8M614.7 97.1h.8M637.1 67.8h.8M583.8 99.8h.8M591.4 82.5h.8M606.1 82.4h.8M614.7 85.4h.8M612.2 85.5h.8M624.6 103.1h.8M607.1 82.5h.8M630.0 71.8h.8M624.6 66.5h.8M655.2 87.3h.8M601.0 82.1h.8M593.2 83.4h.8M613.5 93.8h.8M612.2 84.7h.8M594.8 79.4h.8M611.8 100.0h.8M626.6 93.9h.8M620.8 92.5h.8M631.8 94.5h.8M626.5 85.9h.8M611.0 72.9h.8M611.2 85.3h.8M600.1 79.0h.8M601.4 84.6h.8M610.2 83.3h.8M615.9 86.5h.8M625.5 91.1h.8M594.7 92.2h.8M599.0 88.3h.8M601.5 86.1h.8M615.0 71.5h.8M622.0 83.1h.8M596.9 96.2h.8M606.9 94.5h.8M599.6 110.2h.8M610.0 74.5h.8M606.9 100.3h.8M607.5 102.0h.8M589.6 76.3h.8M635.3 71.9h.8M585.6 110.3h.8M592.5 79.8h.8M634.9 73.8h.8M604.9 69.2h.8M629.6 87.5h.8M594.7 73.5h.8M604.9 77.1h.8M592.4 86.8h.8M605.4 107.0h.8M601.9 86.9h.8M597.0 95.4h.8M584.8 73.9h.8M620.1 112.2h.8M615.2 103.6h.8M590.2 71.0h.8M604.2 83.9h.8M598.8 77.3h.8M611.1 72.3h.8M590.5 91.1h.8M605.3 91.4h.8M605.7 88.0h.8M628.2 86.9h.8M612.5 88.7h.8M593.2 75.3h.8M616.9 82.3h.8M606.1 93.3h.8M597.1 88.1h.8M604.2 106.3h.8M596.0 106.3h.8M620.6 88.1h.8M612.4 94.6h.8M597.4 98.7h.8M606.5 102.0h.8M609.0 94.5h.8M616.5 99.6h.8M591.7 103.9h.8M600.3 98.3h.8M607.6 106.8h.8M601.9 104.5h.8M589.3 100.9h.8M620.7 94.9h.8M611.9 103.0h.8M614.7 106.0h.8M602.0 91.9h.8M604.0 110.7h.8M603.0 97.5h.8M625.0 106.5h.8M625.7 105.5h.8M607.4 100.8h.8M613.1 106.1h.8M602.9 93.7h.8M602.6 91.8h.8M613.4 91.3h.8M601.2 113.1h.8M609.3 105.1h.8M619.4 95.7h.8M625.9 99.2h.8M616.7 102.5h.8M614.1 93.7h.8M602.2 100.0h.8M614.8 107.6h.8M618.7 100.0h.8M608.2 99.7h.8M616.0 100.1h.8M607.3 104.8h.8M585.8 97.2h.8M592.8 100.3h.8M609.4 107.2h.8M624.4 95.7h.8M598.9 98.4h.8M628.7 102.6h.8M608.4 101.4h.8M603.0 103.4h.8M611.0 96.6h.8M614.2 96.2h.8M615.5 110.0h.8M606.3 88.0h.8M594.7 105.9h.8M627.9 75.6h.8M632.5 81.2h.8M634.9 94.6h.8M636.2 79.0h.8M631.9 77.2h.8M637.3 86.2h.8M625.4 92.3h.8M629.0 59.7h.8M633.3 94.5h.8M628.6 89.7h.8M636.7 74.5h.8M628.6 75.4h.8M632.2 76.1h.8M634.0 88.2h.8M629.5 65.9h.8M624.7 86.7h.8M630.2 92.8h.8M629.7 76.4h.8M633.2 94.3h.8M631.6 88.2h.8M634.1 89.6h.8M629.8 92.3h.8M632.0 87.0h.8M635.2 83.5h.8M638.7 77.9h.8M627.1 84.4h.8M628.3 74.3h.8M631.0 87.1h.8M637.8 76.3h.8M630.6 68.2h.8M639.3 80.7h.8M632.0 84.7h.8M639.0 72.1h.8M624.5 81.0h.8M634.4 76.5h.8M635.8 87.0h.8M628.1 79.2h.8M625.5 89.7h.8M631.0 78.4h.8M636.4 55.3h.8M642.6 57.4h.8M641.6 64.6h.8M631.8 73.5h.8M635.3 47.8h.8M639.9 63.1h.8M629.4 85.3h.8M645.2 53.1h.8M640.0 57.1h.8M638.9 60.2h.8M630.4 68.0h.8M632.3 80.0h.8M649.0 44.7h.8M633.3 75.4h.8M640.0 54.4h.8M634.2 63.4h.8M649.3 42.9h.8M646.4 56.5h.8M636.3 65.7h.8M630.8 66.1h.8M631.6 77.5h.8M631.4 77.6h.8M635.1 61.4h.8M642.2 50.5h.8M642.6 44.6h.8M623.7 73.4h.8M642.5 60.8h.8M634.1 80.4h.8M625.4 67.4h.8M654.7 51.4h.8M644.0 60.6h.8M634.7 78.7h.8M639.1 54.6h.8M633.9 86.9h.8M636.8 55.1h.8M642.7 52.6h.8M630.8 84.8h.8M634.1 74.6h.8M647.6 49.8h.8M645.0 63.4h.8M642.1 58.7h.8M619.5 89.0h.8M648.4 40.0h.8M637.9 68.3h.8M633.4 64.2h.8M645.2 53.2h.8M644.7 41.1h.8M652.5 42.1h.8M651.4 39.7h.8M640.9 40.1h.8M648.2 40.5h.8M643.2 41.2h.8M644.4 41.6h.8M656.0 39.6h.8M657.1 42.3h.8M647.9 39.4h.8M656.6 42.4h.8M650.8 42.9h.8M635.3 40.5h.8M645.8 40.4h.8M626.1 68.5h.8M636.6 80.0h.8M625.4 67.2h.8M638.7 72.8h.8M624.2 57.2h.8M618.6 66.6h.8M615.3 69.5h.8M628.9 75.5h.8M619.0 70.7h.8M632.9 80.3h.8M599.2 66.6h.8M634.6 70.9h.8M639.5 47.4h.8M636.8 89.6h.8M639.0 63.5h.8M649.2 63.1h.8M658.0 61.7h.8M629.7 74.0h.8M640.7 63.2h.8M631.6 48.0h.8M633.9 55.0h.8M637.6 76.9h.8M645.5 82.3h.8M626.3 80.8h.8M646.8 75.9h.8M639.6 71.2h.8" stroke="#3434ee" stroke-width=".8"/>
<path d="M610.7 83.5h.8M606.3 83.7h.8M620.9 80.0h.8M596.8 77.7h.8M615.5 93.0h.8M600.0 89.4h.8M604.7 85.4h.8M599.6 84.9h.8M603.7 96.5h.8M610.5 78.3h.8M607.1 91.3h.8M619.1 85.6h.8M610.4 79.4h.8M606.5 103.2h.8M627.4 90.4h.8M591.6 91.5h.8M595.7 76.8h.8M592.6 89.2h.8M618.2 99.5h.8M593.4 54.1h.8M594.5 92.2h.8M600.7 85.4h.8M591.2 86.9h.8M625.3 92.3h.8M601.9 92.6h.8M596.0 74.1h.8M631.0 91.2h.8M613.3 77.9h.8M624.7 76.0h.8M599.2 80.3h.8M613.0 74.6h.8M583.3 98.8h.8M597.1 87.7h.8M616.6 86.5h.8M590.7 81.6h.8M607.4 80.4h.8M596.4 89.3h.8M601.5 98.9h.8M588.6 77.8h.8M623.5 91.0h.8M598.2 90.7h.8M588.9 70.5h.8M608.8 82.8h.8M609.6 89.1h.8M595.6 78.4h.8M639.5 82.0h.8M610.5 81.0h.8M623.3 87.5h.8M602.4 78.4h.8M598.8 77.4h.8M601.5 96.7h.8M614.7 85.6h.8M606.3 92.2h.8M610.4 73.3h.8M602.9 102.9h.8M612.7 86.1h.8M619.5 80.1h.8M611.9 74.3h.8M616.9 79.5h.8M621.2 88.1h.8M609.3 82.3h.8M616.6 86.3h.8M628.0 78.9h.8M601.3 78.7h.8M605.9 103.0h.8M619.0 84.0h.8M614.1 94.7h.8M609.8 96.4h.8M617.1 93.1h.8M600.9 92.5h.8M595.5 104.8h.8M593.8 80.3h.8M608.0 70.1h.8M599.1 95.1h.8M593.2 85.1h.8M618.2 92.6h.8M612.8 81.6h.8M601.0 81.2h.8M602.9 95.7h.8M625.2 78.2h.8M601.4 93.3h.8M591.5 85.8h.8M599.9 64.6h.8M598.5 83.8h.8M627.8 88.4h.8M616.1 76.9h.8M615.5 77.3h.8M611.6 93.5h.8M614.7 101.2h.8M596.4 84.9h.8M620.7 86.8h.8M601.8 92.4h.8M625.7 98.4h.8M595.5 66.2h.8M624.4 97.1h.8M609.6 71.0h.8M647.9 74.2h.8M607.5 88.2h.8M592.6 101.5h.8M623.1 87.5h.8M586.8 84.5h.8M617.3 82.2h.8M596.2 94.9h.8M590.1 105.5h.8M612.5 71.8h.8M629.9 80.3h.8M619.7 83.5h.8M634.8 109.4h.8M605.9 92.9h.8M623.5 82.4h.8M614.5 94.0h.8M594.9 84.4h.8M589.7 91.2h.8M614.1 78.8h.8M604.3 104.3h.8M622.3 92.7h.8M604.0 101.1h.8M603.2 89.2h.8M606.9 75.0h.8M632.8 82.5h.8M594.6 72.2h.8M629.1 76.9h.8M629.5 77.1h.8M599.6 81.1h.8M621.5 76.9h.8M596.2 82.7h.8M618.6 81.9h.8M631.7 94.1h.8M610.4 89.3h.8M610.4 91.5h.8M615.7 76.8h.8M598.7 88.8h.8M623.6 70.1h.8M607.4 75.1h.8M611.6 86.5h.8M608.4 84.0h.8M617.1 83.4h.8M590.3 83.2h.8M596.3 112.4h.8M605.8 97.3h.8M617.0 83.0h.8M607.3 81.8h.8M607.1 93.3h.8M610.8 85.6h.8M623.5 89.1h.8M590.7 84.9h.8M596.2 83.1h.8M592.5 90.2h.8M614.4 65.2h.8M593.4 75.4h.8M607.5 90.5h.8M623.0 83.9h.8M625.6 79.9h.8M618.2 83.2h.8M603.8 106.8h.8M616.3 78.9h.8M611.7 85.5h.8M622.7 89.9h.8M610.4 95.6h.8M652.8 74.8h.8M629.1 94.3h.8M595.5 86.8h.8M606.8 84.9h.8M611.0 99.0h.8M623.8 92.9h.8M604.9 99.9h.8M606.8 80.5h.8M591.2 103.6h.8M601.5 75.0h.8M586.5 97.3h.8M596.0 94.4h.8M599.5 98.7h.8M587.2 74.2h.8M618.3 70.7h.8M630.9 100.6h.8M622.9 96.9h.8M605.0 89.7h.8M610.9 102.8h.8M618.2 103.4h.8M613.8 104.8h.8M589.0 93.0h.8M594.5 99.6h.8M608.0 109.0h.8M614.7 98.2h.8M618.8 105.7h.8M603.3 103.2h.8M618.8 96.1h.8M617.3 108.5h.8M604.5 94.3h.8M609.2 104.0h.8M633.5 101.3h.8M599.0 103.5h.8M616.6 97.3h.8M605.8 98.3h.8M599.4 99.6h.8M613.9 110.0h.8M621.3 101.0h.8M611.3 88.7h.8M603.3 101.9h.8M622.2 107.3h.8M595.1 93.5h.8M628.7 95.2h.8M606.2 95.0h.8M598.6 92.2h.8M621.7 106.3h.8M623.5 93.9h.8M606.5 95.0h.8M614.8 102.0h.8M610.3 102.8h.8M597.2 104.7h.8M595.6 107.1h.8M618.2 103.6h.8M625.9 90.7h.8M617.7 99.2h.8M615.0 102.8h.8M617.8 95.7h.8M608.9 98.6h.8M601.8 107.1h.8M624.1 101.6h.8M621.4 107.2h.8M607.4 109.6h.8M615.5 95.2h.8M616.0 102.1h.8M620.3 98.8h.8M607.5 98.9h.8M597.1 103.7h.8M630.7 76.0h.8M638.3 87.8h.8M627.4 84.3h.8M635.4 91.9h.8M631.0 85.2h.8M633.7 81.5h.8M637.5 80.4h.8M631.0 85.1h.8M630.1 83.9h.8M642.8 82.8h.8M621.3 82.2h.8M630.4 88.0h.8M631.4 74.3h.8M640.8 76.8h.8M637.8 87.6h.8M633.6 83.8h.8M626.7 66.9h.8M638.8 71.7h.8M631.5 65.8h.8M637.7 84.9h.8M628.3 87.7h.8M624.3 88.9h.8M635.2 74.3h.8M628.3 68.3h.8M629.0 72.6h.8M633.3 85.5h.8M630.4 80.5h.8M637.9 89.6h.8M625.7 90.0h.8M630.1 83.5h.8M637.3 83.1h.8M637.6 71.3h.8M629.2 87.2h.8M623.0 83.9h.8M625.9 83.3h.8M633.1 97.0h.8M627.8 88.3h.8M632.2 63.2h.8M637.4 76.3h.8M647.2 49.1h.8M634.3 61.0h.8M635.4 71.6h.8M645.3 41.3h.8M636.1 65.3h.8M643.5 60.9h.8M630.0 80.5h.8M646.0 38.4h.8M629.2 79.9h.8M644.5 47.5h.8M636.5 64.9h.8M636.8 54.6h.8M643.7 54.8h.8M627.2 65.3h.8M643.8 41.0h.8M640.0 54.7h.8M646.9 49.7h.8M639.2 54.6h.8M635.2 62.4h.8M628.7 76.5h.8M634.1 57.1h.8M637.4 69.0h.8M645.3 39.2h.8M631.2 78.4h.8M644.5 54.4h.8M645.4 49.7h.8M632.1 70.3h.8M640.4 49.3h.8M633.7 64.2h.8M636.8 59.3h.8M647.3 39.2h.8M641.2 56.1h.8M643.6 47.5h.8M640.0 68.6h.8M629.7 70.1h.8M629.8 67.9h.8M646.8 63.2h.8M636.3 66.4h.8M642.9 47.2h.8M620.3 62.6h.8M632.9 61.4h.8M640.0 71.8h.8M629.4 79.2h.8M630.2 78.6h.8M635.0 61.1h.8M635.2 64.1h.8M652.6 41.5h.8M645.5 42.8h.8M653.4 44.4h.8M652.4 40.5h.8M650.1 40.4h.8M649.4 43.2h.8M648.2 41.5h.8M637.0 41.8h.8M651.2 42.4h.8M645.1 40.9h.8M640.2 42.5h.8M650.8 40.0h.8M644.1 40.3h.8M655.2 42.0h.8M630.6 72.8h.8M621.8 46.5h.8M616.4 84.3h.8M609.0 73.7h.8M615.4 79.1h.8M625.6 69.9h.8M637.3 59.4h.8M623.1 63.4h.8M630.8 72.9h.8M611.5 50.9h.8M616.6 71.0h.8M608.3 69.6h.8M639.9 69.8h.8M656.2 55.2h.8M637.2 75.2h.8M634.9 81.5h.8M642.3 74.8h.8M645.2 83.4h.8M653.4 73.5h.8M647.0 50.8h.8M664.5 60.5h.8M654.4 81.4h.8M620.1 39.6h.8M651.3 68.3h.8M649.2 67.2h.8M648.7 51.0h.8" stroke="#5050ff" stroke-width=".8"/>
<path d="M587.3 94.0h.8M598.0 77.7h.8M593.1 91.3h.8M595.4 63.7h.8M614.1 90.5h.8M601.4 79.5h.8M608.6 67.3h.8M600.9 85.0h.8M600.7 98.9h.8M618.2 71.4h.8M609.7 85.6h.8M612.1 92.4h.8M589.4 86.8h.8M613.9 76.4h.8M602.2 92.3h.8M587.4 77.8h.8M609.5 87.2h.8M599.5 75.6h.8M590.4 82.8h.8M607.9 84.8h.8M598.3 83.2h.8M624.2 70.2h.8M619.4 75.1h.8M608.2 95.8h.8M589.6 78.2h.8M609.2 81.3h.8M595.0 77.2h.8M616.6 75.7h.8M608.4 79.8h.8M601.0 85.2h.8M594.3 69.5h.8M594.1 89.9h.8M611.9 86.9h.8M606.2 81.2h.8M593.8 92.6h.8M593.3 90.7h.8M611.2 91.5h.8M603.0 76.3h.8M613.9 86.2h.8M592.9 95.4h.8M626.6 66.8h.8M598.0 77.5h.8M587.8 76.4h.8M598.6 102.7h.8M606.4 85.8h.8M616.1 68.8h.8M593.8 87.6h.8M606.7 74.3h.8M601.6 92.9h.8M597.1 95.1h.8M597.9 75.9h.8M610.3 91.6h.8M609.8 87.7h.8M615.5 70.4h.8M619.9 82.8h.8M600.1 83.9h.8M600.5 80.1h.8M623.8 69.6h.8M619.5 77.2h.8M610.0 78.7h.8M607.2 85.7h.8M592.1 83.5h.8M638.2 103.0h.8M618.5 89.5h.8M611.7 76.3h.8M606.8 92.8h.8M612.5 90.7h.8M624.2 88.5h.8M610.3 98.9h.8M602.2 86.7h.8M600.8 89.3h.8M600.8 74.7h.8M600.8 95.7h.8M610.8 91.1h.8M619.3 80.4h.8M597.5 80.8h.8M601.1 68.3h.8M606.2 90.2h.8M597.7 83.4h.8M606.0 64.4h.8M590.8 93.1h.8M583.7 73.3h.8M603.8 88.1h.8M609.0 93.3h.8M615.1 100.3h.8M591.0 95.0h.8M605.7 83.0h.8M610.7 84.0h.8M624.3 78.8h.8M594.7 88.6h.8M609.5 82.9h.8M609.8 84.6h.8M603.0 108.3h.8M625.2 73.7h.8M610.9 93.9h.8M590.9 90.3h.8M607.7 74.7h.8M609.0 78.4h.8M602.2 67.2h.8M617.7 63.7h.8M596.0 86.4h.8M617.0 102.2h.8M588.7 104.1h.8M624.3 89.4h.8M602.2 89.9h.8M598.2 112.8h.8M621.7 68.2h.8M608.3 90.7h.8M615.8 88.6h.8M615.8 92.8h.8M591.7 84.7h.8M603.7 72.3h.8M603.9 87.5h.8M613.2 89.7h.8M601.5 77.2h.8M620.8 86.5h.8M606.8 73.4h.8M620.9 85.6h.8M616.0 105.3h.8M620.0 88.0h.8M643.5 91.9h.8M606.9 75.3h.8M607.0 75.2h.8M594.2 98.5h.8M601.9 80.8h.8M589.0 81.0h.8M592.9 80.0h.8M585.4 85.6h.8M600.3 82.4h.8M600.4 85.2h.8M609.8 84.9h.8M591.2 90.8h.8M610.7 84.5h.8M591.1 78.0h.8M605.0 87.0h.8M629.9 83.1h.8M604.9 73.1h.8M621.4 95.6h.8M593.7 81.2h.8M604.8 81.3h.8M609.9 82.3h.8M597.2 93.4h.8M617.5 89.9h.8M630.4 80.1h.8M626.9 79.6h.8M608.8 68.5h.8M605.6 74.8h.8M610.3 75.3h.8M611.6 69.3h.8M600.4 87.8h.8M603.1 85.4h.8M598.4 88.8h.8M599.6 98.8h.8M601.0 96.9h.8M603.9 80.4h.8M632.6 98.4h.8M603.6 82.4h.8M597.0 86.9h.8M617.4 81.0h.8M609.3 75.4h.8M602.1 92.7h.8M613.2 80.5h.8M614.1 82.1h.8M622.1 92.7h.8M636.8 88.7h.8M627.6 90.2h.8M598.8 101.1h.8M598.5 76.4h.8M620.8 70.4h.8M612.0 92.6h.8M595.5 85.4h.8M594.1 97.0h.8M622.7 83.9h.8M585.0 100.6h.8M590.3 97.7h.8M621.4 94.0h.8M624.3 98.2h.8M623.5 101.6h.8M595.6 96.2h.8M616.3 98.8h.8M602.3 97.5h.8M632.2 98.7h.8M638.6 95.1h.8M602.9 97.3h.8M611.8 98.8h.8M617.3 105.1h.8M611.4 99.6h.8M607.6 111.0h.8M610.7 100.3h.8M608.0 92.3h.8M605.4 88.5h.8M600.7 98.1h.8M619.0 106.6h.8M595.4 97.6h.8M629.3 96.6h.8M605.8 90.4h.8M596.8 90.9h.8M617.2 110.8h.8M621.7 107.5h.8M621.2 99.6h.8M621.6 107.5h.8M617.9 106.8h.8M606.0 93.0h.8M624.4 98.5h.8M615.4 98.7h.8M620.6 101.2h.8M603.6 107.9h.8M620.2 110.8h.8M607.0 93.3h.8M600.9 97.7h.8M604.6 101.6h.8M597.1 106.3h.8M617.1 106.0h.8M604.5 87.7h.8M605.4 99.3h.8M620.0 99.2h.8M613.7 103.3h.8M607.7 96.9h.8M605.3 94.5h.8M626.1 99.7h.8M614.1 106.9h.8M608.1 106.4h.8M600.4 112.0h.8M614.8 98.6h.8M595.3 96.8h.8M595.6 98.1h.8M625.8 77.9h.8M641.0 75.3h.8M634.0 73.1h.8M625.9 79.4h.8M633.8 84.0h.8M633.3 68.1h.8M632.7 83.2h.8M625.6 96.7h.8M638.8 78.4h.8M642.5 68.9h.8M636.2 80.4h.8M632.6 74.2h.8M645.9 85.0h.8M626.2 74.8h.8M635.0 63.4h.8M638.2 93.9h.8M630.9 74.9h.8M632.5 65.8h.8M626.1 70.0h.8M627.0 78.4h.8M634.6 59.5h.8M629.0 83.6h.8M626.8 85.7h.8M637.9 77.6h.8M631.2 73.1h.8M633.6 97.4h.8M632.3 71.2h.8M625.7 77.5h.8M643.6 79.2h.8M634.1 75.7h.8M627.8 91.2h.8M633.2 73.8h.8M629.4 78.4h.8M637.4 90.6h.8M633.5 83.2h.8M627.7 82.0h.8M626.8 73.3h.8M619.3 91.5h.8M645.1 43.5h.8M635.2 54.6h.8M644.8 63.0h.8M638.7 48.6h.8M646.8 40.8h.8M643.8 38.9h.8M641.5 58.1h.8M647.7 47.5h.8M638.7 60.6h.8M627.1 86.3h.8M628.9 69.3h.8M640.7 59.5h.8M636.9 65.1h.8M628.4 78.9h.8M648.9 49.2h.8M629.8 70.2h.8M632.6 72.1h.8M632.7 73.5h.8M641.8 49.9h.8M651.3 49.3h.8M642.0 34.6h.8M638.6 59.1h.8M636.3 69.7h.8M643.5 53.0h.8M639.3 60.8h.8M629.0 66.8h.8M633.4 75.2h.8M644.0 51.7h.8M630.9 58.7h.8M628.6 82.5h.8M629.4 78.8h.8M641.2 65.7h.8M632.5 70.4h.8M641.1 60.3h.8M630.8 85.1h.8M646.0 40.0h.8M634.5 77.9h.8M638.1 54.8h.8M641.3 52.9h.8M637.6 59.5h.8M627.3 69.9h.8M631.3 85.1h.8M646.4 41.5h.8M639.4 60.4h.8M643.3 51.5h.8M636.1 59.4h.8M639.2 40.1h.8M650.4 39.2h.8M644.7 41.3h.8M653.0 40.8h.8M643.1 41.6h.8M639.4 41.4h.8M647.6 39.2h.8M653.3 40.6h.8M656.8 41.4h.8M644.1 40.0h.8M645.6 40.9h.8M657.1 41.7h.8M649.7 43.3h.8M643.8 42.3h.8M643.1 39.9h.8M589.8 74.8h.8M611.1 64.1h.8M616.2 58.0h.8M623.9 69.7h.8M643.3 68.6h.8M637.4 60.3h.8M613.0 68.0h.8M604.7 57.3h.8M611.6 74.0h.8M623.0 56.9h.8M623.1 72.9h.8M613.3 77.1h.8M633.3 64.2h.8M639.8 43.7h.8M631.1 60.7h.8M639.4 58.1h.8M642.7 68.5h.8M654.0 66.7h.8M640.3 55.9h.8M635.8 55.5h.8M654.9 72.1h.8M647.0 62.9h.8M629.6 66.1h.8M623.9 65.9h.8M650.0 51.5h.8M635.1 56.1h.8" stroke="#2c2ce0" stroke-width=".8"/>
<path d="M616.8 70.2h.8M642.3 92.8h.8M623.9 72.2h.8M622.3 89.8h.8M593.9 80.7h.8M607.3 86.4h.8M595.8 89.6h.8M606.5 79.1h.8M606.4 111.4h.8M593.9 97.4h.8M599.1 94.3h.8M606.7 86.0h.8M620.1 90.9h.8M624.7 81.8h.8M605.3 88.5h.8M605.4 93.6h.8M602.1 87.7h.8M617.4 79.7h.8M601.3 69.6h.8M606.8 73.7h.8M644.3 68.3h.8M622.6 77.4h.8M592.3 70.9h.8M604.8 83.3h.8M598.6 100.9h.8M628.1 87.9h.8M598.9 83.3h.8M615.8 83.1h.8M596.5 58.6h.8M594.1 78.4h.8M618.4 93.5h.8M620.5 77.6h.8M586.1 71.8h.8M594.7 74.6h.8M595.6 80.2h.8M603.2 100.3h.8M603.1 87.5h.8M600.5 85.0h.8M600.3 86.0h.8M593.3 88.7h.8M626.0 91.3h.8M613.8 89.3h.8M612.3 88.2h.8M601.3 77.1h.8M621.5 93.3h.8M621.1 90.0h.8M614.9 81.1h.8M602.0 81.0h.8M602.0 82.8h.8M616.1 75.5h.8M605.6 85.5h.8M589.0 80.8h.8M628.2 84.4h.8M605.8 90.9h.8M588.8 85.8h.8M599.9 87.1h.8M615.1 72.7h.8M616.1 73.7h.8M614.0 80.1h.8M615.7 63.3h.8M599.7 86.5h.8M601.6 79.9h.8M610.2 60.4h.8M602.9 93.2h.8M611.6 87.9h.8M606.8 85.7h.8M634.1 87.5h.8M599.0 70.3h.8M599.0 75.0h.8M600.1 76.0h.8M621.2 94.5h.8M611.1 82.3h.8M594.5 78.6h.8M608.7 94.9h.8M593.7 86.1h.8M608.6 82.4h.8M625.6 92.0h.8M611.4 69.1h.8M593.5 111.2h.8M632.1 98.3h.8M616.0 84.5h.8M594.4 77.8h.8M588.9 84.3h.8M622.6 93.8h.8M610.2 84.4h.8M607.5 78.5h.8M628.9 87.8h.8M613.0 86.2h.8M614.4 84.2h.8M604.5 82.8h.8M592.0 101.9h.8M586.1 78.4h.8M615.9 96.1h.8M606.0 82.8h.8M598.9 78.2h.8M607.5 89.0h.8M593.2 84.4h.8M598.3 92.4h.8M589.1 86.8h.8M621.5 84.9h.8M624.6 89.1h.8M603.9 91.2h.8M610.6 80.9h.8M606.5 84.2h.8M589.2 81.8h.8M615.9 83.2h.8M623.8 93.5h.8M613.0 86.0h.8M617.0 91.6h.8M599.6 86.8h.8M601.4 92.7h.8M584.4 83.9h.8M607.0 85.4h.8M603.0 77.1h.8M623.3 90.4h.8M614.9 99.3h.8M585.8 84.5h.8M626.4 110.3h.8M603.1 76.6h.8M619.8 71.0h.8M604.1 79.6h.8M587.3 108.8h.8M603.5 100.9h.8M611.9 89.5h.8M628.1 84.8h.8M633.0 95.6h.8M612.9 95.1h.8M599.5 76.5h.8M617.9 104.8h.8M589.2 103.5h.8M611.1 89.6h.8M589.0 86.3h.8M594.3 83.7h.8M608.7 102.3h.8M602.6 94.6h.8M621.5 76.7h.8M598.6 95.1h.8M608.2 100.0h.8M601.8 96.5h.8M606.6 84.2h.8M613.1 78.9h.8M610.4 88.7h.8M604.1 84.6h.8M609.7 94.8h.8M627.5 80.8h.8M607.5 88.6h.8M612.3 93.2h.8M603.6 80.6h.8M596.0 78.0h.8M589.2 76.5h.8M586.9 93.8h.8M594.6 101.3h.8M653.5 66.3h.8M592.3 76.0h.8M588.6 94.6h.8M586.2 76.8h.8M588.1 94.1h.8M589.0 74.7h.8M586.9 85.8h.8M606.0 85.2h.8M608.7 80.7h.8M604.3 85.3h.8M624.0 95.4h.8M585.3 88.9h.8M599.8 85.3h.8M626.2 101.2h.8M619.9 113.1h.8M612.9 87.6h.8M607.4 73.1h.8M602.8 97.1h.8M650.3 87.6h.8M603.4 92.0h.8M610.5 86.5h.8M616.7 109.8h.8M604.0 102.2h.8M606.4 105.5h.8M632.6 100.1h.8M609.6 99.8h.8M609.0 99.6h.8M607.7 106.1h.8M630.1 104.6h.8M604.9 93.9h.8M617.7 105.2h.8M619.9 106.6h.8M608.4 101.3h.8M595.8 99.1h.8M620.7 110.9h.8M595.7 100.4h.8M599.0 110.6h.8M603.9 97.5h.8M604.4 103.1h.8M605.6 92.7h.8M616.5 100.1h.8M620.6 104.5h.8M613.0 102.2h.8M613.7 96.6h.8M594.4 97.7h.8M603.5 98.4h.8M610.5 108.3h.8M602.3 101.3h.8M616.9 112.3h.8M596.1 103.6h.8M604.2 110.8h.8M615.5 97.5h.8M617.8 91.6h.8M603.3 108.2h.8M603.9 95.9h.8M607.9 104.9h.8M615.1 100.1h.8M619.0 100.3h.8M615.9 101.9h.8M604.4 100.7h.8M602.2 103.0h.8M613.0 107.1h.8M606.8 104.1h.8M614.3 105.4h.8M630.9 104.3h.8M607.4 101.3h.8M619.0 108.6h.8M601.5 96.5h.8M603.7 99.2h.8M608.2 110.8h.8M614.6 102.7h.8M609.0 94.6h.8M598.3 99.2h.8M635.1 66.5h.8M637.1 76.1h.8M627.9 72.6h.8M628.4 96.8h.8M633.2 84.6h.8M634.5 80.1h.8M627.3 75.2h.8M619.6 90.5h.8M632.9 86.0h.8M625.5 79.3h.8M627.0 79.8h.8M628.4 76.2h.8M631.2 75.5h.8M640.3 83.0h.8M633.5 77.2h.8M624.8 81.0h.8M630.4 90.9h.8M631.1 71.3h.8M629.9 79.9h.8M632.1 91.0h.8M633.5 77.8h.8M632.7 89.8h.8M618.9 82.0h.8M635.7 86.2h.8M635.8 75.8h.8M640.2 79.4h.8M634.8 90.0h.8M638.5 86.5h.8M631.0 83.1h.8M624.3 89.1h.8M630.9 80.9h.8M634.1 85.9h.8M636.2 87.0h.8M639.3 76.0h.8M633.5 79.0h.8M631.2 77.8h.8M621.0 73.3h.8M631.7 102.7h.8M633.6 68.3h.8M638.3 62.0h.8M621.7 87.5h.8M645.1 54.1h.8M636.1 78.8h.8M639.5 57.0h.8M634.4 80.4h.8M632.0 62.3h.8M638.5 67.7h.8M641.5 52.7h.8M631.0 78.3h.8M645.0 43.1h.8M644.3 51.2h.8M648.0 41.2h.8M631.8 75.1h.8M643.1 59.4h.8M644.5 37.8h.8M632.3 66.4h.8M640.3 53.0h.8M637.6 54.9h.8M645.3 46.5h.8M641.3 63.7h.8M643.8 73.2h.8M638.3 49.6h.8M648.3 49.1h.8M632.7 70.1h.8M642.0 52.7h.8M632.1 79.8h.8M627.0 73.4h.8M628.5 68.8h.8M641.3 51.0h.8M628.2 73.4h.8M630.9 77.7h.8M647.1 58.2h.8M641.9 47.3h.8M650.4 53.4h.8M622.4 82.1h.8M633.6 68.6h.8M637.1 70.4h.8M648.1 46.5h.8M634.4 56.0h.8M624.9 84.1h.8M627.3 83.7h.8M623.6 76.4h.8M621.9 81.0h.8M640.5 59.6h.8M640.9 50.6h.8M647.5 39.8h.8M650.1 40.1h.8M641.1 43.5h.8M646.9 44.6h.8M650.4 39.0h.8M649.2 41.0h.8M649.8 43.2h.8M649.9 42.5h.8M660.7 40.8h.8M646.6 39.7h.8M659.5 40.5h.8M656.8 40.3h.8M658.2 40.5h.8M654.5 40.8h.8M636.4 39.5h.8M601.1 72.1h.8M615.1 66.7h.8M601.8 74.3h.8M603.9 71.8h.8M609.6 70.5h.8M623.1 75.4h.8M628.0 55.9h.8M615.1 71.1h.8M625.7 78.3h.8M618.5 58.9h.8M633.6 60.7h.8M605.9 58.6h.8M622.5 73.8h.8M649.8 65.4h.8M641.4 43.8h.8M619.8 67.5h.8M643.8 92.3h.8M639.8 71.4h.8M639.5 57.8h.8M659.4 76.1h.8M644.8 75.3h.8M657.9 72.3h.8M629.6 75.7h.8M632.1 62.3h.8M631.0 63.0h.8M647.1 69.4h.8" stroke="#6262ff" stroke-width=".8"/>
<g filter="url(#bf)" clip-path="url(#fc12)"><ellipse cx="608.25" cy="85.4" rx="22.05" ry="15.5" fill="#6070ff" opacity="0.45" transform="rotate(-5 607.25 81.6)"/><ellipse cx="608.05" cy="84.2" rx="18.54" ry="12" fill="#4a70ff" opacity="0.7" transform="rotate(-5 607.25 81.6)"/><ellipse cx="607.75" cy="83.1" rx="15.53" ry="9.5" fill="#30a8f8" opacity="0.9" transform="rotate(-5 607.25 81.6)"/><ellipse cx="607.55" cy="82.5" rx="14.03" ry="8.3" fill="#40d8b0" transform="rotate(-5 607.25 81.6)"/><ellipse cx="607.45" cy="82" rx="12.53" ry="7.2" fill="#50e860" transform="rotate(-5 607.25 81.6)"/><ellipse cx="607.35" cy="81.6" rx="9.52" ry="5.2" fill="#90f040" transform="rotate(-5 607.25 81.6)"/><ellipse cx="607.25" cy="81.4" rx="7.21" ry="3.6" fill="#e8e828" transform="rotate(-5 607.25 81.6)"/><ellipse cx="607.25" cy="81.3" rx="5.41" ry="2.6" fill="#f09020" transform="rotate(-5 607.25 81.6)"/><ellipse cx="607.55" cy="81.3" rx="3.51" ry="1.6" fill="#e84018" transform="rotate(-5 607.25 81.6)"/></g>
<path d="M608.4 77.9h.9M614.7 79.3h.9M606.7 79.1h.9M608.8 79.5h.9M598.2 82.8h.9M599.4 81.6h.9M612.5 86.0h.9M616.7 83.5h.9M613.8 82.7h.9M599.4 80.3h.9M608.0 86.7h.9M601.0 85.8h.9M600.6 79.9h.9M607.8 86.3h.9M605.1 85.3h.9M614.3 81.5h.9M612.7 81.5h.9M610.3 77.9h.9M611.1 78.2h.9M598.8 82.8h.9M614.7 80.2h.9M600.2 81.1h.9M605.7 85.7h.9M615.0 79.6h.9M607.4 80.0h.9M604.6 80.3h.9M601.0 81.9h.9M612.8 78.5h.9M607.4 85.1h.9M604.7 79.4h.9M603.2 78.2h.9M601.9 79.9h.9M616.1 83.2h.9M608.9 85.9h.9M602.0 83.2h.9M603.4 82.6h.9M607.1 78.2h.9M604.5 79.1h.9M607.6 86.6h.9M616.5 84.4h.9M612.7 82.3h.9M605.0 77.9h.9M608.2 85.2h.9M609.5 85.5h.9M604.7 78.7h.9M608.4 84.1h.9M615.7 80.3h.9M605.1 79.0h.9M608.7 84.0h.9" stroke="#e8e828" stroke-width=".9"/>
<path d="M600.2 91.1h.9M602.2 91.1h.9M623.4 88.7h.9M621.4 89.3h.9M595.4 90.3h.9M604.5 95.0h.9M602.0 94.7h.9M612.8 88.6h.9M612.6 75.0h.9M597.4 76.9h.9M610.9 90.5h.9M625.1 86.4h.9M594.4 90.1h.9M618.1 87.8h.9M621.8 80.6h.9M618.4 85.7h.9M603.6 97.2h.9M618.9 78.4h.9M616.0 92.1h.9M620.1 87.5h.9M592.0 83.7h.9M621.3 78.9h.9M606.8 74.1h.9M615.3 92.0h.9M611.0 96.1h.9M594.6 78.6h.9M604.6 92.4h.9M602.0 89.9h.9M603.1 91.8h.9M590.9 85.4h.9M595.7 92.0h.9M601.1 89.2h.9M606.9 75.2h.9M609.0 75.3h.9M605.2 92.1h.9M602.1 73.9h.9M603.0 91.0h.9M614.3 88.7h.9M597.6 87.6h.9M609.4 75.2h.9M592.6 87.5h.9M602.1 90.4h.9M591.7 86.2h.9M594.2 78.6h.9M597.8 91.7h.9M622.9 85.6h.9M618.8 85.3h.9M622.3 82.3h.9M606.3 91.2h.9M615.6 76.8h.9M604.3 74.1h.9" stroke="#30a8f8" stroke-width=".9"/>
<path d="M626.5 85.4h.9M594.9 75.1h.9M628.9 75.3h.9M612.6 94.6h.9M628.6 98.8h.9M603.0 95.5h.9M603.2 102.3h.9M595.8 70.4h.9M600.4 96.4h.9M586.3 87.1h.9M601.7 94.5h.9M619.6 71.8h.9M599.4 71.7h.9M589.8 86.4h.9M633.3 91.8h.9M587.8 85.9h.9M598.2 75.8h.9M588.5 83.1h.9M598.0 98.5h.9M609.9 72.0h.9M599.8 69.1h.9M607.6 104.1h.9M591.7 92.4h.9M614.4 95.2h.9M627.5 91.0h.9M608.5 67.9h.9M622.8 82.9h.9M595.3 77.3h.9M610.8 95.5h.9M591.4 78.4h.9M591.5 76.2h.9M630.2 80.5h.9M593.0 91.9h.9M621.4 94.5h.9M620.7 89.3h.9M592.0 89.5h.9M604.2 93.2h.9M603.6 97.8h.9M602.9 95.5h.9M630.6 85.1h.9M590.7 89.9h.9M583.8 91.1h.9M603.0 98.1h.9M627.9 79.6h.9M611.5 95.6h.9M585.9 80.8h.9M622.7 91.0h.9M625.9 84.2h.9M623.6 75.2h.9M618.3 94.9h.9M591.7 76.2h.9M629.8 87.0h.9M590.4 91.3h.9" stroke="#6070ff" stroke-width=".9"/>
<path d="M604.0 89.2h.9M609.1 90.6h.9M617.1 85.1h.9M600.4 88.1h.9M597.3 82.2h.9M600.5 88.9h.9M612.8 85.3h.9M610.1 87.2h.9M598.0 83.7h.9M613.9 86.8h.9M619.7 87.5h.9M607.0 87.8h.9M606.8 86.5h.9M595.3 78.7h.9M608.8 76.3h.9M599.7 84.2h.9M606.0 76.5h.9M606.9 75.1h.9M594.3 82.0h.9M595.1 85.2h.9M604.8 76.3h.9M615.4 81.5h.9M608.9 77.8h.9M608.2 90.7h.9M604.8 77.7h.9M612.3 79.0h.9M609.0 87.7h.9M610.9 76.2h.9M620.8 83.7h.9M616.0 81.7h.9M608.6 75.1h.9M615.8 81.3h.9M601.4 77.7h.9M605.2 87.2h.9M616.3 81.7h.9M614.5 80.7h.9M613.3 84.9h.9M600.5 86.2h.9M601.3 84.1h.9M596.1 87.2h.9M616.3 80.1h.9M596.1 82.4h.9M604.3 85.8h.9M608.2 76.3h.9M598.4 82.0h.9M598.6 84.7h.9M607.3 89.5h.9M605.5 85.1h.9M601.8 87.3h.9M614.4 88.0h.9" stroke="#50e860" stroke-width=".9"/>
<path d="M613.7 84.3h.9M604.0 79.5h.9M614.8 83.8h.9M610.4 78.6h.9M616.2 86.6h.9M605.3 78.5h.9M611.4 88.1h.9M599.7 87.5h.9M612.4 83.7h.9M598.8 79.5h.9M604.7 86.0h.9M596.3 84.7h.9M618.7 83.3h.9M610.5 78.6h.9M604.4 87.9h.9M605.9 77.5h.9M618.1 83.1h.9M598.2 78.8h.9M608.1 78.6h.9M611.8 80.4h.9M598.0 84.0h.9M616.8 86.5h.9M600.4 77.8h.9M598.5 81.5h.9M599.4 78.4h.9M607.8 78.4h.9M617.1 81.9h.9M595.9 80.6h.9M605.1 85.2h.9M606.7 86.3h.9M603.1 85.8h.9M614.0 84.8h.9M604.1 87.6h.9M611.6 86.2h.9M597.7 79.1h.9M616.1 84.4h.9M599.1 81.3h.9M598.9 86.2h.9M601.9 83.3h.9M615.3 77.8h.9M614.4 84.7h.9M610.7 75.9h.9M614.1 83.8h.9M615.6 79.4h.9M607.5 76.0h.9M616.0 85.4h.9M601.3 86.3h.9M614.0 80.6h.9M599.8 85.0h.9M606.3 87.1h.9M613.9 82.5h.9M596.4 82.3h.9M607.9 89.0h.9M604.8 87.9h.9M612.3 82.5h.9M599.4 83.6h.9M601.6 88.7h.9M608.1 75.9h.9M613.3 78.4h.9M604.7 78.5h.9M604.7 86.0h.9" stroke="#90f040" stroke-width=".9"/>
<path d="M595.6 79.9h.9M602.8 74.9h.9M597.7 78.4h.9M619.1 82.5h.9M606.9 88.3h.9M608.7 87.7h.9M617.8 79.1h.9M617.2 84.3h.9M622.0 82.4h.9M608.4 76.9h.9M612.7 90.7h.9M596.9 79.3h.9M617.3 91.1h.9M605.1 75.7h.9M616.6 84.9h.9M618.1 85.7h.9M612.8 75.8h.9M621.0 84.7h.9M610.8 92.7h.9M610.4 89.5h.9M600.1 89.6h.9M598.0 83.8h.9M617.4 91.4h.9M612.5 91.0h.9M614.8 91.6h.9M606.6 87.4h.9M614.8 75.7h.9M599.3 86.2h.9M604.6 87.8h.9M601.9 87.9h.9M595.5 82.1h.9M616.3 82.8h.9M597.0 90.6h.9M593.8 82.4h.9M604.7 90.6h.9M619.0 80.0h.9M618.2 78.0h.9M595.7 78.3h.9M607.7 75.6h.9M618.3 76.5h.9M607.3 77.0h.9M614.0 78.8h.9M596.8 83.6h.9M607.3 74.5h.9M598.4 84.1h.9M605.5 91.1h.9M600.8 88.1h.9M600.8 91.0h.9M616.7 80.9h.9M603.7 74.8h.9" stroke="#40d8b0" stroke-width=".9"/>
<path d="M613.9 93.5h.9M614.5 70.8h.9M596.5 90.5h.9M623.7 80.1h.9M595.5 71.3h.9M621.2 79.0h.9M597.0 74.4h.9M592.9 77.2h.9M625.2 78.9h.9M620.5 85.9h.9M612.2 74.8h.9M601.1 91.4h.9M618.0 74.6h.9M592.5 89.1h.9M610.7 98.0h.9M599.9 90.9h.9M619.1 91.8h.9M600.5 94.4h.9M591.1 92.4h.9M599.0 73.7h.9M592.3 88.5h.9M587.0 76.1h.9M600.1 106.4h.9M592.4 73.7h.9M594.0 75.0h.9M585.7 82.2h.9M585.3 86.0h.9M609.4 71.7h.9M629.2 84.7h.9M604.8 101.0h.9M624.7 94.8h.9M599.5 90.8h.9M593.3 86.5h.9M592.7 72.2h.9M596.8 90.5h.9M612.8 100.4h.9M613.0 72.2h.9M618.9 90.2h.9M592.1 70.0h.9M613.3 94.0h.9M615.0 69.5h.9M622.1 65.4h.9M622.3 75.0h.9M630.9 79.8h.9M613.4 95.7h.9M584.3 80.0h.9M615.1 90.8h.9M600.7 94.1h.9M595.6 76.7h.9M600.9 66.7h.9" stroke="#4a70ff" stroke-width=".9"/>
<path d="M612.2 80.0h.9M606.2 84.6h.9M607.3 83.7h.9M612.0 83.5h.9M604.1 82.6h.9M602.3 80.0h.9M602.4 81.3h.9M606.6 82.2h.9M611.3 83.5h.9M608.1 82.9h.9M605.9 81.6h.9M606.3 80.0h.9M614.0 83.6h.9M608.6 83.1h.9M603.9 83.4h.9M610.3 80.0h.9M610.0 82.9h.9M602.1 82.4h.9M606.5 85.1h.9M605.6 83.9h.9M609.7 84.4h.9M612.6 82.1h.9M604.8 82.6h.9M612.1 83.8h.9M605.3 81.1h.9M603.2 81.4h.9M610.2 81.3h.9M601.8 83.5h.9M610.7 79.5h.9" stroke="#f09020" stroke-width=".9"/>
<path d="M608.5 82.6h.9M603.9 80.5h.9M603.8 80.0h.9M604.9 79.9h.9M607.1 80.4h.9M606.3 81.4h.9M606.1 82.5h.9M608.5 82.6h.9M607.5 79.8h.9M609.9 80.9h.9M608.9 81.2h.9M610.7 81.2h.9M605.1 84.0h.9M607.2 81.0h.9M606.5 84.0h.9M607.7 83.8h.9M607.9 79.7h.9M603.2 80.5h.9M607.7 82.1h.9M607.1 80.7h.9M607.8 82.1h.9M608.2 81.2h.9M608.3 82.6h.9M605.3 79.6h.9M604.0 83.1h.9M609.7 81.3h.9" stroke="#e84018" stroke-width=".9"/>
<g filter="url(#bf)" clip-path="url(#fc12)"><ellipse cx="648.34" cy="40.6" rx="4.81" ry="1.8" fill="#3a6cff" opacity="0.8"/><ellipse cx="648.84" cy="40.6" rx="2.61" ry="1" fill="#30c8e8" opacity="0.9"/></g>
<rect x="582.2" y="17.6" width="97.5" height="96.6" fill="none" stroke="#444" stroke-width="0.9"/>
<line x1="629.4" y1="17.6" x2="629.4" y2="114.2" stroke="#555" stroke-width="0.9"/>
<line x1="582.2" y1="68.5" x2="679.7" y2="68.5" stroke="#555" stroke-width="0.9"/>
<text x="584.6" y="23.6" font-size="4.8" fill="#333">Q3-1</text>
<text x="584.6" y="28.5" font-size="4.8" fill="#333">0.68%</text>
<text x="677.2" y="23.6" font-size="4.8" text-anchor="end" fill="#333">Q3-2</text>
<text x="677.2" y="28.5" font-size="4.8" text-anchor="end" fill="#333">4.16%</text>
<rect x="584.2" y="101.6" width="16.5" height="11.2" fill="#fff" opacity="0.8"/>
<text x="585.2" y="106" font-size="4.8" fill="#333">Q3-3</text>
<text x="585.2" y="111.2" font-size="4.8" fill="#333">89.86%</text>
<text x="677.2" y="106" font-size="4.8" text-anchor="end" fill="#333">Q3-4</text>
<text x="677.2" y="111.2" font-size="4.8" text-anchor="end" fill="#333">5.31%</text>
<line x1="582.2" y1="114.2" x2="582.2" y2="115.7" stroke="#444" stroke-width="0.6"/>
<text x="582.2" y="122.2" font-size="4.9" text-anchor="middle" fill="#333">10<tspan dx="0.6" dy="-2.2" font-size="3.8">2</tspan></text>
<line x1="599.75" y1="114.2" x2="599.75" y2="115.7" stroke="#444" stroke-width="0.6"/>
<text x="599.75" y="122.2" font-size="4.9" text-anchor="middle" fill="#333">10<tspan dx="0.6" dy="-2.2" font-size="3.8">3</tspan></text>
<line x1="617.59" y1="114.2" x2="617.59" y2="115.7" stroke="#444" stroke-width="0.6"/>
<text x="617.59" y="122.2" font-size="4.9" text-anchor="middle" fill="#333">10<tspan dx="0.6" dy="-2.2" font-size="3.8">4</tspan></text>
<line x1="636.22" y1="114.2" x2="636.22" y2="115.7" stroke="#444" stroke-width="0.6"/>
<text x="636.22" y="122.2" font-size="4.9" text-anchor="middle" fill="#333">10<tspan dx="0.6" dy="-2.2" font-size="3.8">5</tspan></text>
<line x1="653.86" y1="114.2" x2="653.86" y2="115.7" stroke="#444" stroke-width="0.6"/>
<text x="653.86" y="122.2" font-size="4.9" text-anchor="middle" fill="#333">10<tspan dx="0.6" dy="-2.2" font-size="3.8">6</tspan></text>
<line x1="679.7" y1="114.2" x2="679.7" y2="115.7" stroke="#444" stroke-width="0.6"/>
<text x="679.7" y="122.2" font-size="4.9" text-anchor="middle" fill="#333">10<tspan dx="0.6" dy="-2.2" font-size="3.8">7.3</tspan></text>
<text x="631.1" y="129.5" font-size="4.6" text-anchor="middle" fill="#333">APC-H</text>
<line x1="580.7" y1="106.6" x2="582.2" y2="106.6" stroke="#444" stroke-width="0.6"/>
<text x="578.3" y="107.2" font-size="4.8" text-anchor="middle" fill="#333" transform="rotate(-90 578.3 107.2)">10<tspan dx="0.5" dy="-2.1" font-size="3.6">-0.1</tspan></text>
<line x1="580.7" y1="80.1" x2="582.2" y2="80.1" stroke="#444" stroke-width="0.6"/>
<text x="578.3" y="80.7" font-size="4.8" text-anchor="middle" fill="#333" transform="rotate(-90 578.3 80.7)">10<tspan dx="0.5" dy="-2.1" font-size="3.6">2</tspan></text>
<line x1="580.7" y1="65.1" x2="582.2" y2="65.1" stroke="#444" stroke-width="0.6"/>
<text x="578.3" y="65.7" font-size="4.8" text-anchor="middle" fill="#333" transform="rotate(-90 578.3 65.7)">10<tspan dx="0.5" dy="-2.1" font-size="3.6">3</tspan></text>
<line x1="580.7" y1="54.5" x2="582.2" y2="54.5" stroke="#444" stroke-width="0.6"/>
<text x="578.3" y="55.1" font-size="4.8" text-anchor="middle" fill="#333" transform="rotate(-90 578.3 55.1)">10<tspan dx="0.5" dy="-2.1" font-size="3.6">4</tspan></text>
<line x1="580.7" y1="42.7" x2="582.2" y2="42.7" stroke="#444" stroke-width="0.6"/>
<text x="578.3" y="43.3" font-size="4.8" text-anchor="middle" fill="#333" transform="rotate(-90 578.3 43.3)">10<tspan dx="0.5" dy="-2.1" font-size="3.6">5</tspan></text>
<line x1="580.7" y1="19.7" x2="582.2" y2="19.7" stroke="#444" stroke-width="0.6"/>
<text x="578.3" y="20.3" font-size="4.8" text-anchor="middle" fill="#333" transform="rotate(-90 578.3 20.3)">10<tspan dx="0.5" dy="-2.1" font-size="3.6">5.8</tspan></text>
<text x="571.2" y="64.6" font-size="4.4" text-anchor="middle" fill="#333" transform="rotate(-90 571.2 64.6)">PerCP-H</text>
<text x="630.4" y="14.5" font-size="8.1" font-weight="bold" text-anchor="middle" fill="#111" stroke="#111" stroke-width="0.35">Mel-1 µM</text>
<path d="M476.3 219.8h.8M491.3 214.4h.8M475.4 220.4h.8M488.7 204.2h.8M473.0 211.1h.8M487.8 220.6h.8M490.8 221.1h.8M491.1 219.3h.8M481.1 216.3h.8M483.9 215.2h.8M490.4 211.0h.8M509.2 208.8h.8M478.6 215.4h.8M496.0 221.6h.8M473.7 209.1h.8M490.5 215.0h.8M494.7 207.7h.8M487.4 208.8h.8M506.0 213.3h.8M477.1 217.7h.8M475.6 204.4h.8M488.7 207.7h.8M498.0 200.4h.8M486.8 215.8h.8M475.7 210.6h.8M495.6 220.2h.8M486.5 218.7h.8M496.9 223.3h.8M478.7 199.0h.8M494.4 208.2h.8M479.8 223.2h.8M488.2 207.9h.8M493.9 217.0h.8M473.3 218.0h.8M499.1 221.4h.8M495.4 203.8h.8M478.2 217.5h.8M480.2 212.7h.8M464.8 229.6h.8M495.3 211.2h.8M472.0 207.3h.8M486.4 205.9h.8M479.3 208.7h.8M492.2 212.5h.8M483.8 210.9h.8M490.6 195.5h.8M478.5 220.2h.8M499.4 209.7h.8M483.7 211.5h.8M469.7 208.4h.8M481.5 216.9h.8M495.5 205.5h.8M496.9 214.2h.8M493.4 215.6h.8M500.6 213.0h.8M474.5 222.8h.8M516.1 218.5h.8M495.1 218.7h.8M475.3 219.0h.8M503.8 206.1h.8M478.5 204.0h.8M485.1 220.4h.8M485.1 205.8h.8M494.3 218.1h.8M487.3 218.6h.8M474.3 235.4h.8M488.9 214.4h.8M485.4 219.3h.8M490.1 214.4h.8M470.8 210.9h.8M494.5 229.1h.8M482.2 200.2h.8M493.4 224.1h.8M487.4 212.5h.8M490.7 213.9h.8M476.4 222.2h.8M487.7 217.7h.8M484.8 207.8h.8M501.0 217.5h.8M500.3 217.3h.8M493.8 220.9h.8M478.5 227.1h.8M495.6 226.6h.8M466.7 213.5h.8M488.1 212.5h.8M476.4 217.8h.8M485.0 197.8h.8M477.2 205.9h.8M519.4 222.3h.8M475.8 220.7h.8M497.2 221.9h.8M510.3 229.2h.8M476.7 220.7h.8M478.4 214.7h.8M492.5 216.7h.8M479.1 223.5h.8M490.4 230.9h.8M498.8 230.8h.8M486.4 205.4h.8M466.3 213.1h.8M464.0 221.1h.8M484.0 229.5h.8M480.7 212.4h.8M495.1 205.8h.8M487.0 206.0h.8M490.5 226.1h.8M483.3 213.6h.8M473.6 213.7h.8M492.5 216.0h.8M488.8 219.4h.8M483.0 229.0h.8M468.2 213.9h.8M470.0 221.2h.8M462.9 239.2h.8M489.1 229.3h.8M474.3 204.3h.8M483.4 211.8h.8M492.6 222.5h.8M488.2 219.8h.8M515.3 211.3h.8M484.7 213.9h.8M485.5 222.3h.8M498.0 209.5h.8M484.6 221.6h.8M479.4 216.9h.8M477.3 202.8h.8M486.9 225.0h.8M488.3 225.1h.8M485.8 208.1h.8M469.1 210.3h.8M501.3 210.9h.8M490.6 235.7h.8M502.4 234.9h.8M505.7 197.1h.8M483.2 217.9h.8M479.0 233.3h.8M488.9 233.7h.8M493.2 212.0h.8M500.6 197.9h.8M476.2 194.3h.8M489.5 208.2h.8M485.0 223.2h.8M494.3 212.2h.8M482.7 224.1h.8M493.1 218.2h.8M469.6 211.5h.8M498.5 209.3h.8M515.5 195.7h.8M475.9 229.0h.8M504.4 232.4h.8M492.3 201.6h.8M493.3 194.3h.8M494.7 180.0h.8M484.7 216.6h.8M498.0 215.6h.8M473.0 207.9h.8M505.6 221.6h.8M471.9 201.5h.8M485.6 207.0h.8M490.8 236.1h.8M486.4 214.9h.8M480.7 199.7h.8M492.9 219.8h.8M482.0 211.8h.8M478.7 209.2h.8M473.0 219.5h.8M479.8 214.0h.8M499.4 202.0h.8M470.1 205.0h.8M467.5 224.5h.8M468.2 225.0h.8M488.4 208.1h.8M506.6 231.4h.8M484.5 228.5h.8M489.9 225.1h.8M482.5 237.3h.8M480.8 228.4h.8M484.3 231.6h.8M498.9 223.4h.8M489.3 234.8h.8M485.5 227.3h.8M477.5 240.5h.8M498.5 230.6h.8M493.3 227.6h.8M493.3 238.6h.8M470.8 232.0h.8M506.0 238.6h.8M488.3 236.2h.8M478.8 219.1h.8M507.7 239.6h.8M480.7 229.9h.8M502.6 237.0h.8M483.6 223.6h.8M487.4 232.9h.8M469.8 234.8h.8M492.7 237.0h.8M481.5 227.8h.8M496.7 235.2h.8M490.7 242.0h.8M511.0 235.5h.8M502.0 241.3h.8M500.3 232.6h.8M483.7 230.1h.8M494.7 235.0h.8M481.2 234.1h.8M496.5 235.8h.8M495.4 227.1h.8M485.0 232.9h.8M480.7 229.7h.8M499.6 233.5h.8M485.6 231.0h.8M499.0 223.2h.8M490.2 236.2h.8M497.3 237.3h.8M482.9 224.3h.8M497.3 225.7h.8M479.5 223.8h.8M482.6 238.5h.8M506.5 232.6h.8M487.1 241.3h.8M469.6 224.1h.8M493.3 237.4h.8M480.7 225.9h.8M481.0 228.8h.8M488.8 234.0h.8M514.4 215.3h.8M521.6 223.6h.8M513.1 212.4h.8M513.1 214.1h.8M503.8 223.7h.8M509.1 215.9h.8M514.1 197.2h.8M518.9 205.6h.8M510.8 203.7h.8M516.8 212.0h.8M511.5 209.7h.8M504.5 216.9h.8M514.0 207.3h.8M515.5 219.0h.8M510.2 210.3h.8M508.9 211.6h.8M510.7 225.0h.8M517.9 217.1h.8M507.9 219.7h.8M510.9 211.2h.8M507.3 214.7h.8M511.6 202.0h.8M518.8 208.6h.8M507.0 216.3h.8M503.1 196.9h.8M511.4 223.8h.8M517.0 210.8h.8M510.2 198.4h.8M504.9 218.3h.8M504.8 211.4h.8M512.5 216.4h.8M515.5 204.3h.8M516.8 209.7h.8M516.1 211.9h.8M508.3 208.8h.8M518.0 203.3h.8M504.2 220.1h.8M505.7 195.2h.8M520.3 179.3h.8M509.7 192.9h.8M515.0 213.1h.8M526.2 156.6h.8M514.7 200.9h.8M504.2 194.7h.8M523.0 181.3h.8M521.4 195.5h.8M516.8 180.6h.8M509.1 202.9h.8M515.4 206.9h.8M513.0 194.3h.8M517.1 176.3h.8M515.4 198.7h.8M513.3 186.3h.8M516.4 196.1h.8M516.0 197.4h.8M512.9 191.6h.8M509.6 212.1h.8M524.2 169.6h.8M521.5 183.3h.8M524.3 192.2h.8M520.8 179.8h.8M508.7 187.0h.8M532.2 186.8h.8M504.2 203.5h.8M517.8 199.4h.8M516.8 203.1h.8M506.0 218.2h.8M516.3 177.7h.8M522.7 181.7h.8M527.3 177.5h.8M515.9 170.2h.8M515.8 208.9h.8M526.1 170.4h.8M524.5 185.5h.8M512.1 199.1h.8M503.9 189.6h.8M519.5 174.9h.8M533.9 174.3h.8M522.6 179.0h.8M521.0 187.7h.8M512.8 187.9h.8M509.4 186.4h.8M513.3 183.7h.8M526.7 201.9h.8M520.1 192.2h.8M524.3 175.4h.8M507.5 219.3h.8M507.2 215.8h.8M508.8 198.1h.8M518.3 182.1h.8M511.0 215.5h.8M505.9 200.3h.8M517.1 181.8h.8M512.7 180.2h.8M516.2 177.1h.8M528.5 176.1h.8M527.8 167.1h.8M528.5 174.5h.8M518.7 184.7h.8M512.9 194.2h.8M520.9 171.2h.8M522.0 170.8h.8M529.9 172.8h.8M527.7 171.1h.8M517.5 172.4h.8M523.2 171.6h.8M528.7 172.7h.8M521.5 171.5h.8M523.0 171.8h.8M515.6 168.4h.8M526.5 176.9h.8M522.4 173.5h.8M527.6 172.1h.8M529.3 172.0h.8M519.9 173.0h.8M515.7 173.5h.8M524.1 169.7h.8M529.0 171.1h.8M520.4 170.7h.8M495.4 186.1h.8M497.6 193.0h.8M508.6 204.6h.8M493.8 173.2h.8M515.5 206.2h.8M491.5 200.4h.8M495.1 184.1h.8M504.7 171.0h.8M507.7 193.5h.8M508.7 200.9h.8M502.2 208.7h.8M504.0 178.2h.8M511.9 208.1h.8M492.5 193.5h.8M511.2 191.9h.8M498.0 193.0h.8M478.6 195.0h.8M493.5 183.3h.8M507.4 193.1h.8M491.9 205.5h.8M496.4 185.4h.8M519.8 199.3h.8M484.0 191.5h.8M521.9 200.5h.8M503.5 196.0h.8M516.6 209.0h.8M531.2 165.1h.8M521.0 191.0h.8M515.1 197.5h.8M518.6 185.9h.8M511.7 195.8h.8M522.2 193.2h.8M537.8 208.1h.8M527.5 186.4h.8M513.1 204.6h.8M518.5 192.5h.8M531.4 194.1h.8M524.3 171.8h.8M515.2 208.6h.8M512.9 197.8h.8" stroke="#4040ff" stroke-width=".8"/>
<path d="M494.0 217.1h.8M501.2 212.0h.8M469.7 221.5h.8M486.4 220.4h.8M499.2 208.3h.8M465.1 216.5h.8M507.7 203.3h.8M489.7 211.3h.8M498.6 216.5h.8M473.1 206.2h.8M480.9 213.0h.8M484.2 207.1h.8M479.1 203.2h.8M482.4 223.0h.8M475.6 208.6h.8M476.2 206.8h.8M470.6 210.6h.8M493.6 220.1h.8M490.9 223.2h.8M471.4 205.3h.8M479.9 229.1h.8M463.0 198.5h.8M490.3 207.6h.8M494.7 217.1h.8M472.6 213.5h.8M466.4 209.5h.8M483.1 211.0h.8M477.1 231.7h.8M480.0 217.0h.8M489.2 226.3h.8M513.7 210.6h.8M494.0 213.1h.8M497.9 217.6h.8M478.9 236.7h.8M471.9 231.7h.8M485.8 229.6h.8M482.0 217.9h.8M490.6 214.6h.8M483.4 210.2h.8M493.9 223.6h.8M525.9 217.3h.8M480.3 211.7h.8M489.7 217.6h.8M475.1 210.4h.8M480.5 203.9h.8M484.7 218.7h.8M461.6 220.6h.8M482.7 227.5h.8M471.9 218.8h.8M491.0 216.7h.8M486.7 201.2h.8M480.9 211.0h.8M484.3 212.4h.8M492.2 201.7h.8M492.9 221.9h.8M489.4 213.7h.8M489.4 231.7h.8M493.8 230.1h.8M474.7 219.0h.8M495.2 197.3h.8M484.0 216.9h.8M493.1 197.7h.8M486.3 219.1h.8M496.3 224.3h.8M482.9 215.6h.8M489.2 212.6h.8M500.3 224.2h.8M489.3 200.7h.8M494.0 200.3h.8M472.5 218.2h.8M498.7 196.9h.8M500.3 216.6h.8M473.1 212.7h.8M481.0 207.1h.8M497.4 220.7h.8M476.6 212.0h.8M491.3 214.2h.8M483.0 207.8h.8M506.1 204.4h.8M490.5 199.4h.8M498.3 204.3h.8M479.4 201.9h.8M483.1 220.1h.8M490.3 207.6h.8M486.9 216.9h.8M490.4 221.4h.8M474.4 201.9h.8M487.3 210.0h.8M483.2 224.6h.8M464.9 219.5h.8M477.5 223.0h.8M505.9 215.7h.8M483.5 217.7h.8M479.9 215.7h.8M465.4 223.6h.8M494.0 225.5h.8M500.9 205.0h.8M490.3 218.9h.8M524.6 222.0h.8M474.3 227.2h.8M475.6 217.8h.8M487.2 222.6h.8M494.1 214.1h.8M502.2 238.7h.8M485.1 221.8h.8M490.4 189.2h.8M465.8 201.0h.8M480.1 196.6h.8M484.6 199.7h.8M486.5 215.3h.8M488.2 211.0h.8M516.4 217.6h.8M481.3 226.6h.8M473.6 221.6h.8M474.5 208.1h.8M477.7 227.8h.8M499.1 203.2h.8M475.4 218.4h.8M495.2 211.2h.8M505.5 210.1h.8M494.3 201.3h.8M495.9 208.9h.8M471.3 213.8h.8M491.5 194.0h.8M492.2 206.5h.8M481.3 186.3h.8M493.1 230.4h.8M482.3 204.8h.8M496.0 233.6h.8M491.9 239.9h.8M502.8 226.6h.8M504.8 228.2h.8M488.6 215.4h.8M490.8 203.7h.8M486.8 227.4h.8M492.5 214.3h.8M466.8 223.9h.8M490.2 219.2h.8M478.7 230.3h.8M467.7 209.2h.8M504.5 214.4h.8M484.0 229.5h.8M479.2 215.5h.8M492.3 215.5h.8M472.5 213.0h.8M524.4 218.4h.8M476.1 213.1h.8M491.2 215.7h.8M478.9 219.7h.8M502.7 220.6h.8M490.7 208.2h.8M491.8 216.8h.8M502.6 228.8h.8M461.9 242.8h.8M484.2 221.4h.8M479.5 218.8h.8M511.1 217.5h.8M478.8 213.6h.8M475.9 229.2h.8M472.8 214.0h.8M467.6 217.8h.8M492.0 239.6h.8M474.6 223.4h.8M477.6 225.8h.8M470.5 226.0h.8M487.3 204.0h.8M483.9 201.9h.8M498.2 223.8h.8M493.3 202.6h.8M492.4 228.5h.8M489.9 223.0h.8M492.9 213.1h.8M470.5 224.5h.8M488.3 232.5h.8M494.1 236.6h.8M494.2 238.4h.8M480.4 230.7h.8M483.9 228.8h.8M488.4 222.4h.8M488.7 239.3h.8M498.3 240.5h.8M476.1 238.3h.8M494.7 226.0h.8M470.4 243.9h.8M495.1 224.3h.8M475.8 235.4h.8M480.3 233.9h.8M480.9 240.4h.8M478.1 230.9h.8M480.7 239.1h.8M498.4 231.4h.8M477.8 229.0h.8M484.3 230.2h.8M489.4 228.9h.8M471.7 236.1h.8M492.9 222.5h.8M487.2 231.9h.8M485.6 221.7h.8M486.1 230.2h.8M495.4 230.1h.8M463.7 232.4h.8M499.5 235.7h.8M494.0 236.3h.8M469.3 232.9h.8M487.1 233.2h.8M493.9 227.3h.8M482.5 232.9h.8M507.0 233.8h.8M487.4 236.1h.8M504.9 230.4h.8M478.4 235.9h.8M491.7 233.0h.8M479.5 241.6h.8M485.5 240.5h.8M477.5 228.4h.8M475.1 236.5h.8M487.9 229.9h.8M479.6 229.4h.8M498.5 227.2h.8M468.4 239.2h.8M510.4 232.3h.8M500.0 227.2h.8M482.0 225.2h.8M487.5 235.3h.8M515.7 202.2h.8M505.1 222.3h.8M508.6 214.3h.8M515.1 214.2h.8M512.1 215.4h.8M510.1 204.9h.8M520.8 201.1h.8M515.4 226.6h.8M510.5 210.7h.8M522.4 222.5h.8M511.4 202.6h.8M509.3 211.0h.8M508.2 217.6h.8M512.1 215.3h.8M512.0 214.5h.8M506.9 213.3h.8M501.6 223.0h.8M499.7 226.1h.8M518.6 200.9h.8M511.9 203.8h.8M512.9 210.4h.8M518.4 201.0h.8M512.5 215.6h.8M506.9 234.5h.8M510.6 225.4h.8M510.5 218.1h.8M505.0 203.9h.8M522.9 216.2h.8M509.4 230.2h.8M513.8 220.8h.8M513.5 206.1h.8M512.9 221.0h.8M509.2 197.4h.8M512.4 212.1h.8M511.8 216.0h.8M518.7 205.0h.8M514.9 209.5h.8M507.4 207.8h.8M507.0 200.7h.8M501.3 204.7h.8M517.9 190.4h.8M519.6 182.8h.8M523.3 189.8h.8M510.1 202.3h.8M507.7 208.0h.8M514.0 173.8h.8M511.8 180.0h.8M518.1 197.1h.8M521.2 156.2h.8M527.9 168.5h.8M510.0 189.0h.8M509.1 188.7h.8M514.6 203.6h.8M508.6 208.3h.8M519.5 195.7h.8M512.2 212.1h.8M516.1 184.0h.8M507.0 201.8h.8M516.2 200.8h.8M524.7 192.9h.8M527.2 174.0h.8M522.7 187.3h.8M512.7 194.9h.8M518.0 181.0h.8M523.3 188.1h.8M509.1 215.2h.8M520.2 194.1h.8M510.2 193.9h.8M510.8 206.2h.8M527.3 181.0h.8M522.6 183.2h.8M517.9 204.8h.8M528.3 174.3h.8M523.8 196.6h.8M516.2 189.4h.8M513.1 190.7h.8M524.0 173.8h.8M524.5 171.1h.8M524.6 185.4h.8M500.7 216.7h.8M518.5 180.0h.8M513.9 175.1h.8M520.3 219.2h.8M522.3 168.6h.8M514.6 211.8h.8M519.8 193.9h.8M508.6 204.9h.8M520.1 176.1h.8M511.0 200.5h.8M522.4 172.9h.8M507.6 208.1h.8M511.5 203.0h.8M529.0 179.6h.8M521.1 180.2h.8M519.1 195.4h.8M513.3 188.4h.8M525.6 182.7h.8M522.5 201.7h.8M515.0 202.4h.8M506.9 201.9h.8M520.7 178.3h.8M530.9 170.7h.8M527.1 168.3h.8M516.4 168.8h.8M518.2 174.3h.8M527.6 171.9h.8M524.6 170.8h.8M527.6 170.7h.8M518.3 169.5h.8M527.2 173.0h.8M521.1 169.8h.8M526.1 171.6h.8M532.3 170.8h.8M527.9 170.2h.8M532.9 172.4h.8M529.3 172.0h.8M527.7 171.2h.8M526.7 171.4h.8M536.5 171.9h.8M531.3 170.9h.8M496.4 195.5h.8M495.5 199.3h.8M483.4 184.4h.8M507.8 197.7h.8M493.4 207.7h.8M482.5 205.4h.8M490.0 198.8h.8M496.3 206.9h.8M493.0 200.3h.8M508.1 199.7h.8M511.7 186.1h.8M504.9 194.4h.8M511.6 196.1h.8M481.3 187.9h.8M515.8 195.2h.8M501.0 203.4h.8M495.8 184.2h.8M511.7 208.5h.8M496.8 181.4h.8M503.5 203.0h.8M513.3 209.1h.8M492.4 196.9h.8M494.9 190.2h.8M507.5 210.5h.8M494.4 184.3h.8M515.6 197.4h.8M536.1 198.1h.8M515.7 197.3h.8M511.4 199.3h.8M517.3 188.3h.8M508.3 173.6h.8M517.1 169.5h.8M513.8 200.8h.8M512.3 192.1h.8M517.0 166.4h.8M542.4 211.5h.8M507.0 206.6h.8M516.9 206.1h.8M515.9 178.6h.8M526.2 176.0h.8" stroke="#3434ee" stroke-width=".8"/>
<path d="M484.4 214.0h.8M495.3 213.4h.8M491.7 225.3h.8M510.8 211.0h.8M496.4 218.0h.8M481.5 216.0h.8M477.4 223.6h.8M466.7 210.7h.8M481.0 202.9h.8M484.9 207.4h.8M480.3 218.9h.8M491.7 215.5h.8M461.7 223.5h.8M480.4 216.6h.8M479.6 211.0h.8M491.7 213.3h.8M475.6 208.8h.8M489.1 213.6h.8M500.9 208.9h.8M480.7 206.1h.8M481.4 215.9h.8M485.6 213.4h.8M478.9 222.5h.8M486.6 217.3h.8M478.5 225.4h.8M481.7 205.1h.8M470.0 233.4h.8M490.9 206.9h.8M493.5 211.1h.8M479.6 210.3h.8M478.8 218.1h.8M475.7 213.2h.8M475.8 201.8h.8M496.2 221.4h.8M498.1 210.8h.8M482.0 203.2h.8M494.1 214.2h.8M484.0 199.7h.8M479.6 225.7h.8M476.9 240.7h.8M491.2 221.1h.8M466.2 206.2h.8M483.5 231.0h.8M473.6 216.0h.8M499.3 223.1h.8M486.2 216.9h.8M496.2 215.6h.8M466.5 242.6h.8M492.8 221.7h.8M495.0 212.4h.8M471.7 211.0h.8M510.1 221.7h.8M472.0 218.1h.8M468.1 221.9h.8M494.8 216.5h.8M483.0 201.8h.8M496.9 208.2h.8M480.7 225.1h.8M499.0 213.3h.8M489.8 208.3h.8M477.4 236.2h.8M514.9 216.4h.8M478.2 227.5h.8M489.6 212.3h.8M473.3 212.7h.8M474.2 227.5h.8M495.3 216.1h.8M484.4 225.2h.8M473.2 214.3h.8M487.4 218.3h.8M482.9 205.9h.8M500.0 199.0h.8M485.1 221.1h.8M483.6 203.0h.8M469.0 223.9h.8M484.1 202.3h.8M468.4 215.1h.8M502.2 208.8h.8M472.0 220.7h.8M477.7 214.1h.8M490.3 205.3h.8M498.8 226.0h.8M493.4 204.1h.8M487.9 210.3h.8M467.0 203.4h.8M470.2 223.1h.8M491.6 209.1h.8M482.5 209.4h.8M482.1 220.4h.8M490.6 216.4h.8M474.1 212.7h.8M505.5 241.7h.8M511.9 215.5h.8M502.1 212.5h.8M502.5 206.9h.8M483.0 211.8h.8M465.3 232.4h.8M488.5 211.7h.8M509.3 216.1h.8M497.5 226.1h.8M476.0 239.0h.8M503.0 193.4h.8M474.8 225.0h.8M482.4 201.8h.8M500.9 208.4h.8M471.6 224.7h.8M463.2 228.5h.8M476.5 218.2h.8M497.7 209.0h.8M471.5 218.3h.8M494.8 217.0h.8M495.6 232.1h.8M467.3 219.9h.8M494.0 231.9h.8M511.7 220.2h.8M479.9 208.5h.8M503.9 217.8h.8M490.6 209.8h.8M484.0 228.6h.8M511.6 214.6h.8M506.6 219.2h.8M483.7 221.4h.8M505.8 223.0h.8M483.1 210.8h.8M482.1 208.0h.8M496.9 215.6h.8M489.5 232.0h.8M486.7 215.5h.8M498.6 215.2h.8M505.6 218.9h.8M489.7 219.4h.8M506.7 228.1h.8M473.3 209.9h.8M477.7 227.3h.8M506.0 207.3h.8M509.5 235.7h.8M507.9 223.8h.8M487.3 228.6h.8M495.8 226.6h.8M473.4 228.0h.8M490.7 221.2h.8M495.5 211.9h.8M498.7 210.9h.8M477.9 211.2h.8M483.1 196.4h.8M512.1 208.8h.8M483.8 224.7h.8M483.4 236.9h.8M481.5 234.3h.8M463.7 233.1h.8M478.2 223.2h.8M515.1 215.9h.8M477.2 227.4h.8M466.8 228.1h.8M474.7 233.2h.8M486.0 208.8h.8M481.7 209.3h.8M497.2 230.4h.8M469.4 207.3h.8M491.0 219.1h.8M476.9 224.6h.8M471.5 217.6h.8M484.7 207.2h.8M502.7 204.1h.8M480.7 234.3h.8M523.0 209.2h.8M517.5 203.0h.8M484.2 223.8h.8M487.6 203.6h.8M503.3 200.3h.8M508.1 228.1h.8M479.8 211.6h.8M472.4 226.1h.8M464.9 234.1h.8M486.4 230.2h.8M487.8 235.0h.8M482.5 225.7h.8M497.3 239.4h.8M489.8 221.4h.8M478.9 232.4h.8M484.7 233.3h.8M484.5 230.8h.8M496.8 231.7h.8M481.6 221.8h.8M490.7 237.8h.8M505.7 238.2h.8M480.3 235.3h.8M479.0 222.3h.8M494.5 239.2h.8M467.4 243.0h.8M475.7 237.6h.8M492.6 228.5h.8M488.2 233.4h.8M497.3 219.9h.8M479.6 234.0h.8M489.2 233.4h.8M488.1 236.0h.8M495.7 221.5h.8M487.0 220.6h.8M492.1 220.8h.8M490.7 238.1h.8M484.9 230.8h.8M492.3 231.7h.8M482.4 233.3h.8M496.5 212.5h.8M478.6 234.6h.8M475.7 225.6h.8M471.4 241.6h.8M486.3 234.5h.8M483.1 230.4h.8M485.3 233.8h.8M494.6 238.5h.8M500.4 232.2h.8M496.4 231.0h.8M482.5 223.6h.8M486.2 232.5h.8M477.4 232.1h.8M497.0 234.5h.8M487.8 233.7h.8M488.3 222.3h.8M491.5 223.6h.8M492.3 230.5h.8M497.2 237.8h.8M491.2 233.1h.8M514.2 231.0h.8M512.0 207.1h.8M507.4 201.3h.8M510.5 221.1h.8M513.9 216.4h.8M510.5 218.8h.8M505.4 218.7h.8M513.4 206.9h.8M516.5 203.4h.8M518.3 226.9h.8M513.1 211.4h.8M505.8 221.3h.8M515.6 207.7h.8M512.7 201.7h.8M505.6 213.5h.8M513.0 220.6h.8M518.7 202.4h.8M508.6 213.5h.8M523.4 205.4h.8M513.8 206.0h.8M504.3 206.2h.8M510.6 222.1h.8M511.0 225.7h.8M508.8 215.7h.8M517.8 219.7h.8M507.0 206.3h.8M511.0 210.4h.8M506.7 206.0h.8M505.4 227.1h.8M520.0 206.1h.8M516.2 214.9h.8M506.8 207.7h.8M514.1 223.7h.8M514.1 209.2h.8M496.9 212.6h.8M517.1 215.5h.8M515.9 227.6h.8M516.4 220.7h.8M524.9 166.8h.8M505.7 189.2h.8M499.0 211.8h.8M524.3 181.7h.8M512.9 193.0h.8M502.2 205.4h.8M510.0 182.5h.8M509.6 200.4h.8M505.6 198.5h.8M517.6 186.8h.8M512.5 194.0h.8M525.3 176.5h.8M522.4 173.4h.8M525.4 176.1h.8M511.4 215.6h.8M513.2 206.1h.8M518.8 188.7h.8M521.4 176.3h.8M512.9 195.8h.8M504.0 196.4h.8M519.9 199.6h.8M510.0 199.9h.8M521.8 188.3h.8M507.8 205.3h.8M507.2 195.9h.8M514.1 202.3h.8M503.1 201.3h.8M508.7 193.2h.8M506.4 190.3h.8M514.1 209.2h.8M516.1 172.3h.8M514.6 188.4h.8M513.6 203.3h.8M511.7 201.7h.8M526.9 174.8h.8M509.9 207.1h.8M520.6 167.4h.8M507.0 200.7h.8M523.1 191.1h.8M524.3 186.7h.8M520.2 203.8h.8M510.2 209.4h.8M518.6 190.1h.8M521.8 178.6h.8M514.1 205.0h.8M510.9 209.9h.8M503.4 209.4h.8M518.9 180.3h.8M517.6 207.1h.8M504.5 187.7h.8M511.4 222.0h.8M518.4 175.4h.8M524.8 182.1h.8M506.3 210.9h.8M511.7 200.3h.8M520.8 190.7h.8M509.0 201.8h.8M520.0 173.6h.8M502.0 198.1h.8M518.2 207.4h.8M500.6 220.1h.8M512.4 182.4h.8M511.6 214.3h.8M520.4 172.6h.8M530.8 170.1h.8M529.3 171.0h.8M525.4 170.5h.8M525.0 172.8h.8M526.3 171.3h.8M527.5 169.6h.8M518.3 170.6h.8M520.9 173.0h.8M527.0 170.2h.8M525.8 169.7h.8M535.7 172.4h.8M523.9 174.3h.8M529.8 170.5h.8M524.9 170.1h.8M526.3 171.5h.8M527.3 173.4h.8M525.9 170.5h.8M527.2 171.9h.8M504.1 181.5h.8M508.8 180.4h.8M485.9 170.8h.8M499.8 194.2h.8M510.1 206.4h.8M494.4 204.8h.8M504.2 196.5h.8M500.4 198.1h.8M516.5 202.0h.8M512.6 201.0h.8M516.8 200.0h.8M482.7 202.8h.8M510.9 198.8h.8M493.4 197.3h.8M522.9 197.4h.8M515.7 186.4h.8M489.4 189.2h.8M490.2 188.2h.8M493.3 202.7h.8M484.2 186.4h.8M491.9 177.0h.8M500.3 178.5h.8M487.1 209.7h.8M493.7 183.6h.8M499.9 208.4h.8M528.7 197.6h.8M525.4 161.0h.8M524.8 194.0h.8M527.0 194.3h.8M529.1 201.0h.8M510.1 195.4h.8M519.4 187.6h.8M523.3 191.1h.8M520.9 213.8h.8M526.5 204.0h.8M523.6 192.8h.8M533.2 201.0h.8M529.5 183.9h.8M506.4 193.8h.8M519.7 200.0h.8" stroke="#5050ff" stroke-width=".8"/>
<path d="M490.3 199.5h.8M502.7 194.9h.8M482.0 216.9h.8M492.2 226.1h.8M471.8 208.9h.8M501.8 208.1h.8M479.4 205.8h.8M475.7 218.0h.8M480.4 214.2h.8M482.1 206.4h.8M478.5 206.2h.8M489.2 209.6h.8M475.8 202.5h.8M492.6 200.9h.8M491.5 216.1h.8M481.1 215.8h.8M493.7 203.6h.8M480.8 216.1h.8M477.0 223.6h.8M473.9 214.8h.8M486.4 213.2h.8M485.9 208.4h.8M478.3 227.3h.8M495.8 236.4h.8M489.8 219.8h.8M473.7 203.8h.8M474.3 202.7h.8M496.0 217.0h.8M473.5 224.2h.8M487.6 225.9h.8M476.6 217.4h.8M472.2 220.3h.8M478.7 213.8h.8M470.2 227.4h.8M485.0 210.3h.8M477.9 215.2h.8M481.9 224.2h.8M500.2 208.2h.8M496.4 208.6h.8M481.2 224.0h.8M469.5 214.9h.8M464.2 203.9h.8M498.2 223.6h.8M496.5 228.9h.8M467.3 197.1h.8M483.0 211.7h.8M496.4 234.3h.8M476.1 210.6h.8M482.2 209.4h.8M472.2 219.6h.8M508.8 210.1h.8M490.2 218.6h.8M484.2 212.8h.8M492.8 222.9h.8M502.1 216.7h.8M490.3 217.5h.8M489.0 206.8h.8M482.6 215.3h.8M498.7 207.0h.8M478.8 227.4h.8M499.5 213.6h.8M497.6 232.9h.8M473.4 203.5h.8M495.3 207.8h.8M476.4 223.6h.8M494.4 224.3h.8M478.6 208.7h.8M464.0 201.2h.8M494.6 205.9h.8M480.0 225.2h.8M471.9 212.2h.8M465.0 209.6h.8M476.2 222.2h.8M476.7 227.5h.8M482.6 214.6h.8M493.8 225.7h.8M486.7 211.9h.8M477.9 214.0h.8M482.6 206.6h.8M494.5 197.0h.8M467.7 229.0h.8M511.9 202.4h.8M492.3 200.8h.8M496.2 207.7h.8M462.5 225.2h.8M478.1 227.8h.8M488.1 218.0h.8M481.7 233.0h.8M482.9 199.5h.8M498.5 209.6h.8M486.4 224.2h.8M497.5 200.9h.8M473.0 212.6h.8M500.7 224.8h.8M528.1 222.1h.8M481.0 228.0h.8M482.1 237.6h.8M512.8 222.4h.8M489.1 201.8h.8M478.1 226.2h.8M477.9 204.9h.8M481.3 218.8h.8M493.4 210.6h.8M468.5 218.1h.8M504.4 220.6h.8M485.4 213.7h.8M475.4 222.6h.8M482.3 224.1h.8M472.9 200.8h.8M482.6 212.5h.8M467.9 225.8h.8M484.3 213.3h.8M490.6 228.3h.8M490.4 214.0h.8M474.4 197.6h.8M469.9 236.6h.8M494.5 212.1h.8M470.5 220.5h.8M470.6 222.2h.8M475.4 213.2h.8M470.0 239.4h.8M464.4 232.6h.8M495.2 213.7h.8M491.0 233.2h.8M470.2 204.9h.8M493.6 228.1h.8M491.5 213.3h.8M472.1 220.3h.8M477.7 215.9h.8M495.9 221.6h.8M474.8 223.9h.8M499.8 198.0h.8M514.6 197.6h.8M509.8 203.7h.8M477.5 218.6h.8M506.0 208.6h.8M491.4 214.4h.8M464.7 233.0h.8M490.6 216.4h.8M504.9 234.5h.8M481.7 206.0h.8M471.3 207.1h.8M470.0 219.8h.8M470.1 237.4h.8M501.8 222.6h.8M466.1 220.9h.8M478.1 211.1h.8M512.1 217.9h.8M498.2 197.6h.8M497.2 232.0h.8M481.1 243.4h.8M492.8 218.9h.8M492.4 222.9h.8M500.0 225.7h.8M496.7 231.8h.8M462.7 228.4h.8M493.9 215.5h.8M471.0 188.8h.8M481.1 201.4h.8M479.3 220.9h.8M489.4 217.9h.8M477.6 216.5h.8M470.1 221.2h.8M477.3 237.2h.8M505.1 198.6h.8M499.3 230.6h.8M481.2 222.7h.8M500.9 195.1h.8M478.7 207.1h.8M472.2 208.3h.8M488.1 227.3h.8M491.6 220.9h.8M490.1 212.6h.8M477.5 231.3h.8M481.4 230.8h.8M490.5 228.1h.8M486.1 228.6h.8M501.7 231.2h.8M488.7 232.2h.8M478.9 230.3h.8M493.9 236.1h.8M489.3 237.4h.8M489.6 223.0h.8M506.0 220.3h.8M493.6 230.8h.8M499.4 240.2h.8M488.3 240.4h.8M484.2 227.6h.8M484.9 234.6h.8M476.1 243.3h.8M482.3 218.5h.8M488.1 231.1h.8M489.4 239.9h.8M483.7 240.0h.8M487.0 231.4h.8M478.0 233.9h.8M497.0 224.6h.8M490.9 239.1h.8M493.2 229.3h.8M499.0 221.6h.8M482.4 218.8h.8M502.3 216.4h.8M478.2 234.5h.8M490.2 229.9h.8M492.4 230.1h.8M485.6 228.5h.8M484.6 231.4h.8M503.8 229.3h.8M486.8 226.8h.8M476.4 239.2h.8M465.9 235.3h.8M473.5 234.6h.8M479.2 231.8h.8M487.1 230.5h.8M486.6 242.7h.8M487.2 234.1h.8M474.4 227.5h.8M488.7 231.3h.8M483.2 236.4h.8M490.3 223.6h.8M495.5 221.3h.8M506.2 236.9h.8M497.9 236.2h.8M486.4 226.7h.8M517.7 213.7h.8M521.2 204.6h.8M513.2 213.4h.8M513.0 222.1h.8M504.7 212.2h.8M516.0 211.2h.8M509.2 235.0h.8M510.4 221.7h.8M505.3 210.5h.8M516.5 202.1h.8M515.6 214.0h.8M510.1 210.8h.8M509.9 201.9h.8M512.6 211.2h.8M508.5 219.9h.8M502.9 220.3h.8M509.9 202.0h.8M507.2 196.7h.8M509.0 224.7h.8M507.4 210.2h.8M513.3 219.7h.8M503.5 201.3h.8M516.7 209.7h.8M522.0 213.7h.8M507.3 207.6h.8M509.5 196.5h.8M509.3 201.4h.8M509.7 207.1h.8M513.4 215.8h.8M510.2 206.0h.8M512.5 219.6h.8M518.3 207.9h.8M507.5 203.8h.8M501.0 206.8h.8M519.4 209.9h.8M506.7 202.6h.8M511.3 208.3h.8M517.8 209.2h.8M507.8 197.3h.8M507.9 190.9h.8M530.8 194.1h.8M519.7 165.9h.8M509.5 183.8h.8M514.6 189.4h.8M512.6 186.5h.8M514.9 176.3h.8M518.4 186.8h.8M509.9 188.4h.8M522.2 184.0h.8M517.3 176.3h.8M511.7 210.6h.8M519.0 181.6h.8M524.5 179.1h.8M514.9 205.3h.8M511.3 214.5h.8M521.5 177.5h.8M515.2 190.2h.8M525.3 177.8h.8M507.9 197.1h.8M509.3 184.2h.8M517.0 190.1h.8M521.7 186.6h.8M522.4 185.0h.8M511.4 193.6h.8M508.8 202.0h.8M519.4 178.8h.8M530.3 169.6h.8M518.8 203.8h.8M514.9 179.4h.8M526.0 190.3h.8M528.3 185.2h.8M513.0 173.0h.8M524.9 175.1h.8M519.5 211.2h.8M518.0 207.4h.8M508.2 210.0h.8M528.6 178.9h.8M524.6 178.6h.8M509.1 218.3h.8M520.5 174.0h.8M520.3 187.8h.8M507.1 216.9h.8M522.9 196.6h.8M521.6 178.6h.8M529.8 176.8h.8M521.2 201.8h.8M516.6 196.0h.8M518.7 188.2h.8M519.3 194.5h.8M520.9 195.2h.8M516.3 189.0h.8M511.1 197.9h.8M520.9 184.0h.8M527.7 180.2h.8M514.1 193.0h.8M504.8 203.7h.8M511.4 191.7h.8M513.2 200.4h.8M517.2 203.4h.8M521.4 174.2h.8M522.8 172.9h.8M527.4 170.6h.8M532.4 171.0h.8M525.4 171.5h.8M514.4 173.1h.8M515.8 171.5h.8M523.3 171.3h.8M523.9 170.6h.8M533.6 171.7h.8M529.8 170.2h.8M517.4 171.1h.8M517.7 172.6h.8M528.7 171.4h.8M528.9 168.7h.8M524.1 172.4h.8M521.2 170.3h.8M519.4 173.8h.8M524.1 171.9h.8M530.5 170.7h.8M526.9 171.4h.8M516.8 191.8h.8M507.2 201.8h.8M485.7 199.3h.8M504.9 207.7h.8M483.0 197.5h.8M490.2 201.5h.8M489.2 189.0h.8M495.4 212.1h.8M505.1 200.9h.8M499.4 214.9h.8M493.4 195.3h.8M520.8 199.2h.8M505.7 197.3h.8M504.6 191.9h.8M491.3 194.9h.8M509.1 186.2h.8M494.3 213.9h.8M495.0 191.2h.8M504.3 192.3h.8M495.5 205.9h.8M487.2 191.6h.8M490.9 210.8h.8M510.3 210.4h.8M504.2 184.6h.8M495.6 212.4h.8M524.1 192.0h.8M529.9 181.3h.8M523.8 195.4h.8M533.9 191.2h.8M530.3 211.8h.8M525.8 195.6h.8M509.7 175.8h.8M526.2 193.5h.8M511.9 173.9h.8M497.3 196.4h.8M531.6 207.3h.8M523.8 201.6h.8M514.0 205.3h.8M524.1 204.5h.8" stroke="#2c2ce0" stroke-width=".8"/>
<path d="M501.1 210.4h.8M472.3 220.9h.8M495.9 225.4h.8M484.6 210.7h.8M483.1 222.0h.8M465.4 232.0h.8M487.5 216.9h.8M486.1 219.0h.8M507.2 204.4h.8M493.5 209.8h.8M501.2 225.9h.8M478.7 209.8h.8M490.4 207.2h.8M509.6 208.4h.8M474.6 221.3h.8M479.7 221.2h.8M494.1 216.1h.8M494.9 214.9h.8M487.1 219.4h.8M475.9 215.9h.8M469.9 219.9h.8M480.8 216.4h.8M488.4 213.9h.8M489.7 229.0h.8M474.4 224.0h.8M488.7 209.2h.8M476.9 213.7h.8M474.7 221.9h.8M489.1 215.6h.8M476.8 195.7h.8M486.8 223.8h.8M473.1 216.1h.8M484.6 216.3h.8M489.3 211.5h.8M478.4 203.3h.8M474.8 222.8h.8M488.4 203.3h.8M488.0 213.6h.8M485.1 229.5h.8M485.4 227.7h.8M467.9 218.9h.8M485.1 221.4h.8M462.8 211.5h.8M461.7 230.6h.8M489.1 219.8h.8M467.3 206.9h.8M467.9 214.4h.8M491.8 213.3h.8M478.7 213.8h.8M481.2 213.6h.8M488.1 216.6h.8M463.1 211.3h.8M474.0 208.0h.8M497.5 221.7h.8M484.3 216.6h.8M479.9 221.9h.8M480.7 212.3h.8M493.0 227.4h.8M482.6 214.0h.8M494.2 212.6h.8M486.6 236.4h.8M466.4 221.4h.8M505.6 215.6h.8M491.2 220.8h.8M484.5 211.7h.8M468.1 220.8h.8M500.8 215.5h.8M491.8 217.2h.8M477.1 219.2h.8M503.5 206.6h.8M465.6 202.2h.8M488.2 221.6h.8M486.8 219.5h.8M486.2 219.3h.8M492.0 205.3h.8M468.2 231.9h.8M502.3 209.8h.8M482.9 215.7h.8M490.7 205.7h.8M486.6 219.9h.8M496.3 217.3h.8M495.7 214.7h.8M487.8 224.7h.8M489.9 202.0h.8M483.6 207.8h.8M493.4 199.3h.8M472.5 205.6h.8M478.4 206.2h.8M474.8 217.8h.8M472.8 214.2h.8M479.8 230.3h.8M465.3 226.2h.8M503.7 218.8h.8M487.5 232.2h.8M501.8 212.5h.8M506.2 214.6h.8M473.9 241.6h.8M481.0 201.7h.8M496.9 206.3h.8M481.9 219.2h.8M512.8 225.3h.8M496.4 217.5h.8M480.7 223.2h.8M470.7 206.9h.8M485.9 212.1h.8M490.7 214.8h.8M474.7 208.9h.8M464.2 219.4h.8M495.6 209.5h.8M483.9 213.8h.8M490.8 207.1h.8M523.0 183.3h.8M472.6 220.7h.8M495.4 224.5h.8M490.8 205.6h.8M497.4 207.2h.8M487.5 216.5h.8M495.4 236.9h.8M498.3 211.2h.8M507.8 218.2h.8M505.7 203.1h.8M481.4 212.6h.8M463.3 208.3h.8M499.9 212.5h.8M492.2 206.5h.8M490.4 224.4h.8M478.0 240.4h.8M511.5 209.1h.8M477.4 226.4h.8M464.4 204.6h.8M462.2 200.1h.8M501.4 220.9h.8M514.3 209.4h.8M473.8 219.2h.8M490.3 207.8h.8M488.8 216.8h.8M509.7 215.3h.8M501.1 224.4h.8M479.9 216.1h.8M500.8 217.6h.8M495.9 217.0h.8M507.7 216.0h.8M465.7 212.6h.8M518.7 221.4h.8M487.0 225.3h.8M500.4 219.7h.8M495.6 200.0h.8M487.9 224.5h.8M502.5 216.3h.8M470.4 221.0h.8M481.7 222.0h.8M496.8 223.6h.8M478.3 208.1h.8M491.8 218.4h.8M503.8 229.0h.8M467.4 210.8h.8M485.0 235.3h.8M476.7 218.6h.8M505.3 213.3h.8M493.6 208.2h.8M489.7 215.3h.8M480.8 227.2h.8M496.8 222.1h.8M505.9 227.7h.8M492.5 216.7h.8M504.6 203.7h.8M493.4 229.9h.8M480.2 222.4h.8M486.0 215.7h.8M477.4 197.2h.8M506.9 228.7h.8M472.4 212.4h.8M474.2 213.4h.8M494.7 232.1h.8M489.0 229.8h.8M493.3 236.1h.8M501.5 239.2h.8M492.4 234.6h.8M496.9 220.7h.8M487.9 235.2h.8M486.9 230.3h.8M475.8 233.7h.8M495.2 240.1h.8M480.9 220.9h.8M512.4 227.7h.8M483.2 227.8h.8M483.6 232.7h.8M496.7 224.0h.8M508.5 229.3h.8M491.0 233.3h.8M489.0 229.6h.8M490.1 228.4h.8M476.1 242.1h.8M504.4 231.9h.8M500.4 232.0h.8M497.1 228.9h.8M496.5 237.1h.8M483.0 232.1h.8M481.0 227.0h.8M487.8 230.4h.8M472.4 233.1h.8M509.3 228.3h.8M478.7 228.1h.8M491.3 232.5h.8M498.7 236.7h.8M485.9 234.5h.8M472.1 232.5h.8M474.3 235.1h.8M493.5 235.6h.8M468.7 232.2h.8M498.3 236.4h.8M491.6 237.3h.8M484.4 213.8h.8M477.5 238.0h.8M493.0 235.1h.8M494.9 228.3h.8M494.4 228.4h.8M516.7 234.3h.8M511.9 233.6h.8M493.4 215.4h.8M497.4 225.9h.8M484.8 226.4h.8M481.9 234.6h.8M483.9 233.8h.8M509.0 199.8h.8M515.6 212.9h.8M504.1 208.9h.8M507.9 234.3h.8M502.4 230.7h.8M510.1 224.7h.8M512.6 211.5h.8M507.7 212.3h.8M507.5 216.2h.8M502.2 221.5h.8M506.3 205.3h.8M512.2 214.8h.8M514.2 213.1h.8M510.8 210.4h.8M502.5 210.1h.8M516.6 216.8h.8M507.0 210.6h.8M507.9 210.4h.8M510.0 208.4h.8M522.0 217.6h.8M513.4 201.3h.8M504.1 209.1h.8M515.7 223.4h.8M512.0 212.6h.8M514.5 203.3h.8M507.9 209.1h.8M513.3 220.2h.8M504.3 213.4h.8M514.2 208.6h.8M504.2 211.2h.8M512.5 221.5h.8M526.3 212.9h.8M510.8 193.0h.8M504.4 209.3h.8M511.2 214.4h.8M504.6 209.8h.8M507.5 213.4h.8M510.5 213.1h.8M507.9 177.2h.8M533.9 175.6h.8M525.8 165.3h.8M501.7 189.7h.8M514.7 180.7h.8M525.3 177.4h.8M511.5 212.0h.8M523.5 184.8h.8M520.7 169.6h.8M536.5 168.5h.8M513.2 192.9h.8M517.3 177.7h.8M515.2 203.6h.8M510.8 195.8h.8M520.1 181.8h.8M522.6 190.0h.8M530.2 184.9h.8M508.4 209.5h.8M511.6 217.1h.8M527.3 176.4h.8M514.9 192.8h.8M519.4 187.4h.8M507.2 203.0h.8M514.8 203.1h.8M512.3 193.7h.8M502.5 194.0h.8M531.8 166.4h.8M513.1 172.6h.8M507.7 207.5h.8M515.7 209.2h.8M513.9 191.6h.8M506.6 197.7h.8M506.2 208.9h.8M531.0 179.1h.8M517.8 190.0h.8M518.7 182.5h.8M514.4 186.3h.8M505.2 205.4h.8M502.1 206.5h.8M524.2 165.3h.8M518.3 192.8h.8M507.5 201.3h.8M509.2 207.4h.8M510.5 189.8h.8M507.5 201.8h.8M519.9 168.3h.8M519.1 181.3h.8M506.5 211.9h.8M505.6 215.2h.8M516.8 209.5h.8M520.6 182.1h.8M518.4 173.1h.8M505.1 227.4h.8M502.8 210.6h.8M513.4 198.7h.8M516.0 192.1h.8M518.6 181.2h.8M509.0 190.8h.8M512.0 209.0h.8M507.6 204.2h.8M520.5 200.8h.8M517.7 211.8h.8M526.3 170.5h.8M521.9 168.4h.8M525.5 169.7h.8M524.5 172.0h.8M524.2 169.9h.8M521.7 170.4h.8M528.0 171.5h.8M520.9 173.7h.8M531.4 173.2h.8M524.3 172.4h.8M525.3 172.0h.8M524.6 171.0h.8M523.0 172.8h.8M535.6 174.0h.8M538.5 171.1h.8M518.7 169.5h.8M532.1 172.0h.8M522.3 171.8h.8M525.6 176.3h.8M504.5 205.0h.8M487.6 197.8h.8M501.7 194.9h.8M480.7 196.1h.8M506.7 201.3h.8M520.5 210.0h.8M496.7 205.4h.8M499.4 170.6h.8M501.4 176.0h.8M507.2 195.1h.8M482.1 206.6h.8M529.2 200.0h.8M478.7 205.0h.8M514.7 224.2h.8M491.7 196.4h.8M487.5 192.1h.8M483.6 202.2h.8M491.3 181.5h.8M487.3 194.7h.8M503.8 200.1h.8M503.0 192.7h.8M490.3 194.4h.8M478.6 218.1h.8M504.2 199.7h.8M478.7 197.7h.8M483.5 201.6h.8M527.0 195.3h.8M530.7 181.0h.8M510.4 176.9h.8M502.9 197.1h.8M504.6 199.8h.8M511.0 220.8h.8M528.6 193.6h.8M525.5 204.6h.8M535.5 219.9h.8M522.5 202.3h.8M529.7 192.4h.8M513.4 197.4h.8M531.5 182.9h.8M525.2 213.0h.8" stroke="#6262ff" stroke-width=".8"/>
<g filter="url(#bf)" clip-path="url(#fc13)"><ellipse cx="485.4" cy="216" rx="22.09" ry="15.5" fill="#6070ff" opacity="0.45" transform="rotate(-5 484.4 212.2)"/><ellipse cx="485.2" cy="214.8" rx="18.58" ry="12" fill="#4a70ff" opacity="0.7" transform="rotate(-5 484.4 212.2)"/><ellipse cx="484.9" cy="213.7" rx="15.56" ry="9.5" fill="#30a8f8" opacity="0.9" transform="rotate(-5 484.4 212.2)"/><ellipse cx="484.7" cy="213.1" rx="14.06" ry="8.3" fill="#40d8b0" transform="rotate(-5 484.4 212.2)"/><ellipse cx="484.6" cy="212.6" rx="12.55" ry="7.2" fill="#50e860" transform="rotate(-5 484.4 212.2)"/><ellipse cx="484.5" cy="212.2" rx="9.54" ry="5.2" fill="#90f040" transform="rotate(-5 484.4 212.2)"/><ellipse cx="484.4" cy="212" rx="7.23" ry="3.6" fill="#e8e828" transform="rotate(-5 484.4 212.2)"/><ellipse cx="484.4" cy="211.9" rx="5.42" ry="2.6" fill="#f09020" transform="rotate(-5 484.4 212.2)"/><ellipse cx="484.7" cy="211.9" rx="3.51" ry="1.6" fill="#e84018" transform="rotate(-5 484.4 212.2)"/></g>
<path d="M502.8 206.3h.9M466.2 224.2h.9M472.7 208.7h.9M484.1 203.7h.9M471.8 219.0h.9M472.2 223.7h.9M481.9 203.4h.9M476.6 205.1h.9M483.1 227.1h.9M482.9 227.3h.9M504.2 211.6h.9M469.4 227.3h.9M497.9 222.3h.9M480.8 204.7h.9M473.1 206.2h.9M502.7 205.6h.9M473.6 220.5h.9M464.6 202.1h.9M495.9 203.7h.9M473.1 208.3h.9M485.9 225.6h.9M507.6 204.4h.9M468.7 203.8h.9M502.2 213.1h.9M505.7 211.4h.9M494.6 203.9h.9M490.7 204.4h.9M503.0 208.5h.9M463.0 208.8h.9M500.4 207.2h.9M482.9 224.1h.9M512.6 221.0h.9M488.7 200.1h.9M478.7 226.9h.9M476.1 226.8h.9M467.0 218.8h.9M497.7 206.3h.9M476.1 223.2h.9M493.5 201.9h.9M467.8 201.1h.9M488.5 223.3h.9M479.7 198.1h.9M488.6 226.6h.9M466.2 211.9h.9M476.7 202.6h.9M509.5 214.7h.9M463.6 207.4h.9M469.2 208.9h.9M488.6 228.5h.9M489.2 230.8h.9M504.0 214.3h.9M465.4 208.9h.9M488.2 202.9h.9M475.2 200.3h.9M503.0 219.8h.9" stroke="#6070ff" stroke-width=".9"/>
<path d="M472.9 212.1h.9M478.0 219.0h.9M494.5 210.6h.9M486.6 217.4h.9M484.7 207.1h.9M474.3 215.1h.9M491.7 211.1h.9M474.3 213.1h.9M492.3 219.5h.9M488.6 207.1h.9M480.7 216.3h.9M477.1 214.8h.9M488.0 217.6h.9M477.2 208.4h.9M486.4 220.3h.9M483.7 220.3h.9M473.2 210.1h.9M493.4 218.1h.9M472.6 213.6h.9M477.0 213.9h.9M481.3 217.5h.9M475.0 218.1h.9M479.2 216.3h.9M475.5 211.3h.9M474.6 214.0h.9M493.0 208.7h.9M478.7 216.7h.9M491.7 208.3h.9M493.6 216.1h.9M492.7 214.5h.9M495.5 209.5h.9M476.7 217.3h.9M471.6 209.8h.9M494.5 220.1h.9M482.4 219.9h.9M490.9 217.7h.9M485.5 218.5h.9M477.8 220.1h.9M481.6 208.5h.9M474.2 211.4h.9M482.6 216.3h.9M479.4 216.2h.9M480.3 206.2h.9M484.4 206.4h.9M475.4 217.4h.9M481.6 208.7h.9M495.9 211.4h.9M475.3 214.5h.9M489.2 216.5h.9M478.8 218.5h.9M487.9 205.6h.9M492.4 214.5h.9M478.5 214.6h.9M480.0 209.4h.9M495.4 212.7h.9M491.2 215.1h.9M490.6 219.0h.9M491.9 215.9h.9M488.9 220.8h.9M487.4 216.5h.9M487.7 220.7h.9M472.7 213.1h.9M487.2 219.4h.9M478.3 217.0h.9" stroke="#50e860" stroke-width=".9"/>
<path d="M491.6 213.7h.9M491.8 218.4h.9M487.4 207.3h.9M487.0 216.6h.9M490.8 216.4h.9M491.3 216.1h.9M484.5 219.0h.9M484.3 215.0h.9M479.5 219.3h.9M483.7 208.1h.9M472.8 213.1h.9M482.2 207.0h.9M496.0 211.8h.9M491.4 216.3h.9M488.8 213.8h.9M492.9 210.8h.9M495.6 208.9h.9M472.6 214.3h.9M488.8 210.7h.9M488.1 217.0h.9M485.3 207.8h.9M487.4 207.6h.9M490.6 215.7h.9M479.7 207.4h.9M475.1 210.3h.9M477.3 217.3h.9M490.6 207.6h.9M473.8 215.9h.9M486.6 216.1h.9M492.5 214.2h.9M488.5 215.6h.9M485.6 208.5h.9M492.2 209.6h.9M489.6 216.3h.9M478.2 214.8h.9M471.6 213.9h.9M480.8 207.7h.9M486.5 219.3h.9M494.4 211.3h.9M479.8 214.1h.9M476.2 211.2h.9M475.4 215.8h.9M484.6 220.1h.9M494.7 214.0h.9M477.2 207.8h.9M488.3 218.6h.9M473.8 213.2h.9M483.4 217.6h.9M489.9 215.8h.9M483.2 206.5h.9M484.1 215.9h.9M473.8 214.5h.9M478.2 214.1h.9M475.9 217.7h.9M475.7 216.3h.9M487.7 214.5h.9M482.0 218.5h.9M483.6 215.5h.9" stroke="#90f040" stroke-width=".9"/>
<path d="M494.1 219.9h.9M463.2 222.8h.9M477.0 229.1h.9M506.1 210.1h.9M500.2 204.7h.9M465.4 227.6h.9M486.7 226.1h.9M498.5 211.0h.9M496.9 231.4h.9M467.9 224.1h.9M471.2 216.7h.9M493.3 207.7h.9M475.9 205.7h.9M517.3 203.6h.9M486.6 226.9h.9M476.1 221.1h.9M492.9 221.9h.9M496.0 220.6h.9M477.6 222.1h.9M472.4 217.4h.9M486.6 222.8h.9M484.1 224.9h.9M500.6 211.5h.9M497.4 224.1h.9M503.2 209.1h.9M494.8 219.5h.9M471.5 221.9h.9M497.7 218.7h.9M468.0 224.3h.9M478.9 200.8h.9M467.6 212.1h.9M466.3 217.7h.9M472.6 219.8h.9M480.5 225.3h.9M494.5 207.1h.9M481.9 222.8h.9M468.3 218.6h.9M486.8 203.2h.9M466.3 213.7h.9M465.7 220.5h.9M487.7 236.1h.9M486.9 226.3h.9M490.1 222.4h.9M482.3 205.3h.9M484.7 223.3h.9M502.4 209.3h.9M478.7 222.3h.9M493.5 207.4h.9M489.1 224.4h.9M499.2 205.8h.9M497.4 221.9h.9M466.7 222.6h.9M475.5 227.0h.9M503.4 213.5h.9M493.8 222.9h.9" stroke="#4a70ff" stroke-width=".9"/>
<path d="M488.6 212.9h.9M483.1 209.4h.9M480.9 216.1h.9M477.8 213.6h.9M485.5 217.4h.9M483.1 214.2h.9M487.4 216.6h.9M477.3 212.6h.9M491.9 210.6h.9M484.0 215.1h.9M476.5 212.7h.9M477.5 212.8h.9M481.9 214.8h.9M477.3 213.7h.9M484.1 215.2h.9M492.3 213.6h.9M492.6 211.8h.9M487.1 210.9h.9M481.7 216.3h.9M482.8 217.4h.9M485.2 207.7h.9M479.4 215.2h.9M479.7 210.9h.9M483.2 208.6h.9M480.8 212.6h.9M480.5 211.7h.9M481.4 209.8h.9M484.3 207.9h.9M488.4 211.1h.9M481.4 210.8h.9M486.3 214.0h.9M478.8 216.0h.9M476.4 213.8h.9M483.6 207.4h.9M488.8 213.9h.9M482.4 215.9h.9M481.8 209.7h.9M481.0 207.5h.9M481.1 210.0h.9M485.4 214.5h.9M490.2 208.5h.9" stroke="#e8e828" stroke-width=".9"/>
<path d="M473.2 219.1h.9M478.4 217.1h.9M493.9 218.7h.9M471.9 214.6h.9M478.0 223.1h.9M485.5 218.6h.9M489.1 219.1h.9M485.8 222.6h.9M498.9 211.1h.9M473.0 217.1h.9M478.3 217.0h.9M493.2 220.3h.9M482.8 218.4h.9M488.7 219.7h.9M495.9 216.3h.9M493.6 209.0h.9M472.8 214.4h.9M475.4 216.5h.9M475.9 210.4h.9M492.7 218.8h.9M474.0 213.7h.9M489.5 208.3h.9M492.2 206.6h.9M481.7 221.7h.9M496.7 208.5h.9M484.8 222.9h.9M473.5 211.3h.9M485.0 220.7h.9M472.8 208.9h.9M471.8 214.4h.9M492.9 209.4h.9M471.6 218.0h.9M481.0 219.5h.9M488.0 222.3h.9M496.6 214.5h.9M484.7 221.0h.9M475.0 219.4h.9M493.9 212.2h.9M476.2 219.9h.9M471.9 209.5h.9M486.7 205.7h.9M473.5 213.9h.9M482.4 219.6h.9M487.0 220.1h.9M492.4 219.5h.9M479.5 205.9h.9M486.1 206.8h.9M470.0 214.1h.9M491.6 220.2h.9M474.8 211.3h.9M474.4 208.9h.9M486.5 220.0h.9M494.6 210.8h.9M471.8 216.3h.9M483.7 220.2h.9M499.5 216.4h.9M482.1 219.0h.9M474.9 222.0h.9M496.3 215.2h.9M481.0 219.7h.9M488.0 218.9h.9M493.8 218.9h.9M482.6 219.2h.9M479.8 221.1h.9M474.9 217.6h.9M491.1 206.7h.9" stroke="#40d8b0" stroke-width=".9"/>
<path d="M478.6 219.5h.9M496.0 208.2h.9M501.6 212.6h.9M477.2 221.4h.9M476.4 221.0h.9M489.8 227.6h.9M499.5 214.6h.9M486.8 222.9h.9M497.2 217.0h.9M478.2 222.0h.9M489.4 221.9h.9M491.6 222.8h.9M471.3 211.3h.9M478.1 222.8h.9M496.5 214.4h.9M467.8 215.1h.9M471.0 215.3h.9M480.9 203.8h.9M497.5 209.7h.9M496.0 213.1h.9M479.4 221.5h.9M477.9 225.4h.9M501.8 217.5h.9M498.8 209.3h.9M487.5 224.4h.9M497.9 220.2h.9M475.1 225.5h.9M492.7 207.0h.9M478.7 221.5h.9M474.7 218.2h.9M496.3 215.2h.9M479.4 222.3h.9M480.7 221.3h.9M476.6 205.9h.9" stroke="#30a8f8" stroke-width=".9"/>
<path d="M484.1 214.4h.9M483.2 215.3h.9M483.9 213.3h.9M479.0 212.0h.9M481.5 210.9h.9M486.3 209.1h.9M484.3 212.6h.9M477.9 212.5h.9M491.0 211.8h.9M485.1 212.6h.9M491.2 212.8h.9M488.8 214.8h.9M489.3 214.9h.9M480.5 214.4h.9M482.1 212.9h.9M482.4 215.6h.9M484.1 210.5h.9M488.6 210.2h.9M480.3 211.3h.9M477.8 213.2h.9M482.1 215.1h.9M490.1 214.7h.9M482.4 212.7h.9M484.6 215.3h.9M481.0 213.5h.9M487.4 211.8h.9M485.3 210.5h.9" stroke="#f09020" stroke-width=".9"/>
<path d="M485.8 211.6h.9M485.4 213.2h.9M485.0 212.6h.9M480.8 214.0h.9M487.3 213.9h.9M481.4 212.9h.9M485.8 212.9h.9M479.3 212.5h.9M482.9 213.5h.9M487.8 212.8h.9M483.7 212.0h.9M483.9 213.1h.9M483.9 212.7h.9M483.7 211.4h.9M480.3 211.8h.9M484.3 213.9h.9M487.2 212.5h.9M487.8 212.9h.9" stroke="#e84018" stroke-width=".9"/>
<g filter="url(#bf)" clip-path="url(#fc13)"><ellipse cx="525.46" cy="171" rx="4.82" ry="1.8" fill="#3a6cff" opacity="0.8"/><ellipse cx="525.96" cy="171" rx="2.61" ry="1" fill="#30c8e8" opacity="0.9"/></g>
<rect x="460.9" y="148" width="97.7" height="96.6" fill="none" stroke="#444" stroke-width="0.9"/>
<line x1="506.6" y1="148" x2="506.6" y2="244.6" stroke="#555" stroke-width="0.9"/>
<line x1="460.9" y1="199.5" x2="558.6" y2="199.5" stroke="#555" stroke-width="0.9"/>
<text x="463.3" y="154" font-size="4.8" fill="#333">Q3-1</text>
<text x="463.3" y="158.9" font-size="4.8" fill="#333">0.89%</text>
<text x="556.1" y="154" font-size="4.8" text-anchor="end" fill="#333">Q3-2</text>
<text x="556.1" y="158.9" font-size="4.8" text-anchor="end" fill="#333">4.81%</text>
<rect x="462.9" y="232" width="16.5" height="11.2" fill="#fff" opacity="0.8"/>
<text x="463.9" y="236.4" font-size="4.8" fill="#333">Q3-3</text>
<text x="463.9" y="241.6" font-size="4.8" fill="#333">90.51%</text>
<text x="556.1" y="236.4" font-size="4.8" text-anchor="end" fill="#333">Q3-4</text>
<text x="556.1" y="241.6" font-size="4.8" text-anchor="end" fill="#333">3.81%</text>
<line x1="460.9" y1="244.6" x2="460.9" y2="246.1" stroke="#444" stroke-width="0.6"/>
<text x="460.9" y="252.6" font-size="4.9" text-anchor="middle" fill="#333">10<tspan dx="0.6" dy="-2.2" font-size="3.8">2</tspan></text>
<line x1="478.49" y1="244.6" x2="478.49" y2="246.1" stroke="#444" stroke-width="0.6"/>
<text x="478.49" y="252.6" font-size="4.9" text-anchor="middle" fill="#333">10<tspan dx="0.6" dy="-2.2" font-size="3.8">3</tspan></text>
<line x1="496.37" y1="244.6" x2="496.37" y2="246.1" stroke="#444" stroke-width="0.6"/>
<text x="496.37" y="252.6" font-size="4.9" text-anchor="middle" fill="#333">10<tspan dx="0.6" dy="-2.2" font-size="3.8">4</tspan></text>
<line x1="515.03" y1="244.6" x2="515.03" y2="246.1" stroke="#444" stroke-width="0.6"/>
<text x="515.03" y="252.6" font-size="4.9" text-anchor="middle" fill="#333">10<tspan dx="0.6" dy="-2.2" font-size="3.8">5</tspan></text>
<line x1="532.71" y1="244.6" x2="532.71" y2="246.1" stroke="#444" stroke-width="0.6"/>
<text x="532.71" y="252.6" font-size="4.9" text-anchor="middle" fill="#333">10<tspan dx="0.6" dy="-2.2" font-size="3.8">6</tspan></text>
<line x1="558.6" y1="244.6" x2="558.6" y2="246.1" stroke="#444" stroke-width="0.6"/>
<text x="558.6" y="252.6" font-size="4.9" text-anchor="middle" fill="#333">10<tspan dx="0.6" dy="-2.2" font-size="3.8">7.4</tspan></text>
<text x="509.8" y="259.9" font-size="4.6" text-anchor="middle" fill="#333">APC-H</text>
<line x1="459.4" y1="237" x2="460.9" y2="237" stroke="#444" stroke-width="0.6"/>
<text x="457" y="237.6" font-size="4.8" text-anchor="middle" fill="#333" transform="rotate(-90 457 237.6)">10<tspan dx="0.5" dy="-2.1" font-size="3.6">-0.1</tspan></text>
<line x1="459.4" y1="210.5" x2="460.9" y2="210.5" stroke="#444" stroke-width="0.6"/>
<text x="457" y="211.1" font-size="4.8" text-anchor="middle" fill="#333" transform="rotate(-90 457 211.1)">10<tspan dx="0.5" dy="-2.1" font-size="3.6">2</tspan></text>
<line x1="459.4" y1="195.5" x2="460.9" y2="195.5" stroke="#444" stroke-width="0.6"/>
<text x="457" y="196.1" font-size="4.8" text-anchor="middle" fill="#333" transform="rotate(-90 457 196.1)">10<tspan dx="0.5" dy="-2.1" font-size="3.6">3</tspan></text>
<line x1="459.4" y1="184.9" x2="460.9" y2="184.9" stroke="#444" stroke-width="0.6"/>
<text x="457" y="185.5" font-size="4.8" text-anchor="middle" fill="#333" transform="rotate(-90 457 185.5)">10<tspan dx="0.5" dy="-2.1" font-size="3.6">4</tspan></text>
<line x1="459.4" y1="173.1" x2="460.9" y2="173.1" stroke="#444" stroke-width="0.6"/>
<text x="457" y="173.7" font-size="4.8" text-anchor="middle" fill="#333" transform="rotate(-90 457 173.7)">10<tspan dx="0.5" dy="-2.1" font-size="3.6">5</tspan></text>
<line x1="459.4" y1="150.1" x2="460.9" y2="150.1" stroke="#444" stroke-width="0.6"/>
<text x="457" y="150.7" font-size="4.8" text-anchor="middle" fill="#333" transform="rotate(-90 457 150.7)">10<tspan dx="0.5" dy="-2.1" font-size="3.6">5.9</tspan></text>
<text x="449.9" y="195" font-size="4.4" text-anchor="middle" fill="#333" transform="rotate(-90 449.9 195)">PerCP-H</text>
<text x="509.2" y="144.5" font-size="8.1" font-weight="bold" text-anchor="middle" fill="#111" stroke="#111" stroke-width="0.35">Mel-10 µM</text>
<path d="M622.4 203.7h.8M585.8 219.5h.8M604.0 217.6h.8M613.5 208.7h.8M615.9 213.4h.8M614.3 204.3h.8M619.7 209.4h.8M597.8 225.4h.8M591.8 215.3h.8M605.3 210.8h.8M594.4 200.0h.8M610.8 219.7h.8M624.9 202.4h.8M620.1 222.1h.8M606.6 223.6h.8M597.7 216.9h.8M619.1 213.9h.8M601.3 221.6h.8M597.7 210.9h.8M611.9 218.9h.8M610.3 214.0h.8M595.5 222.1h.8M616.1 206.7h.8M587.5 211.7h.8M583.5 208.8h.8M605.6 227.5h.8M611.2 201.8h.8M621.9 226.9h.8M600.8 219.9h.8M611.9 218.2h.8M595.8 232.8h.8M602.7 228.8h.8M602.1 231.1h.8M594.8 222.3h.8M599.0 224.3h.8M620.1 222.1h.8M608.1 225.3h.8M626.8 216.9h.8M605.3 223.6h.8M602.3 220.7h.8M611.8 206.4h.8M603.8 206.0h.8M586.3 223.9h.8M591.7 222.7h.8M615.5 227.7h.8M618.1 210.3h.8M598.6 216.9h.8M592.7 221.5h.8M603.8 223.2h.8M592.6 201.8h.8M600.1 211.7h.8M612.4 223.0h.8M608.1 202.0h.8M604.0 219.4h.8M621.3 203.6h.8M596.9 221.3h.8M610.0 215.8h.8M601.7 212.5h.8M614.5 229.6h.8M603.2 200.1h.8M609.8 211.1h.8M602.2 204.4h.8M585.1 229.2h.8M603.6 190.0h.8M615.2 199.3h.8M590.1 212.2h.8M601.2 209.3h.8M620.7 215.9h.8M584.1 203.1h.8M605.6 223.9h.8M617.3 222.4h.8M585.4 226.1h.8M626.0 208.3h.8M610.1 205.0h.8M612.3 218.6h.8M605.0 221.7h.8M614.8 213.4h.8M599.6 202.4h.8M622.2 203.9h.8M602.0 215.9h.8M621.0 222.6h.8M606.8 209.9h.8M601.3 226.6h.8M601.9 210.6h.8M596.6 222.1h.8M595.2 207.4h.8M632.9 218.8h.8M597.8 215.3h.8M610.8 207.6h.8M591.6 211.3h.8M589.4 231.5h.8M584.4 225.3h.8M588.5 208.5h.8M608.6 206.3h.8M595.5 207.6h.8M609.2 210.9h.8M615.2 218.8h.8M605.5 220.4h.8M607.9 225.9h.8M587.1 229.5h.8M598.9 241.6h.8M599.6 214.0h.8M593.5 217.4h.8M633.9 217.7h.8M606.0 221.6h.8M583.1 218.3h.8M605.5 202.2h.8M621.5 210.9h.8M633.6 209.1h.8M605.8 221.3h.8M587.6 211.7h.8M619.2 233.3h.8M595.1 204.1h.8M622.8 219.0h.8M616.3 216.5h.8M616.4 199.5h.8M602.8 242.7h.8M621.2 224.2h.8M620.7 214.7h.8M598.0 225.2h.8M587.8 221.8h.8M608.5 215.3h.8M598.6 208.9h.8M595.5 215.0h.8M605.9 222.9h.8M606.8 197.6h.8M596.4 206.9h.8M625.4 214.3h.8M598.2 196.3h.8M594.9 216.0h.8M635.0 231.1h.8M611.7 207.9h.8M630.5 215.6h.8M596.0 219.2h.8M613.7 236.8h.8M614.9 200.8h.8M598.0 206.0h.8M600.6 208.2h.8M596.4 214.2h.8M619.4 220.3h.8M605.4 224.8h.8M606.5 229.0h.8M609.8 196.6h.8M611.0 221.3h.8M611.9 224.1h.8M603.7 235.1h.8M612.1 216.1h.8M608.4 204.6h.8M594.2 238.8h.8M590.3 208.8h.8M608.2 208.1h.8M615.0 226.7h.8M611.3 219.6h.8M597.7 230.7h.8M633.4 236.4h.8M596.5 206.4h.8M606.8 229.4h.8M625.2 222.4h.8M617.9 227.8h.8M612.0 218.7h.8M593.2 207.4h.8M627.0 219.4h.8M597.2 223.4h.8M596.9 210.0h.8M597.4 198.0h.8M618.2 212.0h.8M611.0 215.0h.8M617.4 229.0h.8M617.1 233.0h.8M617.4 235.9h.8M606.7 226.0h.8M617.4 239.3h.8M589.2 231.9h.8M614.5 240.9h.8M632.4 240.8h.8M604.0 232.4h.8M609.9 225.3h.8M613.5 236.6h.8M614.4 226.4h.8M610.4 233.8h.8M613.2 234.6h.8M607.6 238.4h.8M611.6 237.8h.8M599.8 238.5h.8M597.0 231.6h.8M611.2 229.5h.8M604.2 228.1h.8M606.7 224.7h.8M614.5 236.1h.8M608.5 231.9h.8M609.9 223.5h.8M621.6 236.9h.8M612.5 239.9h.8M635.5 237.9h.8M607.4 226.8h.8M609.1 222.6h.8M618.6 230.1h.8M614.3 228.6h.8M626.0 230.4h.8M588.3 239.0h.8M598.6 230.3h.8M606.2 238.3h.8M617.2 233.6h.8M596.9 228.9h.8M618.6 223.0h.8M600.7 232.0h.8M617.3 229.6h.8M600.6 225.5h.8M604.7 237.0h.8M625.4 236.0h.8M595.4 233.9h.8M602.5 233.9h.8M617.9 240.1h.8M602.2 226.9h.8M604.7 244.2h.8M598.1 233.4h.8M598.8 241.6h.8M597.9 233.6h.8M635.1 204.0h.8M633.7 204.3h.8M629.9 218.6h.8M636.8 229.1h.8M627.7 207.0h.8M632.8 224.6h.8M643.1 220.9h.8M638.6 209.2h.8M633.8 203.5h.8M630.3 221.3h.8M640.4 215.2h.8M638.6 223.8h.8M634.2 223.7h.8M631.5 223.3h.8M639.5 231.6h.8M631.1 216.5h.8M638.2 213.7h.8M635.3 216.1h.8M630.0 225.6h.8M638.0 200.7h.8M633.7 218.0h.8M640.8 213.8h.8M629.9 212.9h.8M640.0 210.0h.8M631.3 227.2h.8M632.1 212.9h.8M625.5 213.9h.8M628.3 211.4h.8M621.1 210.7h.8M618.3 226.1h.8M631.5 190.9h.8M634.2 208.2h.8M627.9 210.4h.8M639.0 208.0h.8M630.1 211.8h.8M630.3 209.3h.8M633.4 205.3h.8M629.2 210.3h.8M632.0 210.4h.8M637.6 177.3h.8M637.4 191.4h.8M650.0 170.3h.8M646.5 195.2h.8M632.2 204.3h.8M625.7 210.3h.8M637.8 191.7h.8M632.4 206.8h.8M639.8 206.3h.8M637.4 186.1h.8M635.2 189.1h.8M622.5 192.8h.8M644.4 162.8h.8M644.7 159.7h.8M643.8 186.0h.8M631.3 179.7h.8M638.8 196.8h.8M655.1 176.9h.8M633.6 197.0h.8M642.5 186.1h.8M644.1 174.6h.8M642.3 185.3h.8M630.3 203.1h.8M637.5 189.6h.8M621.4 217.9h.8M644.4 184.0h.8M636.9 206.4h.8M641.2 201.2h.8M631.4 208.8h.8M650.0 179.0h.8M642.1 185.8h.8M636.9 203.0h.8M638.6 184.7h.8M647.6 186.2h.8M639.1 182.1h.8M627.1 207.7h.8M644.0 187.2h.8M640.8 184.4h.8M627.2 223.2h.8M640.2 189.9h.8M651.9 170.4h.8M620.7 218.3h.8M648.3 183.8h.8M633.9 193.1h.8M631.6 199.4h.8M626.7 205.9h.8M634.8 215.2h.8M630.1 186.3h.8M636.3 200.6h.8M644.0 192.9h.8M642.5 189.1h.8M644.6 174.2h.8M632.5 196.4h.8M646.8 185.9h.8M644.2 195.0h.8M645.5 182.0h.8M642.8 176.8h.8M642.5 170.3h.8M646.1 171.6h.8M645.3 180.3h.8M636.9 198.9h.8M637.3 195.2h.8M636.1 197.9h.8M640.0 196.2h.8M637.0 204.7h.8M638.8 194.5h.8M648.2 170.9h.8M650.4 171.3h.8M640.3 170.8h.8M650.4 170.4h.8M639.3 171.6h.8M649.7 169.6h.8M652.6 169.3h.8M641.0 167.0h.8M648.5 172.1h.8M658.6 170.5h.8M647.0 175.8h.8M652.8 172.4h.8M663.7 172.3h.8M645.4 171.5h.8M645.9 170.7h.8M658.8 171.0h.8M650.4 172.1h.8M654.4 168.6h.8M659.0 169.3h.8M644.4 172.9h.8M646.2 171.9h.8M609.1 202.7h.8M629.3 206.9h.8M620.1 198.6h.8M624.7 199.6h.8M608.0 196.4h.8M629.2 186.2h.8M626.5 189.6h.8M633.4 196.4h.8M593.8 213.9h.8M612.3 200.0h.8M642.5 197.9h.8M630.4 198.6h.8M631.1 194.0h.8M621.2 178.7h.8M603.4 177.4h.8M631.2 191.9h.8M626.3 206.1h.8M627.2 200.3h.8M618.6 207.8h.8M606.5 183.9h.8M614.9 194.1h.8M623.1 185.8h.8M619.6 196.6h.8M590.7 189.1h.8M606.1 191.0h.8M629.3 195.0h.8M627.1 196.5h.8M632.1 210.1h.8M623.1 192.0h.8M636.2 183.1h.8M640.0 217.6h.8M654.8 180.5h.8M642.2 179.6h.8M630.4 200.9h.8M633.6 205.8h.8M633.6 197.3h.8M630.0 209.3h.8M648.4 197.5h.8M632.7 196.9h.8M647.0 188.7h.8M641.8 176.7h.8M640.6 176.2h.8M656.1 202.2h.8M652.0 196.0h.8" stroke="#4040ff" stroke-width=".8"/>
<path d="M604.8 220.3h.8M606.3 212.1h.8M590.9 231.5h.8M613.1 213.6h.8M619.3 225.8h.8M604.1 217.0h.8M592.8 219.2h.8M597.0 210.9h.8M624.1 225.2h.8M589.7 210.4h.8M597.6 212.9h.8M592.0 233.8h.8M604.4 216.3h.8M621.5 200.8h.8M604.7 224.9h.8M597.7 230.5h.8M595.4 210.0h.8M615.0 221.9h.8M598.4 216.7h.8M605.9 214.7h.8M602.8 222.9h.8M595.0 221.1h.8M596.0 212.0h.8M610.1 192.0h.8M603.3 221.2h.8M633.6 210.1h.8M629.4 209.8h.8M605.2 229.0h.8M585.7 214.4h.8M587.2 224.1h.8M601.9 232.4h.8M596.1 234.4h.8M616.1 204.6h.8M599.7 229.7h.8M619.5 214.4h.8M584.6 216.6h.8M587.1 199.9h.8M596.3 210.1h.8M591.7 218.8h.8M618.5 236.6h.8M586.8 215.3h.8M588.1 216.5h.8M605.6 217.0h.8M635.0 206.2h.8M597.9 237.8h.8M607.0 207.9h.8M619.7 200.4h.8M597.4 217.1h.8M604.2 209.7h.8M624.7 209.9h.8M603.9 203.6h.8M607.6 214.6h.8M605.4 211.1h.8M598.5 218.0h.8M596.2 221.4h.8M615.0 207.4h.8M631.4 206.8h.8M611.7 215.6h.8M612.1 214.9h.8M603.4 217.3h.8M609.8 227.7h.8M590.1 217.3h.8M602.4 219.8h.8M614.1 207.9h.8M591.7 214.3h.8M618.2 219.8h.8M613.3 199.5h.8M607.7 217.6h.8M606.8 228.8h.8M592.8 205.7h.8M605.7 217.1h.8M592.4 218.7h.8M611.8 214.9h.8M605.3 213.0h.8M608.5 211.3h.8M586.9 216.9h.8M595.7 230.7h.8M605.9 230.8h.8M597.5 222.2h.8M606.6 233.5h.8M596.1 223.4h.8M593.4 229.3h.8M604.0 216.0h.8M598.6 226.6h.8M606.1 224.2h.8M618.2 238.4h.8M619.3 230.1h.8M598.9 202.4h.8M614.2 215.4h.8M589.9 224.9h.8M608.9 230.0h.8M599.0 221.7h.8M602.1 219.3h.8M585.9 225.9h.8M602.9 198.7h.8M593.1 221.8h.8M585.3 225.1h.8M600.5 216.7h.8M610.7 221.3h.8M616.6 215.8h.8M609.9 223.5h.8M618.0 206.3h.8M601.1 217.9h.8M615.2 229.9h.8M614.0 200.1h.8M641.2 220.8h.8M593.4 232.0h.8M619.3 194.6h.8M600.7 218.8h.8M603.0 236.8h.8M592.9 220.1h.8M642.3 208.8h.8M594.8 229.7h.8M585.4 209.6h.8M641.5 218.1h.8M609.8 220.0h.8M590.4 226.7h.8M594.2 231.6h.8M597.9 204.5h.8M641.7 202.1h.8M596.7 225.1h.8M622.4 228.7h.8M599.3 221.3h.8M616.3 235.4h.8M618.8 228.3h.8M616.9 207.4h.8M625.7 214.7h.8M606.1 239.6h.8M595.0 205.1h.8M612.0 217.4h.8M599.3 234.7h.8M583.7 230.8h.8M598.4 238.6h.8M617.4 212.7h.8M617.2 232.9h.8M613.8 227.0h.8M615.4 238.6h.8M584.6 212.0h.8M605.9 219.4h.8M603.9 208.5h.8M592.8 210.0h.8M586.8 219.3h.8M593.3 227.6h.8M606.4 217.3h.8M620.0 227.8h.8M585.5 239.1h.8M607.0 234.7h.8M583.2 201.0h.8M616.3 204.0h.8M605.5 218.2h.8M598.8 212.2h.8M596.5 225.6h.8M589.8 210.4h.8M598.7 224.9h.8M615.0 225.0h.8M630.4 205.6h.8M604.9 231.7h.8M595.8 218.5h.8M617.3 226.5h.8M594.7 210.8h.8M608.3 220.9h.8M585.4 231.2h.8M608.4 225.4h.8M606.9 230.4h.8M602.6 208.4h.8M592.3 209.4h.8M591.9 227.6h.8M606.7 205.9h.8M614.7 227.6h.8M596.3 229.1h.8M600.8 233.6h.8M605.2 242.6h.8M608.4 224.2h.8M611.8 231.3h.8M604.6 234.3h.8M627.7 236.3h.8M607.3 235.8h.8M610.2 223.9h.8M616.7 239.7h.8M601.6 230.4h.8M600.1 234.8h.8M623.8 228.4h.8M610.9 228.2h.8M609.1 233.9h.8M603.0 224.3h.8M597.2 228.7h.8M605.3 236.3h.8M602.5 231.2h.8M583.6 227.0h.8M603.7 236.7h.8M608.5 236.9h.8M602.4 223.4h.8M605.0 233.7h.8M607.3 236.9h.8M602.1 230.2h.8M612.3 240.6h.8M603.6 225.3h.8M593.5 235.2h.8M632.9 237.5h.8M607.7 222.2h.8M599.3 235.7h.8M602.5 230.0h.8M609.9 231.7h.8M620.5 234.7h.8M609.8 236.2h.8M608.9 236.2h.8M615.1 232.6h.8M611.0 241.5h.8M606.1 228.1h.8M618.2 227.5h.8M593.2 229.2h.8M599.5 231.5h.8M617.4 227.6h.8M610.8 238.6h.8M601.4 227.5h.8M610.9 238.3h.8M613.6 233.1h.8M618.2 226.6h.8M633.8 217.2h.8M638.1 204.7h.8M630.5 229.1h.8M637.0 202.9h.8M638.5 213.5h.8M625.2 211.0h.8M634.5 206.5h.8M635.3 214.2h.8M632.3 209.7h.8M632.2 207.8h.8M625.9 218.1h.8M629.4 221.9h.8M634.7 208.2h.8M628.6 222.3h.8M630.7 215.7h.8M633.6 211.8h.8M626.1 228.9h.8M629.1 225.8h.8M634.9 210.2h.8M637.3 217.1h.8M629.6 213.4h.8M620.2 206.2h.8M622.5 216.4h.8M633.5 216.1h.8M640.7 217.3h.8M635.3 206.4h.8M631.4 217.4h.8M638.0 214.7h.8M630.5 211.0h.8M636.0 193.9h.8M635.8 221.4h.8M634.3 197.6h.8M630.2 212.1h.8M638.2 218.0h.8M638.9 211.2h.8M634.7 203.3h.8M634.6 206.5h.8M635.6 210.3h.8M649.3 158.5h.8M647.2 193.3h.8M628.6 193.4h.8M625.4 208.4h.8M629.0 200.2h.8M647.7 189.9h.8M650.2 188.3h.8M647.3 195.1h.8M631.2 203.2h.8M642.4 173.8h.8M640.5 182.3h.8M635.3 201.7h.8M634.6 198.5h.8M641.5 172.5h.8M637.0 194.8h.8M648.1 170.7h.8M644.8 181.7h.8M647.0 190.9h.8M641.7 175.1h.8M632.6 197.8h.8M647.8 178.4h.8M647.5 176.4h.8M629.3 205.0h.8M629.6 194.0h.8M646.3 181.0h.8M644.5 164.1h.8M631.0 208.4h.8M643.6 179.7h.8M647.1 178.4h.8M626.4 212.2h.8M634.0 200.8h.8M628.5 205.0h.8M630.0 198.2h.8M637.7 204.4h.8M637.1 191.3h.8M645.8 169.3h.8M643.6 180.1h.8M638.4 194.6h.8M628.5 188.6h.8M633.7 215.4h.8M633.2 189.3h.8M638.1 192.3h.8M636.2 214.2h.8M629.5 218.7h.8M633.0 189.8h.8M631.4 196.4h.8M646.1 179.0h.8M630.7 204.3h.8M631.7 190.8h.8M634.4 182.5h.8M634.2 192.7h.8M630.4 209.2h.8M642.9 183.5h.8M637.3 195.1h.8M635.8 175.6h.8M638.9 179.1h.8M643.9 172.8h.8M630.5 198.6h.8M633.9 210.8h.8M641.0 184.3h.8M632.6 176.1h.8M634.7 192.7h.8M661.4 173.4h.8M636.7 189.1h.8M645.5 184.5h.8M646.1 176.3h.8M649.6 171.8h.8M653.7 171.8h.8M641.3 169.2h.8M639.6 168.5h.8M645.9 172.5h.8M651.9 170.4h.8M653.5 169.6h.8M644.6 171.2h.8M653.9 168.6h.8M645.2 172.5h.8M649.3 172.0h.8M645.8 173.9h.8M660.5 169.4h.8M649.3 173.9h.8M657.6 168.4h.8M652.6 172.0h.8M651.8 169.5h.8M644.7 171.7h.8M653.5 170.9h.8M657.6 172.4h.8M644.3 170.3h.8M649.2 170.5h.8M592.1 190.7h.8M610.7 205.4h.8M636.0 173.9h.8M634.2 204.7h.8M648.4 196.1h.8M624.2 195.4h.8M616.2 190.7h.8M587.3 194.8h.8M624.1 184.1h.8M625.4 204.7h.8M634.5 207.3h.8M621.6 194.3h.8M621.5 194.7h.8M625.3 198.2h.8M618.0 200.3h.8M619.4 201.8h.8M615.4 208.4h.8M630.4 190.6h.8M636.1 195.7h.8M620.7 206.1h.8M634.5 195.8h.8M627.0 188.6h.8M621.9 196.0h.8M609.2 205.9h.8M628.6 204.3h.8M624.8 193.0h.8M618.2 211.2h.8M610.7 183.3h.8M618.3 195.7h.8M633.2 210.5h.8M632.9 198.8h.8M644.0 197.4h.8M648.8 176.3h.8M635.9 201.6h.8M632.9 196.7h.8M644.0 174.0h.8M636.1 200.0h.8M645.0 190.0h.8M640.3 182.6h.8M639.9 190.2h.8M632.0 193.6h.8M642.3 187.1h.8M655.6 195.7h.8M643.4 198.6h.8" stroke="#3434ee" stroke-width=".8"/>
<path d="M605.9 198.5h.8M597.1 223.7h.8M611.5 230.9h.8M601.0 203.5h.8M597.2 205.5h.8M603.8 222.3h.8M598.2 215.4h.8M600.0 223.2h.8M600.0 221.2h.8M585.5 225.4h.8M636.2 202.4h.8M605.4 202.4h.8M593.0 228.2h.8M599.9 210.2h.8M597.0 227.2h.8M594.5 230.1h.8M586.1 225.8h.8M596.8 212.8h.8M599.1 215.0h.8M589.7 223.5h.8M604.7 232.8h.8M606.0 217.6h.8M596.3 208.8h.8M606.1 224.6h.8M596.2 235.5h.8M610.1 224.5h.8M593.1 220.3h.8M610.3 216.8h.8M622.1 219.9h.8M598.6 216.1h.8M595.1 225.7h.8M607.3 207.8h.8M623.0 219.8h.8M607.2 209.7h.8M600.6 208.9h.8M594.8 202.6h.8M604.3 227.7h.8M626.5 218.5h.8M610.3 209.4h.8M610.7 214.5h.8M589.8 227.1h.8M592.6 225.5h.8M607.9 219.2h.8M589.8 231.8h.8M606.1 219.3h.8M611.7 217.8h.8M601.1 220.7h.8M608.6 217.8h.8M611.6 227.8h.8M604.0 207.0h.8M606.2 210.6h.8M601.5 205.4h.8M595.8 215.6h.8M640.4 221.9h.8M605.7 198.7h.8M587.9 215.7h.8M604.0 206.0h.8M608.2 207.8h.8M607.5 221.1h.8M586.0 234.1h.8M600.6 210.2h.8M611.5 206.7h.8M604.0 231.1h.8M596.4 214.0h.8M603.9 212.1h.8M613.1 218.9h.8M611.3 217.3h.8M599.0 208.8h.8M591.0 222.1h.8M595.7 220.1h.8M626.7 212.1h.8M585.9 215.2h.8M612.6 221.1h.8M594.1 230.9h.8M600.1 221.5h.8M594.0 208.5h.8M591.1 213.6h.8M610.5 212.7h.8M599.0 224.7h.8M593.8 210.8h.8M603.7 227.2h.8M595.0 231.1h.8M602.2 213.2h.8M629.6 219.5h.8M584.9 213.3h.8M586.4 217.8h.8M608.0 240.6h.8M596.1 203.5h.8M602.5 230.2h.8M647.7 216.6h.8M588.3 226.4h.8M600.1 221.9h.8M626.2 218.8h.8M583.2 194.7h.8M582.9 217.5h.8M618.5 225.9h.8M596.5 222.3h.8M603.1 230.5h.8M584.2 220.6h.8M634.0 224.2h.8M615.1 213.8h.8M615.3 231.0h.8M608.0 214.1h.8M616.3 211.9h.8M607.5 223.1h.8M596.5 206.0h.8M595.4 209.3h.8M601.0 230.9h.8M614.2 239.8h.8M603.2 206.1h.8M598.0 224.9h.8M608.3 212.6h.8M610.3 211.7h.8M614.0 229.0h.8M592.6 222.0h.8M622.5 222.7h.8M586.2 213.2h.8M618.8 232.4h.8M623.4 232.6h.8M605.1 240.7h.8M608.5 227.3h.8M616.1 220.1h.8M598.2 204.1h.8M598.7 219.0h.8M599.2 221.4h.8M639.2 202.5h.8M615.5 222.5h.8M629.1 204.9h.8M595.7 232.7h.8M615.4 212.4h.8M609.7 226.5h.8M588.4 240.2h.8M620.4 231.5h.8M602.7 235.9h.8M612.2 227.9h.8M619.4 211.8h.8M608.2 213.7h.8M593.3 214.2h.8M614.5 222.6h.8M601.5 219.6h.8M609.3 228.5h.8M612.6 229.2h.8M592.7 243.4h.8M585.8 214.2h.8M628.0 216.0h.8M631.0 215.5h.8M642.4 206.9h.8M617.9 214.0h.8M624.1 209.9h.8M594.4 199.7h.8M628.6 225.1h.8M601.3 213.0h.8M609.8 228.7h.8M608.1 214.8h.8M608.9 198.6h.8M615.9 229.6h.8M602.2 210.7h.8M614.6 219.0h.8M642.8 222.9h.8M624.4 198.8h.8M618.8 224.4h.8M603.4 228.6h.8M612.8 200.0h.8M604.8 229.7h.8M621.8 202.6h.8M592.8 224.2h.8M614.8 227.7h.8M620.2 223.1h.8M603.7 239.5h.8M604.5 233.4h.8M610.8 229.1h.8M605.0 233.9h.8M606.4 241.1h.8M607.0 232.1h.8M604.4 235.8h.8M599.2 243.4h.8M610.7 239.5h.8M597.8 228.1h.8M611.4 230.6h.8M605.7 235.1h.8M598.6 224.0h.8M597.6 236.7h.8M605.9 237.6h.8M612.5 228.7h.8M618.3 238.2h.8M592.7 234.1h.8M606.3 225.9h.8M610.7 229.7h.8M603.9 232.6h.8M606.1 212.9h.8M615.2 238.0h.8M606.5 231.2h.8M605.6 238.9h.8M606.8 227.6h.8M616.5 233.6h.8M619.4 229.7h.8M592.9 236.1h.8M597.0 235.1h.8M604.6 234.3h.8M592.9 230.4h.8M614.5 235.1h.8M607.8 239.8h.8M599.2 233.8h.8M586.6 226.5h.8M598.2 217.2h.8M607.0 231.5h.8M607.7 235.3h.8M597.2 229.1h.8M607.4 237.5h.8M603.9 226.0h.8M609.1 237.1h.8M611.9 226.5h.8M600.5 230.8h.8M604.5 237.7h.8M587.8 228.7h.8M612.3 235.3h.8M618.8 240.7h.8M632.1 214.7h.8M634.0 206.1h.8M630.7 195.9h.8M627.7 203.9h.8M631.9 227.4h.8M635.7 228.5h.8M623.8 221.7h.8M636.1 221.7h.8M633.2 206.9h.8M630.6 201.9h.8M630.0 213.4h.8M631.5 215.7h.8M637.3 214.3h.8M625.2 203.5h.8M627.7 227.2h.8M633.6 199.3h.8M628.2 224.6h.8M628.2 221.9h.8M630.8 217.6h.8M641.3 207.3h.8M636.1 219.3h.8M636.9 209.0h.8M639.3 214.7h.8M635.0 212.5h.8M628.4 207.4h.8M638.6 218.9h.8M626.6 217.0h.8M622.4 221.3h.8M644.5 207.4h.8M630.7 218.1h.8M633.3 215.9h.8M625.5 236.9h.8M633.5 206.4h.8M628.8 218.8h.8M630.3 210.8h.8M630.2 221.0h.8M631.4 214.5h.8M636.1 193.1h.8M643.6 188.2h.8M624.6 206.9h.8M637.9 190.5h.8M652.7 184.3h.8M646.4 201.7h.8M639.2 198.1h.8M623.3 210.0h.8M647.4 194.6h.8M628.8 207.3h.8M645.1 165.8h.8M651.4 185.6h.8M624.7 197.2h.8M632.9 175.6h.8M639.1 207.5h.8M635.1 184.6h.8M645.6 182.4h.8M618.4 217.0h.8M635.3 215.1h.8M654.0 174.6h.8M645.2 178.3h.8M622.7 194.1h.8M651.9 168.6h.8M632.7 191.3h.8M644.9 169.8h.8M634.1 195.7h.8M632.1 195.0h.8M635.3 202.5h.8M640.0 182.6h.8M639.3 178.7h.8M642.6 206.6h.8M633.3 185.1h.8M658.0 171.9h.8M620.6 217.4h.8M626.0 213.7h.8M651.1 180.2h.8M630.9 196.5h.8M635.3 190.7h.8M628.7 205.8h.8M638.4 209.6h.8M628.1 210.5h.8M651.7 175.5h.8M646.2 186.2h.8M634.6 201.6h.8M641.6 174.2h.8M632.4 194.9h.8M633.1 196.1h.8M635.9 199.0h.8M629.8 202.0h.8M636.3 199.5h.8M639.8 189.2h.8M642.5 200.9h.8M638.1 172.6h.8M626.6 187.3h.8M637.1 178.4h.8M643.8 156.0h.8M638.8 203.8h.8M629.6 203.2h.8M643.4 179.8h.8M634.6 175.2h.8M637.7 199.3h.8M629.6 215.2h.8M627.3 194.9h.8M635.9 175.8h.8M647.2 189.8h.8M654.5 174.8h.8M640.2 199.4h.8M622.7 210.2h.8M632.0 197.4h.8M646.8 169.7h.8M649.6 173.3h.8M646.7 170.1h.8M645.5 172.1h.8M649.8 169.9h.8M655.2 172.3h.8M646.4 168.9h.8M643.4 172.6h.8M650.7 172.4h.8M645.3 168.3h.8M652.9 174.1h.8M651.4 170.2h.8M643.4 170.0h.8M645.1 171.9h.8M659.1 173.1h.8M639.5 171.5h.8M645.6 173.4h.8M650.1 171.2h.8M652.4 169.1h.8M658.4 172.1h.8M649.4 170.3h.8M609.9 173.0h.8M610.7 194.1h.8M600.9 191.4h.8M613.8 184.1h.8M620.2 201.7h.8M617.9 210.2h.8M625.3 186.9h.8M609.0 208.4h.8M617.4 201.0h.8M623.7 205.7h.8M619.2 208.2h.8M617.0 196.8h.8M630.6 197.9h.8M619.3 196.7h.8M621.1 178.2h.8M643.9 179.9h.8M622.5 208.2h.8M615.2 199.3h.8M608.7 182.8h.8M620.2 193.6h.8M622.7 201.1h.8M618.7 220.2h.8M598.4 205.0h.8M605.8 181.8h.8M622.0 192.4h.8M626.8 191.5h.8M617.0 189.7h.8M615.8 200.4h.8M622.9 191.2h.8M609.8 199.4h.8M638.2 211.1h.8M645.3 199.7h.8M635.6 183.6h.8M655.2 171.1h.8M656.9 172.0h.8M654.9 193.8h.8M646.5 196.9h.8M638.5 187.1h.8M649.3 225.0h.8M629.5 209.9h.8M645.5 189.4h.8M639.8 207.9h.8M656.5 211.5h.8M631.3 202.4h.8" stroke="#5050ff" stroke-width=".8"/>
<path d="M602.9 212.0h.8M616.8 214.2h.8M601.6 217.5h.8M589.7 226.3h.8M592.0 207.1h.8M587.6 222.0h.8M602.0 217.6h.8M599.0 215.6h.8M621.4 225.3h.8M600.3 224.8h.8M607.1 209.1h.8M594.1 199.6h.8M622.9 205.0h.8M594.4 210.9h.8M587.1 228.1h.8M600.8 225.8h.8M606.9 216.5h.8M590.2 206.5h.8M596.1 214.6h.8M616.3 225.6h.8M586.9 207.1h.8M596.2 212.9h.8M603.4 222.8h.8M602.4 227.8h.8M605.7 207.1h.8M605.5 211.0h.8M590.5 219.7h.8M605.9 221.3h.8M599.2 221.0h.8M598.5 205.5h.8M593.5 216.7h.8M596.9 221.5h.8M596.8 205.0h.8M596.8 214.1h.8M618.5 206.6h.8M590.6 220.9h.8M603.9 215.1h.8M593.3 220.3h.8M616.9 212.6h.8M606.6 227.3h.8M597.9 214.5h.8M616.7 211.5h.8M601.6 223.7h.8M603.0 203.5h.8M595.6 221.6h.8M600.6 223.6h.8M615.2 206.4h.8M610.7 210.9h.8M618.3 223.2h.8M583.9 206.8h.8M612.0 206.4h.8M595.7 205.2h.8M605.0 207.4h.8M606.4 214.3h.8M609.0 230.8h.8M604.3 205.3h.8M603.8 213.7h.8M619.9 214.2h.8M610.8 212.6h.8M591.1 210.1h.8M593.6 232.3h.8M615.8 209.5h.8M586.8 218.3h.8M602.6 208.8h.8M625.0 203.7h.8M603.5 220.0h.8M587.7 229.3h.8M604.3 222.9h.8M610.0 213.0h.8M593.2 224.9h.8M608.0 229.7h.8M608.7 220.4h.8M593.0 222.9h.8M597.7 211.4h.8M600.7 206.4h.8M611.0 216.3h.8M630.5 211.9h.8M603.2 207.4h.8M608.5 229.2h.8M604.6 206.4h.8M615.2 210.0h.8M595.2 197.3h.8M593.7 211.7h.8M616.6 214.2h.8M609.1 234.6h.8M618.2 221.6h.8M603.4 233.2h.8M598.0 204.7h.8M620.0 221.0h.8M607.2 224.6h.8M608.8 217.6h.8M621.5 226.7h.8M607.0 208.1h.8M613.4 214.7h.8M617.0 192.8h.8M613.2 215.4h.8M591.9 207.8h.8M614.1 224.3h.8M594.2 212.5h.8M600.4 226.8h.8M613.4 209.0h.8M621.0 215.9h.8M624.6 212.0h.8M635.0 201.2h.8M600.1 226.4h.8M588.7 219.1h.8M608.2 224.7h.8M609.8 221.3h.8M609.9 202.6h.8M590.7 207.8h.8M589.8 206.8h.8M627.1 219.9h.8M590.7 230.8h.8M618.7 206.7h.8M585.2 210.6h.8M606.6 221.3h.8M616.9 222.5h.8M585.1 201.8h.8M613.7 210.1h.8M588.4 207.7h.8M607.5 225.2h.8M585.7 228.9h.8M630.8 217.7h.8M597.9 220.0h.8M613.7 223.6h.8M609.9 213.2h.8M610.9 209.9h.8M589.6 211.9h.8M586.7 230.3h.8M623.8 215.5h.8M588.9 213.0h.8M614.1 220.4h.8M607.2 240.4h.8M607.4 216.2h.8M608.0 208.3h.8M599.6 207.9h.8M605.9 227.2h.8M607.0 219.9h.8M619.3 219.8h.8M596.9 221.0h.8M601.1 220.2h.8M598.3 209.6h.8M611.6 223.4h.8M600.2 209.1h.8M600.2 234.4h.8M587.0 211.3h.8M592.4 207.7h.8M603.4 214.6h.8M593.9 217.6h.8M586.4 230.3h.8M643.6 203.1h.8M618.1 220.9h.8M588.9 204.2h.8M605.9 205.6h.8M606.1 219.0h.8M624.2 237.6h.8M600.4 226.9h.8M614.2 219.7h.8M606.6 235.4h.8M614.3 211.0h.8M582.9 213.8h.8M619.7 198.3h.8M610.6 232.7h.8M595.8 213.3h.8M613.8 210.4h.8M590.4 206.7h.8M604.2 211.1h.8M597.0 219.6h.8M612.2 230.6h.8M609.7 223.4h.8M634.8 238.4h.8M600.9 239.1h.8M615.1 229.8h.8M623.2 229.6h.8M618.4 236.4h.8M599.8 236.5h.8M604.8 236.5h.8M615.7 223.8h.8M613.0 229.8h.8M608.8 242.9h.8M608.3 244.0h.8M601.6 229.2h.8M603.1 226.2h.8M603.7 233.8h.8M612.8 238.5h.8M619.0 235.5h.8M602.8 235.5h.8M605.3 237.3h.8M594.7 236.9h.8M595.9 230.0h.8M618.0 235.6h.8M608.2 243.7h.8M625.6 231.4h.8M625.9 230.9h.8M603.7 225.8h.8M605.4 235.5h.8M619.9 243.3h.8M614.6 234.7h.8M606.1 228.1h.8M596.7 224.3h.8M605.1 233.9h.8M591.1 239.3h.8M603.1 239.5h.8M602.4 232.4h.8M600.1 229.2h.8M619.0 236.9h.8M606.2 237.9h.8M616.3 229.7h.8M608.2 236.5h.8M605.3 233.4h.8M601.1 236.8h.8M609.2 220.9h.8M610.6 227.4h.8M607.2 231.3h.8M612.4 229.3h.8M627.3 234.2h.8M601.6 221.6h.8M641.9 209.9h.8M641.8 214.9h.8M632.3 204.6h.8M628.6 210.3h.8M633.3 211.1h.8M635.8 216.1h.8M627.2 209.3h.8M631.9 203.2h.8M641.3 220.4h.8M626.0 209.4h.8M636.4 205.7h.8M630.7 202.6h.8M630.4 216.2h.8M623.5 211.6h.8M636.7 211.2h.8M621.3 212.8h.8M632.7 208.6h.8M645.2 210.2h.8M632.2 213.5h.8M629.2 211.6h.8M630.2 209.7h.8M627.1 221.5h.8M632.5 205.7h.8M627.1 223.7h.8M628.4 204.5h.8M620.8 211.8h.8M632.6 213.4h.8M629.6 213.6h.8M630.4 216.0h.8M643.8 208.0h.8M620.4 219.1h.8M628.2 204.4h.8M620.0 210.7h.8M632.6 224.1h.8M627.5 217.3h.8M630.2 214.1h.8M637.6 204.5h.8M635.7 210.9h.8M640.4 176.1h.8M641.0 193.2h.8M644.0 181.2h.8M635.5 202.6h.8M642.5 180.7h.8M646.2 177.5h.8M640.9 168.5h.8M641.8 186.8h.8M651.1 171.0h.8M647.1 185.4h.8M637.8 186.4h.8M650.1 184.1h.8M625.4 199.8h.8M625.1 209.6h.8M633.2 184.7h.8M638.8 179.1h.8M641.9 194.6h.8M644.7 168.4h.8M637.6 186.1h.8M620.4 202.2h.8M650.3 193.3h.8M632.9 199.8h.8M636.7 184.8h.8M640.1 209.2h.8M643.3 176.0h.8M640.2 211.2h.8M650.2 174.3h.8M641.2 183.4h.8M647.3 177.5h.8M632.8 190.6h.8M627.3 195.9h.8M649.3 176.8h.8M633.0 201.7h.8M635.5 200.3h.8M636.2 181.9h.8M646.2 181.4h.8M634.9 190.8h.8M653.8 189.0h.8M633.9 188.0h.8M629.8 219.0h.8M638.4 190.4h.8M636.6 181.6h.8M640.8 177.6h.8M644.9 190.9h.8M634.2 188.9h.8M639.5 189.1h.8M621.2 209.7h.8M635.0 183.3h.8M648.5 183.0h.8M633.0 189.0h.8M652.9 170.4h.8M639.0 204.0h.8M629.3 195.4h.8M639.7 182.6h.8M621.4 213.2h.8M645.3 184.3h.8M643.3 170.3h.8M624.9 196.0h.8M644.3 191.8h.8M630.2 208.3h.8M640.5 191.7h.8M644.0 188.2h.8M639.5 213.6h.8M626.7 190.0h.8M642.0 176.4h.8M624.2 210.4h.8M630.5 209.7h.8M630.5 204.6h.8M641.9 173.4h.8M643.2 170.2h.8M643.1 171.9h.8M651.4 168.2h.8M641.7 169.5h.8M652.7 168.2h.8M643.6 172.8h.8M657.8 171.7h.8M640.3 171.9h.8M639.3 172.1h.8M648.1 170.4h.8M648.4 167.4h.8M638.7 171.1h.8M654.2 170.4h.8M641.8 173.4h.8M652.9 173.5h.8M644.5 172.8h.8M645.7 171.0h.8M651.8 169.5h.8M647.1 171.5h.8M651.3 169.8h.8M613.6 204.1h.8M614.1 188.9h.8M632.4 187.9h.8M628.7 185.2h.8M630.3 209.4h.8M626.0 205.1h.8M627.1 204.5h.8M631.4 196.9h.8M621.6 189.9h.8M618.7 210.0h.8M626.9 185.1h.8M627.7 219.9h.8M620.6 203.3h.8M611.9 187.4h.8M627.1 209.7h.8M609.3 201.2h.8M613.5 180.6h.8M603.6 192.9h.8M620.1 199.0h.8M597.5 188.7h.8M610.6 181.3h.8M616.3 203.6h.8M620.5 185.7h.8M614.1 218.6h.8M603.1 218.6h.8M609.8 200.3h.8M631.3 192.4h.8M619.8 201.5h.8M619.1 179.7h.8M612.9 193.3h.8M638.5 199.3h.8M646.9 185.1h.8M631.5 228.2h.8M642.9 184.9h.8M639.5 186.9h.8M640.5 176.5h.8M654.1 194.2h.8M638.9 172.9h.8M638.6 190.0h.8M625.7 209.0h.8M626.7 187.7h.8M641.9 194.4h.8M660.4 194.4h.8M638.0 218.6h.8" stroke="#2c2ce0" stroke-width=".8"/>
<path d="M605.5 214.8h.8M601.6 225.6h.8M611.2 193.7h.8M613.8 208.8h.8M614.8 216.0h.8M601.3 213.1h.8M599.9 229.7h.8M603.9 214.2h.8M621.4 204.1h.8M605.7 211.8h.8M589.3 220.6h.8M604.0 228.5h.8M589.2 206.5h.8M606.8 212.7h.8M594.0 202.6h.8M613.4 223.9h.8M609.3 215.8h.8M621.6 211.4h.8M603.3 205.5h.8M608.1 221.0h.8M585.1 222.7h.8M593.0 225.1h.8M608.1 226.4h.8M620.6 221.1h.8M593.6 211.7h.8M622.3 213.3h.8M592.3 225.1h.8M603.7 224.4h.8M625.2 207.0h.8M596.1 238.2h.8M603.5 193.4h.8M607.1 216.8h.8M616.7 202.2h.8M595.3 213.4h.8M597.7 220.3h.8M592.1 214.8h.8M598.4 216.9h.8M607.3 212.2h.8M610.1 212.6h.8M599.0 204.5h.8M594.5 224.0h.8M598.7 233.8h.8M599.7 195.5h.8M608.5 217.1h.8M607.3 220.3h.8M590.5 220.4h.8M603.3 221.6h.8M592.3 204.7h.8M586.7 201.4h.8M628.6 208.6h.8M600.9 206.1h.8M584.2 222.8h.8M626.2 216.5h.8M597.0 211.6h.8M623.3 223.1h.8M607.1 208.2h.8M601.4 209.2h.8M600.3 226.7h.8M608.6 219.5h.8M602.4 221.1h.8M606.1 218.2h.8M602.6 212.2h.8M609.1 218.6h.8M603.5 220.8h.8M601.5 209.9h.8M584.6 205.1h.8M590.8 215.6h.8M589.6 210.7h.8M613.2 214.2h.8M604.3 215.7h.8M596.6 217.9h.8M602.0 208.7h.8M595.8 232.1h.8M606.3 227.4h.8M611.7 238.5h.8M622.5 223.6h.8M608.2 206.3h.8M605.1 230.9h.8M604.7 225.7h.8M597.1 199.7h.8M597.0 202.4h.8M596.1 229.5h.8M590.2 213.7h.8M602.9 221.3h.8M606.5 217.8h.8M614.3 228.3h.8M618.5 217.0h.8M605.3 224.0h.8M608.5 228.0h.8M609.1 218.8h.8M607.3 226.4h.8M593.5 208.8h.8M605.1 229.4h.8M591.1 234.3h.8M598.8 230.7h.8M613.6 225.4h.8M623.6 229.9h.8M603.8 228.1h.8M606.7 213.8h.8M606.4 238.0h.8M612.9 199.4h.8M620.1 204.1h.8M599.0 215.5h.8M606.7 221.8h.8M603.8 222.9h.8M601.9 230.2h.8M627.2 208.0h.8M625.0 216.7h.8M599.6 210.5h.8M594.7 210.2h.8M628.0 214.9h.8M611.9 229.4h.8M607.4 196.4h.8M607.4 213.8h.8M623.5 206.4h.8M624.7 224.1h.8M611.5 226.7h.8M615.9 193.4h.8M609.9 226.8h.8M612.9 200.5h.8M610.6 214.7h.8M617.7 239.9h.8M611.1 230.3h.8M613.1 214.0h.8M622.6 224.1h.8M597.4 224.5h.8M592.2 209.7h.8M621.1 211.3h.8M617.2 205.3h.8M602.0 228.7h.8M629.2 212.3h.8M609.0 211.8h.8M605.8 232.3h.8M591.4 238.1h.8M604.5 231.6h.8M621.1 215.7h.8M599.7 227.2h.8M634.5 202.9h.8M602.5 199.0h.8M602.6 205.0h.8M619.7 213.9h.8M613.1 225.4h.8M617.5 229.9h.8M626.4 208.8h.8M606.1 209.2h.8M600.4 221.2h.8M600.1 215.4h.8M601.0 199.9h.8M586.3 225.0h.8M607.0 210.9h.8M616.6 223.1h.8M602.0 209.7h.8M632.9 207.7h.8M621.7 244.8h.8M604.8 226.5h.8M595.7 238.0h.8M617.6 226.1h.8M619.7 244.8h.8M584.0 213.7h.8M611.0 234.1h.8M611.3 222.7h.8M613.8 209.2h.8M605.3 229.7h.8M602.0 237.7h.8M610.9 232.3h.8M588.5 207.0h.8M596.2 214.9h.8M610.0 230.5h.8M613.4 231.7h.8M597.8 236.1h.8M613.1 230.1h.8M603.0 233.4h.8M604.1 241.0h.8M609.3 229.3h.8M606.7 239.4h.8M604.8 242.3h.8M597.9 232.2h.8M606.2 227.6h.8M612.6 237.5h.8M618.7 238.7h.8M605.5 234.2h.8M617.9 231.8h.8M605.6 223.4h.8M614.1 242.0h.8M603.6 230.8h.8M623.2 234.2h.8M605.3 234.8h.8M620.9 230.7h.8M608.2 243.2h.8M597.8 228.7h.8M601.2 225.0h.8M611.3 233.4h.8M593.1 239.4h.8M611.3 226.7h.8M618.7 240.1h.8M606.1 237.8h.8M613.1 224.7h.8M605.0 231.4h.8M617.2 224.0h.8M609.2 227.6h.8M629.2 235.9h.8M619.2 238.0h.8M613.9 227.4h.8M586.0 235.8h.8M622.9 236.8h.8M595.7 232.6h.8M618.6 228.1h.8M612.7 239.0h.8M614.7 243.7h.8M611.7 227.0h.8M610.2 218.1h.8M617.1 238.7h.8M617.1 223.3h.8M611.1 228.2h.8M615.2 243.9h.8M603.1 236.0h.8M610.3 238.6h.8M630.4 199.9h.8M635.5 211.3h.8M639.4 204.6h.8M637.3 215.4h.8M628.0 224.6h.8M627.4 223.3h.8M628.8 212.8h.8M636.1 218.1h.8M631.6 229.8h.8M638.3 203.9h.8M626.1 210.7h.8M634.8 221.0h.8M640.4 213.1h.8M632.4 213.4h.8M628.2 204.6h.8M632.9 216.1h.8M627.2 215.4h.8M643.0 216.5h.8M632.5 210.7h.8M633.5 220.8h.8M626.5 206.4h.8M627.2 229.3h.8M635.4 216.2h.8M633.3 225.5h.8M625.0 222.3h.8M627.2 214.0h.8M631.3 209.4h.8M629.6 222.2h.8M626.8 207.9h.8M628.1 218.5h.8M638.2 225.3h.8M626.9 203.3h.8M636.8 216.3h.8M633.6 221.6h.8M630.8 209.1h.8M629.9 217.1h.8M632.4 214.0h.8M627.6 204.8h.8M637.2 189.6h.8M633.6 165.1h.8M624.8 221.3h.8M639.6 190.6h.8M644.3 180.3h.8M633.1 209.0h.8M639.5 205.2h.8M643.5 174.1h.8M628.7 214.1h.8M646.4 198.3h.8M642.5 195.9h.8M652.4 186.4h.8M648.3 173.6h.8M645.9 178.7h.8M647.0 178.0h.8M641.4 208.3h.8M634.0 198.3h.8M641.9 181.1h.8M628.4 207.6h.8M640.1 208.0h.8M638.0 182.3h.8M635.1 210.0h.8M632.8 210.7h.8M655.6 178.6h.8M635.1 191.3h.8M639.4 194.4h.8M629.8 171.2h.8M632.3 212.4h.8M646.7 192.2h.8M648.1 165.0h.8M645.9 176.2h.8M639.3 199.7h.8M646.8 197.3h.8M615.1 204.6h.8M654.7 173.3h.8M631.0 200.6h.8M640.0 181.6h.8M631.2 218.5h.8M627.5 218.7h.8M644.6 189.8h.8M631.0 205.8h.8M626.6 211.0h.8M652.7 175.2h.8M637.8 196.8h.8M641.1 183.8h.8M640.5 191.7h.8M641.9 197.8h.8M635.9 197.3h.8M634.2 215.5h.8M623.9 206.1h.8M638.8 205.0h.8M648.8 163.8h.8M637.9 172.4h.8M652.3 179.8h.8M631.9 187.9h.8M626.5 197.9h.8M647.4 177.8h.8M622.9 213.2h.8M631.8 197.2h.8M631.6 202.2h.8M642.5 185.6h.8M641.5 207.1h.8M639.8 180.0h.8M627.4 205.9h.8M641.2 160.0h.8M651.9 174.3h.8M634.1 186.7h.8M639.0 184.6h.8M658.2 169.3h.8M641.0 173.5h.8M647.8 170.7h.8M645.6 170.4h.8M634.4 171.5h.8M661.8 169.1h.8M662.1 170.5h.8M650.6 173.0h.8M650.9 171.4h.8M654.4 172.8h.8M643.1 169.7h.8M655.2 169.1h.8M646.1 172.0h.8M640.1 173.0h.8M644.3 173.1h.8M642.6 172.2h.8M653.7 170.1h.8M649.1 172.6h.8M650.4 170.7h.8M649.0 171.9h.8M633.6 204.0h.8M623.7 187.8h.8M607.9 206.1h.8M611.8 184.1h.8M603.1 205.1h.8M617.1 215.2h.8M620.7 194.8h.8M623.3 194.3h.8M621.7 201.0h.8M608.1 190.0h.8M629.7 183.0h.8M617.5 205.0h.8M614.9 204.6h.8M612.3 195.4h.8M619.6 197.9h.8M630.8 192.6h.8M620.9 200.3h.8M629.9 190.4h.8M614.0 179.2h.8M601.3 206.6h.8M627.6 203.4h.8M615.4 189.1h.8M619.7 200.9h.8M636.6 213.6h.8M623.3 184.0h.8M618.1 201.8h.8M607.1 179.1h.8M648.8 207.2h.8M615.7 205.8h.8M619.5 207.2h.8M654.4 183.9h.8M631.5 188.9h.8M642.6 158.6h.8M617.0 205.5h.8M650.1 161.0h.8M639.0 175.5h.8M650.0 205.2h.8M641.2 206.9h.8M624.5 189.2h.8M649.1 185.8h.8M626.8 195.7h.8M637.5 166.1h.8M644.7 214.9h.8M622.2 202.7h.8" stroke="#6262ff" stroke-width=".8"/>
<g filter="url(#bf)" clip-path="url(#fc14)"><ellipse cx="604.3" cy="217.53" rx="22" ry="15.6" fill="#6070ff" opacity="0.45" transform="rotate(-5 603.3 213.7)"/><ellipse cx="604.1" cy="216.32" rx="18.5" ry="12.07" fill="#4a70ff" opacity="0.7" transform="rotate(-5 603.3 213.7)"/><ellipse cx="603.8" cy="215.21" rx="15.5" ry="9.56" fill="#30a8f8" opacity="0.9" transform="rotate(-5 603.3 213.7)"/><ellipse cx="603.6" cy="214.61" rx="14" ry="8.35" fill="#40d8b0" transform="rotate(-5 603.3 213.7)"/><ellipse cx="603.5" cy="214.11" rx="12.5" ry="7.24" fill="#50e860" transform="rotate(-5 603.3 213.7)"/><ellipse cx="603.4" cy="213.7" rx="9.5" ry="5.23" fill="#90f040" transform="rotate(-5 603.3 213.7)"/><ellipse cx="603.3" cy="213.5" rx="7.2" ry="3.62" fill="#e8e828" transform="rotate(-5 603.3 213.7)"/><ellipse cx="603.3" cy="213.4" rx="5.4" ry="2.62" fill="#f09020" transform="rotate(-5 603.3 213.7)"/><ellipse cx="603.6" cy="213.4" rx="3.5" ry="1.61" fill="#e84018" transform="rotate(-5 603.3 213.7)"/></g>
<path d="M600.6 202.8h.9M599.7 226.5h.9M611.4 235.0h.9M621.7 210.1h.9M619.5 219.5h.9M599.5 230.0h.9M610.8 200.2h.9M630.1 209.7h.9M588.9 202.8h.9M602.5 202.8h.9M602.6 200.8h.9M585.5 202.0h.9M601.1 230.0h.9M585.2 210.1h.9M606.3 228.1h.9M606.7 201.6h.9M589.1 223.4h.9M620.2 201.3h.9M603.4 229.5h.9M590.5 209.8h.9M607.4 229.2h.9M584.6 219.7h.9M586.8 215.6h.9M618.7 224.2h.9M613.9 227.9h.9M606.9 224.7h.9M591.4 227.7h.9M589.4 200.7h.9M604.3 195.3h.9M591.3 207.0h.9M621.3 221.7h.9M591.3 203.5h.9M601.1 199.7h.9M586.5 214.1h.9M602.0 232.2h.9M587.4 218.7h.9M604.9 205.9h.9M587.2 203.8h.9M614.6 225.5h.9M618.3 220.7h.9M595.4 223.6h.9M591.2 222.2h.9M595.0 201.2h.9M598.5 228.7h.9M587.1 207.5h.9M614.3 206.5h.9M596.3 197.2h.9M621.5 213.6h.9M590.4 208.7h.9M602.6 230.6h.9M597.4 230.2h.9M606.4 207.0h.9M613.8 202.4h.9M617.6 228.5h.9M598.4 233.3h.9M597.0 201.1h.9M605.3 227.3h.9M620.6 216.4h.9M620.5 202.5h.9M602.2 231.9h.9M599.4 232.4h.9M612.1 202.2h.9" stroke="#6070ff" stroke-width=".9"/>
<path d="M602.4 204.6h.9M597.0 206.5h.9M611.7 223.7h.9M597.2 221.4h.9M613.0 219.7h.9M615.0 220.9h.9M613.1 220.2h.9M598.5 207.2h.9M605.9 205.8h.9M601.8 225.4h.9M617.7 212.8h.9M613.2 218.5h.9M591.0 219.5h.9M598.1 222.6h.9M601.7 223.0h.9M607.6 225.1h.9M613.4 209.1h.9M618.0 211.0h.9M592.0 215.0h.9M594.8 208.0h.9M592.1 224.6h.9M603.2 206.3h.9M621.7 222.0h.9M620.0 220.9h.9M616.4 220.9h.9M597.8 222.4h.9M620.5 212.2h.9M591.8 207.6h.9M606.4 226.8h.9M592.2 224.2h.9M591.8 222.9h.9M600.7 226.7h.9M609.5 225.3h.9M593.4 209.4h.9M589.9 212.6h.9M603.8 204.9h.9M604.5 207.2h.9M602.3 223.8h.9M593.8 219.1h.9M601.8 225.5h.9M604.1 227.6h.9M603.9 222.6h.9M617.0 219.7h.9M592.9 210.6h.9M599.5 207.4h.9M617.6 211.6h.9" stroke="#30a8f8" stroke-width=".9"/>
<path d="M610.8 210.9h.9M607.9 215.6h.9M608.4 217.3h.9M599.4 216.9h.9M600.6 212.4h.9M601.1 211.6h.9M605.1 216.7h.9M598.2 216.7h.9M603.1 211.3h.9M604.0 212.1h.9M609.9 209.7h.9M598.9 216.2h.9M603.4 212.1h.9M600.0 217.8h.9M596.3 213.8h.9M598.0 212.4h.9M608.0 215.6h.9M600.0 217.7h.9M607.5 210.5h.9M608.9 212.8h.9M609.4 216.1h.9M604.1 209.4h.9M607.2 214.6h.9M600.0 212.4h.9M602.7 215.8h.9M604.1 216.5h.9M602.1 216.5h.9M606.7 211.0h.9M613.0 214.4h.9M603.1 218.8h.9M596.8 211.8h.9M593.7 212.3h.9M607.5 213.3h.9M608.1 217.0h.9M605.9 218.0h.9M606.9 218.0h.9M598.4 215.6h.9M605.0 216.4h.9M608.6 216.9h.9M600.2 210.6h.9M608.8 213.6h.9" stroke="#e8e828" stroke-width=".9"/>
<path d="M604.5 215.3h.9M600.7 215.4h.9M604.8 214.7h.9M602.0 211.6h.9M603.2 213.0h.9M601.5 215.3h.9M601.6 211.7h.9M607.0 214.0h.9M602.7 213.6h.9M601.7 214.9h.9M604.9 215.0h.9M600.7 211.9h.9M602.8 215.2h.9M599.4 213.3h.9M605.7 216.1h.9M605.2 214.8h.9M604.0 212.9h.9M600.1 214.4h.9" stroke="#e84018" stroke-width=".9"/>
<path d="M612.0 195.6h.9M606.3 225.7h.9M600.3 223.6h.9M591.2 222.2h.9M594.1 200.7h.9M621.8 215.0h.9M611.4 226.4h.9M592.1 210.1h.9M606.0 223.7h.9M615.7 220.1h.9M596.0 203.1h.9M588.1 217.7h.9M589.2 208.9h.9M602.8 224.2h.9M596.3 205.7h.9M624.5 212.5h.9M623.4 216.5h.9M588.1 216.1h.9M602.5 201.6h.9M614.1 202.0h.9M617.9 220.4h.9M595.2 227.3h.9M592.2 201.3h.9M606.8 225.2h.9M591.2 227.3h.9M600.8 231.3h.9M583.0 204.8h.9M594.6 220.8h.9M592.6 228.6h.9M604.7 204.5h.9M592.6 219.8h.9M621.6 202.0h.9M594.7 223.3h.9M591.4 221.2h.9M603.3 229.7h.9M612.7 233.0h.9M589.1 215.4h.9M593.8 224.4h.9M606.1 224.4h.9M603.4 223.9h.9M625.2 207.6h.9M598.3 231.6h.9M591.8 209.0h.9M585.0 222.3h.9M614.9 207.6h.9M585.6 207.8h.9" stroke="#4a70ff" stroke-width=".9"/>
<path d="M605.9 219.7h.9M616.8 221.7h.9M607.3 208.1h.9M603.4 221.0h.9M597.7 209.3h.9M602.7 222.7h.9M617.2 212.0h.9M611.1 220.0h.9M594.8 219.7h.9M598.6 221.1h.9M611.1 218.5h.9M607.4 218.9h.9M595.5 210.8h.9M609.3 221.9h.9M594.6 220.7h.9M611.2 218.5h.9M597.3 222.5h.9M603.0 221.1h.9M597.8 208.5h.9M594.1 218.4h.9M608.9 220.7h.9M606.7 207.8h.9M596.4 208.6h.9M593.8 210.6h.9M608.1 222.5h.9M613.1 213.7h.9M604.8 219.7h.9M605.9 222.2h.9M614.3 213.2h.9M605.3 207.8h.9M597.4 218.2h.9M593.7 212.6h.9M607.6 219.8h.9M613.9 217.3h.9M605.5 208.0h.9M600.9 224.6h.9M593.4 209.4h.9M604.9 222.3h.9M604.3 221.8h.9M598.2 220.0h.9M599.4 221.4h.9M592.5 214.9h.9M596.3 222.9h.9M600.6 223.3h.9M597.3 218.8h.9M606.5 219.0h.9M600.8 222.9h.9M598.9 207.4h.9M613.2 210.4h.9M601.6 222.2h.9M597.9 220.7h.9M606.3 224.7h.9M614.8 218.3h.9M612.7 211.0h.9M610.9 209.1h.9" stroke="#40d8b0" stroke-width=".9"/>
<path d="M608.5 219.5h.9M600.5 208.7h.9M601.3 219.4h.9M613.1 211.4h.9M600.7 220.4h.9M602.1 222.5h.9M600.2 220.7h.9M606.3 218.9h.9M606.4 218.3h.9M605.0 217.9h.9M600.6 219.1h.9M612.6 216.2h.9M597.0 216.8h.9M591.0 214.8h.9M616.4 212.5h.9M606.7 209.4h.9M612.6 216.8h.9M607.3 218.3h.9M606.4 221.0h.9M606.5 210.4h.9M611.8 213.6h.9M610.5 210.3h.9M596.6 221.6h.9M591.3 216.0h.9M594.2 211.3h.9M615.6 216.4h.9M600.6 209.2h.9M601.7 209.1h.9M597.8 209.1h.9M602.7 210.1h.9M604.1 218.4h.9M594.1 209.0h.9M596.0 221.5h.9M599.9 220.0h.9M612.2 215.0h.9M605.6 218.3h.9M614.4 218.8h.9M609.5 220.7h.9M593.4 215.8h.9M601.2 207.9h.9M594.4 218.2h.9M611.8 217.3h.9M598.6 207.2h.9M599.5 219.4h.9M599.9 221.4h.9M594.9 219.9h.9M592.2 214.3h.9M611.9 215.5h.9M612.4 220.2h.9M595.0 219.1h.9M600.2 209.1h.9M595.1 210.4h.9M593.2 214.2h.9M594.8 220.7h.9M594.7 214.1h.9M604.9 221.9h.9M617.6 214.8h.9M594.6 218.4h.9M604.8 221.2h.9M614.2 209.8h.9" stroke="#50e860" stroke-width=".9"/>
<path d="M596.2 211.0h.9M608.6 216.3h.9M608.8 218.8h.9M611.3 211.4h.9M591.3 216.1h.9M596.6 213.6h.9M607.9 211.6h.9M610.0 210.4h.9M600.0 211.4h.9M608.1 220.0h.9M603.8 218.5h.9M600.6 210.3h.9M606.2 210.2h.9M614.0 211.7h.9M609.2 209.6h.9M607.0 220.8h.9M596.7 209.1h.9M598.8 219.7h.9M608.0 221.0h.9M593.6 217.0h.9M606.5 219.7h.9M610.8 218.0h.9M599.6 217.1h.9M603.6 219.7h.9M596.3 213.8h.9M607.6 217.6h.9M597.2 216.3h.9M596.6 214.0h.9M607.4 220.8h.9M607.8 216.2h.9M603.6 210.5h.9M601.7 209.8h.9M614.0 209.7h.9M610.3 215.1h.9M602.4 222.3h.9M603.7 219.9h.9M598.3 212.7h.9M610.6 210.9h.9M608.2 218.6h.9M605.6 220.4h.9M594.8 212.6h.9M609.7 212.1h.9M606.6 219.6h.9M597.8 211.6h.9M603.2 216.7h.9M612.6 216.9h.9M609.9 216.6h.9M599.3 207.8h.9M599.0 216.6h.9M607.0 211.2h.9M602.2 220.4h.9M602.5 210.8h.9M610.9 212.2h.9M597.7 208.7h.9M608.0 210.8h.9M600.5 218.0h.9M596.3 220.1h.9M604.2 218.7h.9M605.2 220.9h.9M611.8 209.3h.9M602.6 218.4h.9M606.1 210.2h.9M608.1 210.8h.9M606.1 217.2h.9M600.6 217.1h.9" stroke="#90f040" stroke-width=".9"/>
<path d="M606.1 216.7h.9M602.9 216.2h.9M603.4 215.4h.9M603.6 213.8h.9M605.2 215.7h.9M598.7 212.9h.9M607.6 216.3h.9M605.8 212.5h.9M608.1 213.2h.9M607.6 211.7h.9M606.2 217.6h.9M602.4 213.1h.9M605.6 211.5h.9M609.5 214.6h.9M604.5 214.3h.9M603.4 212.8h.9M603.1 217.3h.9M604.7 213.5h.9M605.1 213.6h.9M605.5 217.0h.9M605.1 215.0h.9M601.7 217.0h.9M599.4 214.7h.9" stroke="#f09020" stroke-width=".9"/>
<g filter="url(#bf)" clip-path="url(#fc14)"><ellipse cx="648.3" cy="170.74" rx="4.8" ry="1.81" fill="#3a6cff" opacity="0.8"/><ellipse cx="648.8" cy="170.74" rx="2.6" ry="1.01" fill="#30c8e8" opacity="0.9"/></g>
<rect x="582.3" y="148.1" width="97.3" height="97.2" fill="none" stroke="#444" stroke-width="0.9"/>
<line x1="627.5" y1="148.1" x2="627.5" y2="245.3" stroke="#555" stroke-width="0.9"/>
<line x1="582.3" y1="199.3" x2="679.6" y2="199.3" stroke="#555" stroke-width="0.9"/>
<text x="584.7" y="154.1" font-size="4.8" fill="#333">Q3-1</text>
<text x="584.7" y="159" font-size="4.8" fill="#333">0.89%</text>
<text x="677.1" y="154.1" font-size="4.8" text-anchor="end" fill="#333">Q3-2</text>
<text x="677.1" y="159" font-size="4.8" text-anchor="end" fill="#333">3.92%</text>
<rect x="584.3" y="232.7" width="16.5" height="11.2" fill="#fff" opacity="0.8"/>
<text x="585.3" y="237.1" font-size="4.8" fill="#333">Q3-3</text>
<text x="585.3" y="242.3" font-size="4.8" fill="#333">91.16%</text>
<text x="677.1" y="237.1" font-size="4.8" text-anchor="end" fill="#333">Q3-4</text>
<text x="677.1" y="242.3" font-size="4.8" text-anchor="end" fill="#333">4.31%</text>
<line x1="582.3" y1="245.3" x2="582.3" y2="246.8" stroke="#444" stroke-width="0.6"/>
<text x="582.3" y="253.3" font-size="4.9" text-anchor="middle" fill="#333">10<tspan dx="0.6" dy="-2.2" font-size="3.8">2</tspan></text>
<line x1="599.81" y1="245.3" x2="599.81" y2="246.8" stroke="#444" stroke-width="0.6"/>
<text x="599.81" y="253.3" font-size="4.9" text-anchor="middle" fill="#333">10<tspan dx="0.6" dy="-2.2" font-size="3.8">3</tspan></text>
<line x1="617.62" y1="245.3" x2="617.62" y2="246.8" stroke="#444" stroke-width="0.6"/>
<text x="617.62" y="253.3" font-size="4.9" text-anchor="middle" fill="#333">10<tspan dx="0.6" dy="-2.2" font-size="3.8">4</tspan></text>
<line x1="636.2" y1="245.3" x2="636.2" y2="246.8" stroke="#444" stroke-width="0.6"/>
<text x="636.2" y="253.3" font-size="4.9" text-anchor="middle" fill="#333">10<tspan dx="0.6" dy="-2.2" font-size="3.8">5</tspan></text>
<line x1="653.82" y1="245.3" x2="653.82" y2="246.8" stroke="#444" stroke-width="0.6"/>
<text x="653.82" y="253.3" font-size="4.9" text-anchor="middle" fill="#333">10<tspan dx="0.6" dy="-2.2" font-size="3.8">6</tspan></text>
<line x1="679.6" y1="245.3" x2="679.6" y2="246.8" stroke="#444" stroke-width="0.6"/>
<text x="679.6" y="253.3" font-size="4.9" text-anchor="middle" fill="#333">10<tspan dx="0.6" dy="-2.2" font-size="3.8">7.4</tspan></text>
<text x="631.2" y="260.6" font-size="4.6" text-anchor="middle" fill="#333">APC-H</text>
<line x1="580.8" y1="237.65" x2="582.3" y2="237.65" stroke="#444" stroke-width="0.6"/>
<text x="578.4" y="238.25" font-size="4.8" text-anchor="middle" fill="#333" transform="rotate(-90 578.4 238.25)">10<tspan dx="0.5" dy="-2.1" font-size="3.6">-0.1</tspan></text>
<line x1="580.8" y1="210.99" x2="582.3" y2="210.99" stroke="#444" stroke-width="0.6"/>
<text x="578.4" y="211.59" font-size="4.8" text-anchor="middle" fill="#333" transform="rotate(-90 578.4 211.59)">10<tspan dx="0.5" dy="-2.1" font-size="3.6">2</tspan></text>
<line x1="580.8" y1="195.9" x2="582.3" y2="195.9" stroke="#444" stroke-width="0.6"/>
<text x="578.4" y="196.5" font-size="4.8" text-anchor="middle" fill="#333" transform="rotate(-90 578.4 196.5)">10<tspan dx="0.5" dy="-2.1" font-size="3.6">3</tspan></text>
<line x1="580.8" y1="185.23" x2="582.3" y2="185.23" stroke="#444" stroke-width="0.6"/>
<text x="578.4" y="185.83" font-size="4.8" text-anchor="middle" fill="#333" transform="rotate(-90 578.4 185.83)">10<tspan dx="0.5" dy="-2.1" font-size="3.6">4</tspan></text>
<line x1="580.8" y1="173.36" x2="582.3" y2="173.36" stroke="#444" stroke-width="0.6"/>
<text x="578.4" y="173.96" font-size="4.8" text-anchor="middle" fill="#333" transform="rotate(-90 578.4 173.96)">10<tspan dx="0.5" dy="-2.1" font-size="3.6">5</tspan></text>
<line x1="580.8" y1="150.21" x2="582.3" y2="150.21" stroke="#444" stroke-width="0.6"/>
<text x="578.4" y="150.81" font-size="4.8" text-anchor="middle" fill="#333" transform="rotate(-90 578.4 150.81)">10<tspan dx="0.5" dy="-2.1" font-size="3.6">5.9</tspan></text>
<text x="571.3" y="195.1" font-size="4.4" text-anchor="middle" fill="#333" transform="rotate(-90 571.3 195.1)">PerCP-H</text>
<text x="629.2" y="145.8" font-size="8.1" font-weight="bold" text-anchor="middle" fill="#111" stroke="#111" stroke-width="0.35">Mel-50 µM</text>
<line x1="213.5" y1="287.5" x2="213.5" y2="381.4" stroke="#222" stroke-width="1"/>
<line x1="213" y1="380.9" x2="345.2" y2="380.9" stroke="#222" stroke-width="1"/>
<line x1="209.5" y1="380.9" x2="213.5" y2="380.9" stroke="#222" stroke-width="1"/>
<text x="207.9" y="383.4" font-size="6.9" font-weight="bold" text-anchor="end" fill="#111" stroke="#111" stroke-width="0.15">0</text>
<line x1="209.5" y1="342.35" x2="213.5" y2="342.35" stroke="#222" stroke-width="1"/>
<text x="207.9" y="344.85" font-size="6.9" font-weight="bold" text-anchor="end" fill="#111" stroke="#111" stroke-width="0.15">50</text>
<line x1="209.5" y1="303.8" x2="213.5" y2="303.8" stroke="#222" stroke-width="1"/>
<text x="207.9" y="306.3" font-size="6.9" font-weight="bold" text-anchor="end" fill="#111" stroke="#111" stroke-width="0.15">100</text>
<line x1="211.5" y1="361.62" x2="213.5" y2="361.62" stroke="#222" stroke-width="0.8"/>
<line x1="211.5" y1="323.07" x2="213.5" y2="323.07" stroke="#222" stroke-width="0.8"/>
<rect x="223.6" y="303.8" width="20.4" height="77.1" fill="#c4f7b6"/>
<rect x="223.6" y="331.71" width="20.4" height="32.23" fill="#e0ea78"/>
<rect x="223.6" y="363.94" width="20.4" height="16.96" fill="#9ab8ea"/>
<line x1="233.8" y1="380.9" x2="233.8" y2="383.9" stroke="#222" stroke-width="0.9"/>
<rect x="254.2" y="303.8" width="20" height="77.1" fill="#c4f7b6"/>
<rect x="254.2" y="328.63" width="20" height="38.55" fill="#e0ea78"/>
<rect x="254.2" y="367.18" width="20" height="13.72" fill="#9ab8ea"/>
<line x1="264.2" y1="380.9" x2="264.2" y2="383.9" stroke="#222" stroke-width="0.9"/>
<rect x="284.8" y="303.8" width="20.1" height="77.1" fill="#c4f7b6"/>
<rect x="284.8" y="329.78" width="20.1" height="37.62" fill="#e0ea78"/>
<rect x="284.8" y="367.41" width="20.1" height="13.49" fill="#9ab8ea"/>
<line x1="294.85" y1="380.9" x2="294.85" y2="383.9" stroke="#222" stroke-width="0.9"/>
<rect x="315.5" y="303.8" width="19.7" height="77.1" fill="#c4f7b6"/>
<rect x="315.5" y="326.54" width="19.7" height="38.55" fill="#e0ea78"/>
<rect x="315.5" y="365.09" width="19.7" height="15.81" fill="#9ab8ea"/>
<line x1="325.35" y1="380.9" x2="325.35" y2="383.9" stroke="#222" stroke-width="0.9"/>
<rect x="239.3" y="288.2" width="11.2" height="6.4" fill="#c4f7b6"/>
<text x="255.3" y="294.2" font-size="7.6" fill="#222">G1</text>
<rect x="272.4" y="288.2" width="11.2" height="6.4" fill="#e0ea78"/>
<text x="288" y="294.2" font-size="7.6" fill="#222">S</text>
<rect x="301" y="288.2" width="11.2" height="6.4" fill="#9ab8ea"/>
<text x="317.2" y="294.2" font-size="7.6" fill="#222">G2</text>
<text x="193.2" y="394.1" font-size="7.7" font-weight="bold" fill="#111" stroke="#111" stroke-width="0.17">Mel (µM)</text>
<text x="233.8" y="394.1" font-size="7.7" font-weight="bold" text-anchor="middle" fill="#111" stroke="#111" stroke-width="0.17">0</text>
<text x="264.2" y="394.1" font-size="7.7" font-weight="bold" text-anchor="middle" fill="#111" stroke="#111" stroke-width="0.17">1</text>
<text x="294.9" y="394.1" font-size="7.7" font-weight="bold" text-anchor="middle" fill="#111" stroke="#111" stroke-width="0.17">10</text>
<text x="325.4" y="394.1" font-size="7.7" font-weight="bold" text-anchor="middle" fill="#111" stroke="#111" stroke-width="0.17">50</text>
<text x="194.3" y="332.8" font-size="7.63" font-weight="bold" text-anchor="middle" fill="#111" transform="rotate(-90 194.3 332.8)" stroke="#111" stroke-width="0.17">Relative cell cycle phase (%)</text>
<line x1="386.6" y1="278.9" x2="386.6" y2="382.1" stroke="#222" stroke-width="1"/>
<line x1="386.1" y1="381.6" x2="508.8" y2="381.6" stroke="#222" stroke-width="1"/>
<line x1="382.6" y1="381.6" x2="386.6" y2="381.6" stroke="#222" stroke-width="1"/>
<text x="380.3" y="384.4" font-size="8" font-weight="bold" text-anchor="end" fill="#111" stroke="#111" stroke-width="0.18">0</text>
<line x1="382.6" y1="356.05" x2="386.6" y2="356.05" stroke="#222" stroke-width="1"/>
<text x="380.3" y="358.85" font-size="8" font-weight="bold" text-anchor="end" fill="#111" stroke="#111" stroke-width="0.18">20</text>
<line x1="382.6" y1="330.5" x2="386.6" y2="330.5" stroke="#222" stroke-width="1"/>
<text x="380.3" y="333.3" font-size="8" font-weight="bold" text-anchor="end" fill="#111" stroke="#111" stroke-width="0.18">40</text>
<line x1="382.6" y1="304.95" x2="386.6" y2="304.95" stroke="#222" stroke-width="1"/>
<text x="380.3" y="307.75" font-size="8" font-weight="bold" text-anchor="end" fill="#111" stroke="#111" stroke-width="0.18">60</text>
<line x1="382.6" y1="279.4" x2="386.6" y2="279.4" stroke="#222" stroke-width="1"/>
<text x="380.3" y="282.2" font-size="8" font-weight="bold" text-anchor="end" fill="#111" stroke="#111" stroke-width="0.18">80</text>
<line x1="384.6" y1="368.83" x2="386.6" y2="368.83" stroke="#222" stroke-width="0.8"/>
<line x1="384.6" y1="343.27" x2="386.6" y2="343.27" stroke="#222" stroke-width="0.8"/>
<line x1="384.6" y1="317.73" x2="386.6" y2="317.73" stroke="#222" stroke-width="0.8"/>
<line x1="384.6" y1="292.17" x2="386.6" y2="292.17" stroke="#222" stroke-width="0.8"/>
<rect x="396.1" y="329.9" width="18.4" height="51.7" fill="#4f4f4f"/>
<rect x="424.2" y="319.4" width="18.7" height="62.2" fill="#8b8b8b"/>
<rect x="452.1" y="320" width="18.9" height="61.6" fill="#898989"/>
<rect x="480.8" y="318.4" width="18.3" height="63.2" fill="#a3a3a3"/>
<line x1="400.3" y1="324.2" x2="410.3" y2="324.2" stroke="#444" stroke-width="0.8"/>
<line x1="428.7" y1="315.4" x2="438.3" y2="315.4" stroke="#555" stroke-width="0.8"/>
<line x1="457.5" y1="318" x2="465.5" y2="318" stroke="#aaa" stroke-width="0.8"/>
<line x1="485.1" y1="311.3" x2="494.7" y2="311.3" stroke="#bbb" stroke-width="0.8"/>
<line x1="405.3" y1="324.2" x2="405.3" y2="329.9" stroke="#777" stroke-width="0.8"/>
<line x1="433.5" y1="315.4" x2="433.5" y2="319.4" stroke="#777" stroke-width="0.8"/>
<circle cx="405.3" cy="323.3" r="1.85" fill="#000"/>
<circle cx="401" cy="333.2" r="1.85" fill="#000"/>
<circle cx="409" cy="332.3" r="1.85" fill="#000"/>
<circle cx="433.5" cy="314.9" r="1.85" fill="#000"/>
<circle cx="429.3" cy="322.6" r="1.85" fill="#000"/>
<circle cx="437.5" cy="320.9" r="1.85" fill="#000"/>
<circle cx="457.6" cy="317.2" r="1.85" fill="#000"/>
<circle cx="457.6" cy="322.2" r="1.85" fill="#000"/>
<circle cx="465.9" cy="319.8" r="1.85" fill="#000"/>
<circle cx="489.9" cy="311.3" r="1.85" fill="#000"/>
<circle cx="489.9" cy="318.4" r="1.85" fill="#000"/>
<circle cx="489.9" cy="324.8" r="1.85" fill="#000"/>
<line x1="404.6" y1="305.3" x2="433" y2="305.3" stroke="#333" stroke-width="1.25"/>
<line x1="404.6" y1="302.9" x2="404.6" y2="307.7" stroke="#333" stroke-width="1.25"/>
<line x1="433" y1="302.9" x2="433" y2="307.7" stroke="#333" stroke-width="1.25"/>
<text x="419.9" y="303.4" font-size="8.2" text-anchor="middle" fill="#222" stroke="#222" stroke-width="0.15">ns</text>
<line x1="404.6" y1="294.7" x2="461.5" y2="294.7" stroke="#333" stroke-width="1.25"/>
<line x1="404.6" y1="292.3" x2="404.6" y2="297.1" stroke="#333" stroke-width="1.25"/>
<line x1="461.5" y1="292.3" x2="461.5" y2="297.1" stroke="#333" stroke-width="1.25"/>
<text x="432.5" y="295.7" font-size="10.8" font-weight="bold" text-anchor="middle" fill="#222" stroke="#222" stroke-width="0.24">*</text>
<line x1="404.6" y1="285.1" x2="488.5" y2="285.1" stroke="#333" stroke-width="1.25"/>
<line x1="404.6" y1="282.7" x2="404.6" y2="287.5" stroke="#333" stroke-width="1.25"/>
<line x1="488.5" y1="282.7" x2="488.5" y2="287.5" stroke="#333" stroke-width="1.25"/>
<text x="445.9" y="283.4" font-size="8.2" text-anchor="middle" fill="#222" stroke="#222" stroke-width="0.15">ns</text>
<text x="362.9" y="395" font-size="8.2" font-weight="bold" fill="#111" stroke="#111" stroke-width="0.18">Mel (µM)</text>
<text x="407.4" y="395" font-size="8.4" font-weight="bold" text-anchor="middle" fill="#111" stroke="#111" stroke-width="0.18">0</text>
<text x="438.7" y="395" font-size="8.4" font-weight="bold" text-anchor="middle" fill="#111" stroke="#111" stroke-width="0.18">1</text>
<text x="470.3" y="395" font-size="8.4" font-weight="bold" text-anchor="middle" fill="#111" stroke="#111" stroke-width="0.18">10</text>
<text x="502" y="395" font-size="8.4" font-weight="bold" text-anchor="middle" fill="#111" stroke="#111" stroke-width="0.18">50</text>
<text x="367.3" y="327" font-size="8.35" font-weight="bold" text-anchor="middle" fill="#111" transform="rotate(-90 367.3 327)" stroke="#111" stroke-width="0.18">S-phase cell fraction(%)</text>
<line x1="556.8" y1="282.4" x2="556.8" y2="381.1" stroke="#222" stroke-width="1"/>
<line x1="556.3" y1="380.6" x2="681.8" y2="380.6" stroke="#222" stroke-width="1"/>
<line x1="552.8" y1="380.6" x2="556.8" y2="380.6" stroke="#222" stroke-width="1"/>
<text x="551.2" y="383.4" font-size="8" font-weight="bold" text-anchor="end" fill="#111" stroke="#111" stroke-width="0.18">0</text>
<line x1="552.8" y1="348.03" x2="556.8" y2="348.03" stroke="#222" stroke-width="1"/>
<text x="551.2" y="350.83" font-size="8" font-weight="bold" text-anchor="end" fill="#111" stroke="#111" stroke-width="0.18">5</text>
<line x1="552.8" y1="315.47" x2="556.8" y2="315.47" stroke="#222" stroke-width="1"/>
<text x="551.2" y="318.27" font-size="8" font-weight="bold" text-anchor="end" fill="#111" stroke="#111" stroke-width="0.18">10</text>
<line x1="552.8" y1="282.9" x2="556.8" y2="282.9" stroke="#222" stroke-width="1"/>
<text x="551.2" y="285.7" font-size="8" font-weight="bold" text-anchor="end" fill="#111" stroke="#111" stroke-width="0.18">15</text>
<rect x="566.8" y="315" width="19.2" height="65.6" fill="#d4d4d4"/>
<line x1="576.4" y1="380.6" x2="576.4" y2="383.6" stroke="#222" stroke-width="0.9"/>
<rect x="595.5" y="316.8" width="19.2" height="63.8" fill="#abc6f0"/>
<line x1="605.1" y1="380.6" x2="605.1" y2="383.6" stroke="#222" stroke-width="0.9"/>
<rect x="624" y="327" width="19.3" height="53.6" fill="#96c2ec"/>
<line x1="633.65" y1="380.6" x2="633.65" y2="383.6" stroke="#222" stroke-width="0.9"/>
<rect x="653" y="327" width="19.1" height="53.6" fill="#a1a1a5"/>
<line x1="662.55" y1="380.6" x2="662.55" y2="383.6" stroke="#222" stroke-width="0.9"/>
<line x1="629" y1="315.5" x2="638.6" y2="315.5" stroke="#b8dcf4" stroke-width="0.8"/>
<line x1="633.8" y1="315.5" x2="633.8" y2="327" stroke="#b8dcf4" stroke-width="0.8"/>
<line x1="600.5" y1="316" x2="609.5" y2="316" stroke="#c8dcf8" stroke-width="0.8"/>
<rect x="660" y="324.6" width="5.5" height="3.4" fill="#fff" stroke="#222" stroke-width="0.6"/>
<circle cx="572.3" cy="313.1" r="1.85" fill="#000"/>
<circle cx="580.1" cy="313.6" r="1.85" fill="#000"/>
<circle cx="576.1" cy="318.7" r="1.85" fill="#000"/>
<circle cx="597.2" cy="318.8" r="1.85" fill="#000"/>
<circle cx="605" cy="316" r="1.85" fill="#000"/>
<circle cx="612.5" cy="316.5" r="1.85" fill="#000"/>
<circle cx="633.8" cy="316.3" r="1.85" fill="#000"/>
<circle cx="633.8" cy="324.2" r="1.85" fill="#000"/>
<circle cx="633.8" cy="338.9" r="1.85" fill="#000"/>
<circle cx="658.6" cy="324.2" r="1.85" fill="#000"/>
<circle cx="658.6" cy="328.8" r="1.85" fill="#000"/>
<circle cx="666.5" cy="326.6" r="1.85" fill="#000"/>
<line x1="576.2" y1="308.3" x2="605.2" y2="308.3" stroke="#333" stroke-width="1.25"/>
<line x1="576.2" y1="305.9" x2="576.2" y2="310.7" stroke="#333" stroke-width="1.25"/>
<line x1="605.2" y1="305.9" x2="605.2" y2="310.7" stroke="#333" stroke-width="1.25"/>
<text x="591.4" y="306.8" font-size="8.5" text-anchor="middle" fill="#222" stroke="#222" stroke-width="0.15">ns</text>
<line x1="576.2" y1="299.3" x2="632.2" y2="299.3" stroke="#333" stroke-width="1.25"/>
<line x1="576.2" y1="296.9" x2="576.2" y2="301.7" stroke="#333" stroke-width="1.25"/>
<line x1="632.2" y1="296.9" x2="632.2" y2="301.7" stroke="#333" stroke-width="1.25"/>
<text x="604.4" y="298.2" font-size="8.5" text-anchor="middle" fill="#222" stroke="#222" stroke-width="0.15">ns</text>
<line x1="576.2" y1="288.8" x2="662" y2="288.8" stroke="#333" stroke-width="1.25"/>
<line x1="576.2" y1="286.4" x2="576.2" y2="291.2" stroke="#333" stroke-width="1.25"/>
<line x1="662" y1="286.4" x2="662" y2="291.2" stroke="#333" stroke-width="1.25"/>
<text x="618.5" y="290.5" font-size="10.8" font-weight="bold" text-anchor="middle" fill="#222" stroke="#222" stroke-width="0.24">**</text>
<text x="530.1" y="394.8" font-size="8" font-weight="bold" fill="#111" stroke="#111" stroke-width="0.18">Mel (µM)</text>
<text x="576.4" y="394.6" font-size="8.4" font-weight="bold" text-anchor="middle" fill="#111" stroke="#111" stroke-width="0.18">0</text>
<text x="606.2" y="394.6" font-size="8.4" font-weight="bold" text-anchor="middle" fill="#111" stroke="#111" stroke-width="0.18">1</text>
<text x="634.3" y="394.6" font-size="8.4" font-weight="bold" text-anchor="middle" fill="#111" stroke="#111" stroke-width="0.18">10</text>
<text x="664.2" y="394.6" font-size="8.4" font-weight="bold" text-anchor="middle" fill="#111" stroke="#111" stroke-width="0.18">50</text>
<text x="536.5" y="330.65" font-size="8.01" font-weight="bold" text-anchor="middle" fill="#111" transform="rotate(-90 536.5 330.65)" stroke="#111" stroke-width="0.18">Apoptosis cell/total cell (%)</text>
</svg>
</body></html>
